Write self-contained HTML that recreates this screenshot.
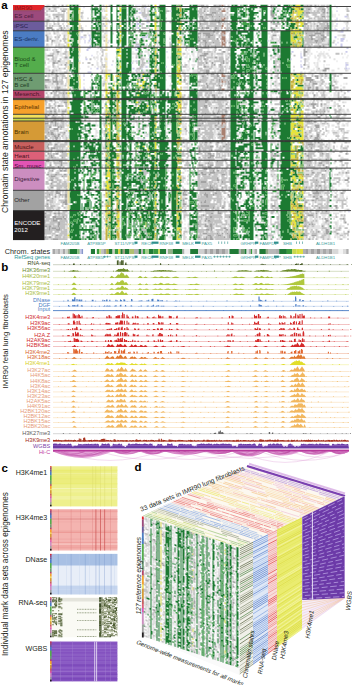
<!DOCTYPE html><html><head><meta charset="utf-8"><style>html,body{margin:0;padding:0;background:#fff;width:352px;height:685px;overflow:hidden}svg{display:block}text{font-family:"Liberation Sans", sans-serif}</style></head><body><svg xmlns="http://www.w3.org/2000/svg" width="352" height="685" viewBox="0 0 352 685"><rect width="352" height="685" fill="#fff"/><defs><filter id="bl" x="-2%" y="-2%" width="104%" height="104%"><feGaussianBlur stdDeviation="0.4"/></filter><g id="hm"><g fill="none"><path stroke="#e4e4e4" stroke-width="1.76" d="M45.5 5.7h2m1 0h2m5 0h1m3 0h1m3 0h1m14 0h2m10 0h1m7 0h1m2 0h1m24 0h2m30 0h1m70 0h1m7 0h2m18 0h1m58 0h1m17 0h1"/><path stroke="#e4e4e4" stroke-width="1.9" d="M44.5 7.4h2m1 0h1m1 0h3m8 0h1m1 0h1m15 0h2m10 0h1m1 0h1m5 0h1m4 0h1m14 0h1m13 0h5m88 0h2m20 0h2m8 0h2m17 0h1m7 0h2m30 0h2m10 0h1m2 0h1M44.5 9.3h4m3 0h1m46 0h1m7 0h1m20 0h1m9 0h1m8 0h2m8 0h2m7 0h2m39 0h2m51 0h2m15 0h4m31 0h1m3 0h2m28 0h1M47.5 11.1h3m6 0h1m12 0h1m1 0h1m10 0h1m9 0h1m3 0h1m6 0h1m23 0h1m12 0h1m5 0h1m4 0h2m52 0h2m12 0h1m5 0h5m8 0h1m4 0h1m3 0h1m9 0h2m1 0h1m18 0h1m8 0h2m19 0h1m1 0h1m3 0h1m3 0h1m6 0h1m1 0h1m2 0h1M45.5 12.9h2m10 0h1m2 0h1m8 0h2m21 0h2m4 0h1m18 0h2m29 0h1m38 0h2m36 0h1m11 0h1m9 0h2m26 0h2m2 0h1m51 0h1M44.5 14.8h2m1 0h3m16 0h1m23 0h1m1 0h1m5 0h1m2 0h1m24 0h2m5 0h2m23 0h1m24 0h1m42 0h3m8 0h1m9 0h1m6 0h1m29 0h1m26 0h1m4 0h1m9 0h1m4 0h2m1 0h1m3 0h1M47.5 16.6h1m11 0h2m5 0h1m5 0h1m9 0h1m9 0h1m8 0h1m3 0h1m12 0h1m14 0h1m50 0h1m13 0h1m4 0h1m3 0h1m17 0h1m3 0h1m17 0h2m21 0h1m5 0h1m2 0h1m29 0h1m9 0h1m11 0h2m1 0h1M44.5 18.4h7m5 0h1m9 0h1m15 0h1m7 0h1m36 0h1m6 0h1m2 0h1m5 0h1m2 0h3m61 0h1m3 0h1m43 0h1m11 0h2m11 0h3m30 0h1m29 0h3M44.5 20.3h1m4 0h1m1 0h3m16 0h1m22 0h2m6 0h2m3 0h1m34 0h1m40 0h1m22 0h1m19 0h1m28 0h1m2 0h1m15 0h5m28 0h1m2 0h5m1 0h2m14 0h1m2 0h2m3 0h1m8 0h1M60.5 100.5h1m25 0h1m15 0h1m24 0h1m4 0h1m18 0h1m33 0h2m23 0h3m2 0h2m9 0h2m12 0h1m32 0h4m2 0h1m30 0h1m6 0h2m6 0h6M44.5 102.4h1m6 0h1m4 0h1m3 0h1m41 0h1m17 0h1m6 0h3m22 0h1m28 0h2m1 0h2m24 0h1m12 0h3m3 0h1m12 0h1m61 0h2m1 0h4m2 0h2m6 0h1m5 0h1m5 0h1m9 0h3M44.5 104.2h1m10 0h1m2 0h4m2 0h1m26 0h1m28 0h1m6 0h1m30 0h1m22 0h1m23 0h2m8 0h2m5 0h2m5 0h1m10 0h8m5 0h2m1 0h1m13 0h2m32 0h2m20 0h1m1 0h1m4 0h4M44.5 106h3m4 0h2m40 0h1m26 0h1m12 0h2m31 0h1m18 0h1m24 0h8m9 0h3m10 0h1m13 0h1m2 0h2m46 0h1m2 0h4m11 0h6m1 0h1m1 0h2M95.5 107.9h2m17 0h2m91 0h1m14 0h3m4 0h1m26 0h1m1 0h2m13 0h2m1 0h1m31 0h1m12 0h2m10 0h1m3 0h2M50.5 109.7h2m8 0h5m3 0h1m17 0h3m15 0h1m14 0h1m31 0h2m5 0h1m25 0h2m2 0h1m21 0h2m4 0h2m9 0h3m24 0h1m1 0h1m2 0h2m43 0h1m4 0h2m4 0h1m5 0h1m6 0h1m4 0h1m7 0h3m2 0h1M44.5 111.5h1m15 0h1m7 0h1m46 0h1m35 0h2m35 0h1m21 0h1m5 0h1m6 0h1m3 0h1m26 0h1m1 0h1m14 0h1m1 0h1m33 0h1m4 0h1m1 0h1m11 0h1m13 0h5m1 0h3M66.5 113.4h1m22 0h2m2 0h1m1 0h1m1 0h1m4 0h2m15 0h1m31 0h2m45 0h2m15 0h1m7 0h2m90 0h3m3 0h1m17 0h1m3 0h3M54.5 211.5h2m1 0h1m25 0h2m18 0h1m9 0h3m3 0h2m66 0h1m13 0h1m1 0h2m9 0h3m10 0h2m10 0h1m17 0h1m1 0h1m7 0h3m7 0h3m43 0h1m3 0h1m12 0h2M46.5 213.4h3m2 0h2m12 0h4m11 0h1m11 0h5m6 0h2m10 0h1m3 0h1m36 0h2m7 0h1m4 0h1m13 0h1m1 0h1m16 0h1m9 0h4m40 0h3m14 0h3m1 0h1m30 0h1m7 0h2m10 0h2M56.5 215.2h2m2 0h1m23 0h2m9 0h1m7 0h2m8 0h1m1 0h1m3 0h1m6 0h1m4 0h3m22 0h1m9 0h1m2 0h2m26 0h1m43 0h1m17 0h1m57 0h1m3 0h5M87.5 217h1m3 0h1m2 0h5m14 0h1m1 0h1m3 0h2m48 0h1m16 0h1m3 0h1m11 0h2m36 0h1m3 0h1m3 0h1m4 0h4m5 0h1m46 0h3m5 0h2m3 0h3m2 0h1m1 0h1m1 0h1m1 0h2m2 0h1m2 0h1m1 0h1m1 0h1M44.5 218.9h1m22 0h2m14 0h3m15 0h1m11 0h1m5 0h1m50 0h1m13 0h1m2 0h2m4 0h3m6 0h2m10 0h2m1 0h1m2 0h1m2 0h2m1 0h2m1 0h1m24 0h1m4 0h2m5 0h1m42 0h3m3 0h3m5 0h1m5 0h1M83.5 220.7h1m4 0h3m10 0h1m11 0h3m3 0h1m6 0h2m3 0h1m34 0h2m16 0h1m12 0h2m2 0h3m2 0h1m20 0h3m25 0h3m4 0h1m4 0h1m10 0h2m29 0h3m5 0h1m4 0h1m14 0h1m2 0h1M45.5 222.5h4m34 0h1m5 0h1m4 0h1m1 0h1m4 0h2m16 0h1m6 0h2m6 0h1m31 0h1m1 0h2m18 0h1m13 0h5m6 0h1m13 0h3m6 0h1m22 0h2m1 0h3m2 0h1m35 0h1m5 0h1m2 0h6m4 0h2m3 0h1m1 0h1m1 0h1m1 0h2m1 0h2M54.5 224.4h3m36 0h2m3 0h1m2 0h1m1 0h1m15 0h1m6 0h1m4 0h1m2 0h1m35 0h1m13 0h1m2 0h1m18 0h2m6 0h1m3 0h3m6 0h1m89 0h1m4 0h1m1 0h3m9 0h2m2 0h1M51.5 226.2h1m49 0h1m1 0h1m11 0h1m10 0h1m29 0h1m13 0h1m16 0h4m1 0h1m8 0h3m9 0h2m6 0h3m3 0h2m26 0h5m7 0h2m5 0h2m3 0h1m29 0h2m3 0h6m7 0h1m5 0h1m1 0h3m2 0h4M44.5 228.1h2m37 0h1m10 0h3m4 0h2m12 0h1m3 0h1m36 0h3m23 0h1m2 0h1m16 0h1m23 0h2m29 0h1m9 0h2m39 0h13m5 0h2m1 0h1m4 0h4M92.5 229.9h2m2 0h2m5 0h1m8 0h3m4 0h1m6 0h1m4 0h1m20 0h1m13 0h1m17 0h2m1 0h1m25 0h2m21 0h1m2 0h1m14 0h1m1 0h1m17 0h3m31 0h3m3 0h1m2 0h1m4 0h3m4 0h1m3 0h1m6 0h1m7 0h1M68.5 231.7h1m25 0h1m6 0h2m10 0h1m5 0h1m67 0h2m1 0h4m14 0h2m3 0h2m4 0h2m6 0h1m1 0h1m8 0h1m17 0h2m9 0h1m6 0h2m2 0h1m43 0h1m1 0h1m4 0h1m2 0h1m3 0h1M51.5 233.6h1m6 0h1m8 0h1m29 0h2m2 0h3m9 0h3m10 0h2m5 0h1m32 0h1m3 0h1m13 0h1m1 0h1m3 0h1m4 0h1m1 0h2m2 0h1m18 0h1m23 0h2m13 0h2m8 0h1m3 0h2m3 0h1m30 0h2m6 0h6m10 0h1m6 0h3M62.5 235.4h1m19 0h2m1 0h1m10 0h2m3 0h3m15 0h1m38 0h1m10 0h2m13 0h1m17 0h4m19 0h1m31 0h3m17 0h1m1 0h1m27 0h1m2 0h1m6 0h1m8 0h2m1 0h1m4 0h4M51.5 237.2h2m12 0h1m14 0h1m2 0h3m10 0h2m3 0h4m14 0h1m6 0h1m41 0h3m13 0h1m16 0h1m11 0h1m24 0h1m15 0h4m4 0h1m4 0h2m5 0h1m3 0h2m31 0h1m5 0h1m6 0h4m1 0h1m6 0h4m2 0h1m1 0h2M48.5 239.1h2m31 0h1m1 0h1m2 0h1m9 0h1m4 0h1m1 0h2m8 0h1m1 0h1m4 0h1m7 0h2m3 0h1m19 0h1m30 0h2m1 0h1m2 0h1m1 0h1m20 0h2m29 0h2m11 0h3m2 0h1m4 0h1m10 0h2m23 0h2m5 0h2m5 0h1m6 0h3m2 0h2m6 0h1"/><path stroke="#e4e4e4" stroke-width="1.98" d="M44.5 22.2h2m1 0h2m9 0h1m4 0h1m28 0h1m13 0h1m1 0h1m48 0h2m41 0h3m22 0h1m21 0h2m4 0h2m19 0h3m35 0h1m1 0h1m1 0h1m3 0h1m10 0h2m1 0h1m8 0h3M44.5 24.1h1m3 0h3m4 0h2m21 0h1m12 0h2m8 0h1m17 0h1m11 0h3m91 0h1m31 0h1m12 0h2m12 0h1m22 0h1m1 0h1m1 0h2m2 0h3m13 0h2m12 0h3M44.5 26h1m2 0h1m5 0h5m9 0h2m2 0h1m13 0h1m6 0h1m8 0h1m3 0h2m50 0h1m44 0h1m2 0h1m19 0h1m10 0h1m5 0h1m10 0h1m16 0h1m8 0h1m2 0h4m2 0h1m17 0h1m4 0h2m1 0h2m3 0h1m11 0h2m1 0h3M58.5 27.9h1m7 0h3m13 0h1m7 0h1m7 0h1m2 0h2m17 0h1m6 0h1m3 0h1m1 0h4m9 0h3m7 0h3m41 0h1m10 0h3m5 0h1m5 0h1m21 0h2m23 0h7m30 0h1m1 0h1m2 0h1m16 0h1m2 0h1m10 0h4M44.5 29.8h2m3 0h1m16 0h1m12 0h1m12 0h3m3 0h1m2 0h1m2 0h1m1 0h1m26 0h1m22 0h3m46 0h3m21 0h1m27 0h1m21 0h1m4 0h1m26 0h2m15 0h1m2 0h2m10 0h1m1 0h1M47.5 142.6h1m7 0h1m2 0h2m7 0h2m19 0h1m15 0h1m7 0h1m6 0h1m11 0h2m36 0h2m13 0h2m3 0h1m10 0h1m2 0h1m3 0h2m4 0h1m22 0h1m2 0h1m2 0h2m2 0h3m8 0h2m1 0h1m10 0h4m2 0h2m24 0h2m8 0h1m6 0h1m8 0h1m2 0h1M53.5 144.5h1m13 0h2m20 0h2m2 0h1m7 0h2m16 0h2m63 0h2m3 0h1m19 0h2m10 0h1m1 0h1m18 0h1m10 0h2m5 0h1m13 0h3m1 0h2m35 0h4m5 0h1m4 0h2M84.5 146.4h1m8 0h1m63 0h1m23 0h2m2 0h1m2 0h4m2 0h1m8 0h1m17 0h1m33 0h1m2 0h3m17 0h2m23 0h1m11 0h2m5 0h1m6 0h2m1 0h1m3 0h1m7 0h3M63.5 148.3h3m1 0h1m15 0h1m3 0h1m27 0h1m3 0h1m45 0h1m4 0h1m14 0h1m3 0h1m25 0h3m6 0h1m21 0h2m5 0h1m24 0h2m23 0h2m3 0h2m14 0h3m2 0h2m1 0h1M53.5 150.2h3m7 0h2m19 0h5m14 0h2m9 0h1m13 0h1m5 0h1m32 0h2m15 0h1m16 0h1m4 0h2m14 0h1m21 0h2m1 0h1m5 0h2m19 0h2m46 0h3m3 0h2m6 0h2m2 0h6"/><path stroke="#e4e4e4" stroke-width="1.88" d="M45.5 31.7h2m1 0h1m6 0h2m6 0h4m1 0h1m1 0h1m8 0h1m10 0h1m5 0h1m8 0h2m11 0h1m16 0h1m6 0h1m3 0h3m32 0h3m41 0h3m44 0h1m2 0h1m2 0h2m23 0h1m11 0h1m8 0h2m11 0h2M45.5 33.5h4m6 0h4m2 0h6m12 0h1m7 0h1m2 0h1m14 0h2m27 0h1m14 0h1m6 0h2m23 0h1m1 0h1m41 0h1m32 0h3m6 0h3m2 0h4m36 0h1m11 0h2M47.5 35.4h2m1 0h1m5 0h1m8 0h2m3 0h1m7 0h2m10 0h1m5 0h1m5 0h3m26 0h1m2 0h1m14 0h1m6 0h1m24 0h3m31 0h3m10 0h1m10 0h1m15 0h1m4 0h1m9 0h2m5 0h3m35 0h2m2 0h1m17 0h5M48.5 37.2h4m4 0h1m9 0h1m12 0h1m5 0h1m15 0h2m3 0h1m28 0h1m13 0h2m5 0h2m11 0h1m11 0h2m20 0h2m34 0h3m1 0h1m9 0h1m4 0h1m10 0h1m2 0h2m1 0h1m33 0h1m32 0h3M48.5 39h1m6 0h2m9 0h1m2 0h4m6 0h2m2 0h1m18 0h1m28 0h1m6 0h1m3 0h2m38 0h2m41 0h1m2 0h1m26 0h1m17 0h5m37 0h2m7 0h4m9 0h1M44.5 40.8h2m2 0h1m6 0h3m7 0h1m13 0h1m51 0h1m2 0h1m21 0h3m24 0h1m16 0h1m24 0h4m14 0h1m13 0h1m11 0h1m1 0h3m1 0h3m1 0h1m32 0h1m12 0h3m6 0h1m11 0h1M53.5 42.6h7m6 0h3m10 0h1m7 0h2m1 0h1m5 0h1m9 0h1m35 0h2m5 0h1m6 0h2m23 0h2m53 0h2m38 0h2m26 0h2m15 0h6m4 0h1M47.5 44.5h2m1 0h1m4 0h2m2 0h5m14 0h1m11 0h1m11 0h1m28 0h3m22 0h2m23 0h3m19 0h1m7 0h3m11 0h1m2 0h2m39 0h1m2 0h5m32 0h1m4 0h3m2 0h2M45.5 46.3h4m1 0h1m5 0h2m1 0h4m2 0h2m3 0h1m24 0h4m43 0h5m2 0h1m1 0h2m4 0h1m25 0h3m12 0h1m26 0h1m12 0h1m21 0h1m18 0h1m31 0h2m11 0h2M67.5 152.1h2m13 0h1m18 0h1m17 0h2m9 0h1m26 0h1m25 0h1m34 0h1m39 0h1m1 0h1m13 0h1m29 0h4m7 0h1m6 0h4m2 0h4M82.5 153.9h1m8 0h1m2 0h1m24 0h1m12 0h1m1 0h1m32 0h1m1 0h1m14 0h1m4 0h1m1 0h1m14 0h1m15 0h1m2 0h2m13 0h1m12 0h6m18 0h3m23 0h1m20 0h1m5 0h1M84.5 155.8h3m25 0h1m6 0h2m11 0h1m24 0h1m12 0h1m18 0h1m3 0h1m6 0h2m1 0h1m25 0h1m9 0h1m1 0h1m15 0h2m44 0h2m6 0h2m2 0h1m8 0h1m4 0h1M44.5 157.6h3m9 0h1m10 0h2m15 0h4m6 0h1m6 0h2m16 0h2m11 0h1m16 0h2m18 0h1m36 0h1m15 0h2m33 0h1m14 0h3m4 0h1m23 0h1m13 0h3m1 0h2m1 0h2m3 0h2m9 0h3M50.5 159.4h1m16 0h1m14 0h1m5 0h1m24 0h1m1 0h1m3 0h2m37 0h1m8 0h1m1 0h1m15 0h3m1 0h1m12 0h1m39 0h2m9 0h1m4 0h3m18 0h1m23 0h4m2 0h1m7 0h1m3 0h4m4 0h1m1 0h1m5 0h1m1 0h1"/><path stroke="#e4e4e4" stroke-width="1.92" d="M47.5 48.1h3m4 0h1m3 0h4m2 0h5m28 0h2m7 0h1m25 0h1m15 0h1m33 0h1m5 0h1m1 0h4m4 0h1m10 0h5m7 0h3m1 0h2m26 0h1m22 0h1m20 0h1m5 0h1m2 0h5m6 0h3m3 0h1m1 0h1M47.5 50h3m3 0h2m2 0h1m2 0h1m84 0h1m42 0h1m2 0h3m13 0h2m3 0h2m11 0h2m26 0h1m14 0h1m7 0h1m29 0h1m1 0h2m18 0h1M44.5 51.9h1m9 0h1m4 0h2m6 0h1m10 0h1m17 0h2m17 0h1m16 0h1m11 0h5m7 0h3m27 0h1m5 0h2m1 0h1m9 0h1m4 0h1m1 0h2m12 0h2m25 0h1m2 0h3m9 0h2m6 0h1m23 0h1m6 0h3m6 0h1m3 0h1m2 0h1M44.5 53.7h2m3 0h1m1 0h1m2 0h3m2 0h3m4 0h2m28 0h1m2 0h1m6 0h1m24 0h5m11 0h2m37 0h3m2 0h3m4 0h3m7 0h3m1 0h4m8 0h3m26 0h1m2 0h1m19 0h1m29 0h3m1 0h2m6 0h6m1 0h3m16 0h1M44.5 55.6h2m8 0h4m1 0h3m4 0h2m10 0h2m17 0h1m7 0h2m28 0h1m7 0h1m14 0h1m23 0h1m3 0h1m2 0h1m2 0h2m12 0h5m2 0h2m2 0h4m1 0h1m3 0h2m8 0h1m5 0h1m10 0h2m13 0h1m7 0h3m26 0h2m2 0h1m4 0h1m3 0h3m1 0h3m2 0h2m18 0h1M44.5 57.5h3m7 0h1m1 0h1m4 0h3m3 0h2m26 0h3m6 0h1m1 0h1m8 0h1m10 0h1m5 0h1m9 0h1m1 0h1m13 0h1m8 0h1m2 0h1m13 0h3m2 0h1m3 0h1m1 0h1m3 0h1m1 0h2m10 0h1m12 0h1m12 0h1m13 0h1m16 0h2m2 0h1m32 0h2m5 0h2m2 0h2m3 0h3m16 0h1m3 0h1M45.5 59.3h2m3 0h1m3 0h1m8 0h6m25 0h1m2 0h1m21 0h2m24 0h1m1 0h1m10 0h1m22 0h1m10 0h4m5 0h1m8 0h5m26 0h2m13 0h2m18 0h1m26 0h1m2 0h3m8 0h2m14 0h2M48.5 61.2h4m8 0h5m1 0h1m3 0h1m7 0h2m16 0h1m4 0h1m2 0h3m25 0h2m9 0h1m3 0h2m38 0h1m4 0h3m3 0h2m7 0h2m1 0h1m15 0h2m14 0h1m10 0h1m14 0h1m9 0h1m26 0h3m9 0h1m1 0h1m16 0h1M47.5 63h2m10 0h6m5 0h1m1 0h1m23 0h2m8 0h1m8 0h1m16 0h1m12 0h3m36 0h1m3 0h1m21 0h1m42 0h2m4 0h1m16 0h4m28 0h1m4 0h2m1 0h2m28 0h2M44.5 64.9h2m11 0h3m3 0h1m2 0h3m27 0h2m5 0h1m2 0h1m37 0h1m43 0h1m2 0h4m10 0h4m1 0h1m1 0h1m9 0h1m2 0h3m13 0h4m11 0h1m16 0h2m3 0h1m26 0h4m5 0h1m1 0h2m5 0h1m2 0h1m1 0h1M47.5 66.8h3m4 0h2m10 0h1m20 0h2m5 0h1m2 0h2m16 0h1m28 0h1m2 0h1m8 0h1m1 0h1m27 0h3m3 0h2m18 0h4m9 0h3m14 0h1m10 0h1m61 0h3m5 0h1M44.5 68.6h1m1 0h3m4 0h4m3 0h3m16 0h1m22 0h1m3 0h1m13 0h1m36 0h2m27 0h1m1 0h2m15 0h1m1 0h1m4 0h8m6 0h2m26 0h1m1 0h1m14 0h1m4 0h4m25 0h4m4 0h1m2 0h2m5 0h1m13 0h2M44.5 70.5h4m3 0h1m2 0h1m2 0h4m6 0h2m38 0h4m33 0h2m1 0h1m19 0h1m14 0h3m1 0h3m3 0h5m19 0h1m6 0h2m31 0h5m18 0h1m30 0h4m2 0h6m6 0h1m2 0h3m12 0h2M44.5 72.4h3m1 0h1m5 0h1m1 0h1m2 0h5m3 0h1m4 0h1m42 0h1m16 0h1m4 0h3m4 0h2m12 0h1m25 0h1m7 0h5m4 0h2m6 0h2m31 0h1m10 0h2m1 0h2m1 0h1m16 0h3m22 0h1m2 0h1m3 0h3m3 0h2m3 0h1m4 0h1"/><path stroke="#e4e4e4" stroke-width="1.95" d="M57.5 74.2h2m9 0h1m1 0h2m7 0h1m23 0h2m22 0h1m23 0h3m12 0h1m15 0h1m26 0h1m4 0h2m10 0h3m9 0h2m7 0h1m5 0h2m20 0h2m30 0h4m2 0h1m4 0h1m8 0h2m8 0h2M47.5 76.1h1m1 0h5m4 0h3m7 0h1m51 0h1m32 0h1m14 0h2m12 0h1m16 0h2m5 0h3m45 0h1m15 0h2m46 0h2m8 0h1M47.5 78h2m9 0h2m8 0h2m21 0h1m11 0h1m4 0h2m41 0h2m17 0h1m16 0h2m10 0h3m7 0h1m1 0h1m5 0h1m21 0h2m19 0h1m12 0h4m26 0h2m14 0h1m6 0h1M50.5 79.9h2m1 0h2m3 0h1m1 0h1m42 0h2m4 0h1m10 0h1m44 0h1m21 0h1m10 0h1m8 0h3m4 0h2m12 0h1m9 0h1m31 0h2m3 0h2m2 0h1m23 0h1m28 0h1m2 0h1M90.5 81.8h1m2 0h1m8 0h2m9 0h3m4 0h1m10 0h2m48 0h2m4 0h2m17 0h3m3 0h3m38 0h3m2 0h1m11 0h1m2 0h1m2 0h1m26 0h5m8 0h1m1 0h1m1 0h1m15 0h2M44.5 83.7h2m1 0h4m2 0h1m24 0h1m4 0h1m36 0h1m28 0h1m20 0h1m28 0h1m7 0h1m18 0h1m12 0h1m13 0h2m5 0h1m9 0h2m1 0h5m25 0h1m2 0h2m10 0h2m4 0h3m9 0h1m6 0h1m1 0h2M47.5 85.6h8m2 0h7m4 0h1m100 0h2m16 0h1m11 0h1m9 0h3m2 0h2m10 0h1m1 0h1m19 0h1m4 0h3m17 0h1m2 0h4m23 0h1m14 0h1m21 0h1M47.5 87.5h1m4 0h2m6 0h3m1 0h1m5 0h1m18 0h1m37 0h1m3 0h1m19 0h1m1 0h1m28 0h2m1 0h1m1 0h1m9 0h1m28 0h1m18 0h1m24 0h1m4 0h2m26 0h1m1 0h1m12 0h5m19 0h1m1 0h1M44.5 89.4h2m1 0h3m20 0h3m14 0h1m32 0h1m9 0h1m20 0h1m1 0h1m33 0h1m28 0h1m22 0h1m13 0h1m5 0h2m9 0h1m4 0h1m27 0h1m1 0h2m11 0h2"/><path stroke="#e4e4e4" stroke-width="2.09" d="M44.5 91.3h5m11 0h2m3 0h2m35 0h2m8 0h2m12 0h2m23 0h3m2 0h3m25 0h1m12 0h1m18 0h2m4 0h3m15 0h1m1 0h1m11 0h4m46 0h1m1 0h2m2 0h4m14 0h1m7 0h2m5 0h1M49.5 93.3h1m39 0h2m2 0h1m33 0h1m6 0h1m16 0h2m3 0h3m45 0h1m3 0h1m7 0h1m5 0h1m1 0h1m15 0h1m15 0h1m13 0h4m3 0h1m26 0h2m2 0h3m10 0h1m2 0h1m1 0h1m1 0h1m4 0h3m7 0h1M44.5 95.4h1m4 0h1m9 0h3m18 0h1m7 0h2m3 0h1m7 0h1m18 0h1m12 0h2m35 0h1m44 0h1m2 0h3m1 0h1m13 0h1m16 0h4m58 0h1m1 0h1m7 0h2m3 0h1m2 0h4m4 0h3M44.5 97.4h1m4 0h2m4 0h2m3 0h2m3 0h1m1 0h1m17 0h5m11 0h1m11 0h1m17 0h1m19 0h2m48 0h1m13 0h2m2 0h2m2 0h1m5 0h1m10 0h1m13 0h7m9 0h2m32 0h1m1 0h3m6 0h1m2 0h5m5 0h1m4 0h1m1 0h1m3 0h1m6 0h3"/><path stroke="#e4e4e4" stroke-width="1.26" d="M44.5 99h2m14 0h1m25 0h1m6 0h1m8 0h2m9 0h3m4 0h1m31 0h2m2 0h1m25 0h1m3 0h2m9 0h1m7 0h2m8 0h2m8 0h1m1 0h1m11 0h5m10 0h3m2 0h1m44 0h1m5 0h1m10 0h1m2 0h3m1 0h1m3 0h2m6 0h1"/><path stroke="#e4e4e4" stroke-width="2.01" d="M49.5 115.3h2m3 0h2m8 0h2m1 0h2m16 0h2m4 0h5m8 0h1m27 0h3m4 0h2m43 0h1m31 0h4m16 0h1m2 0h2m15 0h2m10 0h5m2 0h1m1 0h1m1 0h1m31 0h2m6 0h1m2 0h2M56.5 117.2h2m1 0h3m1 0h3m1 0h2m19 0h2m40 0h1m5 0h1m6 0h3m2 0h1m8 0h1m10 0h1m19 0h4m10 0h1m7 0h1m1 0h1m13 0h1m17 0h3m56 0h2m2 0h9m7 0h1m3 0h2m3 0h3m6 0h4M49.5 161.3h1m7 0h1m6 0h2m14 0h3m1 0h1m6 0h2m26 0h1m32 0h1m14 0h2m15 0h2m3 0h2m12 0h5m2 0h1m2 0h2m14 0h1m12 0h2m2 0h3m4 0h1m4 0h3m9 0h1m3 0h1m3 0h2m38 0h3m17 0h1M46.5 163.2h3m18 0h2m11 0h1m3 0h4m5 0h1m10 0h1m14 0h2m11 0h1m33 0h1m33 0h4m18 0h1m30 0h1m20 0h2m2 0h2m31 0h3m2 0h2m4 0h1m1 0h1m4 0h1m3 0h2M46.5 165.2h1m7 0h1m1 0h3m3 0h7m14 0h3m4 0h1m10 0h1m25 0h1m4 0h1m36 0h2m32 0h1m21 0h1m16 0h2m2 0h1m7 0h2m2 0h3m13 0h1m28 0h3m4 0h1m4 0h2m4 0h1m2 0h1m4 0h1m9 0h1M46.5 167.1h1m20 0h2m11 0h1m1 0h1m7 0h1m6 0h1m35 0h1m31 0h1m1 0h1m21 0h1m7 0h2m26 0h1m10 0h3m3 0h2m2 0h2m5 0h1m1 0h1m1 0h4m11 0h1m42 0h4m4 0h2m10 0h2m4 0h1"/><path stroke="#e4e4e4" stroke-width="1.46" d="M56.5 118.9h1m6 0h1m4 0h1m16 0h1m2 0h1m6 0h1m5 0h3m78 0h3m3 0h1m8 0h2m8 0h4m5 0h1m19 0h1m9 0h3m9 0h3m12 0h5m33 0h3m1 0h2m2 0h1m6 0h3m12 0h1m1 0h1M63.5 120.3h1m17 0h2m2 0h2m1 0h2m5 0h2m4 0h1m26 0h2m3 0h2m2 0h2m2 0h4m36 0h2m5 0h1m21 0h4m6 0h1m15 0h1m22 0h1m10 0h2m5 0h2m25 0h3m2 0h1m2 0h1m5 0h2m7 0h2m12 0h1"/><path stroke="#e4e4e4" stroke-width="1.84" d="M48.5 121.9h1m4 0h1m2 0h3m5 0h2m1 0h2m13 0h1m1 0h1m3 0h2m5 0h1m35 0h4m2 0h1m2 0h1m25 0h1m14 0h1m1 0h1m22 0h1m29 0h1m11 0h1m24 0h1m4 0h1m37 0h1m19 0h1m10 0h2M51.5 123.7h1m12 0h1m2 0h2m24 0h1m1 0h1m5 0h2m30 0h1m2 0h2m2 0h3m1 0h1m21 0h1m1 0h3m10 0h3m9 0h2m11 0h1m9 0h1m2 0h2m15 0h3m1 0h1m5 0h2m5 0h1m4 0h1m11 0h1m7 0h1m24 0h3m7 0h3m3 0h2m4 0h1m2 0h1m7 0h1m5 0h1m2 0h3M64.5 125.5h2m29 0h3m34 0h2m2 0h2m20 0h1m6 0h3m1 0h1m11 0h5m26 0h2m4 0h1m23 0h1m4 0h2m11 0h1m9 0h1m5 0h2m25 0h2m6 0h3m5 0h1m1 0h3m3 0h1m3 0h3m3 0h2m2 0h2m1 0h1m1 0h2M67.5 127.2h1m20 0h1m25 0h1m4 0h2m5 0h1m10 0h1m2 0h1m2 0h1m1 0h2m11 0h1m7 0h1m14 0h2m10 0h8m5 0h3m3 0h2m2 0h2m9 0h2m7 0h1m9 0h2m10 0h2m10 0h1m1 0h4m1 0h1m25 0h1m2 0h1m2 0h1m1 0h3m5 0h1m7 0h2m7 0h2M49.5 129h3m9 0h6m14 0h1m3 0h4m2 0h1m1 0h3m17 0h2m21 0h2m6 0h1m24 0h1m12 0h2m16 0h1m13 0h2m20 0h1m33 0h1m2 0h3m31 0h1m4 0h1m2 0h1m16 0h1M55.5 130.8h1m7 0h2m18 0h2m1 0h1m8 0h2m23 0h1m11 0h2m2 0h2m30 0h1m12 0h4m8 0h2m12 0h2m4 0h1m2 0h3m8 0h1m10 0h1m8 0h2m5 0h2m4 0h1m11 0h1m2 0h2m35 0h2m13 0h2m2 0h4m1 0h3m3 0h1m3 0h3M53.5 132.6h3m9 0h1m1 0h2m21 0h1m4 0h3m4 0h2m29 0h1m3 0h1m2 0h1m7 0h1m16 0h3m13 0h1m1 0h1m29 0h1m2 0h1m19 0h1m23 0h1m42 0h1m3 0h1m19 0h2m8 0h2m2 0h2M45.5 134.4h1m15 0h1m2 0h2m1 0h1m12 0h1m7 0h1m6 0h1m44 0h1m3 0h1m2 0h2m16 0h1m15 0h3m14 0h1m14 0h4m8 0h3m8 0h5m29 0h1m2 0h1m1 0h5m23 0h1m4 0h2m1 0h2m6 0h1m6 0h1M47.5 136.1h1m1 0h2m8 0h1m3 0h2m2 0h2m19 0h2m3 0h4m6 0h1m28 0h1m11 0h2m2 0h1m58 0h1m5 0h2m1 0h2m22 0h1m17 0h3m7 0h2m3 0h1m34 0h1m3 0h4m3 0h2m22 0h1M49.5 137.9h1m3 0h1m9 0h2m2 0h2m12 0h1m11 0h2m19 0h1m18 0h2m1 0h2m2 0h1m3 0h1m7 0h1m13 0h1m2 0h1m11 0h3m4 0h1m9 0h2m6 0h1m31 0h1m8 0h1m23 0h1m5 0h1m33 0h3m27 0h1m5 0h1M49.5 139.7h2m2 0h2m2 0h2m4 0h2m38 0h2m32 0h2m1 0h2m2 0h1m3 0h1m17 0h4m11 0h1m6 0h1m9 0h1m8 0h1m5 0h2m4 0h1m27 0h1m7 0h2m13 0h4m31 0h1m5 0h2m6 0h1m2 0h2m4 0h1m7 0h1m4 0h1m5 0h1"/><path stroke="#e4e4e4" stroke-width="1.06" d="M63.5 141.1h2m2 0h1m15 0h2m7 0h1m2 0h4m20 0h1m17 0h1m6 0h1m3 0h1m8 0h1m7 0h2m14 0h2m15 0h1m4 0h1m32 0h1m1 0h1m7 0h1m12 0h1m13 0h1m39 0h1m1 0h2m10 0h1m11 0h3"/><path stroke="#e4e4e4" stroke-width="1.91" d="M47.5 169h1m6 0h1m3 0h1m29 0h2m6 0h2m4 0h1m1 0h1m9 0h2m3 0h1m12 0h1m33 0h2m16 0h2m31 0h4m2 0h1m17 0h1m2 0h1m1 0h1m8 0h1m2 0h1m2 0h1m8 0h2m1 0h1m1 0h1m30 0h1m3 0h2m6 0h2m21 0h1m1 0h1M56.5 170.9h1m1 0h1m22 0h2m8 0h2m3 0h2m16 0h2m3 0h2m13 0h1m31 0h3m15 0h2m4 0h4m21 0h1m10 0h2m13 0h4m1 0h1m1 0h1m6 0h5m43 0h2m8 0h7m6 0h2m13 0h3m4 0h1M49.5 172.7h3m36 0h2m2 0h1m3 0h3m16 0h1m41 0h1m25 0h1m9 0h1m5 0h1m24 0h1m13 0h2m30 0h4m30 0h7m14 0h4m2 0h1m8 0h2m1 0h2M67.5 174.6h2m12 0h2m5 0h2m12 0h1m10 0h3m18 0h1m55 0h2m1 0h2m11 0h2m4 0h1m4 0h2m22 0h8m11 0h1m11 0h1m2 0h2m2 0h1m24 0h1m14 0h1m5 0h2m8 0h1m2 0h5m2 0h2M56.5 176.4h5m28 0h1m2 0h1m3 0h2m83 0h1m2 0h1m25 0h1m6 0h3m16 0h1m20 0h1m2 0h1m9 0h1m2 0h3m3 0h1m38 0h1m6 0h2m14 0h1m3 0h4M47.5 178.3h2m5 0h1m3 0h1m23 0h1m8 0h1m9 0h1m17 0h1m61 0h1m6 0h1m1 0h1m27 0h1m17 0h4m16 0h1m8 0h1m6 0h5m37 0h2m1 0h2m24 0h1M47.5 180.1h1m6 0h2m5 0h1m19 0h1m3 0h1m28 0h2m3 0h1m45 0h4m12 0h1m2 0h1m5 0h2m1 0h4m22 0h1m6 0h1m13 0h2m2 0h3m8 0h2m16 0h1m30 0h4m10 0h3m7 0h1m2 0h2m2 0h1m5 0h3M61.5 182h2m3 0h3m12 0h2m9 0h5m5 0h1m16 0h1m37 0h1m28 0h1m3 0h1m2 0h2m18 0h1m1 0h2m19 0h4m13 0h3m13 0h1m3 0h1m1 0h3m32 0h2m13 0h4m14 0h1M44.5 183.8h1m9 0h1m33 0h1m3 0h1m21 0h1m4 0h2m6 0h1m38 0h1m17 0h1m1 0h1m3 0h1m17 0h1m8 0h3m5 0h1m12 0h2m15 0h3m11 0h1m3 0h3m3 0h1m24 0h1m1 0h1m11 0h3m4 0h1m12 0h3m4 0h3M94.5 185.7h4m21 0h2m13 0h1m46 0h1m18 0h1m16 0h2m17 0h1m7 0h4m7 0h2m18 0h1m2 0h2m24 0h2m1 0h2m12 0h2m2 0h3m10 0h1m7 0h1M48.5 187.5h2m16 0h1m14 0h2m13 0h2m5 0h1m15 0h1m48 0h1m37 0h1m10 0h1m18 0h1m19 0h1m15 0h1m2 0h3m1 0h1m27 0h1m8 0h1m2 0h1m6 0h2m3 0h3M50.5 189.4h3m7 0h5m16 0h1m11 0h2m1 0h2m21 0h1m46 0h1m69 0h2m3 0h1m13 0h4m11 0h3m1 0h2m3 0h1m26 0h2m17 0h2m3 0h1m10 0h5M45.5 191.2h1m2 0h2m3 0h2m29 0h3m2 0h2m3 0h1m17 0h1m14 0h1m5 0h1m31 0h6m25 0h2m38 0h1m3 0h2m1 0h2m9 0h4m18 0h3m24 0h1m19 0h1m8 0h3m4 0h1M53.5 193.1h2m25 0h2m32 0h2m17 0h2m14 0h1m76 0h2m8 0h1m17 0h1m12 0h1m1 0h1m4 0h2m28 0h4m23 0h1m2 0h1m4 0h1M44.5 194.9h2m11 0h1m44 0h1m9 0h1m19 0h2m16 0h1m37 0h1m7 0h1m1 0h1m22 0h1m34 0h2m14 0h1m2 0h4m32 0h2m6 0h3m1 0h2m7 0h1m4 0h1m1 0h3M53.5 196.8h1m2 0h2m43 0h1m1 0h2m7 0h1m38 0h1m4 0h3m6 0h3m13 0h4m11 0h2m17 0h1m3 0h1m1 0h3m2 0h2m13 0h1m5 0h1m8 0h1m2 0h1m2 0h2m15 0h1m23 0h7m29 0h3m4 0h1M44.5 198.6h1m5 0h1m2 0h3m1 0h2m33 0h2m4 0h1m15 0h1m11 0h1m38 0h1m17 0h1m12 0h1m29 0h1m27 0h7m11 0h1m1 0h1m37 0h1m1 0h1m4 0h1m3 0h3m7 0h1m1 0h3m1 0h4M53.5 200.4h3m29 0h1m18 0h1m23 0h1m27 0h1m8 0h1m15 0h1m33 0h1m5 0h4m1 0h1m9 0h2m4 0h3m10 0h1m3 0h2m6 0h2m40 0h1m6 0h1m15 0h4M45.5 202.3h1m1 0h2m4 0h1m3 0h3m25 0h1m8 0h1m2 0h2m13 0h1m13 0h1m29 0h3m6 0h1m3 0h2m17 0h1m7 0h1m1 0h1m22 0h1m4 0h3m9 0h3m13 0h1m1 0h2m4 0h1m4 0h1m40 0h1m7 0h5m4 0h1m9 0h1m3 0h1m5 0h2M48.5 204.1h2m3 0h3m1 0h1m9 0h2m50 0h2m44 0h1m20 0h1m1 0h1m7 0h1m20 0h2m17 0h1m18 0h5m17 0h2m53 0h1M55.5 206h3m7 0h2m31 0h1m3 0h3m7 0h1m43 0h2m7 0h1m49 0h2m1 0h1m2 0h1m14 0h1m25 0h1m4 0h1m7 0h3m30 0h1m4 0h1m4 0h2m3 0h2m14 0h2M53.5 207.8h4m23 0h1m31 0h1m7 0h1m7 0h1m27 0h1m26 0h2m3 0h1m7 0h1m18 0h1m8 0h1m3 0h2m6 0h1m17 0h3m51 0h1m7 0h1m11 0h3M45.5 209.7h1m5 0h1m13 0h2m18 0h1m26 0h3m50 0h2m21 0h1m9 0h1m21 0h1m5 0h1m10 0h1m2 0h4m1 0h1m8 0h4m9 0h2m6 0h1m27 0h1m1 0h1m2 0h1m4 0h1m9 0h3m1 0h2m1 0h1m3 0h2m8 0h2"/><path stroke="#c2c2c2" stroke-width="1.76" d="M47.5 5.7h1m4 0h3m3 0h1m6 0h2m35 0h2m4 0h2m25 0h1m5 0h5m1 0h2m48 0h3m5 0h3m8 0h2m5 0h2m2 0h2m38 0h1m4 0h3m28 0h3m2 0h1m4 0h1m3 0h2m1 0h5m2 0h2"/><path stroke="#c2c2c2" stroke-width="1.9" d="M48.5 7.4h1m4 0h6m82 0h3m59 0h3m4 0h1m1 0h8m1 0h1m2 0h1m2 0h3m42 0h1m30 0h1m1 0h1m1 0h4m3 0h2m2 0h1m1 0h4m22 0h1M53.5 9.3h3m6 0h5m23 0h1m10 0h1m1 0h1m34 0h2m1 0h1m1 0h2m55 0h2m1 0h3m3 0h5m1 0h1m1 0h1m4 0h1m1 0h1m1 0h2m44 0h1m30 0h1m1 0h2m3 0h1m6 0h4m6 0h2m17 0h2M50.5 11.1h4m47 0h1m2 0h1m30 0h1m5 0h1m1 0h2m2 0h2m16 0h4m28 0h5m7 0h2m1 0h3m1 0h2m2 0h1m55 0h1m27 0h5m1 0h1m2 0h2m1 0h1m1 0h1m1 0h1m1 0h1m4 0h1m18 0h3M44.5 12.9h1m13 0h1m4 0h1m2 0h1m13 0h3m52 0h2m4 0h4m2 0h1m17 0h1m32 0h1m1 0h4m1 0h1m3 0h2m5 0h2m2 0h2m4 0h2m46 0h1m29 0h1m5 0h10m1 0h1m6 0h1M52.5 14.8h1m1 0h10m17 0h1m59 0h8m50 0h3m1 0h2m7 0h2m2 0h7m1 0h2m3 0h1m73 0h3m1 0h1m4 0h3m5 0h5m2 0h1m18 0h2M48.5 16.6h2m3 0h1m4 0h1m3 0h2m16 0h2m20 0h1m1 0h1m33 0h1m3 0h5m1 0h1m48 0h1m6 0h3m1 0h3m2 0h5m2 0h5m1 0h2m49 0h1m25 0h1m1 0h2m1 0h1m5 0h5m1 0h1m6 0h1m19 0h1M53.5 18.4h2m2 0h2m4 0h1m17 0h1m5 0h1m14 0h3m34 0h1m25 0h1m34 0h1m2 0h4m2 0h1m2 0h2m2 0h5m4 0h3m44 0h1m4 0h1m30 0h4m1 0h2m2 0h6m4 0h1M45.5 20.3h1m11 0h1m4 0h2m2 0h1m40 0h1m38 0h3m50 0h3m7 0h1m2 0h2m2 0h2m2 0h1m3 0h1m1 0h1m76 0h3m2 0h1m5 0h1m2 0h12M46.5 100.5h1m1 0h1m4 0h2m4 0h1m1 0h6m70 0h3m41 0h2m14 0h1m2 0h4m4 0h1m4 0h2m3 0h7m45 0h2m32 0h1m11 0h1m3 0h2m16 0h2M46.5 102.4h1m7 0h2m1 0h1m3 0h1m77 0h2m6 0h1m35 0h1m2 0h1m10 0h2m1 0h4m3 0h2m2 0h1m1 0h7m6 0h2m78 0h1m10 0h1m8 0h1m1 0h1m5 0h1m7 0h1M48.5 104.2h2m3 0h2m11 0h1m37 0h1m31 0h3m7 0h2m35 0h1m1 0h2m10 0h8m2 0h3m7 0h5m52 0h6m26 0h1m1 0h2m6 0h2m5 0h3m11 0h1M48.5 106h3m3 0h2m4 0h3m3 0h1m37 0h1m30 0h1m47 0h1m13 0h6m5 0h2m8 0h4m2 0h1m81 0h1m9 0h2m2 0h2m12 0h1m2 0h3M53.5 107.9h2m2 0h1m8 0h1m80 0h1m33 0h5m11 0h3m2 0h2m6 0h2m1 0h2m2 0h5m45 0h1m7 0h1m47 0h2m3 0h1m11 0h1M49.5 109.7h1m3 0h3m91 0h1m49 0h11m5 0h1m1 0h1m3 0h1m1 0h4m49 0h1m31 0h3m7 0h1m2 0h2m1 0h3m1 0h1m8 0h1m2 0h3m6 0h1M46.5 111.5h3m8 0h3m6 0h1m37 0h1m78 0h2m12 0h1m1 0h1m1 0h8m4 0h1m1 0h1m3 0h4m45 0h2m4 0h5m38 0h6m4 0h2m5 0h6M44.5 113.4h3m1 0h4m1 0h2m1 0h1m4 0h3m40 0h1m32 0h1m43 0h1m3 0h1m11 0h1m2 0h4m2 0h5m7 0h2m1 0h2m3 0h1m46 0h1m29 0h3m3 0h1m1 0h1m7 0h2m1 0h2m10 0h2m2 0h1m1 0h1M45.5 211.5h3m1 0h3m10 0h5m37 0h1m43 0h1m32 0h5m11 0h1m1 0h1m2 0h1m3 0h8m5 0h1m1 0h6m43 0h4m30 0h1m1 0h1m2 0h2m4 0h4m2 0h2m1 0h1m3 0h1m10 0h1m4 0h1M49.5 213.4h2m5 0h1m3 0h5m36 0h2m42 0h1m37 0h1m1 0h1m19 0h5m11 0h1m2 0h1m45 0h3m4 0h1m26 0h5m1 0h4m7 0h8m4 0h1m1 0h1m1 0h1M44.5 215.2h4m1 0h2m3 0h2m3 0h1m1 0h6m116 0h6m9 0h1m1 0h2m2 0h2m2 0h1m1 0h11m3 0h5m49 0h1m27 0h1m6 0h1m1 0h2m11 0h1m6 0h1m4 0h1m2 0h2M46.5 217h2m8 0h2m1 0h3m3 0h2m35 0h1m36 0h1m8 0h1m34 0h2m13 0h4m4 0h3m3 0h8m1 0h1m2 0h4m39 0h1m2 0h1m5 0h3m24 0h4m5 0h2m1 0h2m11 0h1m6 0h2m6 0h1M45.5 218.9h4m1 0h2m2 0h1m7 0h1m40 0h2m78 0h1m14 0h1m1 0h2m2 0h1m2 0h7m2 0h1m1 0h2m1 0h1m6 0h1m41 0h1m5 0h3m35 0h1m4 0h1m1 0h2m3 0h2m5 0h1m5 0h3m2 0h1M45.5 220.7h4m1 0h2m7 0h2m1 0h3m1 0h1m37 0h1m31 0h1m63 0h1m9 0h11m3 0h3m43 0h1m6 0h1m28 0h1m5 0h2m2 0h1m11 0h1m14 0h2M49.5 222.5h8m3 0h5m70 0h1m5 0h1m39 0h1m16 0h3m6 0h3m1 0h2m2 0h7m3 0h2m43 0h1m3 0h5m26 0h4m1 0h1m13 0h1m1 0h1m1 0h1m6 0h1m7 0h1M44.5 224.4h10m6 0h3m1 0h3m37 0h1m83 0h1m10 0h5m4 0h1m3 0h1m2 0h2m4 0h6m43 0h5m2 0h3m23 0h2m1 0h1m3 0h1m2 0h2m6 0h1m1 0h1m3 0h2m6 0h1M47.5 226.2h1m4 0h5m2 0h6m1 0h1m71 0h1m8 0h2m48 0h4m7 0h1m3 0h1m2 0h2m1 0h3m3 0h1m52 0h2m27 0h3m2 0h3m9 0h1m4 0h1m10 0h1M46.5 228.1h2m2 0h1m5 0h2m2 0h5m1 0h1m74 0h1m42 0h1m3 0h1m12 0h1m4 0h4m2 0h2m6 0h3m5 0h1m41 0h1m3 0h1m2 0h2m27 0h2m13 0h4m3 0h1m9 0h3m3 0h2M44.5 229.9h4m2 0h5m5 0h2m2 0h3m71 0h1m2 0h5m52 0h7m4 0h1m5 0h2m1 0h2m1 0h2m1 0h1m43 0h1m1 0h1m6 0h2m24 0h4m8 0h2m4 0h1m6 0h1m6 0h5M44.5 231.7h8m2 0h3m1 0h1m1 0h5m1 0h1m36 0h1m34 0h1m44 0h4m11 0h6m1 0h3m3 0h2m3 0h3m2 0h1m1 0h1m1 0h2m50 0h1m26 0h3m6 0h1m1 0h2m2 0h1m3 0h1m7 0h1m1 0h3m7 0h1M45.5 233.6h1m1 0h1m1 0h2m2 0h2m4 0h8m37 0h1m40 0h2m52 0h2m6 0h7m1 0h1m2 0h2m4 0h2m2 0h1m41 0h1m6 0h1m27 0h4m2 0h6m6 0h2m3 0h1m6 0h1m2 0h1m4 0h4M45.5 235.4h1m5 0h2m1 0h1m3 0h1m1 0h2m1 0h4m114 0h1m1 0h1m13 0h5m4 0h1m4 0h3m1 0h2m4 0h2m1 0h1m1 0h2m39 0h6m43 0h1m4 0h5m2 0h1m10 0h4m1 0h1M46.5 237.2h2m6 0h7m1 0h2m74 0h1m2 0h1m3 0h1m1 0h2m34 0h1m1 0h1m14 0h1m6 0h2m3 0h1m2 0h2m1 0h2m1 0h2m3 0h2m42 0h1m32 0h1m1 0h2m2 0h1m2 0h2m2 0h1m1 0h1m2 0h3m4 0h1m5 0h1m8 0h1M45.5 239.1h3m2 0h2m6 0h9m35 0h1m38 0h1m41 0h1m14 0h5m4 0h2m7 0h1m1 0h2m1 0h7m48 0h2m27 0h1m1 0h1m7 0h2m5 0h2m4 0h1m10 0h3"/><path stroke="#c2c2c2" stroke-width="1.98" d="M53.5 22.2h1m3 0h1m8 0h1m81 0h1m16 0h1m3 0h2m27 0h1m4 0h2m1 0h2m1 0h2m1 0h5m3 0h2m1 0h2m1 0h1m2 0h1m48 0h1m24 0h2m3 0h3m2 0h1m3 0h3m2 0h4m1 0h1m18 0h2M53.5 24.1h2m2 0h2m3 0h1m39 0h2m37 0h3m57 0h7m1 0h7m3 0h2m3 0h1m1 0h4m42 0h8m30 0h1m2 0h2m5 0h5M45.5 26h2m4 0h2m5 0h3m2 0h1m16 0h1m21 0h1m38 0h1m5 0h2m51 0h1m2 0h1m2 0h13m1 0h1m5 0h2m1 0h1m73 0h3m2 0h1m4 0h1m4 0h1m1 0h6m20 0h1M59.5 27.9h1m3 0h2m15 0h2m59 0h5m52 0h2m3 0h2m5 0h1m6 0h2m1 0h1m5 0h4m73 0h6m1 0h1m2 0h1m3 0h6M46.5 29.8h3m4 0h1m2 0h3m3 0h2m1 0h1m15 0h2m19 0h1m94 0h1m2 0h4m5 0h2m2 0h1m2 0h3m1 0h1m4 0h1m1 0h2m41 0h1m32 0h3m2 0h3m2 0h3m3 0h3m3 0h1m15 0h1m4 0h2M44.5 142.6h2m2 0h3m6 0h1m6 0h3m114 0h1m4 0h3m10 0h1m1 0h2m8 0h1m3 0h1m4 0h3m1 0h1m2 0h2m41 0h1m34 0h5m1 0h1m3 0h1m3 0h1m8 0h1m15 0h3m1 0h1M44.5 144.5h3m2 0h3m5 0h1m1 0h2m1 0h2m1 0h2m37 0h1m76 0h1m4 0h1m12 0h3m1 0h4m1 0h1m6 0h3m4 0h1m1 0h1m2 0h3m75 0h2m6 0h2m4 0h5m4 0h1m12 0h1M44.5 146.4h2m7 0h1m1 0h10m37 0h1m1 0h1m78 0h2m1 0h1m10 0h6m1 0h3m1 0h1m8 0h1m1 0h2m4 0h4m75 0h2m2 0h3m1 0h3m2 0h5m2 0h3m1 0h1m11 0h2M44.5 148.3h3m8 0h3m3 0h2m3 0h1m35 0h3m81 0h3m8 0h1m3 0h9m1 0h1m6 0h5m2 0h4m76 0h3m5 0h1m5 0h2m1 0h1m4 0h2m11 0h1m1 0h5M44.5 150.2h2m1 0h3m7 0h4m1 0h1m2 0h2m116 0h1m2 0h2m12 0h1m1 0h4m2 0h2m4 0h4m1 0h3m2 0h5m74 0h1m3 0h1m1 0h3m2 0h1m4 0h3m3 0h3m3 0h1m2 0h2m10 0h1"/><path stroke="#c2c2c2" stroke-width="1.88" d="M53.5 31.7h1m3 0h1m44 0h1m35 0h3m28 0h1m29 0h13m5 0h2m58 0h1m26 0h11m2 0h1m1 0h3m4 0h2m11 0h1M49.5 33.5h1m3 0h2m49 0h1m7 0h1m97 0h2m1 0h1m1 0h3m4 0h1m81 0h1m2 0h4m2 0h1m7 0h1m1 0h1m2 0h2M57.5 35.4h1m5 0h2m18 0h3m113 0h2m1 0h3m8 0h2m3 0h3m1 0h3m80 0h3m9 0h2m7 0h3m13 0h3M54.5 37.2h2m1 0h1m5 0h2m38 0h2m31 0h1m7 0h1m54 0h2m1 0h1m3 0h1m3 0h5m3 0h2m85 0h4m6 0h7M49.5 39h2m6 0h1m4 0h4m69 0h2m32 0h1m28 0h1m1 0h8m1 0h6m56 0h2m31 0h4m1 0h1m3 0h2m2 0h3m8 0h1M53.5 40.8h2m4 0h2m2 0h2m38 0h2m30 0h1m7 0h1m62 0h1m4 0h8m3 0h1m47 0h1m7 0h1m24 0h8m2 0h1m4 0h3m2 0h2m8 0h1M64.5 42.6h2m41 0h1m27 0h1m33 0h1m29 0h5m3 0h2m1 0h2m2 0h5m87 0h9m2 0h3m7 0h1m4 0h2M51.5 44.5h1m14 0h1m68 0h5m29 0h2m29 0h1m5 0h2m1 0h2m3 0h6m83 0h5m2 0h1m6 0h2m2 0h1m1 0h4M55.5 46.3h1m2 0h1m4 0h2m70 0h1m33 0h2m29 0h1m2 0h1m2 0h1m3 0h4m2 0h5m82 0h3m1 0h2m1 0h1m2 0h1m1 0h1m1 0h1m10 0h1M44.5 152.1h5m6 0h1m3 0h2m2 0h3m38 0h1m43 0h1m38 0h2m11 0h1m1 0h7m8 0h1m1 0h4m1 0h6m42 0h1m36 0h6m2 0h4m11 0h1m6 0h3m4 0h1M44.5 153.9h1m4 0h1m2 0h3m6 0h6m34 0h2m33 0h2m43 0h3m1 0h3m11 0h3m2 0h2m6 0h2m3 0h3m1 0h1m2 0h1m2 0h2m41 0h3m2 0h2m30 0h1m1 0h1m1 0h3m5 0h2m2 0h1m1 0h1m1 0h2m18 0h1M44.5 155.8h3m1 0h2m2 0h2m5 0h2m1 0h5m114 0h4m2 0h2m16 0h4m9 0h2m1 0h3m1 0h1m1 0h2m41 0h2m6 0h2m25 0h1m3 0h1m3 0h2m4 0h4m2 0h4m9 0h2M47.5 157.6h3m3 0h1m1 0h1m1 0h1m5 0h2m70 0h1m3 0h1m46 0h2m14 0h4m5 0h1m4 0h6m2 0h1m45 0h1m34 0h1m1 0h1m1 0h1m1 0h1m14 0h3M44.5 159.4h2m3 0h1m1 0h10m1 0h2m1 0h2m114 0h2m15 0h4m1 0h5m1 0h4m8 0h2m4 0h1m1 0h1m77 0h1m4 0h5m1 0h3m6 0h2m11 0h8"/><path stroke="#c2c2c2" stroke-width="1.92" d="M44.5 48.1h1m1 0h1m53 0h2m38 0h1m44 0h2m10 0h1m3 0h8m18 0h3m42 0h4m2 0h1M52.5 50h1m2 0h2m8 0h1m34 0h1m46 0h1m37 0h1m11 0h5m12 0h2m2 0h3m6 0h3m44 0h2m31 0h1M53.5 51.9h1m1 0h1m8 0h3m34 0h2m94 0h3m1 0h1m1 0h2m1 0h3m2 0h1m9 0h1m52 0h1M50.5 53.7h1m2 0h1m8 0h4m36 0h1m33 0h1m2 0h3m40 0h3m12 0h1m3 0h2m13 0h7m4 0h3m60 0h1m44 0h4m2 0h1M46.5 55.6h1m18 0h1m35 0h2m33 0h1m2 0h1m57 0h1m23 0h1m3 0h1m45 0h1m2 0h2m17 0h2m22 0h1M53.5 57.5h1m1 0h1m29 0h1m7 0h1m6 0h1m34 0h2m3 0h2m64 0h7m5 0h5m2 0h1m1 0h2m43 0h2m3 0h2m50 0h1M47.5 59.3h2m2 0h3m1 0h1m3 0h2m28 0h2m9 0h2m2 0h1m35 0h4m54 0h2m6 0h2m8 0h1m1 0h4m3 0h3m42 0h1m4 0h1m29 0h1M44.5 61.2h1m7 0h4m44 0h1m11 0h1m23 0h1m2 0h1m1 0h2m45 0h1m11 0h2m2 0h3m4 0h1m1 0h7m1 0h1m3 0h1m2 0h1m45 0h4m45 0h2M55.5 63h3m7 0h1m16 0h1m4 0h3m11 0h1m34 0h1m2 0h1m1 0h4m52 0h7m3 0h1m6 0h1m5 0h2m3 0h3m46 0h2M53.5 64.9h1m6 0h2m29 0h2m8 0h2m37 0h4m37 0h1m2 0h3m10 0h5m2 0h1m13 0h1m2 0h1m53 0h1M52.5 66.8h2m3 0h1m7 0h1m34 0h1m1 0h2m35 0h4m39 0h4m20 0h3m1 0h1m7 0h2m1 0h2m52 0h4m14 0h1m13 0h2M45.5 68.6h1m12 0h2m3 0h1m36 0h1m35 0h5m56 0h3m1 0h1m2 0h1m1 0h1m1 0h2m11 0h1m3 0h1m2 0h2m43 0h3m68 0h1M48.5 70.5h2m3 0h1m1 0h2m9 0h1m34 0h2m1 0h1m31 0h1m1 0h1m9 0h1m32 0h1m15 0h1m1 0h6m9 0h1m3 0h1m2 0h1m3 0h1m44 0h1m3 0h1m18 0h1m51 0h1M53.5 72.4h1m11 0h2m33 0h3m33 0h1m3 0h4m3 0h2m19 0h1m13 0h1m14 0h3m4 0h1m6 0h5m2 0h2m1 0h2m2 0h1m1 0h2m46 0h1"/><path stroke="#c2c2c2" stroke-width="1.95" d="M46.5 74.2h1m3 0h2m2 0h1m4 0h5m77 0h1m3 0h1m37 0h1m14 0h7m3 0h1m11 0h1m2 0h2m4 0h1m40 0h2m31 0h2m6 0h2m6 0h4m3 0h1m4 0h5m3 0h3M46.5 76.1h1m7 0h1m6 0h4m25 0h1m13 0h1m36 0h1m28 0h1m12 0h6m15 0h2m4 0h6m10 0h1m47 0h2m1 0h1m25 0h3m5 0h2m7 0h3m1 0h3m6 0h3M53.5 78h2m6 0h2m1 0h1m1 0h1m70 0h5m3 0h4m54 0h5m5 0h3m2 0h3m1 0h3m1 0h1m88 0h1m4 0h1m3 0h1m3 0h1m2 0h1m1 0h1M49.5 79.9h1m9 0h1m6 0h1m118 0h1m13 0h8m3 0h4m3 0h1m2 0h1m1 0h6m85 0h1m6 0h3m10 0h1M44.5 81.8h4m1 0h2m7 0h5m3 0h1m37 0h1m33 0h2m1 0h1m41 0h1m17 0h1m1 0h3m3 0h3m3 0h3m2 0h1m4 0h2m2 0h1m44 0h2m35 0h1m1 0h3m1 0h1m1 0h1m1 0h2m8 0h1m1 0h3M51.5 83.7h2m2 0h1m2 0h1m2 0h2m2 0h1m36 0h3m30 0h1m49 0h3m10 0h1m4 0h1m4 0h6m1 0h1m1 0h3m1 0h2m1 0h1m53 0h2m25 0h1m2 0h2m1 0h1m8 0h3m8 0h1m3 0h1M46.5 85.6h1m17 0h2m36 0h2m43 0h1m52 0h5m3 0h1m3 0h2m3 0h1m2 0h1m3 0h1m45 0h1m3 0h2m28 0h6m1 0h1m1 0h1m5 0h2m3 0h1M51.5 87.5h1m2 0h2m34 0h1m50 0h1m3 0h2m37 0h1m1 0h1m16 0h3m2 0h6m4 0h1m87 0h1m6 0h1m11 0h4m4 0h5m5 0h1M46.5 89.4h1m7 0h2m3 0h8m23 0h1m13 0h1m36 0h1m5 0h1m19 0h1m33 0h1m1 0h3m2 0h6m1 0h1m8 0h1m1 0h4m42 0h3m1 0h3m30 0h1m1 0h1m1 0h1m6 0h3m5 0h1m2 0h1m1 0h2"/><path stroke="#c2c2c2" stroke-width="2.09" d="M54.5 91.3h1m2 0h3m2 0h3m39 0h1m30 0h2m61 0h14m6 0h2m1 0h1m4 0h1m51 0h1m24 0h1m16 0h1m1 0h3m10 0h1m2 0h1m1 0h2M45.5 93.3h2m6 0h2m3 0h4m2 0h1m82 0h1m49 0h5m4 0h2m2 0h2m1 0h1m1 0h1m1 0h5m7 0h1m86 0h1m3 0h1m1 0h2m13 0h2M47.5 95.4h1m5 0h6m4 0h2m1 0h1m35 0h1m78 0h1m1 0h2m3 0h1m8 0h5m2 0h1m2 0h3m15 0h1m44 0h1m8 0h1m23 0h5m8 0h1m5 0h3m12 0h2M45.5 97.4h4m3 0h3m2 0h1m4 0h3m1 0h1m37 0h1m42 0h1m33 0h3m3 0h2m9 0h1m3 0h1m3 0h3m3 0h1m4 0h2m57 0h1m36 0h1m9 0h2m12 0h2m1 0h1m2 0h3"/><path stroke="#c2c2c2" stroke-width="1.26" d="M46.5 99h1m1 0h1m4 0h1m3 0h3m1 0h1m4 0h1m37 0h1m33 0h5m40 0h3m12 0h7m3 0h1m4 0h2m2 0h1m3 0h1m1 0h1m2 0h1m2 0h1m46 0h1m26 0h1m11 0h1m3 0h1m2 0h2m14 0h1"/><path stroke="#c2c2c2" stroke-width="2.01" d="M46.5 115.3h1m9 0h1m5 0h1m40 0h1m84 0h1m9 0h2m3 0h3m1 0h9m4 0h1m4 0h2m1 0h2m76 0h1m1 0h2m3 0h2m21 0h4m3 0h3M51.5 117.2h5m2 0h1m42 0h1m45 0h1m33 0h5m1 0h1m9 0h4m2 0h7m3 0h3m3 0h2m3 0h2m1 0h2m76 0h2m9 0h1m8 0h2m8 0h4M50.5 161.3h1m1 0h2m50 0h1m76 0h3m2 0h2m11 0h1m8 0h2m1 0h1m3 0h1m2 0h4m2 0h2m77 0h1m1 0h1m5 0h1m2 0h2m6 0h4m1 0h2M44.5 163.2h2m3 0h2m2 0h1m1 0h5m2 0h5m118 0h4m10 0h1m4 0h3m2 0h4m2 0h1m1 0h4m4 0h2m49 0h1m26 0h7m4 0h2m7 0h1m1 0h4m12 0h1m2 0h4M44.5 165.2h2m9 0h1m3 0h1m42 0h1m1 0h1m80 0h4m8 0h1m6 0h1m2 0h2m6 0h8m3 0h4m42 0h1m3 0h1m1 0h2m26 0h2m3 0h1m2 0h1m2 0h4m7 0h1m12 0h3m2 0h1M44.5 167.1h2m2 0h5m2 0h1m3 0h2m1 0h2m40 0h1m37 0h2m1 0h1m1 0h1m33 0h1m5 0h1m11 0h1m1 0h4m9 0h6m7 0h1m77 0h10m4 0h1m7 0h2m17 0h1"/><path stroke="#c2c2c2" stroke-width="1.46" d="M48.5 118.9h2m1 0h2m6 0h2m74 0h1m63 0h3m1 0h4m5 0h1m1 0h2m2 0h1m1 0h1m1 0h1m2 0h2m1 0h1m76 0h5m14 0h2m11 0h1m1 0h1m2 0h1M50.5 120.3h1m11 0h1m1 0h2m37 0h1m31 0h1m11 0h2m48 0h1m4 0h8m4 0h6m9 0h1m77 0h2m1 0h2m8 0h1m14 0h3m4 0h3"/><path stroke="#c2c2c2" stroke-width="1.84" d="M45.5 121.9h2m2 0h1m10 0h4m2 0h1m36 0h1m31 0h2m1 0h1m58 0h2m3 0h4m2 0h9m2 0h2m4 0h2m1 0h2m40 0h1m33 0h2m4 0h2m8 0h1m3 0h2m9 0h1m2 0h2M56.5 123.7h1m2 0h1m2 0h2m1 0h1m37 0h2m80 0h1m11 0h4m4 0h1m1 0h9m9 0h1m2 0h2m45 0h3m1 0h1m26 0h7m4 0h1m3 0h4m1 0h2m10 0h1M45.5 125.5h5m2 0h2m2 0h1m3 0h4m2 0h1m36 0h2m41 0h3m39 0h1m12 0h11m5 0h1m1 0h1m2 0h4m2 0h1m44 0h3m30 0h1m21 0h1m14 0h1M45.5 127.2h1m13 0h1m2 0h2m40 0h1m39 0h1m38 0h1m1 0h1m15 0h1m1 0h3m4 0h2m2 0h2m3 0h5m1 0h1m78 0h1m3 0h1m1 0h1m14 0h1m9 0h1m2 0h1M45.5 129h3m4 0h1m6 0h1m41 0h1m36 0h4m1 0h1m53 0h1m4 0h4m1 0h7m6 0h1m4 0h5m38 0h1m34 0h2m5 0h2m6 0h1m6 0h1m12 0h6M44.5 130.8h3m2 0h1m1 0h4m1 0h1m8 0h2m34 0h1m1 0h2m80 0h2m12 0h1m4 0h2m3 0h3m2 0h1m4 0h2m4 0h1m2 0h1m44 0h2m29 0h1m1 0h1m1 0h4m2 0h3m2 0h2m4 0h2m13 0h2m1 0h1M45.5 132.6h2m2 0h1m7 0h1m1 0h4m38 0h1m2 0h1m80 0h1m2 0h1m8 0h1m1 0h1m1 0h12m1 0h1m5 0h1m4 0h1m2 0h2m42 0h1m2 0h4m27 0h1m1 0h3m6 0h3m12 0h5m6 0h5M46.5 134.4h1m1 0h2m4 0h2m6 0h1m40 0h2m30 0h1m10 0h1m38 0h1m11 0h1m1 0h1m1 0h1m2 0h8m16 0h2m74 0h4m13 0h3m9 0h1m1 0h1m1 0h1m5 0h1M46.5 136.1h1m4 0h2m3 0h1m5 0h1m2 0h1m38 0h1m94 0h1m2 0h3m4 0h4m5 0h5m2 0h1m1 0h2m74 0h1m5 0h1m15 0h1m9 0h4m3 0h1M62.5 137.9h1m2 0h2m34 0h1m95 0h1m3 0h5m1 0h6m1 0h1m2 0h4m4 0h2m43 0h1m2 0h1m4 0h1m24 0h5m1 0h2m7 0h2m17 0h1m4 0h5M45.5 139.7h1m13 0h1m5 0h1m35 0h1m80 0h5m10 0h1m4 0h4m3 0h1m2 0h1m7 0h1m2 0h3m49 0h1m3 0h1m26 0h3m11 0h2m9 0h1m6 0h3m1 0h2"/><path stroke="#c2c2c2" stroke-width="1.06" d="M46.5 141.1h1m2 0h2m5 0h2m1 0h1m5 0h1m37 0h2m92 0h1m1 0h4m1 0h7m4 0h7m3 0h2m1 0h1m76 0h2m2 0h4m6 0h1m8 0h1m3 0h2m4 0h1m3 0h2"/><path stroke="#c2c2c2" stroke-width="1.91" d="M45.5 169h2m1 0h2m1 0h3m7 0h2m1 0h3m76 0h1m39 0h1m13 0h1m4 0h1m5 0h4m1 0h2m6 0h2m2 0h2m2 0h1m39 0h1m33 0h3m6 0h6m2 0h5m3 0h1m2 0h2m2 0h2m1 0h1m1 0h1m3 0h1M48.5 170.9h3m6 0h1m4 0h1m3 0h1m74 0h5m41 0h1m9 0h9m4 0h2m8 0h4m1 0h1m2 0h2m40 0h6m29 0h4m1 0h3m7 0h4m4 0h1m2 0h1m15 0h1M44.5 172.7h1m2 0h2m6 0h4m44 0h1m39 0h5m34 0h1m14 0h2m4 0h2m1 0h3m6 0h5m1 0h3m2 0h1m1 0h2m73 0h1m10 0h1m1 0h5m17 0h2m7 0h2M51.5 174.6h3m3 0h5m4 0h1m36 0h2m38 0h3m42 0h1m21 0h1m2 0h3m4 0h1m4 0h2m1 0h2m40 0h2m1 0h2m28 0h1m7 0h2m3 0h3m4 0h2m3 0h1m2 0h1m2 0h1m1 0h2M48.5 176.4h2m5 0h1m7 0h4m70 0h2m43 0h1m4 0h1m9 0h3m2 0h8m1 0h6m5 0h2m2 0h1m44 0h2m30 0h8m4 0h3m3 0h4m6 0h1M46.5 178.3h1m2 0h2m1 0h2m2 0h2m5 0h1m76 0h1m41 0h3m12 0h3m4 0h1m1 0h3m1 0h6m5 0h3m1 0h2m1 0h2m75 0h2m5 0h2m2 0h1m2 0h5m3 0h2m4 0h7M48.5 180.1h2m6 0h5m3 0h1m1 0h1m70 0h2m1 0h2m3 0h1m36 0h1m4 0h1m9 0h10m4 0h1m1 0h3m4 0h1m1 0h2m4 0h2m42 0h1m30 0h1m5 0h6m2 0h1m5 0h4m6 0h1m4 0h2M45.5 182h3m3 0h6m1 0h3m2 0h3m37 0h1m36 0h2m40 0h1m14 0h3m6 0h1m1 0h5m1 0h1m2 0h2m1 0h1m2 0h7m49 0h1m23 0h5m4 0h3m1 0h3m1 0h3m13 0h3m8 0h2M45.5 183.8h1m1 0h2m3 0h1m3 0h4m1 0h6m36 0h2m82 0h1m9 0h4m1 0h3m1 0h2m2 0h2m1 0h4m3 0h1m1 0h2m5 0h1m73 0h1m1 0h1m1 0h1m2 0h1m3 0h4m10 0h1m3 0h4M49.5 185.7h7m1 0h2m1 0h6m37 0h2m38 0h1m53 0h3m2 0h3m1 0h3m2 0h1m1 0h2m4 0h2m3 0h3m44 0h1m4 0h2m25 0h1m2 0h1m3 0h3m1 0h1m2 0h1m5 0h2m3 0h1m2 0h1m15 0h1M47.5 187.5h1m8 0h6m1 0h2m72 0h1m5 0h1m38 0h1m14 0h6m1 0h2m2 0h1m4 0h3m7 0h1m1 0h2m2 0h1m39 0h1m3 0h1m29 0h2m4 0h3m2 0h2m1 0h2m1 0h2m1 0h2m3 0h1M48.5 189.4h2m6 0h4m5 0h1m35 0h3m33 0h1m2 0h2m41 0h2m12 0h3m11 0h1m2 0h1m3 0h1m1 0h1m1 0h1m2 0h2m1 0h2m73 0h1m1 0h1m2 0h2m2 0h1m1 0h1m1 0h2m3 0h1m1 0h1m7 0h1m3 0h1m11 0h1M46.5 191.2h2m2 0h2m6 0h3m3 0h2m77 0h1m37 0h1m3 0h2m12 0h8m1 0h6m1 0h5m1 0h4m86 0h4m3 0h1m1 0h2m2 0h1m1 0h3m7 0h1m5 0h2M44.5 193.1h9m9 0h1m1 0h2m71 0h1m2 0h1m43 0h2m1 0h2m10 0h5m2 0h4m2 0h2m3 0h4m2 0h3m44 0h3m3 0h3m29 0h1m10 0h2m1 0h1m2 0h3m7 0h1m7 0h1M46.5 194.9h2m2 0h3m1 0h2m2 0h1m2 0h3m39 0h2m92 0h1m1 0h3m6 0h4m2 0h7m88 0h2m2 0h6m7 0h2m3 0h1m4 0h1m5 0h1M44.5 196.8h6m2 0h1m5 0h2m1 0h2m82 0h2m54 0h4m3 0h4m4 0h2m53 0h3m36 0h1m4 0h3m9 0h1m5 0h1m2 0h1m5 0h1M45.5 198.6h2m2 0h1m14 0h1m1 0h1m80 0h2m48 0h3m1 0h6m1 0h14m48 0h2m4 0h3m39 0h1m1 0h3m3 0h2m10 0h1m4 0h1M49.5 200.4h4m5 0h6m124 0h1m10 0h5m2 0h1m1 0h3m2 0h1m2 0h5m49 0h7m26 0h6m1 0h1m3 0h1m2 0h7m2 0h3m7 0h10M46.5 202.3h1m2 0h4m1 0h1m5 0h2m77 0h1m42 0h1m2 0h1m13 0h1m2 0h1m3 0h4m3 0h1m2 0h5m2 0h1m52 0h1m35 0h1m1 0h2m5 0h1m4 0h3m12 0h2M45.5 204.1h1m6 0h1m3 0h1m1 0h1m45 0h1m92 0h2m2 0h16m2 0h2m2 0h2m3 0h2m40 0h2m4 0h1m31 0h2m2 0h1m4 0h2m1 0h2m4 0h2m13 0h5M44.5 206h3m4 0h4m6 0h2m78 0h1m40 0h3m1 0h3m8 0h3m9 0h3m1 0h2m2 0h1m1 0h2m2 0h2m3 0h2m40 0h1m40 0h2m1 0h1m1 0h2m2 0h3m2 0h4m4 0h1m7 0h2m3 0h1M47.5 207.8h4m1 0h1m4 0h3m3 0h1m2 0h1m72 0h1m41 0h2m2 0h1m11 0h3m1 0h4m1 0h6m2 0h1m1 0h3m51 0h3m1 0h5m24 0h2m1 0h2m1 0h1m3 0h2m2 0h1m2 0h4m1 0h3m3 0h1m5 0h1m3 0h2M44.5 209.7h1m1 0h3m1 0h1m1 0h2m1 0h3m81 0h1m4 0h1m57 0h1m4 0h2m2 0h1m2 0h5m5 0h1m47 0h3m1 0h1m30 0h1m1 0h4m2 0h4m1 0h2m4 0h1m6 0h1m2 0h1m9 0h3"/><path stroke="#a2a2a2" stroke-width="1.76" d="M61.5 5.7h2m137 0h4m9 0h3m2 0h3m49 0h2m34 0h2m1 0h3m2 0h2m10 0h1"/><path stroke="#a2a2a2" stroke-width="1.9" d="M46.5 7.4h1m5 0h1m148 0h2m3 0h2m3 0h1m58 0h2m32 0h1m1 0h1m12 0h1m6 0h2M48.5 9.3h2m10 0h1m138 0h1m14 0h1m3 0h3m50 0h1m35 0h3m11 0h4M46.5 11.1h1m8 0h1m5 0h4m138 0h2m2 0h1m3 0h1m3 0h1m2 0h1m51 0h2m31 0h1m13 0h1m3 0h1m1 0h2M199.5 12.9h1m11 0h5m3 0h1m50 0h2m31 0h1m1 0h5m12 0h3m1 0h2M46.5 14.8h1m6 0h1m143 0h1m7 0h7m3 0h1m54 0h4m32 0h1m8 0h1M55.5 16.6h3m3 0h1m137 0h4m8 0h2m5 0h2m51 0h3m33 0h1m13 0h4m1 0h1m1 0h1M62.5 18.4h1m136 0h1m1 0h2m4 0h1m3 0h1m3 0h1m108 0h1M46.5 20.3h3m9 0h1m2 0h1m140 0h3m6 0h1m2 0h2m2 0h2m52 0h1m34 0h1M44.5 100.5h2m3 0h3m146 0h2m4 0h4m9 0h1m7 0h1m87 0h1m17 0h1M45.5 102.4h1m17 0h4m132 0h1m4 0h3m2 0h1m2 0h1m7 0h1m1 0h1m56 0h1m32 0h1M45.5 104.2h1m19 0h1m118 0h1m25 0h1m14 0h2m83 0h6m4 0h2M57.5 106h3m5 0h1m137 0h4m15 0h1m80 0h1m3 0h1m4 0h2m29 0h1M45.5 107.9h5m1 0h2m48 0h2m101 0h3m8 0h2m8 0h4m42 0h2m6 0h1m32 0h3m11 0h2M45.5 109.7h1m12 0h1m6 0h1m152 0h1m6 0h1m53 0h1m25 0h1m28 0h1M45.5 111.5h1m3 0h3m1 0h3m5 0h5m132 0h1m13 0h1m4 0h2m5 0h3m52 0h1m31 0h1m1 0h1m1 0h2m6 0h2M55.5 113.4h1m148 0h2m6 0h3m1 0h2m7 0h1m53 0h1m27 0h1m4 0h2M48.5 211.5h1m9 0h1m139 0h1m1 0h1m4 0h1m11 0h2m1 0h1m8 0h1m73 0h1m21 0h2M44.5 213.4h2m7 0h3m1 0h3m137 0h1m12 0h3m4 0h4m94 0h2m3 0h1M48.5 215.2h1m9 0h1m143 0h2m5 0h1m19 0h1m73 0h1m3 0h6m28 0h1M44.5 217h2m2 0h1m3 0h4m2 0h1m3 0h2m133 0h1m7 0h1m3 0h3m8 0h1m7 0h2m89 0h1M49.5 218.9h1m2 0h2m1 0h7m1 0h3m131 0h1m7 0h2m96 0h3m18 0h2m16 0h2M44.5 220.7h1m7 0h5m4 0h1m3 0h1m133 0h1m4 0h2m1 0h3m93 0h3m9 0h1m9 0h3M44.5 222.5h1m12 0h3m6 0h1m130 0h1m12 0h1m3 0h1m89 0h1m6 0h1m13 0h1m18 0h2M57.5 224.4h3m3 0h1m133 0h2m5 0h2m3 0h3m1 0h1m14 0h1m76 0h1m2 0h2m1 0h2m34 0h1M44.5 226.2h3m1 0h3m6 0h2m145 0h4m1 0h3m5 0h1m11 0h1m73 0h3m15 0h2M48.5 228.1h2m1 0h5m2 0h2m137 0h1m12 0h2m11 0h3m99 0h1m7 0h1m12 0h1M48.5 229.9h2m5 0h5m3 0h1m133 0h1m7 0h4m1 0h2m5 0h1m2 0h1m4 0h3m1 0h1m81 0h1m13 0h3M57.5 231.7h1m7 0h1m131 0h1m12 0h1m13 0h1m3 0h1m81 0h1m1 0h1m4 0h2m6 0h4m18 0h2M44.5 233.6h1m1 0h1m1 0h1m3 0h1m130 0h1m18 0h5m7 0h1m1 0h2m3 0h2m3 0h2m1 0h1m73 0h2m20 0h3m8 0h2m9 0h1M55.5 235.4h3m1 0h1m147 0h4m6 0h4m7 0h2m73 0h4m4 0h5m31 0h1M44.5 237.2h2m2 0h3m13 0h1m1 0h1m130 0h3m3 0h1m1 0h2m2 0h3m2 0h1m2 0h1m2 0h1m2 0h2m3 0h2m90 0h1M44.5 239.1h1m7 0h6m139 0h1m5 0h4m2 0h4m2 0h1m1 0h1m2 0h1m7 0h1m41 0h2m36 0h2m2 0h1m14 0h1m19 0h1"/><path stroke="#a2a2a2" stroke-width="1.98" d="M46.5 22.2h1m152 0h1m5 0h1m5 0h1m5 0h3m50 0h2m35 0h1m18 0h1M46.5 24.1h1m152 0h2m17 0h1m84 0h4m12 0h1m6 0h2M49.5 26h1m16 0h1m37 0h1m94 0h1m1 0h1m17 0h1m55 0h2m30 0h1m2 0h1m5 0h2m8 0h3M46.5 27.9h6m8 0h2m135 0h1m3 0h2m2 0h4m5 0h3m53 0h2m44 0h1m6 0h6M51.5 29.8h2m7 0h2m152 0h2m10 0h1m44 0h2m1 0h1m31 0h2m8 0h3m3 0h3m1 0h2M46.5 142.6h1m135 0h2m20 0h3m2 0h2m5 0h3m91 0h1m3 0h1m2 0h2m2 0h1m11 0h2M47.5 144.5h2m5 0h3m4 0h1m2 0h1m160 0h2m76 0h1m3 0h6m13 0h1M46.5 146.4h2m6 0h1m152 0h1m1 0h4m3 0h1m5 0h3m52 0h1m28 0h1m4 0h1m21 0h1m13 0h1M47.5 148.3h2m1 0h5m4 0h1m138 0h2m10 0h1m18 0h1m80 0h2m9 0h1m11 0h1M50.5 150.2h2m4 0h1m4 0h1m136 0h2m10 0h2m6 0h1m85 0h1m3 0h1m6 0h4"/><path stroke="#a2a2a2" stroke-width="1.88" d="M212.5 31.7h3m1 0h1m54 0h1m2 0h1m1 0h1m39 0h1m5 0h2m4 0h1M197.5 33.5h4m1 0h8m2 0h1m7 0h1m8 0h1m75 0h2m4 0h1m2 0h7m1 0h1m5 0h1M45.5 35.4h2m12 0h1m137 0h1m7 0h8m16 0h1m42 0h4m32 0h7m5 0h4M46.5 37.2h2m10 0h1m138 0h2m6 0h1m1 0h3m19 0h1m41 0h1m7 0h1m24 0h1m5 0h2m10 0h4M46.5 39h2m149 0h1m1 0h1m8 0h1m7 0h2m2 0h1m8 0h1m49 0h1m28 0h1m1 0h3m7 0h4M46.5 40.8h2m3 0h2m144 0h3m2 0h4m1 0h1m21 0h1m81 0h1m2 0h4m3 0h2m5 0h1M51.5 42.6h1m145 0h1m6 0h3m2 0h1m2 0h2m5 0h1m5 0h1m2 0h2m49 0h1m23 0h1m11 0h2m3 0h1m7 0h1M46.5 44.5h1m11 0h1m140 0h1m2 0h1m1 0h2m2 0h1m99 0h1m2 0h1m10 0h1m4 0h2M197.5 46.3h1m1 0h1m4 0h2m1 0h2m5 0h2m13 0h1m41 0h1m37 0h1m4 0h1m1 0h1m1 0h3m1 0h2M50.5 152.1h1m6 0h1m3 0h2m119 0h1m15 0h2m9 0h1m6 0h1m6 0h1m47 0h1m36 0h1m12 0h1m11 0h1M47.5 153.9h2m1 0h1m4 0h3m139 0h2m8 0h4m5 0h1m87 0h2m2 0h1m1 0h1m10 0h2m3 0h1m18 0h2M50.5 155.8h2m9 0h1m140 0h1m1 0h1m4 0h5m2 0h1m7 0h1m47 0h5m29 0h3m1 0h1M50.5 157.6h3m1 0h1m6 0h2m41 0h1m93 0h2m7 0h4m1 0h1m2 0h1m92 0h1m1 0h1M46.5 159.4h3m12 0h1m2 0h1m143 0h1m4 0h1m9 0h4m81 0h1m2 0h1m13 0h2"/><path stroke="#a2a2a2" stroke-width="1.92" d="M200.5 48.1h1m13 0h2m63 0h1m24 0h1M44.5 50h1m1 0h1m55 0h1m1 0h1m174 0h1m23 0h2M56.5 51.9h3m141 0h1m8 0h1m4 0h1m7 0h3m54 0h1m23 0h4M52.5 53.7h1m4 0h1m145 0h5m3 0h1m65 0h1m25 0h2M47.5 55.6h6m146 0h7m5 0h1m17 0h1m49 0h1m23 0h2M52.5 57.5h1m11 0h3m130 0h2m1 0h1m2 0h1m10 0h3m62 0h1M197.5 59.3h1m2 0h1m2 0h3m16 0h1m81 0h1M57.5 61.2h3m137 0h1m11 0h1m10 0h1m1 0h2m55 0h1m24 0h1M44.5 63h1m7 0h3m11 0h1m138 0h2m4 0h2m9 0h2m80 0h1M52.5 64.9h1m11 0h2m38 0h1m98 0h1m7 0h1m1 0h2m4 0h2m58 0h1m23 0h2M104.5 66.8h1m92 0h1m5 0h3m5 0h1m8 0h1m3 0h1m4 0h1m49 0h1M64.5 68.6h1m135 0h1m9 0h1m9 0h1m1 0h1m80 0h1m14 0h1m5 0h5M52.5 70.5h1m152 0h4m10 0h2m1 0h1m52 0h1m46 0h4M51.5 72.4h2m11 0h1m39 0h1m98 0h1m1 0h4m8 0h1m2 0h1m58 0h1"/><path stroke="#a2a2a2" stroke-width="1.95" d="M48.5 74.2h1m3 0h1m2 0h2m127 0h1m12 0h1m8 0h2m2 0h4m2 0h2m59 0h1m46 0h2M44.5 76.1h2m2 0h1m6 0h3m143 0h3m12 0h3m6 0h1m1 0h3m46 0h1m37 0h4m19 0h1M52.5 78h1m2 0h2m8 0h1m35 0h1m82 0h1m17 0h1m13 0h1m10 0h3m47 0h2m26 0h6m5 0h2m25 0h4M44.5 79.9h5m3 0h1m2 0h2m4 0h1m121 0h2m31 0h1m1 0h2m9 0h1m75 0h8M48.5 81.8h1m3 0h6m126 0h1m12 0h4m1 0h1m15 0h2m7 0h2m80 0h2m1 0h1m10 0h1M56.5 83.7h2m2 0h1m144 0h2m7 0h1m10 0h1m1 0h3m74 0h1m7 0h5m11 0h1M44.5 85.6h2m10 0h1m141 0h1m7 0h2m8 0h1m1 0h2m7 0h1m1 0h1m82 0h1m18 0h3M44.5 87.5h3m1 0h1m7 0h4m142 0h1m3 0h2m11 0h2m6 0h3m74 0h1m2 0h4m1 0h1m2 0h3M56.5 89.4h3m141 0h1m1 0h1m14 0h4m83 0h1m2 0h2m3 0h1m2 0h3m9 0h1m12 0h1"/><path stroke="#a2a2a2" stroke-width="2.09" d="M52.5 91.3h2m1 0h2m156 0h1m11 0h1m1 0h1m51 0h1m38 0h1m28 0h1M50.5 93.3h2m3 0h1m6 0h2m1 0h2m138 0h1m3 0h1m65 0h1m3 0h1m26 0h1m5 0h1m31 0h1M62.5 95.4h1m142 0h1m5 0h4m1 0h1m11 0h2m83 0h2m6 0h1M58.5 97.4h1m138 0h1m15 0h2m6 0h2m2 0h1m53 0h1"/><path stroke="#a2a2a2" stroke-width="1.26" d="M49.5 99h1m13 0h3m156 0h1m88 0h4m1 0h3"/><path stroke="#a2a2a2" stroke-width="2.01" d="M44.5 115.3h2m1 0h2m3 0h2m7 0h1m139 0h2m3 0h1m67 0h1m30 0h1m1 0h1m7 0h2m3 0h2m3 0h1M44.5 117.2h3m15 0h1m138 0h1m14 0h3m10 0h1m48 0h1m38 0h3M45.5 161.3h4m5 0h1m1 0h1m1 0h4m154 0h2m4 0h1m81 0h1m1 0h5m10 0h1m4 0h1m7 0h2m3 0h3M54.5 163.2h1m5 0h2m136 0h1m8 0h2m7 0h1m4 0h1m88 0h1m7 0h4M49.5 165.2h2m9 0h2m122 0h1m13 0h5m6 0h4m95 0h2m12 0h2M47.5 167.1h1m5 0h1m3 0h2m42 0h1m103 0h1m1 0h4m15 0h1m76 0h1m21 0h2"/><path stroke="#a2a2a2" stroke-width="1.46" d="M44.5 118.9h4m2 0h1m2 0h3m1 0h1m3 0h2m148 0h1m1 0h1m3 0h1m1 0h1m83 0h2m9 0h1m25 0h1M52.5 120.3h10m136 0h4m130 0h3"/><path stroke="#a2a2a2" stroke-width="1.84" d="M44.5 121.9h1m2 0h1m2 0h3m1 0h2m143 0h1m1 0h1m5 0h1m9 0h2m87 0h4m3 0h3M44.5 123.7h4m2 0h1m1 0h1m1 0h2m1 0h1m3 0h1m139 0h2m14 0h2m118 0h1M44.5 125.5h1m5 0h1m3 0h2m1 0h1m1 0h1m137 0h4m13 0h3m3 0h1m8 0h1m75 0h1m8 0h5M44.5 127.2h1m1 0h1m1 0h3m6 0h2m1 0h2m147 0h1m8 0h1m10 0h1m77 0h1m7 0h4M44.5 129h1m3 0h1m4 0h5m2 0h1m123 0h2m12 0h2m1 0h1m14 0h3m95 0h1m1 0h1m5 0h1M47.5 130.8h1m2 0h1m6 0h1m139 0h2m7 0h1M44.5 132.6h1m2 0h2m1 0h3m10 0h2m133 0h1m19 0h1m85 0h2m10 0h1m6 0h1M47.5 134.4h1m2 0h4m3 0h3m3 0h1m136 0h1m11 0h1m4 0h4m95 0h3M44.5 136.1h2m2 0h1m4 0h3m1 0h2m2 0h1m135 0h2m7 0h1m1 0h1m17 0h1m2 0h1m74 0h3m3 0h2m4 0h3M44.5 137.9h3m3 0h1m1 0h1m1 0h4m1 0h1m254 0h4M44.5 139.7h1m2 0h2m3 0h1m2 0h2m9 0h1m139 0h1m1 0h1m94 0h2m8 0h6m16 0h1"/><path stroke="#a2a2a2" stroke-width="1.06" d="M44.5 141.1h2m1 0h2m4 0h3m5 0h2m3 0h1m144 0h3m89 0h2m9 0h1m8 0h4"/><path stroke="#a2a2a2" stroke-width="1.91" d="M59.5 169h1m143 0h4m5 0h1m3 0h1m7 0h1m51 0h2m48 0h1M51.5 170.9h2m6 0h3m1 0h3m143 0h1m2 0h2m2 0h3m5 0h1m51 0h1m47 0h2M200.5 172.7h3m2 0h1m3 0h6m5 0h1m4 0h1m85 0h3m28 0h1m2 0h2M46.5 174.6h3m1 0h1m3 0h3m6 0h3m131 0h3m1 0h5m2 0h2m6 0h1m4 0h4m80 0h4m1 0h1m4 0h1m5 0h2M50.5 176.4h5m6 0h2m158 0h1m54 0h1m37 0h1M51.5 178.3h1m3 0h1m145 0h1m1 0h1m1 0h1m3 0h1m6 0h2m6 0h1m99 0h1m22 0h2M50.5 180.1h3m159 0h1m3 0h3m2 0h1m2 0h1m51 0h3m36 0h2m10 0h1m16 0h4M200.5 182h6m15 0h2m92 0h1m7 0h2M46.5 183.8h1m3 0h2m149 0h1m3 0h1m3 0h1m11 0h1m2 0h1m51 0h1m34 0h1m12 0h1M56.5 185.7h1m2 0h1m6 0h1m134 0h1m3 0h1m3 0h2m1 0h1m3 0h1m98 0h2m1 0h3M50.5 187.5h3m12 0h1m137 0h1m5 0h4m3 0h1m4 0h2m1 0h1m3 0h1m76 0h2m1 0h1m16 0h1M66.5 189.4h1m136 0h8m1 0h2m1 0h3m3 0h1m54 0h1m27 0h1m10 0h1m4 0h1m3 0h1M52.5 191.2h1m2 0h3m4 0h1m3 0h1m116 0h2m22 0h1m20 0h2m74 0h1m10 0h3m1 0h1m2 0h1m21 0h1M55.5 193.1h5m6 0h1m115 0h2m20 0h2m8 0h3m86 0h1m8 0h7m5 0h1m3 0h1m11 0h3M48.5 194.9h2m9 0h2m3 0h3m115 0h5m16 0h5m4 0h2m13 0h2m79 0h1M54.5 196.8h2m8 0h3m131 0h1m1 0h1m4 0h3m10 0h1m1 0h1m7 0h2m44 0h3m35 0h3m4 0h3m6 0h1m5 0h2M51.5 198.6h2m12 0h1m116 0h1m1 0h3m13 0h1m6 0h1m16 0h1m78 0h2m10 0h3m10 0h1m17 0h1M46.5 200.4h3m15 0h3m115 0h2m13 0h2m5 0h2m1 0h1m6 0h1m96 0h3m1 0h1m8 0h1M62.5 202.3h5m34 0h2m80 0h1m16 0h2m1 0h3m18 0h1m49 0h1m29 0h3m29 0h1M46.5 204.1h2m2 0h1m11 0h1m1 0h3m115 0h4m14 0h1m73 0h1m29 0h1m14 0h1m4 0h1M47.5 206h1m2 0h1m50 0h1m98 0h9m3 0h1m9 0h1m48 0h4m28 0h2m10 0h1m18 0h3M46.5 207.8h1m4 0h1m12 0h1m135 0h1m4 0h1m6 0h2m7 0h3m81 0h1m12 0h2m4 0h1m10 0h2M49.5 209.7h1m8 0h1m125 0h1m15 0h2m2 0h3m5 0h1m15 0h1m48 0h1m26 0h1m1 0h1m12 0h1"/><path stroke="#e6e43a" stroke-width="1.76" d="M67.5 5.7h1m86 0h2m23 0h1m116 0h4"/><path stroke="#e6e43a" stroke-width="1.9" d="M119.5 7.4h1m35 0h1m20 0h1m114 0h1m2 0h1m5 0h2M78.5 9.3h2m39 0h2m55 0h1m117 0h4M119.5 11.1h2m176 0h6M154.5 12.9h2m138 0h2m1 0h5M78.5 14.8h1m211 0h2m5 0h3M78.5 16.6h1m40 0h1m174 0h2m5 0h2M78.5 18.4h1m40 0h1m34 0h2m137 0h1m1 0h1m2 0h4M78.5 20.3h2m74 0h1m138 0h1M67.5 100.5h1m39 0h2m69 0h1m1 0h1m109 0h1m2 0h1m1 0h1m5 0h1M67.5 102.4h1m38 0h1m11 0h2m15 0h3m16 0h2m20 0h2m2 0h1m109 0h1m3 0h4m1 0h1M177.5 104.2h2m117 0h2m2 0h1M105.5 106h2m31 0h1m7 0h2m29 0h4m109 0h1m3 0h2m4 0h3M67.5 107.9h2m49 0h1m1 0h1m15 0h1m40 0h2m116 0h2m3 0h1M105.5 109.7h2m1 0h1m26 0h1m9 0h1m8 0h2m137 0h3M67.5 111.5h1m50 0h1m19 0h1m39 0h2m113 0h2m5 0h3M67.5 113.4h2m36 0h2m13 0h1m17 0h1m154 0h3m4 0h1m1 0h1M108.5 211.5h2m69 0h2m109 0h4m4 0h4M105.5 213.4h2m11 0h1m29 0h1m5 0h2m20 0h1m113 0h1m6 0h1m1 0h1M105.5 215.2h1m11 0h2m57 0h2m115 0h3m2 0h3M116.5 217h3m21 0h1m35 0h2m117 0h5m2 0h1M105.5 218.9h1m49 0h1m21 0h2m114 0h3m5 0h2M291.5 220.7h4m1 0h1m2 0h1M105.5 222.5h2m10 0h2m26 0h1m30 0h2m112 0h2m1 0h3M117.5 224.4h2m26 0h1m30 0h1m113 0h2m2 0h2m3 0h1m1 0h1M105.5 226.2h1m3 0h1m6 0h3m26 0h1m8 0h1m138 0h3m2 0h4M106.5 228.1h2m68 0h4m114 0h1M118.5 229.9h1m57 0h2M108.5 231.7h2m8 0h1m175 0h2m2 0h1m3 0h1M148.5 233.6h1m5 0h2m20 0h1m121 0h2M67.5 235.4h2m39 0h2m28 0h1m38 0h2m115 0h1m3 0h2M108.5 237.2h1m7 0h1m59 0h2m120 0h5M119.5 239.1h1m35 0h1m21 0h3m119 0h1"/><path stroke="#e6e43a" stroke-width="1.98" d="M119.5 22.2h1m35 0h1m21 0h1m1 0h1m110 0h2m2 0h1m4 0h3M154.5 24.1h2m139 0h1m1 0h1m2 0h3M119.5 26h2m33 0h2m24 0h1m113 0h1m4 0h3M154.5 27.9h2m134 0h1m6 0h1M119.5 29.8h1m34 0h2m23 0h2m113 0h2m1 0h2m1 0h1M106.5 142.6h1m1 0h2m44 0h2m23 0h1m110 0h2m6 0h2M108.5 144.5h1m7 0h1m20 0h1m16 0h2m23 0h1m111 0h1M108.5 146.4h1m33 0h2m10 0h2m134 0h2m1 0h2M107.5 148.3h2m27 0h1m10 0h1m6 0h2m24 0h1m109 0h2m2 0h1M108.5 150.2h1m7 0h3m28 0h2m30 0h1m110 0h5"/><path stroke="#e6e43a" stroke-width="1.88" d="M67.5 31.7h1m10 0h1m40 0h2m169 0h12M67.5 33.5h2m86 0h1m20 0h2m116 0h2m2 0h1m1 0h1M119.5 35.4h2m56 0h1m112 0h2m1 0h1m2 0h3m2 0h2M119.5 37.2h1m60 0h1m109 0h2m5 0h1m1 0h1M67.5 39h1m51 0h1m35 0h1m134 0h3m3 0h3m1 0h2M67.5 40.8h2m50 0h2m59 0h1m109 0h6m4 0h2M119.5 42.6h1m57 0h3m110 0h1m3 0h2M67.5 44.5h2m111 0h1m117 0h1m1 0h2M67.5 46.3h2m107 0h1m2 0h1m116 0h3M108.5 152.1h1m45 0h2m23 0h1m110 0h4m6 0h1M67.5 153.9h1m40 0h1m9 0h1m1 0h1m33 0h1m135 0h1m9 0h1M116.5 155.8h1m31 0h1m5 0h1m135 0h5m2 0h1m3 0h2M108.5 157.6h2m6 0h3m171 0h5M108.5 159.4h1m7 0h2m36 0h1"/><path stroke="#e6e43a" stroke-width="1.92" d="M119.5 48.1h2m56 0h1m1 0h2M116.5 50h4m59 0h2M119.5 51.9h2m33 0h2M118.5 53.7h1m35 0h1m22 0h4M117.5 55.6h4m59 0h1M120.5 57.5h1m33 0h1M154.5 59.3h1M177.5 61.2h1M119.5 63h1m34 0h1M119.5 64.9h1m34 0h1m22 0h1m1 0h1M119.5 66.8h2m55 0h2m1 0h1M117.5 68.6h1m1 0h1m34 0h1m22 0h3M154.5 70.5h2m20 0h2M119.5 72.4h2m33 0h1m22 0h2"/><path stroke="#e6e43a" stroke-width="1.95" d="M105.5 74.2h5m32 0h2m148 0h1m3 0h4m2 0h1M105.5 76.1h2m5 0h1m2 0h1m60 0h3m114 0h2m3 0h1M105.5 78h2m5 0h1m6 0h2m21 0h1m12 0h1m22 0h1m111 0h1m3 0h3m1 0h5M79.5 79.9h1m25 0h1m6 0h1m25 0h1m39 0h1m115 0h1m4 0h1M79.5 81.8h1m37 0h1m24 0h3m31 0h3m116 0h5M79.5 83.7h1m25 0h1m7 0h1m2 0h1m19 0h2m4 0h2m10 0h1m23 0h3m110 0h1m1 0h2m3 0h1M79.5 85.6h1m25 0h1m9 0h1m2 0h1m20 0h3m6 0h1m144 0h1M79.5 87.5h1m25 0h1m6 0h1m23 0h1m1 0h1m3 0h2m32 0h1m118 0h7M105.5 89.4h2m5 0h2m4 0h1m57 0h3m1 0h1m110 0h12"/><path stroke="#e6e43a" stroke-width="2.09" d="M105.5 91.3h2m2 0h1m28 0h1m161 0h1m1 0h1M67.5 93.3h2m36 0h2m9 0h2m61 0h2m112 0h5m4 0h1M105.5 95.4h1m12 0h1m18 0h2m37 0h3m1 0h1m109 0h1m4 0h5m1 0h2M105.5 97.4h2m2 0h1m7 0h2m58 0h2m114 0h1m4 0h1"/><path stroke="#e6e43a" stroke-width="1.26" d="M67.5 99h1m37 0h2m10 0h1m17 0h2m10 0h1m145 0h1m6 0h1m1 0h1"/><path stroke="#e6e43a" stroke-width="2.01" d="M107.5 115.3h1m182 0h9m1 0h3M109.5 117.2h1m44 0h2m134 0h4m1 0h1m2 0h5M108.5 161.3h1m7 0h1m37 0h1m21 0h1m2 0h1m110 0h1m2 0h1m3 0h2M105.5 163.2h2m9 0h1m37 0h2m134 0h1m5 0h2M106.5 165.2h1m1 0h1m7 0h2m2 0h1m169 0h5m2 0h1m3 0h1M106.5 167.1h1m1 0h2m44 0h1"/><path stroke="#e6e43a" stroke-width="1.46" d="M109.5 118.9h1m6 0h2m2 0h1m169 0h6m2 0h2m1 0h2M117.5 120.3h1m36 0h1m24 0h1m111 0h2m7 0h3"/><path stroke="#e6e43a" stroke-width="1.84" d="M106.5 121.9h1m2 0h1m7 0h1m2 0h1m34 0h1m20 0h1m114 0h1m5 0h6M107.5 123.7h1m1 0h1m7 0h2m36 0h1m134 0h6m2 0h5M108.5 125.5h2m7 0h1m1 0h2m34 0h1m134 0h4m1 0h1m5 0h2M105.5 127.2h2m2 0h1m7 0h2m35 0h2m21 0h1m112 0h3m2 0h2M107.5 129h3m7 0h1m2 0h1m33 0h1m24 0h2m109 0h3m4 0h6M68.5 130.8h1m39 0h2m181 0h5m5 0h2M105.5 132.6h1m3 0h1m7 0h1m36 0h2m20 0h1m2 0h2m109 0h13M107.5 134.4h3m7 0h2m60 0h1m110 0h3m1 0h4m3 0h2M108.5 136.1h2m10 0h1m33 0h1m137 0h1m8 0h2M108.5 137.9h2m181 0h2m2 0h8M109.5 139.7h1m66 0h1m113 0h3m4 0h1m1 0h4"/><path stroke="#e6e43a" stroke-width="1.06" d="M68.5 141.1h1m39 0h2m7 0h1m2 0h1m33 0h1m24 0h1m111 0h3m3 0h6"/><path stroke="#e6e43a" stroke-width="1.91" d="M106.5 169h1m1 0h2m66 0h4M107.5 170.9h2m30 0h2m36 0h1M106.5 172.7h1m1 0h2m6 0h2m1 0h1m58 0h1m1 0h1m109 0h2M106.5 174.6h4m180 0h2M105.5 176.4h5m6 0h2m59 0h3m112 0h3m3 0h3M109.5 178.3h1m8 0h1m59 0h1m112 0h4m3 0h5M107.5 180.1h1m39 0h1m29 0h1m113 0h1m1 0h3M105.5 182h3m187 0h1M106.5 183.8h2m184 0h2M106.5 185.7h3m45 0h2m135 0h2m5 0h1M105.5 187.5h4m68 0h2m113 0h3m1 0h1m1 0h5M106.5 189.4h4m6 0h1m1 0h1m1 0h1m23 0h2m147 0h1m7 0h1M105.5 191.2h1m11 0h1m58 0h1m3 0h1m114 0h2m4 0h2M108.5 193.1h2m6 0h1m37 0h2m20 0h1m113 0h1m4 0h1m3 0h1m1 0h2M105.5 194.9h2m10 0h1m2 0h1m181 0h1M105.5 196.8h1m10 0h3m172 0h1m3 0h1M108.5 198.6h2m44 0h2m134 0h1m7 0h4M108.5 200.4h1m33 0h1m11 0h1m140 0h1m3 0h1M105.5 202.3h1m10 0h1m18 0h2m17 0h2m134 0h2m2 0h2M154.5 204.1h2m20 0h2m117 0h1m5 0h2M154.5 206h1m135 0h2m5 0h1m4 0h1M105.5 207.8h2m34 0h1m12 0h1m25 0h1m109 0h1m2 0h3m6 0h1M105.5 209.7h2m47 0h1m135 0h1m3 0h2m2 0h1m1 0h3"/><path stroke="#1c7a32" stroke-width="1.76" d="M69.5 5.7h2m1 0h3m1 0h2m13 0h2m6 0h2m9 0h2m4 0h3m2 0h5m2 0h3m1 0h1m17 0h2m7 0h6m6 0h5m2 0h1m1 0h2m7 0h2m1 0h5m34 0h2m1 0h3m3 0h1m2 0h3m3 0h5m6 0h7m10 0h3m3 0h5m4 0h3m5 0h3m26 0h2"/><path stroke="#1c7a32" stroke-width="1.9" d="M69.5 7.4h2m2 0h5m13 0h1m2 0h1m1 0h1m3 0h1m9 0h2m16 0h4m18 0h4m4 0h7m6 0h5m13 0h8m33 0h13m6 0h8m2 0h8m6 0h1m1 0h1m6 0h2m2 0h5m38 0h2M69.5 9.3h9m13 0h7m1 0h2m9 0h2m4 0h1m4 0h5m2 0h3m3 0h1m15 0h2m2 0h1m4 0h6m6 0h5m1 0h2m2 0h2m1 0h8m1 0h3m34 0h7m3 0h1m2 0h1m3 0h4m1 0h2m7 0h6m6 0h2m7 0h7m1 0h4m6 0h3m26 0h2M73.5 11.1h5m13 0h1m2 0h2m1 0h3m10 0h2m4 0h3m2 0h5m2 0h2m1 0h4m1 0h1m12 0h2m7 0h1m3 0h3m6 0h8m2 0h2m6 0h8m33 0h7m2 0h4m5 0h5m8 0h2m2 0h2m5 0h2m3 0h1m6 0h1m1 0h2m2 0h2m3 0h1m33 0h2M73.5 12.9h5m13 0h1m2 0h4m1 0h2m9 0h1m5 0h1m4 0h5m2 0h3m1 0h3m15 0h2m1 0h1m5 0h6m6 0h9m1 0h3m5 0h8m37 0h3m1 0h1m1 0h1m1 0h3m4 0h9m3 0h2m2 0h2m6 0h1m8 0h3m3 0h4m10 0h1m26 0h2M69.5 14.8h3m1 0h5m16 0h2m3 0h2m9 0h2m4 0h1m4 0h5m2 0h2m1 0h2m16 0h6m5 0h5m6 0h5m2 0h1m2 0h2m1 0h2m3 0h8m34 0h1m1 0h4m3 0h5m3 0h6m7 0h2m1 0h3m13 0h3m5 0h1m40 0h2M69.5 16.6h2m2 0h5m13 0h1m4 0h5m9 0h2m4 0h2m3 0h5m2 0h1m1 0h1m1 0h1m17 0h2m4 0h1m1 0h1m1 0h5m6 0h8m3 0h1m2 0h3m1 0h8m33 0h7m1 0h1m1 0h1m1 0h3m4 0h4m4 0h1m3 0h6m13 0h1m1 0h4m3 0h2m8 0h2m28 0h2M71.5 18.4h1m1 0h5m16 0h7m9 0h2m4 0h1m4 0h5m2 0h2m2 0h2m16 0h2m4 0h3m1 0h5m7 0h5m1 0h5m2 0h2m1 0h5m1 0h3m33 0h11m8 0h6m6 0h6m6 0h3m2 0h5m3 0h4m12 0h1m26 0h2M73.5 20.3h5m13 0h2m2 0h2m2 0h2m9 0h2m4 0h2m3 0h3m1 0h1m2 0h3m1 0h3m15 0h3m9 0h3m6 0h4m1 0h4m9 0h3m4 0h1m34 0h6m4 0h1m1 0h1m3 0h6m7 0h3m2 0h2m19 0h6m8 0h1m28 0h2M72.5 100.5h11m4 0h4m2 0h5m1 0h2m8 0h3m2 0h2m1 0h2m2 0h5m2 0h3m2 0h3m4 0h1m1 0h1m1 0h1m2 0h3m2 0h2m2 0h1m1 0h2m1 0h5m1 0h11m11 0h8m33 0h6m6 0h3m3 0h5m7 0h7m13 0h5m2 0h2m2 0h2m1 0h1m7 0h1M69.5 102.4h13m10 0h9m8 0h4m4 0h1m3 0h5m5 0h1m1 0h2m3 0h1m2 0h3m4 0h2m6 0h9m2 0h8m3 0h2m9 0h4m1 0h3m33 0h6m4 0h2m7 0h9m3 0h1m1 0h4m3 0h1m9 0h10m10 0h1M70.5 104.2h10m9 0h2m3 0h2m1 0h4m4 0h1m3 0h6m6 0h5m9 0h1m4 0h2m1 0h3m2 0h2m1 0h4m4 0h6m5 0h2m2 0h2m13 0h8m33 0h6m2 0h1m9 0h5m8 0h4m15 0h6m1 0h1m1 0h1m4 0h2M71.5 106h10m5 0h3m1 0h1m1 0h1m6 0h2m9 0h2m2 0h2m5 0h6m1 0h5m6 0h7m3 0h1m5 0h1m2 0h7m2 0h1m2 0h4m2 0h1m12 0h1m1 0h6m33 0h1m3 0h2m2 0h2m1 0h1m7 0h2m1 0h1m8 0h1m2 0h3m13 0h1m2 0h6m4 0h1m3 0h2M71.5 107.9h9m7 0h4m1 0h1m4 0h1m1 0h2m7 0h5m8 0h5m1 0h4m2 0h3m1 0h2m1 0h2m1 0h4m1 0h2m8 0h4m1 0h2m6 0h1m1 0h4m12 0h8m33 0h6m2 0h3m1 0h3m3 0h5m7 0h7m13 0h6m1 0h3m3 0h2m2 0h3m29 0h2M71.5 109.7h10m8 0h2m3 0h3m2 0h2m8 0h3m3 0h1m5 0h5m3 0h6m1 0h9m3 0h2m9 0h6m2 0h2m1 0h5m14 0h4m2 0h2m33 0h9m4 0h1m3 0h6m2 0h1m1 0h1m3 0h1m1 0h4m3 0h4m6 0h4m3 0h2m7 0h2m2 0h1M69.5 111.5h11m3 0h4m3 0h1m1 0h3m2 0h4m8 0h3m2 0h1m2 0h1m3 0h5m2 0h10m1 0h4m1 0h1m1 0h5m8 0h6m1 0h2m1 0h9m2 0h1m8 0h8m33 0h6m1 0h3m3 0h1m3 0h7m1 0h1m1 0h1m2 0h7m13 0h2m1 0h3m2 0h2m5 0h1M69.5 113.4h1m3 0h8m2 0h2m1 0h2m3 0h2m6 0h2m6 0h1m2 0h3m4 0h2m2 0h5m2 0h2m1 0h4m7 0h9m3 0h2m2 0h4m2 0h1m2 0h8m2 0h3m9 0h8m33 0h6m2 0h3m2 0h2m4 0h8m4 0h1m1 0h4m11 0h1m1 0h1m1 0h9m8 0h1M69.5 211.5h10m1 0h1m12 0h4m2 0h2m4 0h1m4 0h3m9 0h5m2 0h1m1 0h1m2 0h2m1 0h1m2 0h1m1 0h6m1 0h2m5 0h1m1 0h4m1 0h2m1 0h1m4 0h5m18 0h2m34 0h3m7 0h1m2 0h3m3 0h5m1 0h1m4 0h7m13 0h7m1 0h1m7 0h2M69.5 213.4h8m1 0h2m2 0h1m2 0h1m5 0h1m6 0h3m9 0h2m4 0h1m4 0h5m6 0h5m3 0h3m3 0h2m1 0h5m4 0h2m1 0h4m6 0h5m2 0h2m13 0h2m1 0h1m33 0h5m4 0h3m2 0h4m1 0h4m7 0h2m1 0h1m16 0h7m1 0h1m7 0h1m3 0h1M69.5 215.2h4m2 0h3m2 0h3m8 0h1m4 0h1m1 0h3m6 0h5m9 0h5m3 0h2m3 0h3m4 0h6m2 0h4m1 0h2m1 0h9m1 0h1m3 0h3m4 0h3m8 0h3m4 0h1m33 0h6m3 0h2m1 0h1m1 0h1m4 0h5m3 0h1m2 0h7m13 0h6m1 0h2m1 0h1m6 0h1m31 0h2M69.5 217h1m2 0h8m2 0h5m1 0h1m11 0h1m9 0h3m1 0h1m14 0h3m3 0h2m1 0h1m2 0h3m1 0h2m3 0h3m5 0h2m1 0h3m6 0h1m1 0h4m3 0h2m8 0h1m1 0h6m33 0h6m3 0h1m3 0h1m2 0h2m1 0h4m8 0h1m1 0h1m1 0h2m4 0h3m6 0h7m1 0h1m1 0h1m9 0h2M69.5 218.9h8m1 0h5m6 0h8m2 0h2m5 0h1m3 0h2m2 0h2m5 0h1m1 0h3m2 0h3m1 0h4m6 0h3m1 0h6m4 0h3m2 0h3m2 0h3m3 0h4m3 0h2m8 0h1m2 0h1m37 0h3m1 0h2m3 0h9m1 0h4m2 0h1m5 0h5m14 0h9m9 0h1m1 0h1m29 0h1M69.5 220.7h4m4 0h2m1 0h3m8 0h4m2 0h4m9 0h2m10 0h4m3 0h2m4 0h1m6 0h5m2 0h5m6 0h2m1 0h2m3 0h1m1 0h6m1 0h3m9 0h7m34 0h4m6 0h1m1 0h1m4 0h1m1 0h5m9 0h4m13 0h7m3 0h1m4 0h1M69.5 222.5h1m2 0h4m1 0h6m2 0h4m1 0h2m3 0h1m2 0h3m7 0h4m2 0h2m8 0h2m3 0h2m2 0h1m12 0h1m3 0h4m1 0h2m6 0h2m7 0h4m2 0h2m9 0h8m33 0h6m3 0h7m1 0h6m3 0h2m22 0h9m7 0h1m1 0h5m27 0h1M69.5 224.4h3m1 0h7m3 0h1m11 0h2m2 0h2m4 0h2m3 0h7m8 0h1m7 0h1m1 0h1m4 0h1m5 0h1m1 0h1m1 0h3m1 0h1m3 0h1m3 0h3m1 0h1m4 0h5m2 0h3m8 0h3m2 0h1m1 0h1m33 0h6m4 0h13m1 0h10m2 0h1m13 0h10m6 0h1m1 0h1M69.5 226.2h2m1 0h7m1 0h1m4 0h1m3 0h1m1 0h2m2 0h6m5 0h1m1 0h1m1 0h2m2 0h1m7 0h4m3 0h1m2 0h1m1 0h1m2 0h1m1 0h4m3 0h1m2 0h4m2 0h1m2 0h1m2 0h3m8 0h4m1 0h4m12 0h2m1 0h1m33 0h6m3 0h2m2 0h10m1 0h1m5 0h7m9 0h1m3 0h9m7 0h2m31 0h2M69.5 228.1h10m2 0h2m6 0h1m1 0h1m6 0h3m7 0h1m1 0h4m8 0h4m9 0h1m13 0h5m5 0h1m1 0h4m1 0h3m5 0h2m13 0h6m1 0h1m33 0h3m11 0h4m1 0h4m2 0h1m5 0h4m11 0h1m3 0h10m3 0h1m2 0h1m33 0h1M69.5 229.9h2m2 0h19m6 0h3m10 0h1m3 0h1m5 0h5m4 0h1m2 0h1m1 0h2m2 0h2m5 0h6m4 0h3m1 0h2m2 0h2m6 0h2m1 0h1m4 0h1m8 0h8m33 0h3m8 0h1m1 0h1m3 0h6m2 0h1m1 0h10m12 0h8m1 0h4m10 0h1M69.5 231.7h1m2 0h7m4 0h1m1 0h1m2 0h2m1 0h2m2 0h2m1 0h3m9 0h2m2 0h2m5 0h5m3 0h2m2 0h3m5 0h2m1 0h1m1 0h8m2 0h2m6 0h1m2 0h3m2 0h4m2 0h1m10 0h1m4 0h1m35 0h3m1 0h1m4 0h1m2 0h1m4 0h1m1 0h4m10 0h1m7 0h1m1 0h1m6 0h2m1 0h4m1 0h6m36 0h1M69.5 233.6h10m3 0h2m5 0h5m2 0h1m2 0h2m9 0h2m9 0h5m4 0h1m3 0h2m4 0h4m7 0h3m2 0h1m17 0h2m1 0h1m11 0h1m40 0h6m10 0h1m1 0h5m10 0h4m13 0h9m7 0h1m5 0h1m26 0h2M69.5 235.4h6m1 0h4m9 0h1m1 0h1m3 0h1m2 0h3m6 0h1m2 0h6m5 0h4m1 0h1m8 0h1m5 0h5m3 0h5m2 0h1m4 0h4m1 0h1m4 0h1m2 0h2m3 0h2m9 0h1m2 0h2m35 0h3m4 0h1m1 0h2m2 0h5m1 0h4m2 0h2m3 0h4m2 0h1m11 0h1m1 0h11m5 0h2m2 0h3M69.5 237.2h2m1 0h7m3 0h1m3 0h4m1 0h3m1 0h1m2 0h3m9 0h2m2 0h2m5 0h5m1 0h1m1 0h1m12 0h3m1 0h1m2 0h1m1 0h3m2 0h1m2 0h5m8 0h4m2 0h1m1 0h1m11 0h3m35 0h8m1 0h2m1 0h11m8 0h1m1 0h2m1 0h1m5 0h1m7 0h1m1 0h10m2 0h1M71.5 239.1h10m1 0h1m5 0h4m3 0h1m3 0h2m9 0h2m2 0h1m7 0h4m8 0h5m1 0h1m1 0h1m3 0h7m3 0h1m1 0h6m8 0h4m13 0h1m3 0h3m34 0h3m1 0h2m6 0h2m3 0h1m1 0h4m7 0h2m1 0h3m15 0h9m1 0h6"/><path stroke="#1c7a32" stroke-width="1.98" d="M69.5 22.2h9m13 0h1m3 0h1m1 0h4m9 0h2m9 0h5m2 0h2m2 0h1m6 0h1m21 0h4m6 0h6m1 0h1m5 0h3m2 0h1m1 0h1m2 0h3m33 0h6m3 0h2m8 0h4m7 0h7m6 0h1m3 0h1m8 0h2m41 0h2M69.5 24.1h9m15 0h3m1 0h1m2 0h1m10 0h1m4 0h3m2 0h3m1 0h1m2 0h2m4 0h1m15 0h2m9 0h4m6 0h13m5 0h3m1 0h1m1 0h2m34 0h6m4 0h1m7 0h5m4 0h3m1 0h5m15 0h2m2 0h2m2 0h5m34 0h2M73.5 26h4m14 0h1m3 0h2m1 0h3m10 0h1m4 0h1m1 0h1m4 0h3m2 0h1m3 0h3m11 0h1m2 0h5m4 0h1m2 0h4m6 0h5m2 0h1m2 0h1m3 0h2m1 0h1m1 0h1m1 0h5m33 0h6m7 0h4m1 0h1m2 0h2m7 0h7m19 0h1m2 0h5m8 0h1m26 0h2M70.5 27.9h2m1 0h5m13 0h1m3 0h3m1 0h2m9 0h2m4 0h1m1 0h1m2 0h3m1 0h1m3 0h2m1 0h1m27 0h5m6 0h7m8 0h2m1 0h3m2 0h1m1 0h1m34 0h5m1 0h8m4 0h5m6 0h3m2 0h2m15 0h2m4 0h2m1 0h3m1 0h2m32 0h2M69.5 29.8h3m1 0h5m13 0h1m3 0h3m1 0h2m9 0h2m4 0h1m4 0h5m2 0h2m2 0h1m6 0h1m9 0h1m1 0h1m9 0h4m6 0h6m5 0h1m3 0h1m1 0h4m1 0h4m33 0h1m1 0h5m1 0h1m4 0h2m3 0h7m1 0h1m3 0h7m6 0h1m11 0h5m1 0h1m7 0h1m29 0h2M69.5 142.6h11m3 0h4m2 0h6m2 0h2m1 0h1m4 0h1m4 0h2m4 0h1m4 0h5m4 0h1m4 0h3m1 0h4m1 0h1m3 0h5m3 0h12m3 0h5m20 0h1m33 0h6m1 0h2m1 0h2m7 0h4m3 0h1m4 0h6m13 0h10m10 0h1M69.5 144.5h11m3 0h3m1 0h2m2 0h2m2 0h6m4 0h1m3 0h3m5 0h2m2 0h6m2 0h2m3 0h1m1 0h1m3 0h5m4 0h5m5 0h9m3 0h6m3 0h1m10 0h1m38 0h5m8 0h8m4 0h5m1 0h6m4 0h1m5 0h1m2 0h11M69.5 146.4h4m1 0h8m1 0h1m1 0h8m1 0h1m3 0h3m4 0h2m2 0h4m8 0h5m1 0h1m1 0h2m8 0h3m6 0h2m1 0h3m5 0h8m4 0h2m3 0h1m53 0h5m3 0h9m2 0h4m3 0h1m5 0h5m8 0h1m4 0h10m5 0h1m4 0h2M69.5 148.3h11m4 0h3m1 0h7m2 0h4m4 0h1m3 0h1m1 0h4m6 0h3m1 0h1m3 0h2m3 0h1m4 0h5m4 0h4m7 0h6m1 0h3m2 0h5m16 0h3m1 0h1m33 0h14m5 0h4m2 0h12m8 0h3m2 0h10m5 0h1m4 0h3M69.5 150.2h11m9 0h6m2 0h4m8 0h4m2 0h1m5 0h5m3 0h2m9 0h1m1 0h4m3 0h9m1 0h8m4 0h6m3 0h1m8 0h5m36 0h5m1 0h8m5 0h4m10 0h4m4 0h3m6 0h10m5 0h1m1 0h6m27 0h1"/><path stroke="#1c7a32" stroke-width="1.88" d="M69.5 31.7h1m1 0h7m13 0h5m1 0h1m1 0h2m9 0h2m4 0h2m3 0h5m2 0h1m1 0h1m2 0h2m6 0h1m7 0h2m1 0h3m4 0h6m6 0h5m3 0h2m3 0h1m4 0h8m33 0h6m1 0h11m1 0h4m5 0h1m2 0h6m13 0h10m12 0h1m26 0h2M69.5 33.5h7m15 0h10m9 0h2m5 0h2m2 0h5m2 0h1m1 0h1m19 0h1m2 0h2m4 0h4m10 0h3m3 0h2m1 0h1m6 0h1m1 0h6m33 0h6m1 0h4m6 0h6m3 0h1m4 0h6m13 0h10m3 0h1m5 0h1m2 0h1m26 0h2M71.5 35.4h6m14 0h3m3 0h1m1 0h2m9 0h2m5 0h2m2 0h1m1 0h3m4 0h1m1 0h1m8 0h4m5 0h1m6 0h8m6 0h5m8 0h1m2 0h10m33 0h8m2 0h2m2 0h9m8 0h6m13 0h10m5 0h1m33 0h2M70.5 37.2h8m13 0h10m9 0h2m4 0h2m4 0h4m2 0h5m21 0h2m3 0h6m6 0h6m6 0h2m4 0h8m35 0h7m3 0h1m2 0h8m8 0h6m13 0h10m3 0h4m32 0h2M73.5 39h5m13 0h2m1 0h4m1 0h2m9 0h2m6 0h1m2 0h5m2 0h1m4 0h2m5 0h2m9 0h1m2 0h1m4 0h4m1 0h1m6 0h5m1 0h2m5 0h6m3 0h4m33 0h6m7 0h1m1 0h1m3 0h4m5 0h9m13 0h10m12 0h1m26 0h2M69.5 40.8h2m2 0h4m14 0h2m3 0h5m9 0h2m4 0h3m2 0h5m2 0h1m1 0h1m9 0h3m16 0h4m1 0h1m6 0h5m5 0h1m2 0h1m1 0h1m2 0h8m35 0h1m3 0h7m4 0h1m1 0h3m9 0h6m13 0h10m12 0h1m26 0h2M72.5 42.6h5m14 0h4m2 0h4m9 0h2m4 0h3m2 0h5m2 0h1m3 0h3m19 0h2m2 0h5m8 0h5m8 0h2m3 0h4m2 0h2m33 0h5m3 0h3m2 0h3m1 0h3m5 0h2m3 0h7m7 0h2m4 0h1m1 0h4m1 0h3m12 0h1m26 0h2M72.5 44.5h6m13 0h2m1 0h2m3 0h2m16 0h2m2 0h5m14 0h4m5 0h1m9 0h6m6 0h1m2 0h2m1 0h1m6 0h1m4 0h7m34 0h6m1 0h4m1 0h3m1 0h6m9 0h6m13 0h12m1 0h1m1 0h1m6 0h1m26 0h2M71.5 46.3h7m13 0h2m1 0h1m4 0h2m9 0h2m5 0h1m3 0h3m4 0h1m2 0h1m21 0h1m6 0h3m1 0h1m6 0h5m10 0h1m2 0h5m2 0h1m34 0h5m3 0h2m1 0h2m1 0h1m1 0h1m1 0h4m3 0h2m3 0h6m10 0h2m1 0h10m5 0h1m5 0h2m26 0h2M69.5 152.1h11m5 0h2m2 0h6m1 0h2m1 0h2m6 0h1m2 0h5m6 0h7m1 0h1m8 0h6m1 0h1m3 0h5m2 0h1m1 0h7m6 0h5m13 0h2m39 0h5m1 0h2m1 0h4m1 0h2m1 0h7m1 0h3m3 0h5m4 0h1m5 0h2m3 0h9M69.5 153.9h11m3 0h3m4 0h1m1 0h1m3 0h5m8 0h7m5 0h6m1 0h4m9 0h5m2 0h2m6 0h4m2 0h5m4 0h6m13 0h1m3 0h1m1 0h1m33 0h5m1 0h4m3 0h4m2 0h4m8 0h6m7 0h1m5 0h10m1 0h1m3 0h1M69.5 155.8h11m3 0h1m4 0h13m8 0h3m1 0h3m1 0h1m3 0h1m1 0h3m3 0h2m6 0h1m1 0h6m5 0h4m2 0h1m2 0h11m1 0h4m1 0h5m9 0h2m38 0h1m1 0h7m5 0h1m4 0h4m3 0h1m4 0h6m10 0h1m2 0h10m5 0h1M69.5 157.6h8m1 0h2m2 0h2m4 0h2m1 0h3m3 0h4m5 0h1m3 0h6m5 0h1m1 0h3m3 0h2m3 0h1m2 0h2m1 0h3m1 0h3m4 0h4m1 0h1m2 0h9m3 0h2m1 0h2m15 0h4m35 0h3m3 0h2m2 0h5m4 0h4m3 0h1m4 0h6m13 0h2m2 0h6m5 0h1m4 0h2M69.5 159.4h4m1 0h6m1 0h1m7 0h2m7 0h3m4 0h3m1 0h3m9 0h5m5 0h2m1 0h1m4 0h4m1 0h1m3 0h1m2 0h3m1 0h3m1 0h8m4 0h6m14 0h1m1 0h3m34 0h5m1 0h2m1 0h1m1 0h1m7 0h4m8 0h4m1 0h1m4 0h4m5 0h10m10 0h1m29 0h1"/><path stroke="#1c7a32" stroke-width="1.92" d="M69.5 48.1h3m1 0h5m38 0h1m1 0h1m2 0h1m1 0h8m6 0h3m10 0h3m1 0h1m1 0h1m2 0h6m6 0h5m19 0h2m33 0h5m10 0h5m2 0h1m4 0h10m10 0h1m2 0h10M69.5 50h3m1 0h5m43 0h5m1 0h4m20 0h1m5 0h8m6 0h5m20 0h1m33 0h6m4 0h8m1 0h1m1 0h2m2 0h12m5 0h2m3 0h2m1 0h10M69.5 51.9h2m1 0h6m38 0h3m2 0h10m7 0h2m1 0h1m8 0h1m2 0h1m5 0h6m7 0h4m15 0h1m38 0h4m11 0h1m1 0h3m1 0h2m1 0h2m3 0h8m6 0h1m3 0h2m1 0h10M69.5 53.7h9m38 0h1m4 0h5m1 0h4m6 0h2m12 0h3m2 0h1m2 0h6m6 0h5m54 0h6m8 0h1m1 0h6m3 0h1m1 0h6m1 0h3m6 0h3m4 0h10M70.5 55.6h8m43 0h10m7 0h1m2 0h1m2 0h1m4 0h3m1 0h5m1 0h6m6 0h6m53 0h5m2 0h1m1 0h2m2 0h7m1 0h1m4 0h7m1 0h3m3 0h1m9 0h10M69.5 57.5h3m1 0h5m43 0h5m1 0h4m7 0h2m9 0h3m4 0h2m1 0h6m6 0h5m4 0h1m49 0h6m2 0h1m1 0h2m1 0h2m2 0h6m2 0h3m1 0h8m13 0h10M73.5 59.3h5m38 0h1m4 0h10m18 0h1m1 0h2m6 0h6m6 0h5m1 0h4m8 0h1m6 0h1m33 0h5m2 0h4m2 0h1m5 0h7m3 0h8m12 0h8m1 0h2M69.5 61.2h1m3 0h5m38 0h2m3 0h10m7 0h1m10 0h6m1 0h1m2 0h6m6 0h5m19 0h1m34 0h6m2 0h4m1 0h3m3 0h4m2 0h12m6 0h1m6 0h7M69.5 63h1m1 0h1m1 0h5m39 0h1m3 0h5m2 0h3m7 0h1m11 0h3m3 0h5m2 0h2m6 0h5m4 0h1m49 0h6m2 0h14m5 0h2m1 0h7m6 0h1m6 0h2m1 0h7M69.5 64.9h3m1 0h5m38 0h2m3 0h5m1 0h4m7 0h1m10 0h3m4 0h1m2 0h6m6 0h1m2 0h2m54 0h5m2 0h1m1 0h2m4 0h1m2 0h8m1 0h1m3 0h2m1 0h3m13 0h6M69.5 66.8h3m1 0h5m43 0h5m1 0h4m19 0h4m1 0h1m3 0h6m8 0h3m4 0h1m49 0h5m1 0h6m1 0h3m3 0h3m4 0h3m3 0h5m6 0h2m5 0h7M69.5 68.6h2m4 0h3m38 0h1m4 0h10m20 0h1m7 0h6m6 0h5m4 0h1m11 0h1m37 0h6m3 0h3m2 0h6m1 0h1m3 0h1m1 0h8m15 0h10M69.5 70.5h1m1 0h7m38 0h3m2 0h10m18 0h5m2 0h2m1 0h6m6 0h5m4 0h1m49 0h16m3 0h5m7 0h6m10 0h1m2 0h10M71.5 72.4h1m1 0h5m38 0h1m4 0h8m21 0h4m7 0h4m6 0h5m54 0h4m2 0h6m2 0h2m1 0h5m3 0h1m2 0h1m1 0h7m14 0h9"/><path stroke="#1c7a32" stroke-width="1.95" d="M72.5 74.2h1m1 0h3m14 0h1m18 0h2m5 0h2m2 0h6m4 0h4m2 0h3m4 0h1m1 0h2m1 0h2m3 0h1m1 0h9m6 0h5m13 0h2m39 0h3m2 0h1m4 0h2m2 0h2m3 0h4m2 0h1m5 0h4m15 0h10m3 0h3m4 0h1m28 0h2M69.5 76.1h1m4 0h3m19 0h1m2 0h2m9 0h2m9 0h8m2 0h2m1 0h3m1 0h2m2 0h8m4 0h4m1 0h6m6 0h5m16 0h4m34 0h1m3 0h3m3 0h4m3 0h1m1 0h4m2 0h2m4 0h6m13 0h10m39 0h2M72.5 78h6m16 0h1m4 0h2m9 0h2m4 0h1m4 0h7m7 0h1m13 0h1m3 0h2m1 0h4m2 0h3m6 0h5m1 0h1m11 0h5m36 0h1m1 0h1m3 0h3m4 0h2m4 0h5m1 0h2m4 0h6m3 0h2m8 0h2m4 0h4m39 0h2M69.5 79.9h4m1 0h4m13 0h1m2 0h1m1 0h1m2 0h2m9 0h2m4 0h3m2 0h5m1 0h1m3 0h5m4 0h3m3 0h1m2 0h1m1 0h14m6 0h5m3 0h2m8 0h8m33 0h8m1 0h6m1 0h7m2 0h1m1 0h9m14 0h10m6 0h2m31 0h2M69.5 81.8h7m1 0h1m14 0h1m5 0h3m15 0h1m4 0h10m6 0h1m2 0h1m4 0h1m3 0h2m5 0h9m6 0h5m13 0h7m34 0h3m1 0h5m2 0h5m1 0h1m1 0h4m3 0h1m4 0h6m13 0h10m40 0h1M69.5 83.7h4m1 0h4m13 0h4m1 0h2m1 0h2m9 0h2m9 0h6m1 0h1m2 0h2m1 0h1m9 0h5m1 0h2m4 0h2m1 0h6m7 0h4m13 0h1m2 0h1m2 0h2m33 0h6m2 0h1m1 0h2m1 0h2m2 0h6m2 0h2m4 0h5m6 0h1m7 0h10m5 0h2m33 0h1M69.5 85.6h9m13 0h1m5 0h4m15 0h2m3 0h5m1 0h1m3 0h1m10 0h4m3 0h2m2 0h5m1 0h6m6 0h5m15 0h6m33 0h8m1 0h5m5 0h4m3 0h1m4 0h6m13 0h10m7 0h6m26 0h2M73.5 87.5h5m13 0h2m2 0h1m3 0h2m9 0h1m5 0h2m3 0h1m3 0h1m2 0h1m3 0h1m2 0h1m1 0h1m1 0h1m4 0h1m2 0h1m1 0h1m4 0h1m1 0h9m6 0h5m13 0h2m39 0h3m1 0h2m4 0h5m5 0h5m3 0h8m14 0h10m39 0h2M69.5 89.4h1m4 0h1m2 0h1m13 0h2m6 0h2m9 0h2m4 0h2m3 0h2m1 0h4m1 0h1m1 0h4m2 0h2m3 0h5m2 0h2m8 0h6m6 0h2m1 0h2m13 0h1m1 0h1m1 0h3m34 0h1m1 0h4m5 0h3m1 0h1m1 0h1m1 0h4m3 0h2m3 0h6m13 0h10m39 0h2"/><path stroke="#1c7a32" stroke-width="2.09" d="M71.5 91.3h1m1 0h8m6 0h4m3 0h2m1 0h1m1 0h2m9 0h2m9 0h5m2 0h2m1 0h4m2 0h1m2 0h3m1 0h2m3 0h2m8 0h3m2 0h1m6 0h4m14 0h8m33 0h6m13 0h2m1 0h2m7 0h6m6 0h4m4 0h5m1 0h2m1 0h1m3 0h1M71.5 93.3h9m4 0h3m5 0h1m1 0h3m2 0h2m8 0h7m2 0h1m2 0h5m2 0h3m4 0h6m2 0h1m2 0h1m1 0h3m2 0h1m5 0h3m1 0h2m2 0h1m3 0h3m2 0h3m10 0h7m34 0h6m5 0h1m1 0h1m5 0h4m2 0h1m5 0h1m1 0h3m12 0h1m1 0h6m2 0h2m11 0h1M72.5 95.4h2m1 0h5m10 0h1m8 0h2m5 0h1m3 0h3m8 0h5m3 0h4m2 0h1m3 0h11m9 0h1m1 0h4m2 0h1m3 0h3m15 0h8m33 0h4m1 0h1m2 0h1m5 0h3m1 0h5m8 0h6m13 0h10m4 0h1M72.5 97.4h11m7 0h1m1 0h1m2 0h6m6 0h2m1 0h3m1 0h1m6 0h10m1 0h15m1 0h2m3 0h2m2 0h1m1 0h10m1 0h7m12 0h1m2 0h5m33 0h6m2 0h2m3 0h10m8 0h6m13 0h10m4 0h1m2 0h1"/><path stroke="#1c7a32" stroke-width="1.26" d="M69.5 99h1m3 0h3m1 0h4m3 0h2m1 0h1m6 0h2m1 0h1m1 0h2m9 0h2m9 0h9m1 0h2m15 0h4m6 0h6m3 0h1m2 0h3m1 0h1m1 0h1m1 0h1m10 0h4m2 0h2m35 0h4m11 0h7m6 0h7m3 0h1m9 0h9m5 0h2m1 0h2m2 0h1m27 0h1"/><path stroke="#1c7a32" stroke-width="2.01" d="M69.5 115.3h12m3 0h1m14 0h1m8 0h1m1 0h2m1 0h3m5 0h5m2 0h3m11 0h3m5 0h7m2 0h6m1 0h2m3 0h5m13 0h3m1 0h4m33 0h6m1 0h2m2 0h4m4 0h4m5 0h2m1 0h6m11 0h1m1 0h10m9 0h1m29 0h1M69.5 117.2h14m1 0h4m11 0h2m4 0h4m1 0h1m2 0h1m1 0h1m5 0h5m2 0h2m3 0h1m4 0h1m11 0h4m5 0h1m1 0h4m1 0h2m1 0h1m1 0h5m16 0h1m2 0h2m33 0h12m7 0h6m1 0h1m5 0h5m12 0h11m40 0h1M69.5 161.3h11m3 0h1m9 0h2m4 0h2m4 0h2m2 0h4m8 0h6m2 0h2m3 0h1m6 0h5m2 0h4m1 0h1m1 0h2m2 0h7m5 0h5m15 0h1m2 0h1m1 0h1m33 0h5m1 0h2m2 0h2m7 0h4m3 0h2m3 0h6m4 0h3m3 0h1m3 0h9m1 0h2m7 0h2M69.5 163.2h11m3 0h1m6 0h3m1 0h1m3 0h3m9 0h4m7 0h5m3 0h2m10 0h4m4 0h5m4 0h7m6 0h6m3 0h1m10 0h2m37 0h5m1 0h5m3 0h2m3 0h2m1 0h1m2 0h2m3 0h7m3 0h3m4 0h1m3 0h9m2 0h4m4 0h2m28 0h1M69.5 165.2h7m1 0h3m11 0h5m2 0h3m4 0h1m3 0h4m8 0h2m1 0h1m4 0h1m9 0h4m1 0h4m3 0h3m1 0h2m1 0h6m1 0h3m3 0h6m12 0h1m2 0h1m37 0h5m1 0h6m2 0h1m2 0h1m1 0h5m2 0h1m4 0h6m4 0h1m5 0h1m2 0h10m10 0h1m1 0h1M69.5 167.1h4m2 0h5m3 0h3m3 0h1m1 0h1m7 0h2m4 0h1m1 0h1m2 0h4m2 0h1m4 0h5m2 0h3m4 0h1m3 0h1m1 0h1m4 0h1m3 0h4m2 0h1m2 0h6m1 0h1m4 0h6m15 0h1m37 0h6m3 0h3m7 0h4m3 0h1m4 0h6m10 0h1m2 0h10"/><path stroke="#1c7a32" stroke-width="1.46" d="M69.5 118.9h11m19 0h2m4 0h1m4 0h2m9 0h2m1 0h2m3 0h5m8 0h1m6 0h5m7 0h4m6 0h7m12 0h2m1 0h4m33 0h6m2 0h5m1 0h1m4 0h4m8 0h6m5 0h1m6 0h11m6 0h2m2 0h1M69.5 120.3h12m3 0h1m14 0h2m4 0h2m2 0h3m1 0h2m1 0h1m4 0h1m2 0h2m4 0h1m20 0h3m6 0h4m6 0h6m13 0h2m4 0h2m33 0h6m4 0h1m3 0h1m1 0h1m2 0h4m4 0h2m3 0h4m6 0h5m3 0h10m5 0h5"/><path stroke="#1c7a32" stroke-width="1.84" d="M69.5 121.9h6m4 0h2m18 0h2m4 0h1m4 0h2m2 0h2m5 0h5m1 0h2m13 0h1m6 0h5m2 0h1m2 0h6m5 0h6m3 0h2m8 0h8m33 0h6m1 0h5m2 0h2m3 0h4m5 0h1m2 0h6m5 0h1m6 0h12M69.5 123.7h14m4 0h3m9 0h2m4 0h1m2 0h1m1 0h2m3 0h1m5 0h2m2 0h1m1 0h4m17 0h6m6 0h4m7 0h5m13 0h3m3 0h1m34 0h6m5 0h2m1 0h2m4 0h3m1 0h4m3 0h6m13 0h4m1 0h5M69.5 125.5h11m4 0h6m1 0h4m4 0h2m9 0h2m2 0h2m5 0h3m1 0h5m12 0h4m3 0h6m4 0h6m6 0h5m14 0h2m2 0h3m33 0h12m1 0h4m4 0h2m1 0h1m6 0h6m12 0h11m4 0h1M69.5 127.2h9m1 0h3m2 0h1m4 0h1m9 0h2m9 0h2m3 0h1m5 0h5m1 0h4m1 0h2m4 0h1m3 0h1m6 0h1m1 0h3m3 0h1m1 0h5m7 0h5m13 0h4m37 0h6m2 0h1m1 0h2m1 0h3m3 0h6m6 0h6m12 0h11m7 0h3M72.5 129h6m2 0h1m1 0h1m1 0h1m4 0h2m9 0h1m4 0h1m4 0h2m3 0h1m5 0h4m4 0h2m11 0h1m6 0h5m1 0h1m1 0h1m2 0h4m4 0h1m2 0h5m1 0h2m10 0h3m38 0h6m1 0h2m5 0h12m3 0h1m1 0h6m13 0h10m3 0h1M69.5 130.8h12m4 0h1m1 0h3m9 0h2m4 0h1m4 0h1m10 0h5m2 0h2m19 0h5m7 0h4m5 0h6m13 0h3m3 0h1m34 0h8m11 0h4m4 0h3m1 0h6m10 0h13m7 0h2M69.5 132.6h13m7 0h1m9 0h2m6 0h1m2 0h2m9 0h5m1 0h4m3 0h1m7 0h2m5 0h3m1 0h1m3 0h1m2 0h5m3 0h2m1 0h5m13 0h4m1 0h3m33 0h6m3 0h1m1 0h4m4 0h4m1 0h1m3 0h1m2 0h4m1 0h1m6 0h2m5 0h10M69.5 134.4h8m1 0h2m3 0h4m12 0h2m4 0h2m3 0h2m1 0h4m4 0h8m20 0h1m1 0h2m1 0h2m4 0h5m6 0h6m1 0h1m10 0h1m1 0h1m2 0h3m33 0h6m6 0h9m1 0h1m1 0h1m6 0h4m1 0h1m7 0h1m5 0h10m8 0h2M69.5 136.1h12m3 0h4m3 0h2m7 0h1m4 0h2m3 0h2m1 0h3m5 0h5m1 0h4m2 0h1m15 0h5m1 0h1m3 0h6m1 0h1m4 0h6m12 0h3m2 0h3m33 0h7m4 0h6m1 0h5m1 0h1m6 0h6m12 0h11m9 0h2M69.5 137.9h9m1 0h2m3 0h3m12 0h2m4 0h1m4 0h2m9 0h5m1 0h6m10 0h1m5 0h2m2 0h8m1 0h4m5 0h9m9 0h4m1 0h3m33 0h6m6 0h5m2 0h4m1 0h6m1 0h6m5 0h1m6 0h8m2 0h2m2 0h2M69.5 139.7h9m1 0h1m9 0h1m2 0h4m1 0h4m4 0h1m1 0h2m1 0h6m5 0h1m2 0h2m2 0h5m17 0h4m2 0h2m1 0h5m7 0h5m3 0h1m9 0h3m2 0h2m34 0h3m1 0h2m2 0h6m1 0h1m3 0h2m1 0h1m1 0h1m3 0h9m13 0h10m8 0h1"/><path stroke="#1c7a32" stroke-width="1.06" d="M69.5 141.1h14m6 0h2m8 0h2m4 0h1m4 0h2m1 0h3m5 0h5m2 0h3m2 0h2m14 0h4m6 0h6m6 0h1m1 0h3m13 0h8m33 0h6m1 0h1m2 0h3m1 0h2m3 0h4m1 0h1m6 0h2m1 0h3m10 0h1m2 0h3m1 0h6"/><path stroke="#1c7a32" stroke-width="1.91" d="M69.5 169h5m1 0h3m1 0h1m2 0h1m3 0h2m2 0h1m2 0h3m2 0h1m6 0h1m4 0h2m1 0h1m4 0h1m4 0h4m1 0h3m4 0h1m2 0h5m1 0h2m1 0h1m2 0h4m2 0h1m2 0h6m6 0h5m13 0h1m3 0h1m36 0h9m3 0h2m1 0h1m3 0h4m7 0h1m1 0h4m14 0h6m2 0h6m2 0h1m32 0h2M69.5 170.9h9m1 0h2m2 0h1m3 0h4m3 0h2m2 0h3m4 0h2m2 0h3m5 0h2m2 0h10m4 0h1m10 0h19m6 0h5m3 0h1m50 0h5m10 0h1m3 0h5m7 0h4m14 0h11m2 0h4m34 0h1M69.5 172.7h5m1 0h5m1 0h2m4 0h1m2 0h1m8 0h2m4 0h1m4 0h5m8 0h8m2 0h3m2 0h5m6 0h4m1 0h3m1 0h7m5 0h6m1 0h1m1 0h1m12 0h1m1 0h3m33 0h3m1 0h1m5 0h4m1 0h7m5 0h8m1 0h1m15 0h8m4 0h2m33 0h1M69.5 174.6h9m8 0h2m2 0h1m3 0h1m4 0h2m4 0h1m4 0h2m6 0h1m2 0h6m5 0h1m3 0h2m3 0h2m7 0h5m1 0h1m2 0h6m6 0h1m1 0h3m2 0h2m9 0h1m2 0h1m2 0h2m33 0h9m1 0h1m8 0h4m3 0h2m3 0h6m13 0h9m3 0h5m5 0h1m26 0h1M69.5 176.4h9m21 0h2m9 0h2m9 0h4m1 0h1m1 0h3m2 0h3m3 0h2m8 0h6m1 0h1m1 0h7m1 0h2m3 0h5m13 0h1m40 0h5m2 0h1m4 0h5m1 0h5m8 0h6m13 0h12m3 0h3m31 0h1M69.5 178.3h5m1 0h3m11 0h1m2 0h3m4 0h2m4 0h2m3 0h2m9 0h5m2 0h1m1 0h1m1 0h2m1 0h1m1 0h3m1 0h2m6 0h4m3 0h5m1 0h2m1 0h2m4 0h5m1 0h1m11 0h1m40 0h6m4 0h4m1 0h4m1 0h5m3 0h6m16 0h1m1 0h8m39 0h2M69.5 180.1h2m2 0h5m1 0h1m2 0h2m2 0h5m3 0h7m9 0h4m7 0h4m3 0h3m1 0h4m3 0h1m2 0h1m1 0h1m1 0h1m1 0h5m1 0h11m5 0h6m3 0h2m8 0h1m40 0h5m13 0h6m3 0h2m2 0h6m13 0h1m3 0h1m2 0h3m2 0h1m5 0h2m29 0h1M70.5 182h11m5 0h5m7 0h3m7 0h8m2 0h1m2 0h19m4 0h1m1 0h1m2 0h2m1 0h2m2 0h1m3 0h5m6 0h5m3 0h1m15 0h2m33 0h5m5 0h3m6 0h1m1 0h2m8 0h3m18 0h11m8 0h2m26 0h1M69.5 183.8h5m1 0h3m1 0h1m7 0h1m1 0h2m3 0h1m15 0h2m9 0h6m1 0h3m4 0h6m1 0h3m4 0h6m1 0h9m6 0h5m3 0h1m9 0h1m1 0h6m33 0h6m4 0h2m1 0h1m1 0h1m3 0h4m1 0h1m3 0h1m3 0h2m16 0h10m4 0h4m1 0h4m26 0h2M69.5 185.7h5m2 0h2m9 0h4m8 0h2m4 0h1m4 0h2m1 0h6m2 0h10m2 0h1m1 0h1m3 0h4m1 0h1m4 0h2m1 0h2m2 0h2m1 0h4m1 0h1m5 0h2m1 0h3m2 0h3m12 0h1m2 0h1m33 0h3m4 0h3m2 0h2m5 0h5m7 0h5m4 0h1m9 0h1m3 0h6m3 0h1m35 0h2M69.5 187.5h4m1 0h6m6 0h1m1 0h1m5 0h2m2 0h1m10 0h3m1 0h3m2 0h1m2 0h2m3 0h2m10 0h5m1 0h1m3 0h5m2 0h2m2 0h6m6 0h6m15 0h1m37 0h5m2 0h7m5 0h4m8 0h2m1 0h1m9 0h1m5 0h1m2 0h7m39 0h1M69.5 189.4h5m1 0h5m2 0h1m3 0h5m1 0h1m12 0h1m11 0h1m3 0h6m1 0h9m1 0h2m2 0h2m5 0h1m2 0h4m1 0h8m3 0h1m2 0h9m12 0h2m38 0h4m2 0h1m3 0h1m6 0h4m8 0h2m2 0h2m13 0h1m2 0h7m8 0h2m29 0h1M70.5 191.2h10m3 0h1m3 0h2m6 0h5m8 0h1m1 0h2m3 0h2m1 0h1m2 0h3m6 0h1m3 0h7m1 0h1m1 0h4m1 0h4m5 0h7m6 0h5m13 0h4m37 0h6m1 0h1m7 0h1m2 0h1m3 0h2m7 0h4m14 0h7m1 0h1m1 0h2m9 0h1m29 0h1M69.5 193.1h11m6 0h3m1 0h1m6 0h3m10 0h4m7 0h6m2 0h2m7 0h2m6 0h3m1 0h2m1 0h1m5 0h6m3 0h2m1 0h5m1 0h4m8 0h7m34 0h6m1 0h4m4 0h3m1 0h1m2 0h1m3 0h2m3 0h6m12 0h11m3 0h2m3 0h1M69.5 194.9h8m7 0h1m3 0h1m1 0h4m2 0h2m1 0h1m10 0h2m6 0h1m2 0h5m1 0h5m2 0h1m1 0h12m1 0h1m2 0h2m1 0h2m2 0h7m2 0h1m2 0h5m1 0h1m13 0h5m34 0h5m1 0h2m2 0h1m5 0h1m1 0h1m2 0h3m7 0h1m1 0h2m14 0h2m1 0h5m2 0h1m3 0h2m6 0h1m28 0h1M69.5 196.8h13m3 0h2m11 0h2m8 0h4m2 0h2m5 0h7m2 0h1m3 0h1m1 0h5m6 0h2m1 0h1m1 0h2m1 0h1m3 0h6m3 0h1m2 0h5m13 0h2m1 0h4m34 0h6m1 0h1m2 0h1m8 0h5m3 0h2m5 0h3m13 0h5m1 0h4m3 0h1m6 0h2M70.5 198.6h10m1 0h1m1 0h6m5 0h3m2 0h1m10 0h2m3 0h3m3 0h5m1 0h1m2 0h1m3 0h1m5 0h1m3 0h3m3 0h1m2 0h1m5 0h6m3 0h2m1 0h3m1 0h1m1 0h2m10 0h3m39 0h5m3 0h1m7 0h2m3 0h1m8 0h5m13 0h11m3 0h3m1 0h1M70.5 200.4h10m9 0h1m7 0h4m4 0h2m3 0h4m4 0h1m2 0h5m4 0h2m1 0h1m2 0h2m1 0h3m1 0h2m1 0h1m1 0h1m1 0h2m3 0h1m2 0h3m1 0h3m3 0h2m1 0h5m4 0h1m8 0h5m2 0h1m33 0h2m1 0h3m9 0h4m3 0h1m3 0h2m3 0h1m1 0h2m16 0h10m2 0h2m3 0h1m3 0h1m26 0h2M70.5 202.3h3m3 0h4m6 0h3m1 0h1m4 0h2m2 0h1m10 0h2m6 0h1m2 0h5m2 0h5m7 0h1m8 0h4m6 0h2m1 0h3m3 0h1m2 0h5m1 0h2m14 0h2m35 0h8m7 0h3m3 0h2m8 0h1m1 0h2m15 0h10m2 0h2M72.5 204.1h8m1 0h1m2 0h5m1 0h1m3 0h1m3 0h3m9 0h3m5 0h1m4 0h3m1 0h1m1 0h2m5 0h3m5 0h1m2 0h6m3 0h2m1 0h6m6 0h5m13 0h5m36 0h5m2 0h1m5 0h6m3 0h2m7 0h4m15 0h10m3 0h2m3 0h1M70.5 206h10m1 0h1m2 0h5m1 0h1m3 0h3m2 0h2m9 0h2m5 0h2m2 0h5m1 0h5m2 0h1m4 0h2m1 0h3m3 0h1m1 0h3m6 0h6m1 0h2m3 0h5m1 0h2m10 0h2m39 0h6m1 0h1m2 0h4m1 0h2m1 0h2m3 0h1m2 0h1m4 0h1m1 0h4m11 0h12m5 0h1m2 0h4m27 0h2M70.5 207.8h10m1 0h1m1 0h2m1 0h1m1 0h1m1 0h1m4 0h3m1 0h2m6 0h1m3 0h1m5 0h2m2 0h5m1 0h1m8 0h3m1 0h1m3 0h1m2 0h7m1 0h1m3 0h7m5 0h5m1 0h2m10 0h2m1 0h4m34 0h6m1 0h3m5 0h4m1 0h4m3 0h1m3 0h6m12 0h11M69.5 209.7h11m1 0h1m1 0h2m3 0h2m3 0h1m3 0h3m10 0h2m3 0h1m2 0h1m2 0h4m4 0h2m3 0h1m1 0h3m1 0h3m3 0h7m3 0h1m2 0h2m1 0h3m3 0h1m2 0h5m1 0h1m2 0h1m8 0h5m1 0h2m34 0h5m2 0h2m6 0h8m7 0h4m1 0h1m13 0h10"/><path stroke="#42a048" stroke-width="1.76" d="M71.5 5.7h1m3 0h1m43 0h1m113 0h1m8 0h1m3 0h1m7 0h2m32 0h2"/><path stroke="#42a048" stroke-width="1.9" d="M71.5 7.4h1m23 0h1m3 0h1m16 0h1m4 0h5m31 0h1m87 0h1M132.5 9.3h2m24 0h1m24 0h1m12 0h1m40 0h2m6 0h2M72.5 11.1h1m86 0h3m21 0h4m58 0h1m13 0h1m3 0h2m16 0h2M71.5 12.9h2m172 0h1m26 0h1m12 0h3M91.5 14.8h1m27 0h2m9 0h1m28 0h1m70 0h1m14 0h2m8 0h1m19 0h1m7 0h1m1 0h1m3 0h1M71.5 16.6h1m87 0h1m21 0h1m63 0h1m32 0h1m2 0h1M69.5 18.4h2m1 0h1m18 0h3m42 0h1m22 0h1m11 0h1m11 0h2m8 0h1m54 0h1M71.5 20.3h2m24 0h2m19 0h1m20 0h2m12 0h1m5 0h3m13 0h1m63 0h1m2 0h1m2 0h1m35 0h1m1 0h1M83.5 100.5h1m7 0h2m38 0h1m13 0h2m3 0h1m9 0h1m75 0h1m48 0h2m2 0h1M83.5 102.4h2m6 0h1m21 0h2m35 0h2m1 0h1m39 0h1m42 0h4m3 0h1m1 0h1m16 0h1M83.5 104.2h2m7 0h1m57 0h1m21 0h2m62 0h2m50 0h1M84.5 106h1m67 0h2m20 0h1m15 0h1m40 0h3m2 0h1m5 0h3m8 0h1m8 0h2M83.5 107.9h3m7 0h2m18 0h1m36 0h1m1 0h2m15 0h2m1 0h1m63 0h1m8 0h2M83.5 109.7h3m5 0h3m3 0h2m14 0h2m35 0h1m2 0h1m39 0h2m44 0h2m21 0h1m21 0h3m2 0h1M88.5 111.5h1m6 0h2m16 0h1m29 0h1m1 0h1m7 0h1m82 0h1m3 0h1m1 0h1m2 0h1M94.5 113.4h1m20 0h1m14 0h1m4 0h1m4 0h2m11 0h1m3 0h1m78 0h2m7 0h1m16 0h1M79.5 211.5h1m5 0h2m34 0h1m5 0h2m7 0h1m2 0h1m1 0h1m11 0h1m3 0h1m4 0h1m33 0h1m36 0h2m1 0h2m8 0h3m27 0h1m10 0h1m1 0h1M77.5 213.4h1m34 0h3m13 0h4m57 0h1m46 0h2m4 0h2m4 0h1m15 0h3m20 0h1m1 0h1M73.5 215.2h2m3 0h2m32 0h1m15 0h1m8 0h2m8 0h2m4 0h1m38 0h1m2 0h1m40 0h3m6 0h4m37 0h1m2 0h1M70.5 217h2m21 0h1m5 0h1m21 0h6m1 0h1m18 0h1m5 0h1m10 0h1m71 0h1m4 0h2m21 0h1m22 0h1m1 0h1M77.5 218.9h1m34 0h1m23 0h5m4 0h1m7 0h1m10 0h1m31 0h1m36 0h1m2 0h2m10 0h1m40 0h1M73.5 220.7h4m2 0h1m32 0h1m8 0h1m6 0h1m4 0h2m3 0h3m6 0h2m7 0h3m3 0h1m2 0h1m30 0h1m37 0h1m1 0h2m5 0h4m1 0h1m12 0h1m25 0h3M70.5 222.5h2m4 0h1m16 0h1m27 0h3m4 0h1m7 0h1m2 0h1m2 0h3m4 0h1m12 0h1m4 0h1m97 0h2m22 0h1M121.5 224.4h3m4 0h3m5 0h1m2 0h1m1 0h4m2 0h1m5 0h1m2 0h2m35 0h1m1 0h1m40 0h1m27 0h2M71.5 226.2h1m7 0h1m3 0h1m9 0h1m18 0h2m7 0h1m6 0h1m1 0h1m2 0h1m19 0h1m10 0h1m71 0h1m5 0h1m29 0h2m15 0h1M79.5 228.1h1m5 0h1m7 0h1m27 0h1m5 0h4m2 0h1m5 0h2m1 0h1m1 0h2m1 0h2m24 0h1m21 0h1m37 0h2m1 0h1m5 0h1m5 0h1M71.5 229.9h2m37 0h1m23 0h1m18 0h1m8 0h2m69 0h3m8 0h3m40 0h1M70.5 231.7h2m7 0h1m13 0h1m18 0h1m7 0h1m7 0h1m8 0h1m2 0h1m21 0h2m31 0h2m36 0h1m9 0h3m36 0h1m4 0h1M79.5 233.6h1m32 0h1m15 0h2m6 0h1m10 0h1m1 0h2m6 0h2m3 0h2m27 0h1m4 0h1m39 0h1m52 0h1M93.5 235.4h2m30 0h1m1 0h4m2 0h2m4 0h2m6 0h2m23 0h1m22 0h2m36 0h4m11 0h1m16 0h1M71.5 237.2h1m7 0h1m14 0h1m17 0h2m14 0h1m4 0h1m2 0h1m2 0h2m23 0h1m24 0h2m4 0h2M70.5 239.1h1m13 0h2m7 0h2m17 0h1m8 0h1m17 0h1m24 0h1m68 0h1m2 0h3m27 0h1"/><path stroke="#42a048" stroke-width="1.98" d="M156.5 22.2h1m2 0h2m75 0h1m5 0h4m35 0h2m2 0h1M98.5 24.1h1m60 0h2m33 0h1m47 0h7m39 0h1M72.5 26h1m37 0h1m18 0h1m9 0h1m16 0h1m2 0h2m30 0h1m48 0h1m6 0h1m1 0h2m30 0h1m5 0h1M72.5 27.9h1m19 0h3m64 0h1m23 0h1m11 0h1m49 0h1m11 0h1m5 0h2m16 0h1M72.5 29.8h1m61 0h1m24 0h2m24 0h1m59 0h1M80.5 142.6h1m47 0h2m23 0h1m40 0h1m59 0h2M86.5 144.5h1m59 0h1m9 0h1m37 0h2m55 0h2m17 0h1M119.5 146.4h2m7 0h1m6 0h4m7 0h1m11 0h1m111 0h1M124.5 148.3h1m3 0h1m23 0h2m116 0h1M83.5 150.2h1m11 0h2m22 0h2m14 0h1m22 0h1m10 0h1m24 0h1m75 0h1"/><path stroke="#42a048" stroke-width="1.88" d="M98.5 31.7h1m30 0h1m58 0h1M76.5 33.5h2m51 0h1m1 0h2m7 0h7m1 0h1m14 0h2M77.5 35.4h1m16 0h1m3 0h1m17 0h1m18 0h2m2 0h2m7 0h1m3 0h2m88 0h2m13 0h2M121.5 37.2h1m26 0h1m3 0h1m35 0h1m41 0h2m25 0h1M98.5 39h1m33 0h1m17 0h1m1 0h2m9 0h1m26 0h3m44 0h4m5 0h1M71.5 40.8h1m57 0h1m2 0h1m6 0h1m5 0h2m4 0h3m9 0h1m24 0h1m44 0h3m10 0h1m5 0h1m5 0h3M129.5 42.6h2m8 0h3m8 0h1m2 0h1m9 0h2m21 0h3m46 0h1m10 0h1m5 0h1m17 0h4m7 0h1m4 0h1M70.5 44.5h2m24 0h3m29 0h3m19 0h1m37 0h1m52 0h1m3 0h1m6 0h1M129.5 46.3h2m1 0h1m6 0h2m7 0h1m1 0h1m12 0h1m24 0h1m5 0h2m50 0h1m25 0h5M87.5 152.1h2m39 0h1m6 0h1m10 0h1m47 0h1M135.5 153.9h1m10 0h2m12 0h2M135.5 155.8h2m9 0h1m2 0h1m25 0h1m18 0h1m36 0h1M81.5 157.6h1m13 0h2m25 0h1m5 0h1m44 0h1m65 0h1m5 0h4m6 0h1m2 0h1m12 0h1M73.5 159.4h1m17 0h1m20 0h1m14 0h4m4 0h1m10 0h2m92 0h1m4 0h2m18 0h1m4 0h1"/><path stroke="#42a048" stroke-width="1.92" d="M143.5 48.1h3m7 0h1m82 0h3M72.5 50h1m65 0h3m7 0h1m4 0h1m100 0h1M171.5 51.9h1m69 0h3m2 0h1M240.5 53.7h4m1 0h1m6 0h1m1 0h1m8 0h1M140.5 55.6h1m97 0h1m13 0h1m10 0h1M153.5 57.5h1m91 0h2m7 0h1m3 0h1M150.5 59.3h1m2 0h1m91 0h4m9 0h1m18 0h2M119.5 61.2h2m25 0h1m99 0h3m5 0h1m32 0h3M149.5 63h1m3 0h1m7 0h2m89 0h1m2 0h2m25 0h1M153.5 64.9h1m18 0h2m72 0h2m15 0h1m22 0h4M149.5 66.8h1m96 0h3m3 0h1m8 0h1m25 0h3M73.5 68.6h2m167 0h2m6 0h1m1 0h1m12 0h2M141.5 70.5h1m4 0h1m99 0h3m5 0h2M129.5 72.4h2m18 0h1m9 0h2m82 0h1m2 0h1m5 0h1m19 0h2m6 0h1"/><path stroke="#42a048" stroke-width="1.95" d="M73.5 74.2h1m3 0h1m18 0h2m21 0h2m70 0h6m36 0h2m1 0h1m5 0h1m5 0h1m17 0h1M73.5 76.1h1m3 0h1m17 0h1m1 0h2m9 0h1m10 0h1m69 0h3m4 0h1m34 0h3m14 0h1m4 0h1m6 0h1M70.5 78h2m23 0h3m34 0h2m26 0h2m32 0h3m34 0h1m1 0h3m46 0h4M73.5 79.9h1m21 0h1m2 0h1m20 0h1m10 0h1m19 0h1m115 0h1M95.5 81.8h1m100 0h1m36 0h1m5 0h2m7 0h1M73.5 83.7h1m21 0h1m2 0h1m9 0h1m10 0h1m7 0h1m66 0h1m41 0h2m4 0h1m23 0h1m62 0h1M112.5 85.6h2m5 0h2m5 0h1m5 0h6m120 0h1M72.5 87.5h1m24 0h2m9 0h2m123 0h1m15 0h1m16 0h1M73.5 89.4h1m1 0h2m20 0h2m20 0h1m15 0h1m60 0h1m34 0h1m8 0h1m7 0h1"/><path stroke="#42a048" stroke-width="2.09" d="M72.5 91.3h1m10 0h2m11 0h1m17 0h1m15 0h1m12 0h1m2 0h2m21 0h2m67 0h1m6 0h1m24 0h3m7 0h1m8 0h1m39 0h2M69.5 93.3h1m13 0h1m3 0h1m32 0h1m23 0h2m28 0h1m21 0h1m39 0h1m2 0h1m2 0h1m2 0h3m14 0h1m3 0h1M74.5 95.4h1m8 0h2m9 0h1m18 0h2m35 0h4m20 0h1M83.5 97.4h2m8 0h2m55 0h1m5 0h1m1 0h1m77 0h2"/><path stroke="#42a048" stroke-width="1.26" d="M76.5 99h1m6 0h1m12 0h1m36 0h2m8 0h4m17 0h1m8 0h1m19 0h2m94 0h1"/><path stroke="#42a048" stroke-width="2.01" d="M82.5 115.3h1m44 0h1m21 0h1m42 0h1m52 0h2M111.5 117.2h1m15 0h1m32 0h1m32 0h2m48 0h1m3 0h2m22 0h1M86.5 161.3h1m33 0h1m7 0h1m8 0h4m5 0h2m132 0h1M81.5 163.2h2m12 0h3m37 0h1m58 0h2m50 0h1m4 0h1m5 0h2M76.5 165.2h1m49 0h1m1 0h1m5 0h5m106 0h1m24 0h1M73.5 167.1h2m6 0h1m4 0h2m26 0h1m19 0h1m2 0h1m6 0h1m49 0h1m75 0h2"/><path stroke="#42a048" stroke-width="1.46" d="M123.5 118.9h1m4 0h1m9 0h1m20 0h2m28 0h1m2 0h1m50 0h1m27 0h1M112.5 120.3h1m2 0h1m6 0h2m35 0h1m4 0h1m2 0h3m24 0h1m84 0h1"/><path stroke="#42a048" stroke-width="1.84" d="M77.5 121.9h1m34 0h2m53 0h2m73 0h2M112.5 123.7h3m8 0h2m13 0h2m19 0h1m4 0h1m2 0h1m24 0h1m3 0h1m46 0h1m27 0h4m9 0h1M138.5 125.5h1m50 0h1m2 0h2m55 0h2m21 0h1M82.5 127.2h1m48 0h1m32 0h1m74 0h1m8 0h1m22 0h1M70.5 129h2m53 0h1m33 0h1m4 0h1m2 0h1m24 0h1m78 0h2M112.5 130.8h1m6 0h1m10 0h1m7 0h2m52 0h1m3 0h1m46 0h3m25 0h1M82.5 132.6h1m5 0h1m37 0h1m5 0h1m5 0h1m6 0h1m13 0h1m33 0h1m51 0h2m23 0h2M77.5 134.4h1m51 0h2m5 0h3m11 0h1m2 0h1m5 0h1m30 0h1m1 0h2m47 0h1m9 0h1m13 0h1M99.5 136.1h1m12 0h1m13 0h1m13 0h2m50 0h2m43 0h1m33 0h2m2 0h1M82.5 137.9h1m29 0h1m2 0h1m45 0h1m5 0h1m25 0h1m46 0h2m45 0h2M84.5 139.7h3m46 0h1m15 0h1m14 0h1m27 0h2m2 0h1m39 0h2m13 0h1"/><path stroke="#42a048" stroke-width="1.06" d="M112.5 141.1h1m25 0h2m5 0h1m21 0h3m2 0h1m70 0h1m19 0h1m19 0h1"/><path stroke="#42a048" stroke-width="1.91" d="M74.5 169h1m8 0h1m15 0h2m11 0h1m7 0h3m42 0h1m73 0h2m13 0h1m11 0h1m5 0h1M112.5 170.9h2m51 0h1m23 0h1m4 0h1m40 0h1m29 0h1m11 0h1M93.5 172.7h3m24 0h1m32 0h1m11 0h2m22 0h3m41 0h1m1 0h1m18 0h3m8 0h1m15 0h1M83.5 174.6h3m5 0h3m18 0h1m7 0h1m7 0h4m6 0h3m8 0h1m7 0h1m7 0h1m6 0h1m66 0h1m37 0h1M83.5 176.4h2m5 0h2m20 0h4m4 0h1m4 0h1m16 0h3m20 0h1m24 0h1m2 0h1m41 0h1m18 0h1m1 0h1m20 0h1M81.5 178.3h1m1 0h1m28 0h3m28 0h2m2 0h2m4 0h1m7 0h1m82 0h1m4 0h1m16 0h1m10 0h1m3 0h1M71.5 180.1h2m18 0h3m26 0h1m4 0h1m1 0h1m8 0h1m16 0h1m38 0h1m42 0h1m6 0h2m10 0h1m26 0h3m1 0h2M83.5 182h1m7 0h1m51 0h1m1 0h1m5 0h1m13 0h2m22 0h1m45 0h1m14 0h1m14 0h1m14 0h2M83.5 183.8h1m15 0h2m11 0h2m34 0h1m16 0h1m76 0h1m18 0h1m4 0h1m10 0h1M83.5 185.7h1m28 0h1m50 0h1m8 0h1m16 0h2m4 0h1m37 0h3m30 0h1m14 0h3M83.5 187.5h1m3 0h1m11 0h2m11 0h1m7 0h1m7 0h3m15 0h2m17 0h2m22 0h1m45 0h1m8 0h1m9 0h1m10 0h2m14 0h2M83.5 189.4h1m7 0h1m7 0h2m9 0h4m36 0h2m13 0h1m23 0h2m39 0h2m7 0h2m13 0h1m8 0h2m12 0h2m2 0h2M69.5 191.2h1m58 0h2m2 0h1m15 0h1m4 0h1m93 0h1m17 0h2m5 0h4m10 0h1M100.5 193.1h1m26 0h1m3 0h2m9 0h2m1 0h1m19 0h1m30 0h1m51 0h1m1 0h2M77.5 194.9h3m15 0h1m4 0h1m50 0h1m17 0h2m88 0h2m4 0h2m14 0h1M91.5 196.8h1m8 0h1m27 0h2m39 0h2m106 0h1m7 0h1m44 0h1M69.5 198.6h1m30 0h1m11 0h2m14 0h1m2 0h3m4 0h2m34 0h1m55 0h1m22 0h1m12 0h1M69.5 200.4h1m16 0h3m26 0h1m3 0h1m25 0h1m1 0h1m4 0h2m7 0h1m32 0h2m36 0h1m17 0h2m6 0h1m6 0h2M69.5 202.3h1m5 0h1m24 0h1m37 0h1m6 0h2m6 0h1m7 0h1m27 0h4m2 0h1m48 0h1m5 0h1m9 0h1m4 0h2M113.5 204.1h1m14 0h1m3 0h2m5 0h1m13 0h1m40 0h2m69 0h2M69.5 206h1m62 0h1m61 0h3m53 0h3m6 0h2M69.5 207.8h1m17 0h1m4 0h3m15 0h1m18 0h1m15 0h2m44 0h1M86.5 209.7h1m13 0h1m25 0h2m4 0h1m12 0h1m7 0h1m7 0h1m7 0h1m24 0h1m35 0h1m5 0h1m22 0h1"/><path stroke="#efe2a8" stroke-width="1.76" d="M105.5 5.7h2"/><path stroke="#efe2a8" stroke-width="1.9" d="M105.5 7.4h2M67.5 9.3h2m36 0h1M67.5 11.1h2m9 0h2m25 0h2M67.5 12.9h2m9 0h2M67.5 14.8h2m10 0h1m25 0h2M67.5 16.6h2M67.5 18.4h2m10 0h1m25 0h2M67.5 20.3h2m36 0h1M68.5 100.5h1M68.5 102.4h1M67.5 104.2h2M67.5 106h1M67.5 109.7h1M67.5 224.4h2M67.5 228.1h2M68.5 229.9h1M68.5 233.6h1M67.5 237.2h2"/><path stroke="#efe2a8" stroke-width="1.98" d="M67.5 22.2h1m10 0h1m26 0h1M67.5 24.1h2m10 0h1m25 0h2M78.5 26h2M78.5 27.9h2m25 0h2M67.5 29.8h2m9 0h1m26 0h1M67.5 146.4h2M67.5 150.2h2"/><path stroke="#efe2a8" stroke-width="1.88" d="M78.5 33.5h1M67.5 35.4h2m36 0h2M67.5 37.2h2m9 0h1m26 0h1M78.5 39h1m26 0h2M78.5 40.8h1m26 0h2M78.5 42.6h1m26 0h1M105.5 44.5h2M78.5 46.3h2m25 0h2M67.5 155.8h1"/><path stroke="#efe2a8" stroke-width="1.92" d="M78.5 48.1h2m25 0h1M78.5 50h2m25 0h2M68.5 51.9h1m10 0h1M68.5 53.7h1m9 0h1m26 0h1M68.5 55.6h1M78.5 57.5h1m26 0h1M105.5 59.3h2M67.5 61.2h2M67.5 63h2m9 0h2m25 0h1M78.5 64.9h1m26 0h1M67.5 66.8h2m9 0h1m26 0h2M67.5 68.6h2m9 0h1m26 0h1M78.5 70.5h1m26 0h2M68.5 72.4h1m9 0h1m26 0h2"/><path stroke="#efe2a8" stroke-width="1.95" d="M67.5 74.2h1M67.5 76.1h1m10 0h2M67.5 78h1m10 0h2M67.5 79.9h2m9 0h1m27 0h1M67.5 81.8h2m37 0h1M67.5 83.7h2m37 0h1M67.5 85.6h1M67.5 87.5h2m9 0h1m27 0h1M67.5 89.4h1m11 0h1"/><path stroke="#efe2a8" stroke-width="2.09" d="M67.5 91.3h2M67.5 95.4h2M68.5 97.4h1"/><path stroke="#efe2a8" stroke-width="1.26" d="M68.5 99h1"/><path stroke="#efe2a8" stroke-width="1.46" d="M67.5 118.9h1M68.5 120.3h1"/><path stroke="#efe2a8" stroke-width="1.84" d="M67.5 125.5h2M67.5 129h1M67.5 139.7h2"/><path stroke="#efe2a8" stroke-width="2.01" d="M67.5 161.3h2"/><path stroke="#efe2a8" stroke-width="1.91" d="M67.5 169h2M67.5 170.9h2M67.5 172.7h2M67.5 176.4h2M67.5 178.3h2M67.5 180.1h2M67.5 183.8h2M67.5 185.7h2M67.5 187.5h2M67.5 189.4h1M67.5 191.2h2M67.5 193.1h2M67.5 194.9h2M67.5 196.8h2M67.5 198.6h2M67.5 200.4h2M67.5 202.3h2M67.5 206h2M67.5 207.8h2M67.5 209.7h2"/><path stroke="#cacaea" stroke-width="1.76" d="M137.5 5.7h1m1 0h1"/><path stroke="#cacaea" stroke-width="1.9" d="M83.5 7.4h1m60 0h2m190 0h1M136.5 9.3h1m11 0h1M170.5 11.1h1m165 0h1M138.5 12.9h3M136.5 16.6h1m207 0h3M144.5 18.4h2m190 0h1M138.5 20.3h1m197 0h1M267.5 106h1M267.5 113.4h2M348.5 211.5h1M268.5 233.6h1"/><path stroke="#cacaea" stroke-width="1.98" d="M109.5 22.2h1m26 0h1m9 0h2M136.5 24.1h3m1 0h1m195 0h1M136.5 26h1M137.5 27.9h2m204 0h1M334.5 29.8h3m5 0h1M267.5 142.6h1"/><path stroke="#cacaea" stroke-width="1.88" d="M81.5 31.7h1m258 0h3M88.5 35.4h2m56 0h2M80.5 37.2h3m1 0h1m4 0h1m51 0h3m1 0h2m187 0h2M89.5 39h2m57 0h1m191 0h4M84.5 40.8h1m3 0h2m18 0h1m158 0h1m72 0h3M84.5 42.6h1m51 0h1m33 0h1m166 0h1M146.5 44.5h1m188 0h1m4 0h2M89.5 46.3h2m45 0h3m201 0h2M269.5 159.4h1"/><path stroke="#cacaea" stroke-width="1.92" d="M87.5 48.1h3m44 0h1m211 0h2M86.5 50h2m47 0h2M166.5 51.9h1m124 0h2m52 0h2M300.5 53.7h1M91.5 55.6h1m56 0h1m151 0h1M300.5 57.5h2M85.5 59.3h2m61 0h1m141 0h1M135.5 61.2h1m164 0h1M131.5 63h1m16 0h1m196 0h1M111.5 64.9h1m188 0h1m44 0h3M145.5 66.8h2m18 0h1m134 0h2m43 0h1M90.5 68.6h1m5 0h2m34 0h2m7 0h1m203 0h2m1 0h1M135.5 70.5h1m6 0h1M87.5 72.4h4m209 0h1"/><path stroke="#cacaea" stroke-width="1.95" d="M83.5 74.2h1M83.5 76.1h1M83.5 79.9h1M83.5 87.5h1M83.5 89.4h2"/><path stroke="#cacaea" stroke-width="2.09" d="M348.5 91.3h1M267.5 95.4h1"/><path stroke="#cacaea" stroke-width="1.84" d="M148.5 121.9h1M144.5 132.6h1M146.5 136.1h1M138.5 137.9h1M142.5 139.7h2"/><path stroke="#cacaea" stroke-width="1.91" d="M268.5 193.1h1"/><path stroke="#92c87c" stroke-width="1.76" d="M176.5 5.7h2m112 0h2"/><path stroke="#92c87c" stroke-width="1.9" d="M154.5 7.4h1m22 0h1m2 0h1m121 0h1M154.5 11.1h2M180.5 12.9h1M155.5 14.8h1m20 0h2m118 0h1m3 0h3M154.5 16.6h2m24 0h1M177.5 18.4h1M180.5 20.3h1m113 0h2M105.5 102.4h1m192 0h1M155.5 104.2h1m142 0h2m1 0h2M118.5 106h1m180 0h1M105.5 107.9h2m48 0h1m134 0h2m10 0h1M118.5 109.7h1m179 0h2M105.5 111.5h1m1 0h2m46 0h1m143 0h1M292.5 113.4h1m5 0h1M107.5 211.5h1m186 0h2M177.5 213.4h1m2 0h1m121 0h1M296.5 215.2h1M105.5 217h1m1 0h2M117.5 218.9h2m171 0h1M107.5 220.7h1m47 0h1m24 0h1M107.5 222.5h1M108.5 224.4h2m67 0h1m119 0h1M176.5 226.2h1M180.5 228.1h1m114 0h1m1 0h1M107.5 229.9h2m7 0h2m37 0h1m139 0h6M107.5 231.7h1m68 0h2M107.5 233.6h3m180 0h2m1 0h3m1 0h1m3 0h1M176.5 235.4h1M107.5 237.2h1m47 0h1m139 0h1M109.5 239.1h1m8 0h1m61 0h1m119 0h2"/><path stroke="#92c87c" stroke-width="1.98" d="M298.5 26h1M180.5 27.9h1m113 0h1M177.5 29.8h1M107.5 142.6h1m9 0h1m62 0h1m111 0h2m3 0h1M107.5 144.5h1m70 0h1M107.5 146.4h1m9 0h2m59 0h1m119 0h2m2 0h1M137.5 148.3h1m38 0h2m115 0h1M106.5 150.2h2m69 0h2"/><path stroke="#92c87c" stroke-width="1.88" d="M155.5 31.7h1M178.5 33.5h1m117 0h1m4 0h1M292.5 35.4h1M298.5 37.2h1m1 0h3M179.5 39h2m112 0h2M297.5 40.8h2M180.5 42.6h1m110 0h1m4 0h1m4 0h1M294.5 44.5h1m2 0h1M291.5 46.3h1M105.5 152.1h2m2 0h1m66 0h1m1 0h1m122 0h2M106.5 153.9h2m9 0h1m21 0h2m14 0h1m22 0h3m111 0h3m6 0h2M107.5 155.8h2m190 0h2M105.5 157.6h1m1 0h1m28 0h1m39 0h1m1 0h3m121 0h1M299.5 159.4h1m2 0h1"/><path stroke="#92c87c" stroke-width="1.92" d="M176.5 48.1h1M154.5 50h1m21 0h1M176.5 51.9h5M117.5 53.7h1M116.5 55.6h1m60 0h3M116.5 57.5h1m59 0h2M117.5 59.3h1m58 0h1M176.5 61.2h1m2 0h2M116.5 63h1m59 0h3M118.5 64.9h1m57 0h1m3 0h1M116.5 66.8h2m36 0h1M176.5 68.6h1M117.5 72.4h1m58 0h1"/><path stroke="#92c87c" stroke-width="1.95" d="M116.5 74.2h1M295.5 76.1h3m4 0h1M118.5 78h1M136.5 79.9h2m157 0h1M302.5 81.8h1M117.5 83.7h2m57 0h2m119 0h1M148.5 87.5h1m153 0h1"/><path stroke="#92c87c" stroke-width="2.09" d="M176.5 91.3h2m120 0h2M155.5 93.3h1m134 0h2m6 0h3M155.5 95.4h1M155.5 97.4h1m143 0h1"/><path stroke="#92c87c" stroke-width="1.26" d="M290.5 99h1"/><path stroke="#92c87c" stroke-width="2.01" d="M176.5 115.3h3M117.5 117.2h1m58 0h4m116 0h2M107.5 161.3h1m9 0h1m181 0h1m2 0h1M107.5 163.2h3m68 0h2m122 0h1M154.5 165.2h1m140 0h2m2 0h1M117.5 167.1h2m59 0h2m111 0h5m3 0h4"/><path stroke="#92c87c" stroke-width="1.46" d="M106.5 118.9h1m1 0h1m9 0h1M118.5 120.3h1m57 0h3m111 0h1"/><path stroke="#92c87c" stroke-width="1.84" d="M118.5 121.9h1m35 0h1m22 0h2m113 0h2M106.5 123.7h1m69 0h2m118 0h2M118.5 125.5h1m57 0h4m116 0h1M176.5 127.2h1M106.5 129h1m11 0h1m57 0h1M116.5 130.8h3m35 0h2m21 0h4m109 0h1m5 0h1m2 0h2M108.5 132.6h1m9 0h1m58 0h2M177.5 134.4h1m122 0h1M107.5 136.1h1m10 0h1m58 0h3M106.5 139.7h1m187 0h3"/><path stroke="#92c87c" stroke-width="1.06" d="M106.5 141.1h1m11 0h1m59 0h1m111 0h1"/><path stroke="#92c87c" stroke-width="1.91" d="M155.5 169h1m145 0h2M178.5 170.9h1M176.5 172.7h1m120 0h6M155.5 174.6h1M155.5 178.3h1m139 0h3M106.5 180.1h1M155.5 182h1m21 0h2m114 0h1m3 0h2M105.5 183.8h1m2 0h1m46 0h1M295.5 185.7h1m6 0h1M179.5 187.5h1m115 0h1M302.5 189.4h1M107.5 191.2h1m1 0h1m44 0h2m22 0h2m112 0h3M107.5 193.1h1m183 0h2m7 0h1M107.5 194.9h3m68 0h3m109 0h1m1 0h1m2 0h2m1 0h3M107.5 196.8h1m69 0h1m114 0h1m3 0h4m2 0h1M179.5 198.6h1m111 0h2M107.5 200.4h1m184 0h1m7 0h2M106.5 202.3h3m70 0h2M105.5 204.1h1m1 0h2m69 0h3m119 0h1M179.5 206h2M107.5 209.7h3m66 0h1m1 0h1m113 0h2m3 0h1m1 0h1"/><path stroke="#a88070" stroke-width="1.76" d="M221.5 5.7h2"/><path stroke="#a88070" stroke-width="1.9" d="M223.5 9.3h1M221.5 11.1h4M221.5 18.4h1m1 0h2M221.5 20.3h3"/><path stroke="#a88070" stroke-width="1.98" d="M222.5 24.1h1M221.5 26h2M221.5 27.9h1m2 0h1"/><path stroke="#a88070" stroke-width="1.88" d="M221.5 31.7h4M221.5 33.5h1m1 0h2M221.5 35.4h1M221.5 37.2h4M221.5 39h4M221.5 40.8h1m1 0h2M221.5 42.6h2m1 0h1M221.5 44.5h4M221.5 46.3h1m2 0h1"/><path stroke="#a88070" stroke-width="1.95" d="M221.5 74.2h2M221.5 76.1h4M221.5 79.9h1M221.5 81.8h2m1 0h1M221.5 85.6h1M221.5 89.4h3"/><path stroke="#a88070" stroke-width="2.01" d="M221.5 115.3h4M221.5 117.2h3"/><path stroke="#a88070" stroke-width="1.46" d="M221.5 118.9h1m1 0h1M221.5 120.3h4"/><path stroke="#a88070" stroke-width="1.84" d="M221.5 121.9h4M221.5 123.7h2m1 0h1M221.5 125.5h1M224.5 127.2h1M221.5 129h4M221.5 130.8h4M221.5 132.6h4M221.5 134.4h4M223.5 136.1h2M221.5 137.9h4M221.5 139.7h2"/><path stroke="#a88070" stroke-width="1.06" d="M222.5 141.1h3"/><path stroke="#c6b03e" stroke-width="1.76" d="M295.5 5.7h1"/><path stroke="#c6b03e" stroke-width="1.9" d="M179.5 7.4h1m112 0h2m1 0h5M179.5 9.3h2m117 0h2M179.5 11.1h2m111 0h2m2 0h1M292.5 12.9h2m2 0h1M179.5 14.8h2m111 0h1M179.5 16.6h1m112 0h1m3 0h3M290.5 18.4h3m1 0h1M155.5 20.3h1m136 0h1m3 0h2M116.5 100.5h1m62 0h1m120 0h1M108.5 102.4h1m7 0h1m185 0h1M116.5 104.2h2m61 0h2M116.5 106h2M107.5 107.9h1m8 0h2m61 0h2m111 0h1M116.5 109.7h2m58 0h2m2 0h1m109 0h3M106.5 111.5h1m9 0h1M108.5 113.4h2m6 0h1m63 0h1m120 0h1M106.5 211.5h1m9 0h3m35 0h2m20 0h3m123 0h1M107.5 213.4h3m7 0h1m174 0h4m2 0h1m2 0h1M106.5 215.2h1m9 0h1m184 0h2M106.5 217h1m2 0h1m68 0h1m112 0h4M108.5 218.9h2m6 0h1m37 0h1m21 0h1m119 0h2m1 0h1M105.5 220.7h2m2 0h1m6 0h3m35 0h1m142 0h2m1 0h3M116.5 222.5h1m37 0h1m25 0h1m111 0h1M292.5 224.4h2M107.5 226.2h1m184 0h1m9 0h1M105.5 228.1h1m3 0h1m6 0h1m1 0h1m35 0h2m136 0h1m9 0h1M105.5 229.9h2m47 0h1m23 0h2m112 0h3M105.5 231.7h2m9 0h2m61 0h2m116 0h1m1 0h1m1 0h1M105.5 233.6h2m9 0h3m61 0h1m111 0h1m7 0h1M105.5 235.4h2m9 0h3m35 0h2m136 0h2m1 0h1M105.5 237.2h2m2 0h1m7 0h2m35 0h1m137 0h2m2 0h2M105.5 239.1h2m10 0h1m36 0h1m21 0h1m113 0h1m6 0h2m3 0h1"/><path stroke="#c6b03e" stroke-width="1.98" d="M154.5 22.2h1m25 0h1m111 0h1m2 0h4m3 0h1M296.5 24.1h1M179.5 26h1m116 0h2M178.5 27.9h2M178.5 29.8h1m111 0h1m1 0h1m3 0h1M118.5 142.6h1m57 0h3m122 0h2M106.5 144.5h1m70 0h1m124 0h1M116.5 146.4h1m60 0h1m118 0h2M106.5 148.3h1m189 0h1M296.5 150.2h1"/><path stroke="#c6b03e" stroke-width="1.88" d="M290.5 33.5h3m4 0h1M154.5 35.4h2m138 0h1m4 0h2M179.5 37.2h1m112 0h1M299.5 39h1M154.5 40.8h2m21 0h3M292.5 42.6h2m3 0h4M154.5 44.5h1m137 0h1m3 0h1m2 0h1M177.5 46.3h1m112 0h1m1 0h3m4 0h2M177.5 152.1h1m2 0h1m115 0h4M105.5 153.9h1m10 0h1m179 0h2M105.5 155.8h2m11 0h1m177 0h1M177.5 157.6h1m118 0h2M177.5 159.4h4m109 0h8m3 0h1"/><path stroke="#c6b03e" stroke-width="1.92" d="M155.5 48.1h1m22 0h1M155.5 50h1m21 0h2M155.5 53.7h1m20 0h1M155.5 57.5h1m22 0h1M155.5 59.3h1M155.5 61.2h1m22 0h1M155.5 63h1m23 0h1M178.5 64.9h1M155.5 68.6h1M178.5 70.5h2M155.5 72.4h1m23 0h1"/><path stroke="#c6b03e" stroke-width="1.95" d="M155.5 74.2h1m20 0h4m110 0h2m9 0h1M116.5 76.1h3m60 0h2m109 0h1m1 0h1m6 0h3M180.5 78h1m116 0h1M292.5 79.9h2m4 0h1m1 0h3M180.5 81.8h1m109 0h4m6 0h2M155.5 83.7h1m134 0h1m1 0h1m6 0h3M290.5 85.6h3M155.5 87.5h1m24 0h1m109 0h3M155.5 89.4h1m134 0h1"/><path stroke="#c6b03e" stroke-width="2.09" d="M116.5 91.3h3m36 0h1m22 0h2m113 0h1m1 0h3m3 0h1M107.5 93.3h2m183 0h1M116.5 95.4h2m61 0h1m120 0h1M116.5 97.4h1m62 0h2m109 0h1m4 0h2m3 0h1"/><path stroke="#c6b03e" stroke-width="1.26" d="M108.5 99h2m6 0h1m62 0h2m111 0h1"/><path stroke="#c6b03e" stroke-width="2.01" d="M105.5 115.3h2m2 0h1m6 0h3m60 0h2M116.5 117.2h1m1 0h1m175 0h1M118.5 161.3h1m58 0h2m1 0h1M117.5 163.2h2m58 0h1m113 0h1M107.5 165.2h1m10 0h1M155.5 167.1h1m21 0h1m2 0h1m109 0h1m5 0h2"/><path stroke="#c6b03e" stroke-width="1.46" d="M154.5 118.9h2m22 0h3M107.5 120.3h2m71 0h1m112 0h2"/><path stroke="#c6b03e" stroke-width="1.84" d="M116.5 121.9h1M116.5 123.7h1m37 0h1m23 0h3M105.5 125.5h2m9 0h1m180 0h4M116.5 127.2h1m176 0h2m5 0h3M116.5 129h1M106.5 130.8h1m69 0h1M116.5 132.6h1M293.5 134.4h1M116.5 136.1h2m172 0h2m1 0h6M106.5 137.9h1m9 0h3m61 0h1M116.5 139.7h3m35 0h2m21 0h2m1 0h1m112 0h1"/><path stroke="#c6b03e" stroke-width="1.06" d="M116.5 141.1h1m59 0h2m2 0h1m113 0h3"/><path stroke="#c6b03e" stroke-width="1.91" d="M116.5 169h2m36 0h1m139 0h2m1 0h3M291.5 170.9h1m5 0h3m1 0h2M107.5 172.7h1m10 0h1m173 0h2M117.5 174.6h1m179 0h5M118.5 176.4h1m36 0h1m24 0h1m120 0h2M117.5 178.3h1m61 0h2M108.5 180.1h2m68 0h1m122 0h2M117.5 182h1m36 0h1m25 0h1m113 0h1m4 0h2M109.5 183.8h1m188 0h1M109.5 185.7h1m66 0h2m116 0h1m2 0h1m1 0h1M116.5 187.5h2m36 0h1m142 0h1M291.5 189.4h2m1 0h4M177.5 191.2h1m121 0h1M105.5 193.1h2m10 0h2M116.5 194.9h1m37 0h1m21 0h1m114 0h1M106.5 196.8h1m69 0h1m3 0h1m109 0h1M176.5 198.6h1m3 0h1m115 0h1M109.5 200.4h1m6 0h2m58 0h2m113 0h1m4 0h1M109.5 202.3h1m7 0h1m58 0h1m119 0h1M106.5 204.1h1m2 0h1m6 0h2m172 0h3m3 0h2m1 0h1M105.5 206h5m6 0h1m38 0h1m136 0h3m1 0h1M116.5 207.8h1m59 0h1m2 0h1m111 0h2m3 0h6M116.5 209.7h2m37 0h1m135 0h1m4 0h1"/></g></g></defs><use href="#hm" filter="url(#bl)"/><polygon points="13,5 44.5,5 44.5,6.3 41,10.6 13,10.6" fill="#e3262b"/><polygon points="13,10.6 41,10.6 44.5,6.3 44.5,21.2 13,21.2" fill="#9c4a7c"/><rect x="13" y="21.2" width="31.5" height="9.7" fill="#6c5c9c"/><rect x="13" y="30.8" width="31.5" height="16.5" fill="#4b7cc3"/><rect x="13" y="47.2" width="31.5" height="26.1" fill="#54ad4c"/><rect x="13" y="73.3" width="31.5" height="17.1" fill="#6f9c72"/><rect x="13" y="90.3" width="31.5" height="8.2" fill="#b4466c"/><rect x="13" y="98.4" width="31.5" height="1.2" fill="#d07030"/><rect x="13" y="99.6" width="31.5" height="14.8" fill="#f6a12c"/><rect x="13" y="114.3" width="31.5" height="4" fill="#f2e05c"/><rect x="13" y="118.2" width="31.5" height="2.8" fill="#c8d84a"/><rect x="13" y="121" width="31.5" height="19.6" fill="#d59a36"/><rect x="13" y="140.6" width="31.5" height="1.1" fill="#a05030"/><rect x="13" y="141.6" width="31.5" height="9.6" fill="#c8605e"/><rect x="13" y="151.2" width="31.5" height="9.2" fill="#dc6078"/><rect x="13" y="160.3" width="31.5" height="7.8" fill="#e254b4"/><rect x="13" y="168.1" width="31.5" height="22.3" fill="#cc8ec0"/><rect x="13" y="190.3" width="31.5" height="20.3" fill="#a2a2a2"/><rect x="13" y="210.6" width="31.5" height="29.5" fill="#231f20"/><text x="14.3" y="10.2" font-size="6.1" fill="#8a1014">IMR90</text><text x="14.3" y="18.2" font-size="6.1" fill="#4a1a3a">ES cell</text><text x="14.3" y="28.2" font-size="6.1" fill="#2a2050">iPSC</text><text x="14.3" y="41.2" font-size="6.1" fill="#1a3060">ES-deriv.</text><text x="14.3" y="60.8" font-size="6.1" fill="#1a4a18">Blood &amp;</text><text x="14.3" y="67.2" font-size="6.1" fill="#1a4a18">T cell</text><text x="14.3" y="80.7" font-size="6.1" fill="#223a24">HSC &amp;</text><text x="14.3" y="87.1" font-size="6.1" fill="#223a24">B cell</text><text x="14.3" y="96.2" font-size="6.1" fill="#4a1226">Mesench.</text><text x="14.3" y="108.8" font-size="6.1" fill="#5a3000">Epithelial</text><text x="14.3" y="133.7" font-size="6.1" fill="#4a3000">Brain</text><text x="14.3" y="149.3" font-size="6.1" fill="#4a1010">Muscle</text><text x="14.3" y="158.3" font-size="6.1" fill="#4a1020">Heart</text><text x="14.3" y="168" font-size="6.1" fill="#4a0a3a">Sm. musc.</text><text x="14.3" y="181.1" font-size="6.1" fill="#3a1a3a">Digestive</text><text x="14.3" y="202" font-size="6.1" fill="#2a2a2a">Other</text><text x="14.3" y="224.8" font-size="6.1" fill="#ffffff">ENCODE</text><text x="14.3" y="231.8" font-size="6.1" fill="#ffffff">2012</text><rect x="13" y="20.7" width="338" height="1" fill="#303030" opacity="0.9"/><rect x="13" y="30.3" width="338" height="1" fill="#303030" opacity="0.9"/><rect x="13" y="46.7" width="338" height="1" fill="#303030" opacity="0.9"/><rect x="13" y="72.8" width="338" height="1" fill="#303030" opacity="0.9"/><rect x="13" y="89.8" width="338" height="1" fill="#303030" opacity="0.9"/><rect x="13" y="97.9" width="338" height="1" fill="#303030" opacity="0.9"/><rect x="13" y="99.1" width="338" height="1" fill="#303030" opacity="0.9"/><rect x="13" y="113.8" width="338" height="1" fill="#303030" opacity="0.9"/><rect x="13" y="117.7" width="338" height="1" fill="#303030" opacity="0.9"/><rect x="13" y="120.5" width="338" height="1" fill="#303030" opacity="0.9"/><rect x="13" y="140.1" width="338" height="1" fill="#303030" opacity="0.9"/><rect x="13" y="141.1" width="338" height="1" fill="#303030" opacity="0.9"/><rect x="13" y="150.7" width="338" height="1" fill="#303030" opacity="0.9"/><rect x="13" y="159.8" width="338" height="1" fill="#303030" opacity="0.9"/><rect x="13" y="167.6" width="338" height="1" fill="#303030" opacity="0.9"/><rect x="13" y="189.8" width="338" height="1" fill="#303030" opacity="0.9"/><rect x="13" y="210.1" width="338" height="1" fill="#303030" opacity="0.9"/><rect x="44.5" y="6" width="306.5" height="1" fill="#303030" opacity="0.9"/><polyline points="13,10.6 41,10.6 44.5,6.3" fill="none" stroke="#5a1a2a" stroke-width="0.6" opacity="0.7"/><text x="1.2" y="8.9" font-size="11.5" font-weight="bold" fill="#000">a</text><text transform="translate(8.2 213) rotate(-90)" font-size="8.6" fill="#231f20">Chromatin state annotations in 127 epigenomes</text><text x="60.6" y="244.6" font-size="4.3" fill="#3a9c9c">FAM205B</text><text x="87.2" y="244.6" font-size="4.3" fill="#3a9c9c">ATP8B5P</text><text x="114.5" y="244.6" font-size="4.3" fill="#3a9c9c">ST11/VPS?</text><text x="141.2" y="244.6" font-size="4.3" fill="#3a9c9c">RECK</text><text x="159.5" y="244.6" font-size="4.3" fill="#3a9c9c">RNF38</text><text x="182.2" y="244.6" font-size="4.3" fill="#3a9c9c">MELK</text><text x="201.5" y="244.6" font-size="4.3" fill="#3a9c9c">PAX5</text><text x="240.5" y="244.6" font-size="4.3" fill="#3a9c9c">GRHPR</text><text x="259.5" y="244.6" font-size="4.3" fill="#3a9c9c">FAMPD1</text><text x="283" y="244.6" font-size="4.3" fill="#3a9c9c">SHB</text><text x="316" y="244.6" font-size="4.3" fill="#3a9c9c">ALDH1B1</text><rect x="134.5" y="241.6" width="3" height="2.2" fill="#2f8f8c"/><rect x="151.6" y="241.6" width="6.9" height="2.2" fill="#2f8f8c"/><rect x="175.7" y="241.6" width="3.8" height="2.2" fill="#2f8f8c"/><rect x="195" y="241.6" width="5.5" height="2.2" fill="#2f8f8c"/><rect x="255" y="241.6" width="3.3" height="2.2" fill="#2f8f8c"/><rect x="274" y="241.6" width="4.5" height="2.2" fill="#2f8f8c"/><rect x="218.5" y="241.5" width="0.6" height="2.4" fill="#2f8f8c"/><rect x="221.5" y="241.5" width="0.6" height="2.4" fill="#2f8f8c"/><rect x="224.5" y="241.5" width="0.6" height="2.4" fill="#2f8f8c"/><rect x="227.5" y="241.5" width="0.6" height="2.4" fill="#2f8f8c"/><rect x="296" y="241.5" width="0.6" height="2.4" fill="#2f8f8c"/><rect x="299" y="241.5" width="0.6" height="2.4" fill="#2f8f8c"/><rect x="302" y="241.5" width="0.6" height="2.4" fill="#2f8f8c"/><text x="60.6" y="258.6" font-size="4.3" fill="#3a9c9c">FAM205B</text><text x="87.2" y="258.6" font-size="4.3" fill="#3a9c9c">ATP8B5P</text><text x="114.5" y="258.6" font-size="4.3" fill="#3a9c9c">ST11/VPS?</text><text x="141.2" y="258.6" font-size="4.3" fill="#3a9c9c">RECK</text><text x="159.5" y="258.6" font-size="4.3" fill="#3a9c9c">RNF38</text><text x="182.2" y="258.6" font-size="4.3" fill="#3a9c9c">MELK</text><text x="201.5" y="258.6" font-size="4.3" fill="#3a9c9c">PAX5</text><text x="240.5" y="258.6" font-size="4.3" fill="#3a9c9c">GRHPR</text><text x="259.5" y="258.6" font-size="4.3" fill="#3a9c9c">FAMPD1</text><text x="283" y="258.6" font-size="4.3" fill="#3a9c9c">SHB</text><text x="316" y="258.6" font-size="4.3" fill="#3a9c9c">ALDH1B1</text><rect x="134.5" y="255.6" width="3" height="2.2" fill="#2f8f8c"/><rect x="151.6" y="255.6" width="6.9" height="2.2" fill="#2f8f8c"/><rect x="175.7" y="255.6" width="3.8" height="2.2" fill="#2f8f8c"/><rect x="195" y="255.6" width="5.5" height="2.2" fill="#2f8f8c"/><rect x="255" y="255.6" width="3.3" height="2.2" fill="#2f8f8c"/><rect x="274" y="255.6" width="4.5" height="2.2" fill="#2f8f8c"/><rect x="103" y="256.6" width="8" height="0.5" fill="#2f8f8c"/><rect x="104" y="255.7" width="0.6" height="2" fill="#2f8f8c"/><rect x="107" y="255.7" width="0.6" height="2" fill="#2f8f8c"/><rect x="213" y="256.6" width="18" height="0.5" fill="#2f8f8c"/><rect x="214" y="255.7" width="0.6" height="2" fill="#2f8f8c"/><rect x="217" y="255.7" width="0.6" height="2" fill="#2f8f8c"/><rect x="220" y="255.7" width="0.6" height="2" fill="#2f8f8c"/><rect x="223" y="255.7" width="0.6" height="2" fill="#2f8f8c"/><rect x="226" y="255.7" width="0.6" height="2" fill="#2f8f8c"/><rect x="229" y="255.7" width="0.6" height="2" fill="#2f8f8c"/><rect x="277" y="256.6" width="4" height="0.5" fill="#2f8f8c"/><rect x="278" y="255.7" width="0.6" height="2" fill="#2f8f8c"/><rect x="293.5" y="256.6" width="11.5" height="0.5" fill="#2f8f8c"/><rect x="294.5" y="255.7" width="0.6" height="2" fill="#2f8f8c"/><rect x="297.5" y="255.7" width="0.6" height="2" fill="#2f8f8c"/><rect x="300.5" y="255.7" width="0.6" height="2" fill="#2f8f8c"/><rect x="303.5" y="255.7" width="0.6" height="2" fill="#2f8f8c"/><rect x="52.5" y="249" width="2.7" height="5" fill="#a8a8a8"/><rect x="55.1" y="249" width="2.7" height="5" fill="#cacaca"/><rect x="57.7" y="249" width="2.5" height="5" fill="#b0b0b0"/><rect x="60.2" y="249" width="2.6" height="5" fill="#d8d8d8"/><rect x="62.8" y="249" width="2.5" height="5" fill="#a8a8a8"/><rect x="65.3" y="249" width="2.7" height="5" fill="#d0d4cc"/><rect x="67.9" y="249" width="1.7" height="5" fill="#a0b090"/><rect x="69.6" y="249" width="7.8" height="5" fill="#1f7a36"/><rect x="77.3" y="249" width="2.5" height="5" fill="#8cc080"/><rect x="79.8" y="249" width="1.8" height="5" fill="#c8c8e8"/><rect x="81.5" y="249" width="1.8" height="5" fill="#8898cc"/><rect x="83.2" y="249" width="7.8" height="5" fill="#ffffff"/><rect x="90.9" y="249" width="4.2" height="5" fill="#1f7a36"/><rect x="95.1" y="249" width="1.8" height="5" fill="#ffffff"/><rect x="96.8" y="249" width="2.7" height="5" fill="#3a9a40"/><rect x="99.4" y="249" width="1.7" height="5" fill="#c8e080"/><rect x="101.1" y="249" width="2.7" height="5" fill="#c0c0c0"/><rect x="103.7" y="249" width="2.5" height="5" fill="#a0a0a0"/><rect x="106.2" y="249" width="2.6" height="5" fill="#b0b040"/><rect x="108.8" y="249" width="3.8" height="5" fill="#1f7a36"/><rect x="112.5" y="249" width="2.3" height="5" fill="#d0d0c0"/><rect x="114.8" y="249" width="3.5" height="5" fill="#3a9a40"/><rect x="118.2" y="249" width="2.3" height="5" fill="#d8d040"/><rect x="120.5" y="249" width="2.3" height="5" fill="#1f7a36"/><rect x="122.7" y="249" width="2.3" height="5" fill="#a0a080"/><rect x="125" y="249" width="4.5" height="5" fill="#1f7a36"/><rect x="129.5" y="249" width="4.5" height="5" fill="#b0c070"/><rect x="134" y="249" width="4.6" height="5" fill="#b0b0b0"/><rect x="138.6" y="249" width="2.5" height="5" fill="#1f7a36"/><rect x="141" y="249" width="2" height="5" fill="#b8b8b8"/><rect x="143" y="249" width="2.5" height="5" fill="#3a9a40"/><rect x="145.5" y="249" width="3.5" height="5" fill="#a8d090"/><rect x="149" y="249" width="4.5" height="5" fill="#1f7a36"/><rect x="153.4" y="249" width="4.6" height="5" fill="#3a9a40"/><rect x="158" y="249" width="2" height="5" fill="#c8d860"/><rect x="160" y="249" width="6" height="5" fill="#1f7a36"/><rect x="166" y="249" width="2" height="5" fill="#e0e0e0"/><rect x="168" y="249" width="4.7" height="5" fill="#90b088"/><rect x="172.7" y="249" width="9.8" height="5" fill="#1f7a36"/><rect x="182.4" y="249" width="2.1" height="5" fill="#b0b0b0"/><rect x="184.5" y="249" width="5.7" height="5" fill="#f0f0f0"/><rect x="190.2" y="249" width="7.9" height="5" fill="#1f7a36"/><rect x="198" y="249" width="6.5" height="5" fill="#d0d0d0"/><rect x="204.4" y="249" width="2.6" height="5" fill="#a0a0a0"/><rect x="207" y="249" width="3" height="5" fill="#c8c8c8"/><rect x="210" y="249" width="3" height="5" fill="#a4a4a4"/><rect x="213" y="249" width="3" height="5" fill="#c4c4c4"/><rect x="216" y="249" width="3" height="5" fill="#989898"/><rect x="219" y="249" width="3" height="5" fill="#b8b8b8"/><rect x="222" y="249" width="3" height="5" fill="#a0a0a0"/><rect x="225" y="249" width="3" height="5" fill="#c0c0c0"/><rect x="228" y="249" width="1.6" height="5" fill="#e0e0e0"/><rect x="229.5" y="249" width="9.4" height="5" fill="#1f7a36"/><rect x="238.8" y="249" width="2.2" height="5" fill="#b0b0b0"/><rect x="241" y="249" width="3.5" height="5" fill="#7a9a78"/><rect x="244.5" y="249" width="2.1" height="5" fill="#1f7a36"/><rect x="246.6" y="249" width="2.1" height="5" fill="#e0e0e0"/><rect x="248.7" y="249" width="2.3" height="5" fill="#b0b0b0"/><rect x="250.9" y="249" width="1.5" height="5" fill="#3a9a40"/><rect x="252.3" y="249" width="2.1" height="5" fill="#e0e0e0"/><rect x="254.4" y="249" width="3" height="5" fill="#b0b0b0"/><rect x="257.3" y="249" width="2.1" height="5" fill="#ffffff"/><rect x="259.4" y="249" width="6.5" height="5" fill="#1f7a36"/><rect x="265.8" y="249" width="2.9" height="5" fill="#90a888"/><rect x="268.6" y="249" width="7.4" height="5" fill="#b8b8b8"/><rect x="276" y="249" width="3.2" height="5" fill="#b0b0b0"/><rect x="279.2" y="249" width="7.7" height="5" fill="#1f7a36"/><rect x="286.8" y="249" width="5.4" height="5" fill="#3a9a40"/><rect x="292.2" y="249" width="4.4" height="5" fill="#c8d850"/><rect x="296.5" y="249" width="3.4" height="5" fill="#d8e040"/><rect x="299.8" y="249" width="3.2" height="5" fill="#e0e040"/><rect x="303" y="249" width="2.2" height="5" fill="#b0b0b0"/><rect x="305.2" y="249" width="2.9" height="5" fill="#a0a0a0"/><rect x="308" y="249" width="3" height="5" fill="#c4c4c4"/><rect x="311" y="249" width="3" height="5" fill="#a4a4a4"/><rect x="314" y="249" width="3" height="5" fill="#c0c0c0"/><rect x="317" y="249" width="3" height="5" fill="#9c9c9c"/><rect x="320" y="249" width="3" height="5" fill="#c4c4c4"/><rect x="323" y="249" width="3" height="5" fill="#a8a8a8"/><rect x="326" y="249" width="3" height="5" fill="#c0c0c0"/><rect x="329" y="249" width="3.2" height="5" fill="#a4a4a4"/><rect x="332.2" y="249" width="6.5" height="5" fill="#d8d8d8"/><rect x="338.6" y="249" width="4.4" height="5" fill="#f4f4f4"/><rect x="343" y="249" width="3.2" height="5" fill="#dcdcdc"/><rect x="346.2" y="249" width="2.4" height="5" fill="#b0b0b0"/><text x="50.2" y="254.2" font-size="7.3" fill="#231f20" text-anchor="end">Chrom. states</text><text x="50.2" y="259.4" font-size="5.7" fill="#2a9a9a" text-anchor="end">RefSeq genes</text><text x="50.2" y="265.4" font-size="5.6" fill="#3a4a22" text-anchor="end">RNA-seq</text><path stroke="#4a5e2a" stroke-width="1.1" d="M73.5 265v-1.4M74.2 265v-1.4M117.4 265v-4.4M118.1 265v-4.8M120.1 265v-3.4M121.9 265v-4.4M123.1 265v-4.7M121.6 265v-4.7M125.5 265v-1.4M125.9 265v-2.6M160.5 265v-1.7M160.7 265v-1.3M264.2 265v-0.6M262.1 265v-1.2M263.4 265v-0.7M295.5 265v-1M296.4 265v-1.4M298.1 265v-1.4M296.8 265v-0.8M302.2 265v-1.7M301 265v-1M300.4 265v-1.1M301.7 265v-1.8M64.2 265v-0.4M69.6 265v-0.4M80.5 265v-0.7M84.9 265v-0.6M89.3 265v-0.6M96.3 265v-0.7M109.1 265v-0.5M122.1 265v-0.4M126.8 265v-0.6M131 265v-0.3M138.7 265v-0.6M144.1 265v-0.2M155.9 265v-0.4M168.6 265v-0.7M176 265v-0.5M184.6 265v-0.6M194 265v-0.5M203.6 265v-0.8M212.2 265v-0.5M222.6 265v-0.3M229.3 265v-0.8M238 265v-0.5M242.1 265v-0.4M251.4 265v-0.2M260.9 265v-0.6M265.4 265v-0.6M273.6 265v-0.6M280.8 265v-0.6M291.5 265v-0.2M296 265v-0.6M308.7 265v-0.4M316.8 265v-0.6M323.7 265v-0.4M330.5 265v-0.4M339.8 265v-0.4M347.2 265v-0.7M351.5 265v-0.5"/><rect x="53" y="264.6" width="296" height="0.5" fill="#4a5e2a" opacity="0.55"/><text x="50.2" y="271.6" font-size="5.6" fill="#6a8a2e" text-anchor="end">H3K36me3</text><path fill="#6c8c2c" d="M280 271.4L280 271.4L280.6 271.1L281.2 270.9L281.8 270.8L282.4 270.6L283 270.3L283.6 270.3L284.2 270.2L284.8 269.9L285.4 269.9L286 269.9L286.6 269.5L287.2 269.8L287.8 269.3L288.4 269.2L289 269.4L289.6 269.4L290.2 269.6L290.8 269.5L291.4 269.1L292 269.1L292.6 269.2L293.2 269.5L293.8 269.1L294.4 268.9L295 269.1L295.6 269.3L296.2 269.5L296.8 269.6L297.4 269.8L298 269.9L298.6 269.5L299.2 269.9L299.8 270L300.4 270.1L301 270L301.6 270.2L302.2 270.4L302.8 270.6L303.4 270.8L304 271L304.6 271.2L305 271.4ZM115 271.4L115 271.4L115.6 271L116.2 270.6L116.8 270.3L117.4 270L118 269.6L118.6 269.4L119.2 269.5L119.8 269.3L120.4 268.9L121 268.8L121.6 269.1L122.2 269.1L122.8 268.9L123.4 269L124 268.9L124.6 268.9L125.2 269.3L125.8 269.4L126.4 269.8L127 269.6L127.6 269.9L128.2 270.3L128.8 270.6L129.4 271L130 271.4L130 271.4ZM150 271.4L150 271.4L150.6 271.2L151.2 271.1L151.8 271L152.4 270.9L153 270.9L153.6 270.8L154.2 270.6L154.8 270.6L155.4 270.4L156 270.5L156.6 270.5L157.2 270.2L157.8 270.2L158.4 270.2L159 270.2L159.6 270L160.2 270L160.8 270.4L161.4 270.3L162 270.3L162.6 270L163.2 270.1L163.8 270L164.4 270.3L165 270.3L165.6 270L166.2 270.2L166.8 270.4L167.4 270.4L168 270.2L168.6 270.2L169.2 270.5L169.8 270.3L170.4 270.6L171 270.6L171.6 270.6L172.2 270.7L172.8 270.7L173.4 271L174 271L174.6 271.1L175.2 271.2L175.8 271.3L176 271.4ZM236 271.4L236 271.4L236.6 271.2L237.2 271L237.8 270.8L238.4 270.8L239 270.6L239.6 270.5L240.2 270.6L240.8 270.5L241.4 270.2L242 270.4L242.6 270.1L243.2 270.4L243.8 270.3L244.4 270.2L245 270.4L245.6 270.1L246.2 270.3L246.8 270.2L247.4 270.4L248 270.4L248.6 270.7L249.2 270.7L249.8 270.9L250.4 271L251 271.1L251.6 271.3L252 271.4ZM254 271.4L254 271.4L254.6 271.1L255.2 271L255.8 270.8L256.4 270.6L257 270.6L257.6 270.5L258.2 270.4L258.8 270.3L259.4 270.4L260 270.4L260.6 270L261.2 270.1L261.8 269.9L262.4 270.3L263 270L263.6 269.8L264.2 270.3L264.8 269.9L265.4 270.2L266 270.2L266.6 270.2L267.2 270.3L267.8 270.5L268.4 270.4L269 270.7L269.6 270.9L270.2 271L270.8 270.9L271.4 271.2L272 271.4ZM68 271.4L68 271.4L68.6 271.2L69.2 271L69.8 270.9L70.4 270.7L71 270.6L71.6 270.7L72.2 270.4L72.8 270.4L73.4 270.4L74 270.4L74.6 270.6L75.2 270.6L75.8 270.4L76.4 270.7L77 270.5L77.6 270.6L78.2 270.8L78.8 271L79.4 271.2L80 271.4L80 271.4Z"/><path stroke="#6c8c2c" stroke-width="1.1" d="M74.1 271.4v-1M73.4 271.4v-1.3M119.5 271.4v-2.1M118.4 271.4v-2.3M120.6 271.4v-1.9M123.3 271.4v-2.9M123.6 271.4v-3.1M123.5 271.4v-2.3M127.2 271.4v-2.4M124.9 271.4v-1.1M161.1 271.4v-0.9M161 271.4v-0.9M262.8 271.4v-0.5M264.1 271.4v-0.5M262.7 271.4v-0.5M297.5 271.4v-1M297.7 271.4v-0.7M295.4 271.4v-1M297.3 271.4v-0.6M301.5 271.4v-1.4M299.6 271.4v-0.9M300.6 271.4v-0.8M299.8 271.4v-0.8M64.4 271.4v-0.7M72.7 271.4v-0.4M80.6 271.4v-0.2M91 271.4v-0.4M97.9 271.4v-0.2M105.9 271.4v-0.5M113.5 271.4v-0.7M123.5 271.4v-0.3M132.2 271.4v-0.7M140.9 271.4v-0.6M145.5 271.4v-0.5M153.6 271.4v-0.4M161.4 271.4v-0.6M170.3 271.4v-0.5M175.8 271.4v-0.5M188.5 271.4v-0.4M192.8 271.4v-0.2M201.6 271.4v-0.2M206.5 271.4v-0.3M214.5 271.4v-0.8M222.9 271.4v-0.5M230.8 271.4v-0.5M238.9 271.4v-0.6M250.9 271.4v-0.6M258.8 271.4v-0.6M270.9 271.4v-0.3M277.1 271.4v-0.6M287.3 271.4v-0.6M296.6 271.4v-0.7M304.9 271.4v-0.7M317.5 271.4v-0.5M329.3 271.4v-0.6M341.3 271.4v-0.2M353.5 271.4v-0.7"/><rect x="53" y="270.9" width="296" height="0.5" fill="#6c8c2c" opacity="0.55"/><text x="50.2" y="277.9" font-size="5.6" fill="#a4b83c" text-anchor="end">H4K20me1</text><path fill="#a8c23c" d="M72.9 278L73.9 276.8L74.7 275.8L75.6 276.7L76.6 278ZM72.9 278L73.9 276.8L74.8 275.8L75.7 276.7L76.7 278ZM109.6 278L111 277L112.2 276.2L113.5 276.9L114.9 278ZM109.5 278L110.6 276.7L111.6 275.7L112.5 276.6L113.7 278ZM114.5 278L116.6 275.9L118.2 274.2L119.9 275.7L122 278ZM116.2 278L117.8 276.1L119 274.5L120.3 275.9L121.8 278ZM119.7 278L121.5 275.1L122.9 272.6L124.3 274.8L126.1 278ZM117.7 278L119.6 274.7L121.3 272.1L122.9 274.4L124.8 278ZM123.9 278L125.5 276L126.7 274.4L127.9 275.8L129.5 278ZM123.7 278L125 276.1L126.1 274.5L127.2 275.9L128.5 278ZM137.5 278L138.7 276.9L139.6 276.1L140.6 276.8L141.7 278ZM138 278L139.3 276.9L140.4 276.1L141.6 276.8L142.9 278ZM143 278L144.3 277.2L145.4 276.5L146.5 277.1L147.9 278ZM143.2 278L144.4 277.4L145.5 277L146.5 277.4L147.8 278ZM151.4 278L153.3 277.2L154.9 276.5L156.4 277.1L158.3 278ZM152.4 278L154.4 277.3L156 276.8L157.7 277.3L159.7 278ZM158.7 278L160.5 277L162 276.2L163.5 276.9L165.3 278ZM157.6 278L159.6 277L161.2 276.2L162.8 276.9L164.8 278ZM163.4 278L165.4 277.1L167.1 276.4L168.8 277.1L170.8 278ZM162.9 278L165.2 277.3L167.1 276.7L169 277.2L171.3 278ZM171.3 278L173.2 277.3L174.7 276.8L176.1 277.3L178 278ZM172.6 278L174.5 277.1L176 276.5L177.6 277.1L179.5 278ZM185.7 278L187.9 277.6L189.8 277.2L191.6 277.5L193.8 278ZM186 278L187.8 277.5L189.2 277L190.7 277.4L192.4 278ZM192.6 278L194.2 277.3L195.6 276.8L196.9 277.3L198.6 278ZM191 278L193.1 277.3L194.9 276.7L196.6 277.2L198.8 278ZM232.6 278L234.7 277.2L236.4 276.6L238 277.2L240.1 278ZM231 278L233.2 277.2L234.9 276.5L236.7 277.1L238.9 278ZM238 278L240.2 277.3L242 276.7L243.8 277.2L246 278ZM237.4 278L239.4 277.3L241 276.7L242.6 277.2L244.6 278ZM253.8 278L255.6 277L257.2 276.2L258.7 276.9L260.6 278ZM253.3 278L255.1 277.1L256.5 276.3L258 277L259.8 278ZM258.1 278L260.1 276.8L261.7 275.8L263.3 276.7L265.3 278ZM258.6 278L260.5 277.2L262.1 276.5L263.6 277.1L265.5 278ZM264.4 278L266 277.2L267.3 276.5L268.7 277.1L270.3 278ZM264.4 278L266.1 277.1L267.5 276.4L268.9 277.1L270.6 278ZM269.1 278L270.3 277.4L271.3 276.8L272.2 277.3L273.4 278ZM269.3 278L270.5 277.5L271.4 277.2L272.3 277.5L273.4 278ZM279 278L279 278L279.6 278L280.2 278L280.8 277.9L281.4 277.9L282 277.8L282.6 277.8L283.2 277.7L283.8 277.7L284.4 277.6L285 277.5L285.6 277.4L286.2 277.3L286.8 277.3L287.4 277.2L288 277L288.6 277L289.2 277.1L289.8 276.7L290.4 276.6L291 276.4L291.6 276.5L292.2 276.2L292.8 276.3L293.4 276.1L294 276.2L294.6 275.8L295.2 275.9L295.8 275.6L296.4 275.6L297 275L297.6 275.2L298.2 275L298.8 274.8L299.4 274.4L300 274.6L300.6 273.9L301.2 273.8L301.8 274.2L302.4 273.6L303 273.4L303.6 274.2L304.2 273.4L304.5 278Z"/><path stroke="#a8c23c" stroke-width="1.1" d="M64.8 278v-0.3M71.3 278v-0.2M79.5 278v-0.3M86.6 278v-0.6M98.9 278v-0.6M103.3 278v-0.4M114.9 278v-0.2M120.7 278v-0.4M128.2 278v-0.6M138.7 278v-0.4M144.9 278v-0.3M151.3 278v-0.2M161.3 278v-0.3M173.3 278v-0.5M177.8 278v-0.4M187.2 278v-0.2M195.6 278v-0.2M206.5 278v-0.2M216.2 278v-0.7M227.8 278v-0.3M236.6 278v-0.3M243.7 278v-0.6M255.1 278v-0.2M262.5 278v-0.5M268.1 278v-0.6M280.1 278v-0.5M287.4 278v-0.6M296 278v-0.3M302.5 278v-0.3M314 278v-0.5M324.3 278v-0.6M337.1 278v-0.3M344.7 278v-0.6M355.6 278v-0.4"/><rect x="53" y="277.6" width="296" height="0.5" fill="#a8c23c" opacity="0.55"/><text x="50.2" y="284.6" font-size="5.6" fill="#a8bc3c" text-anchor="end">H3K79me2</text><path fill="#b0c83e" d="M71.4 285L72.9 283.7L74.1 282.6L75.3 283.6L76.7 285ZM71.5 285L72.7 283.6L73.7 282.4L74.6 283.4L75.8 285ZM110 285L111 283.7L111.9 282.7L112.7 283.6L113.8 285ZM109.8 285L110.9 284.1L111.9 283.3L112.9 284L114.1 285ZM115.6 285L117.6 283.4L119.2 282L120.8 283.2L122.8 285ZM114.4 285L116.3 283L117.8 281.5L119.3 282.9L121.2 285ZM117.9 285L119.7 282.3L121.2 280L122.7 282L124.5 285ZM119.7 285L121.4 282.1L122.7 279.7L124.1 281.8L125.7 285ZM124 285L125.2 283.4L126.3 282.1L127.3 283.2L128.6 285ZM123 285L124.4 283.3L125.6 281.9L126.7 283.1L128.1 285ZM137.5 285L138.9 284L140 283.2L141.2 283.9L142.6 285ZM137.9 285L139.2 284.1L140.1 283.3L141.1 284L142.3 285ZM144.3 285L145.3 284.2L146.2 283.6L147 284.1L148.1 285ZM144.8 285L145.8 284.3L146.7 283.8L147.6 284.3L148.6 285ZM152.4 285L153.9 284.3L155.2 283.8L156.4 284.3L158 285ZM152.1 285L154.1 284.3L155.8 283.8L157.4 284.3L159.4 285ZM157.2 285L159.3 283.7L160.9 282.7L162.6 283.6L164.6 285ZM156.8 285L158.9 283.8L160.6 282.7L162.3 283.6L164.3 285ZM164 285L166.3 284L168.1 283.2L170 283.9L172.3 285ZM162.1 285L164.4 284.2L166.3 283.5L168.2 284.1L170.5 285ZM169.8 285L172 284.2L173.9 283.5L175.7 284.1L177.9 285ZM170.1 285L172.3 284.4L174.1 283.9L176 284.3L178.2 285ZM187.3 285L189.4 284.4L191.1 283.9L192.8 284.3L194.9 285ZM187.9 285L189.4 284.5L190.6 284.1L191.8 284.5L193.3 285ZM192.2 285L194.5 284.2L196.3 283.5L198.2 284.1L200.4 285ZM193.1 285L194.7 284.4L196 284L197.4 284.4L199 285ZM233.1 285L234.6 284.2L235.9 283.6L237.1 284.2L238.6 285ZM232.4 285L234 284.1L235.3 283.4L236.6 284L238.2 285ZM237.3 285L238.8 284.4L240.1 283.9L241.3 284.3L242.8 285ZM238.7 285L240.3 284.2L241.7 283.5L243 284.1L244.7 285ZM253.3 285L254.9 284L256.3 283.1L257.7 283.9L259.4 285ZM251.8 285L253.9 284L255.6 283.1L257.3 283.9L259.4 285ZM257.7 285L259.7 283.8L261.3 282.8L262.9 283.7L264.9 285ZM256.7 285L258.8 283.9L260.6 282.9L262.3 283.7L264.4 285ZM262.8 285L264.5 284.2L265.9 283.5L267.3 284.1L269.1 285ZM264.2 285L266.3 284.2L267.9 283.5L269.6 284.1L271.6 285ZM269.6 285L270.9 284.5L271.9 284.1L272.9 284.5L274.2 285ZM270.4 285L271.6 284.4L272.6 284L273.6 284.4L274.8 285ZM279 285L279 285L279.6 285L280.2 285L280.8 284.9L281.4 284.8L282 284.8L282.6 284.7L283.2 284.7L283.8 284.5L284.4 284.6L285 284.4L285.6 284.3L286.2 284.3L286.8 284.3L287.4 284L288 284L288.6 283.7L289.2 283.8L289.8 283.6L290.4 283.4L291 282.9L291.6 283.3L292.2 283.2L292.8 282.5L293.4 283L294 282L294.6 282.2L295.2 282.3L295.8 281.5L296.4 281.4L297 281.7L297.6 281L298.2 281.6L298.8 280.8L299.4 280.7L300 280.1L300.6 280.7L301.2 280.3L301.8 279.5L302.4 279.7L303 279.1L303.6 279L304.2 278.7L304.5 285Z"/><path stroke="#b0c83e" stroke-width="1.1" d="M58.4 285v-0.4M66.6 285v-0.5M79.6 285v-0.4M92 285v-0.7M100 285v-0.3M106.1 285v-0.7M111.7 285v-0.5M121.6 285v-0.3M125.8 285v-0.5M130.3 285v-0.5M143.1 285v-0.4M149.9 285v-0.3M156.6 285v-0.4M161.6 285v-0.6M171.1 285v-0.6M176 285v-0.3M188.4 285v-0.2M195.7 285v-0.6M201.7 285v-0.3M211.5 285v-0.3M218.5 285v-0.4M225.2 285v-0.5M235.8 285v-0.6M248.6 285v-0.2M254.9 285v-0.7M266.1 285v-0.6M272.1 285v-0.3M278.6 285v-0.6M289.4 285v-0.4M299.3 285v-0.6M305.9 285v-0.3M317.2 285v-0.6M328.4 285v-0.6M335.7 285v-0.5M343 285v-0.7M348.1 285v-0.5M355.3 285v-0.7"/><rect x="53" y="284.6" width="296" height="0.5" fill="#b0c83e" opacity="0.55"/><text x="50.2" y="289.6" font-size="5.6" fill="#a8bc3c" text-anchor="end">H3K79me1</text><path fill="#b0c83e" d="M71 289.8L72.5 288.5L73.7 287.4L75 288.4L76.5 289.8ZM72 289.8L73.5 288.6L74.7 287.6L75.9 288.5L77.3 289.8ZM109.2 289.8L110.3 288.9L111.2 288.2L112.1 288.9L113.2 289.8ZM110 289.8L111.3 289L112.4 288.4L113.4 288.9L114.7 289.8ZM114.2 289.8L116.3 288.4L118.1 287.2L119.9 288.3L122 289.8ZM115.2 289.8L117.4 288.5L119.2 287.5L120.9 288.4L123.1 289.8ZM120 289.8L121.6 287.7L122.9 286L124.2 287.5L125.8 289.8ZM118.5 289.8L120.4 287.4L122 285.4L123.6 287.1L125.5 289.8ZM123.4 289.8L124.5 288.3L125.5 287.1L126.5 288.2L127.6 289.8ZM124.2 289.8L125.5 288.6L126.6 287.7L127.7 288.5L129 289.8ZM137.9 289.8L138.9 289L139.8 288.3L140.7 288.9L141.8 289.8ZM138.4 289.8L139.6 289.1L140.6 288.6L141.6 289.1L142.8 289.8ZM142.8 289.8L144.3 289.3L145.5 288.8L146.8 289.2L148.3 289.8ZM144.4 289.8L145.7 289.1L146.8 288.6L147.9 289.1L149.2 289.8ZM151.7 289.8L153.7 289.3L155.4 288.8L157 289.2L159 289.8ZM152.7 289.8L154.2 289.1L155.5 288.6L156.8 289.1L158.3 289.8ZM157.4 289.8L159 289.1L160.4 288.5L161.7 289L163.3 289.8ZM156.7 289.8L158.5 289.1L160 288.5L161.4 289L163.2 289.8ZM164.4 289.8L166.4 289.1L168.1 288.5L169.7 289L171.7 289.8ZM163.1 289.8L165 289.2L166.6 288.7L168.2 289.2L170.2 289.8ZM171.9 289.8L173.9 289.4L175.5 289L177.2 289.3L179.2 289.8ZM171.1 289.8L172.8 289.2L174.3 288.7L175.8 289.2L177.5 289.8ZM185.3 289.8L187.4 289.5L189.2 289.2L190.9 289.4L193 289.8ZM186 289.8L188.3 289.5L190.1 289.2L191.9 289.4L194.2 289.8ZM192.8 289.8L194.2 289.3L195.5 288.9L196.7 289.3L198.2 289.8ZM191.5 289.8L193.7 289.2L195.5 288.8L197.3 289.2L199.6 289.8ZM232.7 289.8L234.2 289.1L235.5 288.6L236.8 289.1L238.3 289.8ZM233.2 289.8L235 289.2L236.4 288.7L237.9 289.1L239.7 289.8ZM236.3 289.8L238.6 289.2L240.4 288.7L242.3 289.1L244.6 289.8ZM237.3 289.8L238.8 289.3L240.1 288.8L241.4 289.2L243 289.8ZM253.7 289.8L255.3 289L256.6 288.3L257.9 288.9L259.5 289.8ZM253.1 289.8L254.9 289.2L256.4 288.7L258 289.1L259.8 289.8ZM257.5 289.8L259.5 289L261.2 288.4L262.8 289L264.9 289.8ZM257.3 289.8L259.1 289L260.6 288.3L262 288.9L263.8 289.8ZM263.6 289.8L265.4 289.2L266.8 288.8L268.3 289.2L270.1 289.8ZM262.7 289.8L264.6 289.1L266.1 288.5L267.6 289L269.4 289.8ZM269.9 289.8L271 289.3L271.9 288.9L272.7 289.3L273.8 289.8ZM269.6 289.8L271 289.4L272 289L273.1 289.3L274.5 289.8ZM286 289.8L286 289.8L286.6 289.2L287.2 288.6L287.8 288.2L288.4 287.9L289 288L289.6 287.6L290.2 287.2L290.8 286.3L291.4 286.4L292 286.4L292.6 286L293.2 286.6L293.8 285.8L294.4 285.7L295 286.3L295.6 286.1L296.2 286L296.8 285.3L297.4 286.2L298 286.8L298.6 285.9L299.2 286L299.8 286.9L300.4 286.7L301 286.7L301.6 287.5L302.2 287.6L302.8 288.1L303.4 288.4L304 288.9L304.6 289.3L305 289.8Z"/><path stroke="#b0c83e" stroke-width="1.1" d="M63.8 289.8v-0.4M76.2 289.8v-0.5M80.8 289.8v-0.5M89.5 289.8v-0.7M100 289.8v-0.5M110.1 289.8v-0.6M118.2 289.8v-0.4M126.9 289.8v-0.2M135.5 289.8v-0.4M143.4 289.8v-0.5M153.2 289.8v-0.4M162.4 289.8v-0.3M175.2 289.8v-0.5M185.5 289.8v-0.6M189.7 289.8v-0.3M197.1 289.8v-0.4M204.7 289.8v-0.5M214.4 289.8v-0.6M224.6 289.8v-0.4M236.2 289.8v-0.6M248.9 289.8v-0.2M258.1 289.8v-0.3M269.8 289.8v-0.7M279.9 289.8v-0.4M291.7 289.8v-0.5M302 289.8v-0.3M306.9 289.8v-0.6M318.7 289.8v-0.4M323.4 289.8v-0.3M335.6 289.8v-0.3M346.4 289.8v-0.4M358.9 289.8v-0.4"/><rect x="53" y="289.4" width="296" height="0.5" fill="#b0c83e" opacity="0.55"/><text x="50.2" y="295.1" font-size="5.6" fill="#a8bc3c" text-anchor="end">H3K9me1</text><path fill="#b4ca40" d="M71.3 294.9L72.4 293.7L73.3 292.7L74.1 293.6L75.2 294.9ZM71.3 294.9L72.8 293.7L73.9 292.8L75.1 293.6L76.5 294.9ZM110.1 294.9L111.1 294.1L111.9 293.4L112.7 294L113.7 294.9ZM109.2 294.9L110.7 294.1L111.9 293.5L113.1 294.1L114.5 294.9ZM114.8 294.9L116.6 293.4L118.1 292.1L119.6 293.2L121.5 294.9ZM113.3 294.9L115.5 293.3L117.2 292L119 293.2L121.2 294.9ZM118.2 294.9L120.1 293.1L121.7 291.7L123.3 293L125.2 294.9ZM118.4 294.9L120.4 292.5L122 290.5L123.6 292.2L125.6 294.9ZM123.8 294.9L125 293.5L126 292.3L127 293.4L128.2 294.9ZM122.5 294.9L124 293.8L125.3 292.9L126.5 293.7L128 294.9ZM137.9 294.9L139.3 294.3L140.5 293.8L141.8 294.2L143.2 294.9ZM137.4 294.9L138.8 294.3L140 293.9L141.2 294.3L142.7 294.9ZM143.7 294.9L145 294.3L146.1 293.7L147.3 294.2L148.6 294.9ZM142.8 294.9L144.2 294.3L145.4 293.9L146.5 294.3L147.9 294.9ZM153.5 294.9L155.4 294.4L157 294L158.5 294.4L160.5 294.9ZM152.5 294.9L154.7 294.4L156.5 294.1L158.3 294.4L160.5 294.9ZM158.1 294.9L160.1 294.2L161.7 293.7L163.3 294.2L165.3 294.9ZM157.1 294.9L159.1 294.2L160.7 293.6L162.3 294.1L164.3 294.9ZM165.3 294.9L166.8 294.2L168.1 293.6L169.4 294.1L171 294.9ZM162.9 294.9L165.1 294.1L167 293.5L168.8 294.1L171.1 294.9ZM171.4 294.9L173.6 294.5L175.5 294.1L177.4 294.4L179.7 294.9ZM172.4 294.9L173.9 294.5L175.2 294.1L176.5 294.4L178.1 294.9ZM186.1 294.9L187.7 294.5L189 294.1L190.3 294.4L191.9 294.9ZM187.2 294.9L189.2 294.6L190.7 294.3L192.3 294.5L194.2 294.9ZM193.2 294.9L194.6 294.5L195.9 294.1L197.1 294.4L198.6 294.9ZM194.1 294.9L195.7 294.2L197 293.7L198.3 294.2L199.9 294.9ZM232.5 294.9L234.7 294.1L236.6 293.4L238.4 294L240.6 294.9ZM233.1 294.9L235.2 294.3L236.9 293.8L238.6 294.2L240.7 294.9ZM237.2 294.9L239.3 294.2L241 293.7L242.7 294.2L244.7 294.9ZM238.5 294.9L240.3 294.3L241.8 293.8L243.3 294.2L245.1 294.9ZM253.5 294.9L255.2 294.3L256.5 293.9L257.9 294.3L259.5 294.9ZM253.3 294.9L255.4 294.2L257 293.7L258.7 294.2L260.8 294.9ZM257.6 294.9L259.6 294.2L261.2 293.6L262.8 294.1L264.8 294.9ZM258.8 294.9L260.5 294.1L262 293.5L263.4 294.1L265.2 294.9ZM262.3 294.9L264.5 294.3L266.2 293.8L268 294.3L270.2 294.9ZM263.8 294.9L265.8 294.1L267.5 293.4L269.2 294L271.2 294.9ZM270.7 294.9L271.8 294.5L272.7 294.2L273.6 294.5L274.7 294.9ZM268.8 294.9L270.3 294.5L271.5 294.2L272.8 294.5L274.3 294.9ZM287 294.9L287 294.9L287.6 294.4L288.2 293.8L288.8 293.7L289.4 293.3L290 292.7L290.6 292.3L291.2 292.4L291.8 291.8L292.4 291.7L293 291.8L293.6 292.1L294.2 291.7L294.8 291.5L295.4 292.1L296 292.1L296.6 290.9L297.2 292L297.8 291.2L298.4 292.1L299 291.5L299.6 291.6L300.2 291.8L300.8 292.2L301.4 292.8L302 293.3L302.6 293.3L303.2 293.8L303.8 294L304.4 294.3L305 294.9Z"/><path stroke="#b4ca40" stroke-width="1.1" d="M59 294.9v-0.4M63.6 294.9v-0.2M72.5 294.9v-0.5M81.1 294.9v-0.7M92.8 294.9v-0.7M102 294.9v-0.3M107.2 294.9v-0.6M112.6 294.9v-0.2M122.9 294.9v-0.3M132.5 294.9v-0.3M140.3 294.9v-0.2M147.7 294.9v-0.4M154.1 294.9v-0.3M163.2 294.9v-0.5M169 294.9v-0.2M175.5 294.9v-0.5M181.9 294.9v-0.5M186.6 294.9v-0.6M191.9 294.9v-0.3M202.4 294.9v-0.4M212.2 294.9v-0.3M222.2 294.9v-0.3M230.5 294.9v-0.4M242.7 294.9v-0.6M251.7 294.9v-0.6M261.2 294.9v-0.6M269.8 294.9v-0.5M275.8 294.9v-0.7M285.5 294.9v-0.6M295 294.9v-0.2M299.9 294.9v-0.6M310.2 294.9v-0.7M322.3 294.9v-0.3M335.1 294.9v-0.5M345.7 294.9v-0.5M352 294.9v-0.4"/><rect x="53" y="294.4" width="296" height="0.5" fill="#b4ca40" opacity="0.55"/><text x="50.2" y="302.1" font-size="5.6" fill="#4a7cc4" text-anchor="end">DNase</text><path stroke="#4a7cc4" stroke-width="1.1" d="M68 301.3v-1.6M68.1 301.3v-1.1M72.5 301.3v-2M73.6 301.3v-1.8M74.7 301.3v-3.9M74.9 301.3v-4M77 301.3v-2.2M79 301.3v-1.8M81.7 301.3v-1.9M80 301.3v-1.7M92.3 301.3v-1.5M93 301.3v-1.5M104.7 301.3v-1.3M102.9 301.3v-1.6M106.6 301.3v-1.7M107 301.3v-1.7M109.8 301.3v-1.5M109.9 301.3v-0.8M115.9 301.3v-1.5M115.9 301.3v-1.6M120.5 301.3v-1.7M121.3 301.3v-1.3M124 301.3v-2M124.7 301.3v-1.5M131.6 301.3v-2.2M132 301.3v-1.8M140.2 301.3v-0.9M141.8 301.3v-1M148.7 301.3v-1.6M147.1 301.3v-1.1M152 301.3v-2.3M152.9 301.3v-2.5M158.8 301.3v-1.5M157.7 301.3v-1.8M161 301.3v-1.3M162.5 301.3v-1M176.9 301.3v-0.6M175.7 301.3v-0.8M259.1 301.3v-3.8M259 301.3v-4.7M261.2 301.3v-1.3M260.4 301.3v-1.6M265.3 301.3v-1.1M265.8 301.3v-1.6M295.8 301.3v-3.3M295.6 301.3v-4.9M300 301.3v-2.3M299.8 301.3v-1.5M303.5 301.3v-1.1M302.7 301.3v-1.3M63.7 301.3v-0.6M73 301.3v-0.7M80.7 301.3v-0.5M85.6 301.3v-0.6M95.6 301.3v-0.6M106.8 301.3v-0.8M117.3 301.3v-0.8M127.2 301.3v-0.4M139 301.3v-0.6M148.6 301.3v-0.3M157.7 301.3v-0.4M166.9 301.3v-0.8M174.3 301.3v-0.2M179.4 301.3v-0.5M191 301.3v-0.2M198.7 301.3v-0.4M206.7 301.3v-0.6M215.2 301.3v-0.4M227 301.3v-0.7M239.1 301.3v-0.3M247.9 301.3v-0.3M252.8 301.3v-0.8M262.7 301.3v-0.5M273.6 301.3v-0.7M281.8 301.3v-0.3M293.9 301.3v-0.5M301.7 301.3v-0.3M310.4 301.3v-0.7M322.8 301.3v-0.3M327.8 301.3v-0.8M336.6 301.3v-0.6M346.8 301.3v-0.4M354.4 301.3v-0.7"/><rect x="53" y="300.9" width="296" height="0.5" fill="#4a7cc4" opacity="0.55"/><text x="50.2" y="306.7" font-size="5.6" fill="#4a7cc4" text-anchor="end">DGF</text><path stroke="#5a88cc" stroke-width="1.1" d="M69.6 306.4v-0.6M68.5 306.4v-1.3M74 306.4v-1.2M72.8 306.4v-1.3M75.9 306.4v-1.2M74.4 306.4v-1.3M77.4 306.4v-1.2M77.8 306.4v-1.8M81.9 306.4v-1.1M81.4 306.4v-1.1M91.7 306.4v-0.7M91.8 306.4v-0.5M104.5 306.4v-0.9M103.8 306.4v-0.5M107.4 306.4v-1M106.2 306.4v-0.7M109.1 306.4v-0.8M110.1 306.4v-0.7M115.6 306.4v-1M116.1 306.4v-1.1M120.9 306.4v-1.6M120.4 306.4v-1.4M125.6 306.4v-1.4M125.4 306.4v-0.7M131.2 306.4v-1.1M131.7 306.4v-0.6M141 306.4v-0.6M141.3 306.4v-0.8M147.2 306.4v-0.7M148.1 306.4v-0.9M153.5 306.4v-1.6M152.3 306.4v-1M157 306.4v-1.2M158.6 306.4v-1.2M161.3 306.4v-0.7M162.9 306.4v-0.6M175.8 306.4v-0.3M176.5 306.4v-0.4M259.7 306.4v-1.8M259.1 306.4v-2.2M261.2 306.4v-1.5M260.4 306.4v-1.3M266 306.4v-0.5M266.1 306.4v-0.5M296 306.4v-2.3M295.7 306.4v-1.8M299.8 306.4v-1.1M298.1 306.4v-1.2M303.5 306.4v-1.2M303.1 306.4v-1.2M59.4 306.4v-0.5M69.5 306.4v-0.5M82.5 306.4v-0.7M95.2 306.4v-0.3M99.4 306.4v-0.6M108.6 306.4v-0.4M114.8 306.4v-0.7M126 306.4v-0.2M131.1 306.4v-0.6M138.9 306.4v-0.3M151.5 306.4v-0.4M156.1 306.4v-0.4M163.8 306.4v-0.6M174.7 306.4v-0.2M182.9 306.4v-0.7M191.3 306.4v-0.7M203.4 306.4v-0.7M213.3 306.4v-0.3M226.1 306.4v-0.4M232.9 306.4v-0.5M241.7 306.4v-0.7M250.5 306.4v-0.8M261.6 306.4v-0.6M268.1 306.4v-0.6M276.6 306.4v-0.7M283.1 306.4v-0.7M293.5 306.4v-0.3M305.9 306.4v-0.5M313.9 306.4v-0.4M321.4 306.4v-0.7M333.7 306.4v-0.5M342.5 306.4v-0.5M347.6 306.4v-0.7M355.4 306.4v-0.2"/><rect x="53" y="305.9" width="296" height="0.5" fill="#5a88cc" opacity="0.55"/><text x="50.2" y="311.3" font-size="5.6" fill="#4a7cc4" text-anchor="end">Input</text><path stroke="#4a7cc4" stroke-width="1.1" d="M59.6 311.1v-0M59.2 311.1v-0M63.1 311.1v-0.2M74.6 311.1v-0.4M85.8 311.1v-0.5M96.7 311.1v-0.6M103.7 311.1v-0.6M116.5 311.1v-0.7M128.6 311.1v-0.3M138.4 311.1v-0.7M145.1 311.1v-0.2M155.9 311.1v-0.5M168.6 311.1v-0.4M173.4 311.1v-0.5M185 311.1v-0.6M189.9 311.1v-0.4M195.1 311.1v-0.4M206.1 311.1v-0.5M214.9 311.1v-0.3M223.6 311.1v-0.8M231.2 311.1v-0.4M241.4 311.1v-0.7M245.9 311.1v-0.6M255.3 311.1v-0.6M263.9 311.1v-0.6M275.6 311.1v-0.4M280.9 311.1v-0.3M289.8 311.1v-0.3M298.1 311.1v-0.5M306 311.1v-0.6M314.8 311.1v-0.5M325.8 311.1v-0.4M330 311.1v-0.7M337.3 311.1v-0.4M342.3 311.1v-0.5M353.6 311.1v-0.2"/><rect x="53" y="310.1" width="296" height="1" fill="#4a7cc4" opacity="0.9"/><text x="50.2" y="318.6" font-size="5.6" fill="#d0282a" text-anchor="end">H3K4me3</text><path stroke="#d42a2a" stroke-width="1.1" d="M67.6 318.2v-1.5M68.8 318.2v-1.3M69.2 318.2v-1.8M74.5 318.2v-3.9M75.6 318.2v-2.7M73.2 318.2v-4.6M74.5 318.2v-4M79.5 318.2v-3.2M78.7 318.2v-4M77.1 318.2v-3M80.5 318.2v-1.5M82 318.2v-2.4M93.3 318.2v-1.2M92.4 318.2v-0.8M106.9 318.2v-1.8M107.2 318.2v-1.4M106.8 318.2v-1.9M109.6 318.2v-2.9M109 318.2v-2.9M111 318.2v-1.8M116.3 318.2v-2.1M116.1 318.2v-1.7M117.2 318.2v-1.9M118.6 318.2v-2.8M117.9 318.2v-2.9M119.6 318.2v-3M122.1 318.2v-3.1M122.6 318.2v-5.8M122.3 318.2v-2.9M124.1 318.2v-4.3M127 318.2v-3.5M124.2 318.2v-2.9M128.4 318.2v-1.5M128.2 318.2v-1.6M132.9 318.2v-1.8M132.4 318.2v-1.6M135.4 318.2v-2.8M137.2 318.2v-2.3M138.1 318.2v-1.8M147.3 318.2v-2M147.6 318.2v-1.8M152.9 318.2v-1.2M154.1 318.2v-1.6M159.5 318.2v-2M160.3 318.2v-2.4M158.6 318.2v-3.5M162.8 318.2v-2M161 318.2v-1.6M169.3 318.2v-2.4M170.2 318.2v-2.2M171.3 318.2v-2M176.6 318.2v-1.7M177.2 318.2v-2.4M197.2 318.2v-0.9M196.8 318.2v-1M229.4 318.2v-2.1M229.5 318.2v-2.3M232.1 318.2v-2.8M233 318.2v-2.1M254.5 318.2v-3.5M255.7 318.2v-2.2M256.6 318.2v-2.5M258.9 318.2v-3.9M258.4 318.2v-4.2M260.4 318.2v-2.2M268.3 318.2v-1.5M268 318.2v-1.4M279.5 318.2v-2.2M281.4 318.2v-2.3M280 318.2v-3.3M283.3 318.2v-2.8M284.9 318.2v-2.3M290.8 318.2v-2.9M291.2 318.2v-2.2M295.6 318.2v-2.8M295.7 318.2v-4.7M294 318.2v-2.3M300 318.2v-4.1M298.6 318.2v-1.9M297.9 318.2v-3.4M304.3 318.2v-2.8M302.1 318.2v-4.4M303.4 318.2v-2.5M329.6 318.2v-1.8M328.7 318.2v-1.6M62.8 318.2v-0.7M68.4 318.2v-0.2M75.2 318.2v-0.7M79.5 318.2v-0.3M87 318.2v-0.4M98.8 318.2v-0.2M111.2 318.2v-0.4M123.9 318.2v-0.6M129.4 318.2v-0.3M142.2 318.2v-0.4M149 318.2v-0.7M155.8 318.2v-0.8M161 318.2v-0.3M173.6 318.2v-0.5M184.5 318.2v-0.4M195.6 318.2v-0.5M200.8 318.2v-0.5M210 318.2v-0.8M222.1 318.2v-0.7M232.4 318.2v-0.7M241.5 318.2v-0.6M252.1 318.2v-0.5M259.8 318.2v-0.5M267.1 318.2v-0.4M275.3 318.2v-0.3M280.6 318.2v-0.6M286.1 318.2v-0.4M293 318.2v-0.5M300.7 318.2v-0.3M310.6 318.2v-0.6M314.7 318.2v-0.4M321.2 318.2v-0.6M329.6 318.2v-0.6M337.9 318.2v-0.4M343.8 318.2v-0.2M355.2 318.2v-0.6"/><rect x="53" y="317.8" width="296" height="0.5" fill="#d42a2a" opacity="0.55"/><text x="50.2" y="325" font-size="5.6" fill="#d0282a" text-anchor="end">H3K9ac</text><path stroke="#d42a2a" stroke-width="1.1" d="M68.3 324.6v-1.3M68.9 324.6v-1.3M69.1 324.6v-1M73.5 324.6v-3.9M73.9 324.6v-3M74.2 324.6v-4.1M74.8 324.6v-2.5M79.1 324.6v-2.8M79.2 324.6v-3.9M77.1 324.6v-3.5M80.5 324.6v-0.9M80.4 324.6v-1.1M91.6 324.6v-1.3M93.7 324.6v-0.8M106.9 324.6v-1.9M107.7 324.6v-1.3M106 324.6v-1.5M109.7 324.6v-1.2M108.7 324.6v-1.7M110 324.6v-1.3M117 324.6v-1.9M115.6 324.6v-1.5M116 324.6v-2.1M120.4 324.6v-4.2M119.2 324.6v-2.2M117.5 324.6v-2.3M121 324.6v-4.1M121.7 324.6v-4.1M122.4 324.6v-3.8M124.4 324.6v-3.9M124.3 324.6v-2.3M127 324.6v-3.9M128.7 324.6v-2.1M128.8 324.6v-1.9M133.4 324.6v-1.8M135.3 324.6v-1.8M134 324.6v-1.6M137 324.6v-1.3M138.2 324.6v-1.4M148.3 324.6v-1.3M147.6 324.6v-1.3M153.9 324.6v-1.3M153.3 324.6v-1.5M158.6 324.6v-2.7M159.9 324.6v-1.9M158.8 324.6v-2.6M161.7 324.6v-2.3M163 324.6v-2.1M170.4 324.6v-1.6M170.6 324.6v-1.3M170.3 324.6v-1.7M177.7 324.6v-1.7M176.5 324.6v-1.6M195.7 324.6v-0.7M196.9 324.6v-0.9M228.3 324.6v-2.3M228.3 324.6v-2.2M231.7 324.6v-2M232.9 324.6v-1.4M255.8 324.6v-1.8M256.6 324.6v-1.5M254.6 324.6v-2.9M258 324.6v-2.1M257.9 324.6v-2.9M258.5 324.6v-3.4M268.5 324.6v-1.2M269 324.6v-1.1M280.3 324.6v-1.4M282.1 324.6v-2.3M279.5 324.6v-2.2M284.8 324.6v-2.3M283.2 324.6v-1.5M291.2 324.6v-1.5M290.5 324.6v-2M296.4 324.6v-3.1M293.4 324.6v-2.5M294.3 324.6v-3.5M299.8 324.6v-3.3M298.7 324.6v-1.6M299.4 324.6v-3.4M302.2 324.6v-4.4M302.2 324.6v-3.5M302.2 324.6v-3M328.6 324.6v-0.8M330.1 324.6v-1.3M59.3 324.6v-0.7M68.8 324.6v-0.8M79.5 324.6v-0.6M85.6 324.6v-0.5M90.5 324.6v-0.3M100.2 324.6v-0.8M109.2 324.6v-0.4M119.8 324.6v-0.7M132.6 324.6v-0.8M137.6 324.6v-0.4M143.8 324.6v-0.8M147.9 324.6v-0.3M156.6 324.6v-0.4M168.6 324.6v-0.3M177.3 324.6v-0.7M184.7 324.6v-0.4M196 324.6v-0.7M204.6 324.6v-0.6M213.9 324.6v-0.4M221.2 324.6v-0.3M231.6 324.6v-0.7M242.6 324.6v-0.6M249.5 324.6v-0.8M253.7 324.6v-0.6M259.2 324.6v-0.5M270.6 324.6v-0.7M279.9 324.6v-0.8M288 324.6v-0.5M292.6 324.6v-0.3M300.9 324.6v-0.7M312 324.6v-0.4M324.5 324.6v-0.2M333.2 324.6v-0.4M338.7 324.6v-0.4M349.3 324.6v-0.3"/><rect x="53" y="324.2" width="296" height="0.5" fill="#d42a2a" opacity="0.55"/><text x="50.2" y="330.4" font-size="5.6" fill="#d0282a" text-anchor="end">H3K56ac</text><path stroke="#d42a2a" stroke-width="1.1" d="M68.3 330.1v-1M70.5 330.1v-0.9M68.6 330.1v-1M76.5 330.1v-3.3M72.7 330.1v-2M74.8 330.1v-1.8M76.2 330.1v-2M77 330.1v-3M77.2 330.1v-1.5M76.5 330.1v-1.4M80.5 330.1v-1M80.6 330.1v-1.3M92.6 330.1v-0.8M92.5 330.1v-0.7M107.9 330.1v-1.1M107 330.1v-0.8M107.5 330.1v-0.8M109.3 330.1v-1.4M111.5 330.1v-1.9M111.1 330.1v-1.8M115.7 330.1v-1M116.5 330.1v-1.8M114.6 330.1v-1M118.2 330.1v-2.2M119.1 330.1v-2.8M118.9 330.1v-2.7M122.2 330.1v-3.4M121.8 330.1v-2.3M121.3 330.1v-2.6M127 330.1v-3M124.6 330.1v-1.9M124.8 330.1v-2M128.2 330.1v-1M128.2 330.1v-1.7M135.5 330.1v-1M135.1 330.1v-1.7M134.7 330.1v-1.8M138.8 330.1v-1.5M138.2 330.1v-1.4M149.2 330.1v-0.8M147.6 330.1v-0.9M153.4 330.1v-1M154.3 330.1v-1.2M160.6 330.1v-1.6M157.5 330.1v-1.9M158.4 330.1v-1.6M162.3 330.1v-1.9M161.5 330.1v-1.8M169.4 330.1v-1.3M171.4 330.1v-1.2M169.8 330.1v-0.9M178.1 330.1v-0.8M177 330.1v-1.6M196.6 330.1v-0.4M195 330.1v-0.6M228.2 330.1v-1.2M228.1 330.1v-1.4M232.7 330.1v-1.2M231 330.1v-1M255.7 330.1v-1.6M255.1 330.1v-2.1M256.8 330.1v-1.2M259.5 330.1v-1.8M257.7 330.1v-2.5M260.4 330.1v-1.5M269 330.1v-1.5M269.2 330.1v-0.9M279.6 330.1v-1.2M280.9 330.1v-2.2M282.1 330.1v-1.8M284.3 330.1v-1.6M283.5 330.1v-1.9M291.9 330.1v-1.1M290 330.1v-1.8M293.9 330.1v-2.4M294.5 330.1v-2.1M294.3 330.1v-1.8M299 330.1v-1.2M297.6 330.1v-2.5M297.8 330.1v-2.5M302.3 330.1v-1.8M302.3 330.1v-2.1M302.4 330.1v-2.4M329.1 330.1v-1.3M328.9 330.1v-0.7M61.1 330.1v-0.3M66.9 330.1v-0.7M75.9 330.1v-0.4M81.1 330.1v-0.6M86.8 330.1v-0.2M91.3 330.1v-0.5M97.9 330.1v-0.3M103 330.1v-0.3M110.1 330.1v-0.6M118.3 330.1v-0.7M128.3 330.1v-0.6M135.3 330.1v-0.5M144.5 330.1v-0.3M149.5 330.1v-0.3M154.9 330.1v-0.8M166.3 330.1v-0.6M172.1 330.1v-0.8M181.7 330.1v-0.5M188.7 330.1v-0.2M201.6 330.1v-0.2M209.4 330.1v-0.6M216.5 330.1v-0.8M223.5 330.1v-0.3M229.3 330.1v-0.3M238.9 330.1v-0.4M245.3 330.1v-0.3M250.8 330.1v-0.4M255.9 330.1v-0.3M264.5 330.1v-0.5M275.3 330.1v-0.4M283.1 330.1v-0.4M288.4 330.1v-0.7M298.4 330.1v-0.3M310.2 330.1v-0.4M321.4 330.1v-0.8M333.2 330.1v-0.5M342.5 330.1v-0.5M350.8 330.1v-0.8"/><rect x="53" y="329.7" width="296" height="0.5" fill="#d42a2a" opacity="0.55"/><text x="50.2" y="337" font-size="5.6" fill="#d0282a" text-anchor="end">H2A.Z</text><path stroke="#d42a2a" stroke-width="1.1" d="M67.9 336.2v-1.1M69.1 336.2v-1.2M69.1 336.2v-1.2M73 336.2v-3.2M75.5 336.2v-4.5M76.1 336.2v-2.4M73.5 336.2v-2.7M76.7 336.2v-2M78.3 336.2v-3.6M77.4 336.2v-3.6M82.1 336.2v-1.2M80.3 336.2v-1.7M92.8 336.2v-1M91.7 336.2v-1.6M107.8 336.2v-2M106.9 336.2v-2.4M105.6 336.2v-1.8M110.7 336.2v-1.3M109 336.2v-1.9M110.2 336.2v-2.4M114.8 336.2v-1.7M115.1 336.2v-1.6M116.5 336.2v-1.5M117.5 336.2v-3M118.1 336.2v-3.7M118.4 336.2v-3.4M122.4 336.2v-3.5M122.8 336.2v-3.1M120.5 336.2v-4.3M125.6 336.2v-4.2M124.6 336.2v-3.9M126.9 336.2v-3.4M128.6 336.2v-1.5M128.6 336.2v-1.5M133.8 336.2v-1.7M134.8 336.2v-2M133.3 336.2v-2.5M138.2 336.2v-1.6M137.2 336.2v-1.3M147 336.2v-1.5M147 336.2v-1.2M153 336.2v-1.9M152.8 336.2v-1.1M160.3 336.2v-3.2M159.6 336.2v-3.2M158.3 336.2v-1.8M162.4 336.2v-1.9M161.6 336.2v-2.5M170.6 336.2v-1.5M170.8 336.2v-1.6M168.5 336.2v-1.3M176.4 336.2v-2M176.6 336.2v-1.4M196.4 336.2v-1M196.6 336.2v-1M229.1 336.2v-1.6M227.8 336.2v-2M231.3 336.2v-2M231.9 336.2v-2.7M257.5 336.2v-2.3M257.3 336.2v-1.7M257.2 336.2v-2.2M258.1 336.2v-2.8M259.9 336.2v-3.3M259.5 336.2v-3.8M267.4 336.2v-2.1M268.5 336.2v-1.6M280.5 336.2v-1.8M279.5 336.2v-2M281.5 336.2v-1.8M285.2 336.2v-1.5M283 336.2v-2.2M292.2 336.2v-2.2M290.9 336.2v-1.5M294.3 336.2v-3.1M296.6 336.2v-3.1M294.8 336.2v-3.7M299.9 336.2v-2.4M300.1 336.2v-2.8M298.4 336.2v-2.5M303.4 336.2v-4.9M303.1 336.2v-3.8M303.7 336.2v-3.7M330.2 336.2v-1.5M328.5 336.2v-1.3M63 336.2v-0.6M71.5 336.2v-0.3M84 336.2v-0.2M95 336.2v-0.4M105.1 336.2v-0.7M113.4 336.2v-0.3M120.1 336.2v-0.4M125.2 336.2v-0.6M138 336.2v-0.4M148.8 336.2v-0.6M153.1 336.2v-0.8M160.7 336.2v-0.7M172.6 336.2v-0.6M184.1 336.2v-0.7M192.9 336.2v-0.3M199.3 336.2v-0.2M205.5 336.2v-0.3M217.8 336.2v-0.5M226.5 336.2v-0.6M234.2 336.2v-0.6M246.7 336.2v-0.7M255.4 336.2v-0.7M264.5 336.2v-0.7M269.2 336.2v-0.7M280.7 336.2v-0.7M292.7 336.2v-0.5M300.8 336.2v-0.6M309.8 336.2v-0.7M315.5 336.2v-0.4M323.5 336.2v-0.7M335.5 336.2v-0.3M344.9 336.2v-0.4M350.7 336.2v-0.4"/><rect x="53" y="335.8" width="296" height="0.5" fill="#d42a2a" opacity="0.55"/><text x="50.2" y="342.2" font-size="5.6" fill="#d0282a" text-anchor="end">H2AK9ac</text><path stroke="#d42a2a" stroke-width="1.1" d="M69.1 341.9v-0.8M68.8 341.9v-0.7M70.4 341.9v-1.1M76.3 341.9v-1.8M74.2 341.9v-3.9M75.7 341.9v-3.2M74.4 341.9v-3.2M76.8 341.9v-2.9M78.6 341.9v-2.1M77.6 341.9v-3.1M81.1 341.9v-1.5M81.9 341.9v-0.8M92 341.9v-0.7M91.8 341.9v-1.2M108.4 341.9v-1.9M108.4 341.9v-1.5M105.7 341.9v-1.7M111.5 341.9v-1.7M110.5 341.9v-1.8M111 341.9v-1M116.4 341.9v-2.1M115.1 341.9v-1.8M117.3 341.9v-1.2M118.1 341.9v-3.8M118.7 341.9v-2.9M120.1 341.9v-3.1M122.4 341.9v-4.1M120.9 341.9v-3.9M121.4 341.9v-2.1M124.5 341.9v-2.8M126.6 341.9v-2M125.8 341.9v-1.8M128.3 341.9v-1M128.7 341.9v-1M135.1 341.9v-1.2M132.7 341.9v-2.1M134.9 341.9v-1.5M138.3 341.9v-1.1M138.1 341.9v-1.2M147.9 341.9v-0.7M148.3 341.9v-1.4M154.7 341.9v-1.2M154.1 341.9v-1.7M160.4 341.9v-2M158.3 341.9v-2.4M160.5 341.9v-2.3M161.9 341.9v-1.3M162.6 341.9v-1.9M171.2 341.9v-1M170.2 341.9v-1.2M171.4 341.9v-1.4M176.6 341.9v-1.9M176.9 341.9v-2M196.4 341.9v-0.7M196.1 341.9v-0.6M230 341.9v-1.8M228.1 341.9v-2M233 341.9v-1.2M233.1 341.9v-1.9M255.8 341.9v-2M256.7 341.9v-1.2M257.3 341.9v-2.1M258.7 341.9v-2.8M257.7 341.9v-2.9M260.2 341.9v-2.5M268.7 341.9v-1.6M268.5 341.9v-0.9M280.6 341.9v-1.3M282.5 341.9v-1.8M280.9 341.9v-1.9M283.6 341.9v-1.3M284.8 341.9v-1.2M291.5 341.9v-1.3M289.9 341.9v-1.5M294.5 341.9v-2.8M294.6 341.9v-2.9M295.2 341.9v-3.2M299.1 341.9v-2.5M300.6 341.9v-1.8M299.2 341.9v-2.3M302.4 341.9v-3M304 341.9v-2.6M302.6 341.9v-3.6M329.3 341.9v-1.5M329.5 341.9v-1.2M65 341.9v-0.3M72.1 341.9v-0.5M81.5 341.9v-0.8M87.7 341.9v-0.7M92.8 341.9v-0.6M97 341.9v-0.3M108.5 341.9v-0.3M119.8 341.9v-0.5M130.8 341.9v-0.8M141.8 341.9v-0.7M148.4 341.9v-0.8M156.4 341.9v-0.5M168.9 341.9v-0.4M180.5 341.9v-0.7M189.4 341.9v-0.3M196.4 341.9v-0.6M208.8 341.9v-0.6M220.1 341.9v-0.8M224.2 341.9v-0.4M230.5 341.9v-0.7M240.2 341.9v-0.7M247.5 341.9v-0.4M257.4 341.9v-0.8M261.8 341.9v-0.6M266.1 341.9v-0.3M275.1 341.9v-0.6M282.5 341.9v-0.8M292.1 341.9v-0.4M300.9 341.9v-0.6M312.6 341.9v-0.5M323.1 341.9v-0.7M328 341.9v-0.5M334.3 341.9v-0.5M347.1 341.9v-0.6M357.4 341.9v-0.3"/><rect x="53" y="341.4" width="296" height="0.5" fill="#d42a2a" opacity="0.55"/><text x="50.2" y="347.2" font-size="5.6" fill="#d0282a" text-anchor="end">H2BK5ac</text><path fill="#d42a2a" d="M72.5 346.9L73.5 345.9L74.3 345L75.2 345.8L76.2 346.9ZM72.9 346.9L73.9 345.9L74.7 345.1L75.5 345.8L76.6 346.9ZM106.1 346.9L107.5 345.2L108.6 343.8L109.7 345L111.1 346.9ZM106.1 346.9L107.7 345.5L108.9 344.3L110.2 345.3L111.8 346.9ZM109.7 346.9L111.1 345.5L112.2 344.3L113.4 345.4L114.8 346.9ZM109.7 346.9L110.8 345.6L111.6 344.5L112.5 345.5L113.6 346.9ZM115.8 346.9L116.8 345.4L117.6 344.1L118.5 345.2L119.5 346.9ZM115.8 346.9L116.9 345.2L117.8 343.7L118.6 345L119.7 346.9ZM117.7 346.9L119.4 345.3L120.9 344.1L122.3 345.2L124 346.9ZM117 346.9L118.8 345.2L120.2 343.8L121.6 345.1L123.4 346.9ZM122.5 346.9L123.8 345.3L124.9 344.1L126 345.2L127.3 346.9ZM123 346.9L124.1 345.4L125 344.2L125.9 345.3L126.9 346.9ZM129.4 346.9L130.5 345.8L131.4 344.8L132.3 345.7L133.5 346.9ZM129.7 346.9L130.8 345.4L131.7 344.1L132.6 345.2L133.7 346.9ZM132.5 346.9L133.5 345.9L134.4 345.1L135.3 345.8L136.3 346.9ZM133 346.9L134.4 345.6L135.5 344.5L136.7 345.5L138.1 346.9ZM139.5 346.9L140.7 345.8L141.7 344.9L142.7 345.7L144 346.9ZM138.8 346.9L139.9 345.7L140.8 344.8L141.7 345.6L142.9 346.9ZM142.6 346.9L143.9 346L145 345.2L146.1 345.9L147.5 346.9ZM143.7 346.9L144.7 345.9L145.6 345L146.5 345.8L147.5 346.9ZM153.8 346.9L155.1 346.1L156.1 345.4L157.2 346L158.5 346.9ZM153 346.9L154.3 346.3L155.3 345.8L156.4 346.2L157.6 346.9ZM160.8 346.9L162.2 346.2L163.3 345.7L164.5 346.2L165.9 346.9ZM161.1 346.9L162.2 346.2L163.1 345.5L164 346.1L165.1 346.9ZM181.6 346.9L182.7 346.4L183.5 346L184.4 346.4L185.4 346.9ZM180 346.9L181.4 346.5L182.6 346.2L183.7 346.5L185.1 346.9ZM225.7 346.9L227.1 346.4L228.2 345.9L229.4 346.3L230.8 346.9ZM225.6 346.9L226.8 346.1L227.7 345.5L228.6 346.1L229.8 346.9ZM253.1 346.9L254.3 346.2L255.4 345.6L256.4 346.1L257.6 346.9ZM254 346.9L255 346.1L255.9 345.5L256.7 346.1L257.8 346.9ZM262.9 346.9L264.4 346.5L265.6 346.1L266.9 346.4L268.4 346.9ZM264 346.9L265.1 346.4L266 346L266.9 346.4L267.9 346.9ZM281.2 346.9L282.3 346.3L283.2 345.8L284 346.3L285.1 346.9ZM280.8 346.9L282.1 346.1L283.3 345.5L284.4 346.1L285.8 346.9ZM290 346.9L291.4 345.9L292.6 345.1L293.7 345.8L295.1 346.9ZM290.2 346.9L291.4 345.7L292.5 344.6L293.5 345.5L294.8 346.9ZM293.4 346.9L294.5 345.6L295.4 344.5L296.3 345.5L297.4 346.9ZM292.7 346.9L294 345.2L295.1 343.9L296.2 345.1L297.5 346.9ZM295.2 346.9L296.6 345.2L297.8 343.7L299 345L300.5 346.9ZM294.9 346.9L296.3 344.6L297.4 342.6L298.5 344.3L299.9 346.9ZM299.3 346.9L300.8 344.7L302 342.9L303.3 344.5L304.8 346.9ZM299.1 346.9L300.5 344.4L301.7 342.3L302.9 344.1L304.4 346.9ZM301.9 346.9L302.8 345.1L303.5 343.7L304.2 345L305 346.9Z"/><path stroke="#d42a2a" stroke-width="1.1" d="M65 346.9v-0.4M72.7 346.9v-0.6M77.7 346.9v-0.6M84.2 346.9v-0.6M96.8 346.9v-0.6M103.9 346.9v-0.7M112.6 346.9v-0.3M119.9 346.9v-0.2M129.6 346.9v-0.4M138.6 346.9v-0.6M146.7 346.9v-0.2M156.1 346.9v-0.2M165.5 346.9v-0.5M173.5 346.9v-0.5M178.3 346.9v-0.4M184.1 346.9v-0.3M189.2 346.9v-0.3M200.9 346.9v-0.7M210.4 346.9v-0.6M214.6 346.9v-0.4M225.1 346.9v-0.7M229.6 346.9v-0.7M242.3 346.9v-0.2M249.9 346.9v-0.7M257 346.9v-0.3M266.3 346.9v-0.5M277.2 346.9v-0.3M285.7 346.9v-0.3M298.2 346.9v-0.7M310.8 346.9v-0.3M316.4 346.9v-0.6M324.6 346.9v-0.6M334.4 346.9v-0.2M339.4 346.9v-0.6M345.9 346.9v-0.4M355.5 346.9v-0.2"/><rect x="53" y="346.4" width="296" height="0.5" fill="#d42a2a" opacity="0.55"/><text x="50.2" y="353.9" font-size="5.6" fill="#d8642a" text-anchor="end">H3K4me2</text><path stroke="#e0642c" stroke-width="1.1" d="M67.8 353.6v-1.7M68.6 353.6v-1.2M67.7 353.6v-1.1M75.9 353.6v-2.7M76.2 353.6v-4.7M73.8 353.6v-4.9M75 353.6v-4.1M76.6 353.6v-3.7M77.8 353.6v-2.8M79.6 353.6v-4.3M81.6 353.6v-1.6M82.1 353.6v-1.6M93.5 353.6v-0.8M93.7 353.6v-1M107.4 353.6v-1.6M106 353.6v-1.9M105.5 353.6v-2.2M111.1 353.6v-1.5M108.9 353.6v-2.3M111.3 353.6v-1.4M114.6 353.6v-2.6M114.9 353.6v-2.4M115.7 353.6v-2.4M119 353.6v-3M118.6 353.6v-2.7M119.2 353.6v-4.9M121.7 353.6v-2.6M121.4 353.6v-3.4M123.2 353.6v-2.8M124.6 353.6v-4.4M124.2 353.6v-3.6M124.2 353.6v-2.1M130.1 353.6v-1.9M128.7 353.6v-1.7M134.3 353.6v-1.5M134.4 353.6v-1.3M133.9 353.6v-2.2M137.1 353.6v-1.6M137 353.6v-2.1M147.3 353.6v-0.9M148.3 353.6v-1.5M154.2 353.6v-1.7M154 353.6v-1.8M157.8 353.6v-1.6M160.6 353.6v-2.5M158.6 353.6v-1.8M161.5 353.6v-2.5M160.9 353.6v-1.7M168.6 353.6v-1.3M170.6 353.6v-2.2M171.3 353.6v-1.2M178.7 353.6v-2.2M177 353.6v-2.4M195.8 353.6v-0.7M196.7 353.6v-0.9M228.1 353.6v-2.7M227.8 353.6v-1.5M231.9 353.6v-2.5M231.7 353.6v-2.7M257.4 353.6v-2.9M257.4 353.6v-3.2M256.1 353.6v-2.4M259.8 353.6v-3.7M260 353.6v-2.6M260.1 353.6v-2.4M267.8 353.6v-2.1M268.1 353.6v-1.5M281 353.6v-2.8M282.4 353.6v-2.9M281 353.6v-2.3M285.1 353.6v-2.2M284.3 353.6v-2.2M291.9 353.6v-2.1M291.2 353.6v-1.6M295.8 353.6v-3.7M294.5 353.6v-2.5M295.6 353.6v-2.9M299.8 353.6v-3.4M299.2 353.6v-2.3M298.2 353.6v-2.4M301.5 353.6v-4.7M302.3 353.6v-3.6M301.7 353.6v-4.6M328.4 353.6v-1.9M330.5 353.6v-1M63.1 353.6v-0.3M74.2 353.6v-0.5M86.8 353.6v-0.5M96.7 353.6v-0.4M103.8 353.6v-0.5M110.5 353.6v-0.5M117.4 353.6v-0.5M122.8 353.6v-0.4M129.8 353.6v-0.5M142.7 353.6v-0.8M150.9 353.6v-0.6M162.2 353.6v-0.7M171.7 353.6v-0.3M181.6 353.6v-0.4M186.8 353.6v-0.3M197.4 353.6v-0.3M203.9 353.6v-0.4M210.7 353.6v-0.5M216.8 353.6v-0.3M226.8 353.6v-0.2M238.7 353.6v-0.8M243.7 353.6v-0.6M255.3 353.6v-0.3M268 353.6v-0.4M272.4 353.6v-0.2M279.1 353.6v-0.4M289 353.6v-0.5M300.3 353.6v-0.6M307.4 353.6v-0.2M319.1 353.6v-0.4M331.1 353.6v-0.2M337.2 353.6v-0.7M348.2 353.6v-0.3M358.6 353.6v-0.7"/><rect x="53" y="353.2" width="296" height="0.5" fill="#e0642c" opacity="0.55"/><text x="50.2" y="359.2" font-size="5.6" fill="#d8642a" text-anchor="end">H3K18ac</text><path fill="#e07a30" d="M71.3 358.7L72.8 357.9L74 357.3L75.3 357.9L76.8 358.7ZM71.5 358.7L73 357.8L74.2 357.1L75.4 357.7L77 358.7ZM104.7 358.7L106 357L107.2 355.6L108.3 356.8L109.7 358.7ZM104.3 358.7L106.1 357.3L107.5 356.1L108.9 357.2L110.7 358.7ZM110.6 358.7L111.8 357.3L112.7 356.1L113.7 357.1L114.8 358.7ZM109.4 358.7L110.5 357.5L111.4 356.5L112.3 357.4L113.4 358.7ZM116.1 358.7L117.1 357.2L118 355.9L118.9 357L119.9 358.7ZM115 358.7L116.4 356.9L117.5 355.5L118.7 356.8L120 358.7ZM117.4 358.7L118.9 356.4L120.2 354.6L121.5 356.2L123 358.7ZM117.7 358.7L119.4 356.5L120.8 354.7L122.2 356.3L123.9 358.7ZM122.6 358.7L123.8 357.3L124.9 356.1L126 357.1L127.2 358.7ZM123.6 358.7L124.7 357L125.5 355.7L126.4 356.9L127.4 358.7ZM129.2 358.7L130.3 357.5L131.2 356.5L132.2 357.4L133.3 358.7ZM130.5 358.7L131.6 357.3L132.4 356.2L133.3 357.2L134.4 358.7ZM132.6 358.7L133.8 357.6L134.9 356.7L135.9 357.5L137.2 358.7ZM132.5 358.7L133.7 357.5L134.6 356.6L135.5 357.4L136.7 358.7ZM139.5 358.7L140.8 357.7L141.8 356.8L142.8 357.6L144.1 358.7ZM138.8 358.7L140.3 357.7L141.5 356.9L142.7 357.6L144.2 358.7ZM143 358.7L144.2 357.7L145.1 356.9L146 357.6L147.1 358.7ZM142.1 358.7L143.5 357.7L144.7 356.9L145.9 357.6L147.3 358.7ZM152.7 358.7L154.2 357.8L155.4 357.1L156.7 357.7L158.2 358.7ZM153.3 358.7L154.4 357.9L155.3 357.2L156.2 357.8L157.4 358.7ZM160.3 358.7L161.4 357.9L162.4 357.3L163.3 357.8L164.4 358.7ZM160.5 358.7L161.8 358L162.9 357.4L163.9 357.9L165.3 358.7ZM181.4 358.7L182.6 358.2L183.6 357.7L184.7 358.1L185.9 358.7ZM180.4 358.7L181.5 358.2L182.4 357.8L183.3 358.2L184.3 358.7ZM225.2 358.7L226.6 358.1L227.8 357.7L229 358.1L230.4 358.7ZM225.2 358.7L226.5 358L227.5 357.3L228.6 357.9L229.9 358.7ZM254 358.7L255.2 357.9L256.2 357.2L257.1 357.8L258.3 358.7ZM253.1 358.7L254.4 357.9L255.5 357.2L256.6 357.8L257.9 358.7ZM263.9 358.7L265 358.2L265.9 357.8L266.8 358.2L267.8 358.7ZM263.8 358.7L265 358.1L265.9 357.6L266.9 358.1L268 358.7ZM280.2 358.7L281.3 358L282.2 357.3L283.1 357.9L284.3 358.7ZM281.1 358.7L282.4 357.9L283.4 357.2L284.4 357.8L285.7 358.7ZM289.1 358.7L290.3 357.5L291.3 356.6L292.3 357.4L293.6 358.7ZM290.5 358.7L291.5 357.5L292.4 356.5L293.3 357.4L294.4 358.7ZM292.8 358.7L293.8 357L294.7 355.7L295.5 356.9L296.6 358.7ZM292.6 358.7L293.6 356.9L294.5 355.4L295.3 356.7L296.3 358.7ZM294.1 358.7L296 356.9L297.5 355.4L299 356.7L300.9 358.7ZM295.1 358.7L296.9 356.3L298.4 354.3L299.9 356.1L301.7 358.7ZM298.2 358.7L299.7 356.2L300.9 354.2L302.2 356L303.6 358.7ZM298.7 358.7L300.1 356.9L301.3 355.5L302.4 356.8L303.9 358.7ZM302.1 358.7L303.1 357L303.9 355.5L304.6 356.8L305.6 358.7Z"/><path stroke="#e07a30" stroke-width="1.1" d="M59.5 358.7v-0.5M66.2 358.7v-0.6M73.2 358.7v-0.3M80.7 358.7v-0.5M90.5 358.7v-0.3M99.4 358.7v-0.5M105.4 358.7v-0.4M113.3 358.7v-0.6M118.5 358.7v-0.3M130.6 358.7v-0.5M134.6 358.7v-0.5M147.4 358.7v-0.5M158.5 358.7v-0.6M163.7 358.7v-0.6M168.1 358.7v-0.2M178.3 358.7v-0.4M189.1 358.7v-0.4M198.1 358.7v-0.5M208.6 358.7v-0.6M221.4 358.7v-0.4M234.3 358.7v-0.2M244.8 358.7v-0.5M249.3 358.7v-0.3M259.8 358.7v-0.2M267.5 358.7v-0.5M273.5 358.7v-0.5M277.9 358.7v-0.3M282.6 358.7v-0.5M290.1 358.7v-0.6M300.5 358.7v-0.6M304.6 358.7v-0.4M317.5 358.7v-0.5M327.1 358.7v-0.6M332.6 358.7v-0.7M339.9 358.7v-0.5M352.8 358.7v-0.2"/><rect x="53" y="358.2" width="296" height="0.5" fill="#e07a30" opacity="0.55"/><text x="50.2" y="365.2" font-size="5.6" fill="#d6cf22" text-anchor="end">H3K4me1</text><path fill="#e2de2a" d="M70.9 365L72.2 364.3L73.3 363.7L74.3 364.2L75.6 365ZM70.6 365L72.1 364.5L73.4 364.1L74.6 364.4L76.1 365ZM104.7 365L106.4 364L107.8 363.1L109.2 363.9L110.9 365ZM105.4 365L107.3 364L108.9 363.1L110.4 363.9L112.3 365ZM109.2 365L110.6 363.8L111.7 362.9L112.8 363.7L114.2 365ZM109.5 365L110.5 363.8L111.4 362.9L112.3 363.7L113.3 365ZM114.6 365L116.1 363.8L117.3 362.8L118.6 363.7L120.1 365ZM114.7 365L116.1 363.6L117.2 362.5L118.4 363.5L119.8 365ZM118.7 365L120.2 363.6L121.4 362.5L122.6 363.5L124.1 365ZM118 365L119.4 363.5L120.6 362.3L121.7 363.4L123.1 365ZM122.5 365L123.5 363.9L124.4 363L125.2 363.8L126.2 365ZM123.3 365L124.4 364L125.3 363.2L126.3 363.9L127.4 365ZM129.3 365L130.7 363.9L131.9 363L133.1 363.8L134.5 365ZM129.9 365L131.3 364.1L132.5 363.4L133.7 364L135.1 365ZM132.9 365L134.4 364.2L135.7 363.5L136.9 364.1L138.4 365ZM133.2 365L134.3 364.3L135.2 363.7L136.1 364.2L137.3 365ZM138.7 365L140.2 364.3L141.5 363.7L142.7 364.2L144.2 365ZM139.8 365L140.9 364.1L141.8 363.4L142.6 364L143.7 365ZM142.3 365L143.4 364.2L144.3 363.5L145.2 364.1L146.3 365ZM142.2 365L143.5 364.2L144.7 363.6L145.8 364.2L147.1 365ZM153.5 365L154.8 364.4L155.9 364L156.9 364.4L158.3 365ZM153.9 365L155.1 364.4L156.1 363.9L157.1 364.3L158.3 365ZM160.2 365L161.3 364.6L162.2 364.3L163.1 364.6L164.2 365ZM161.1 365L162.2 364.6L163.1 364.2L164 364.5L165.1 365ZM180.9 365L182.4 364.7L183.6 364.5L184.8 364.7L186.2 365ZM180.4 365L181.9 364.7L183.2 364.4L184.4 364.6L186 365ZM224.9 365L226.3 364.5L227.4 364L228.6 364.4L230 365ZM226.6 365L227.8 364.5L228.7 364.2L229.7 364.5L230.8 365ZM253.3 365L254.6 364.5L255.7 364L256.7 364.4L258 365ZM254.1 365L255.1 364.5L255.9 364.1L256.8 364.5L257.8 365ZM263.7 365L264.8 364.6L265.6 364.3L266.4 364.6L267.4 365ZM262.5 365L264 364.6L265.2 364.3L266.4 364.6L267.9 365ZM280.9 365L282.1 364.4L283 363.9L284 364.3L285.2 365ZM281.9 365L282.9 364.4L283.7 363.9L284.5 364.3L285.6 365ZM290.2 365L291.3 364.3L292.1 363.7L292.9 364.2L294 365ZM290.3 365L291.6 364L292.7 363.2L293.8 363.9L295.1 365ZM293 365L294.5 364L295.6 363.2L296.8 363.9L298.3 365ZM292.7 365L293.9 363.9L294.8 363L295.7 363.8L296.9 365ZM295.1 365L296.6 363.2L297.9 361.6L299.2 363L300.8 365ZM296.6 365L297.9 363.5L298.9 362.3L299.9 363.4L301.1 365ZM299 365L300.8 363.4L302.2 362.1L303.6 363.3L305.4 365ZM299.3 365L300.7 363.5L301.8 362.3L302.9 363.4L304.3 365ZM302.8 365L303.6 364L304.3 363.1L304.9 363.9L305.8 365ZM290 365L290 365L290.6 364.3L291.2 363.7L291.8 362.8L292.4 362.8L293 361.9L293.6 361.9L294.2 361.5L294.8 360.9L295.4 361.6L296 360.2L296.6 360.5L297.2 361L297.8 361.1L298.4 360.7L299 360.3L299.6 360.3L300.2 361.7L300.8 361.6L301.4 361.3L302 362.4L302.6 362.3L303.2 362.9L303.8 363.5L304.4 364.1L305 365ZM116 365L116 365L116.6 364.4L117.2 363.9L117.8 363.5L118.4 363.3L119 362.9L119.6 362.9L120.2 363.1L120.8 362.8L121.4 362.8L122 362.1L122.6 362.8L123.2 363L123.8 362.5L124.4 362.7L125 363.1L125.6 363.5L126.2 363.9L126.8 364L127.4 364.4L128 365L128 365Z"/><path stroke="#e2de2a" stroke-width="1.1" d="M59 365v-0.3M67 365v-0.6M72.2 365v-0.5M76.4 365v-0.4M84.2 365v-0.3M92.3 365v-0.3M96.7 365v-0.5M101.6 365v-0.3M107.3 365v-0.5M114.6 365v-0.2M120.3 365v-0.4M129.9 365v-0.6M141 365v-0.3M153.4 365v-0.4M161.1 365v-0.2M169.6 365v-0.6M179.8 365v-0.7M192.6 365v-0.3M199.9 365v-0.3M205.8 365v-0.2M214.1 365v-0.4M224.3 365v-0.3M228.8 365v-0.3M239.4 365v-0.7M246.8 365v-0.6M257.2 365v-0.5M267.7 365v-0.3M274 365v-0.5M282 365v-0.2M290.7 365v-0.6M298.2 365v-0.4M303.9 365v-0.6M312.5 365v-0.3M320.2 365v-0.4M332.7 365v-0.6M339.4 365v-0.7M352.1 365v-0.4"/><rect x="53" y="364.6" width="296" height="0.5" fill="#e2de2a" opacity="0.55"/><text x="50.2" y="372.3" font-size="5.6" fill="#e69a78" text-anchor="end">H3K27ac</text><path fill="#f0b058" d="M71.2 371.5L72.7 370.7L74 370L75.2 370.6L76.8 371.5ZM72 371.5L73.5 370.4L74.7 369.5L75.8 370.3L77.3 371.5ZM104.7 371.5L106 369.6L107.1 368L108.1 369.4L109.4 371.5ZM105.2 371.5L106.6 369.8L107.8 368.4L108.9 369.6L110.3 371.5ZM110.2 371.5L111.2 370.1L112.1 368.9L112.9 369.9L113.9 371.5ZM109.1 371.5L110.5 370L111.7 368.8L112.8 369.9L114.3 371.5ZM115.7 371.5L117.1 370L118.4 368.7L119.6 369.8L121.1 371.5ZM116.3 371.5L117.5 369.6L118.4 368.1L119.3 369.5L120.5 371.5ZM119 371.5L120.5 368.9L121.7 366.7L123 368.6L124.5 371.5ZM118 371.5L119.9 368.9L121.4 366.7L123 368.6L124.8 371.5ZM123.3 371.5L124.4 369.7L125.3 368.2L126.1 369.5L127.2 371.5ZM123.2 371.5L124.5 369.6L125.5 368.1L126.6 369.4L127.9 371.5ZM129.8 371.5L131.3 369.8L132.6 368.4L133.8 369.7L135.3 371.5ZM130 371.5L131.3 370L132.4 368.8L133.4 369.9L134.7 371.5ZM132.2 371.5L133.4 370.3L134.3 369.4L135.2 370.2L136.3 371.5ZM131.8 371.5L133.3 370.5L134.4 369.7L135.6 370.4L137 371.5ZM137.9 371.5L139.3 370.4L140.4 369.4L141.4 370.2L142.8 371.5ZM138.7 371.5L139.8 370.2L140.7 369.1L141.6 370.1L142.8 371.5ZM142.7 371.5L144.1 370.3L145.3 369.3L146.5 370.2L147.9 371.5ZM142.7 371.5L143.9 370.6L144.8 369.8L145.8 370.5L147 371.5ZM153.7 371.5L155.2 370.8L156.5 370.2L157.7 370.7L159.2 371.5ZM154.5 371.5L155.6 370.5L156.4 369.7L157.3 370.4L158.4 371.5ZM161.3 371.5L162.4 370.9L163.3 370.4L164.2 370.8L165.4 371.5ZM160 371.5L161.4 370.6L162.5 369.9L163.7 370.5L165.1 371.5ZM180.6 371.5L181.9 371L183 370.6L184.1 371L185.5 371.5ZM181.2 371.5L182.4 371L183.4 370.7L184.4 371L185.6 371.5ZM226.9 371.5L227.9 370.9L228.7 370.3L229.5 370.8L230.5 371.5ZM226.3 371.5L227.6 370.6L228.6 369.9L229.6 370.5L230.8 371.5ZM254.5 371.5L255.5 370.8L256.3 370.2L257.1 370.7L258.1 371.5ZM253 371.5L254.2 370.8L255.2 370.2L256.2 370.7L257.4 371.5ZM262.9 371.5L264.2 370.8L265.2 370.3L266.2 370.8L267.5 371.5ZM263.3 371.5L264.5 370.8L265.6 370.3L266.6 370.8L267.9 371.5ZM281 371.5L282.3 370.8L283.4 370.3L284.4 370.8L285.7 371.5ZM281 371.5L282.4 370.6L283.5 369.9L284.7 370.5L286.1 371.5ZM288.7 371.5L290.1 370.4L291.3 369.5L292.4 370.3L293.8 371.5ZM289.9 371.5L291.1 370.4L292 369.4L292.9 370.3L294.1 371.5ZM292.2 371.5L293.6 369.4L294.8 367.8L296 369.3L297.5 371.5ZM293 371.5L294.3 369.8L295.4 368.5L296.5 369.7L297.9 371.5ZM294.7 371.5L296.2 368.6L297.5 366.3L298.8 368.4L300.3 371.5ZM294.4 371.5L296.1 368.6L297.4 366.3L298.8 368.4L300.5 371.5ZM298.5 371.5L299.9 369.3L301.1 367.4L302.2 369.1L303.6 371.5ZM299.1 371.5L300.7 368.6L302 366.3L303.4 368.4L305 371.5ZM302 371.5L302.8 369.8L303.5 368.4L304.2 369.6L305 371.5Z"/><path stroke="#f0b058" stroke-width="1.1" d="M63.6 371.5v-0.2M69.3 371.5v-0.6M81.3 371.5v-0.2M87.6 371.5v-0.2M92.7 371.5v-0.4M102.2 371.5v-0.2M112.5 371.5v-0.7M120.5 371.5v-0.2M130.2 371.5v-0.6M143.1 371.5v-0.3M153.7 371.5v-0.6M162.9 371.5v-0.5M171.2 371.5v-0.3M175.4 371.5v-0.5M179.7 371.5v-0.3M187.6 371.5v-0.7M192 371.5v-0.5M203 371.5v-0.4M212.7 371.5v-0.4M218.8 371.5v-0.3M226.1 371.5v-0.6M239 371.5v-0.4M248.5 371.5v-0.2M258.1 371.5v-0.6M267.4 371.5v-0.4M275.8 371.5v-0.3M283.5 371.5v-0.4M287.9 371.5v-0.5M298.1 371.5v-0.3M308.5 371.5v-0.3M313.8 371.5v-0.6M325.7 371.5v-0.3M331.1 371.5v-0.2M340.1 371.5v-0.6M350.2 371.5v-0.5"/><rect x="53" y="371.1" width="296" height="0.5" fill="#f0b058" opacity="0.55"/><text x="50.2" y="377.3" font-size="5.6" fill="#e69a78" text-anchor="end">H4K5ac</text><path fill="#f2b860" d="M71.4 376.9L72.9 376.2L74 375.6L75.2 376.1L76.6 376.9ZM71.7 376.9L72.7 375.9L73.5 375.1L74.3 375.8L75.3 376.9ZM104.4 376.9L106.1 375.3L107.5 373.9L108.9 375.1L110.6 376.9ZM106.2 376.9L107.6 375.4L108.8 374.1L110 375.2L111.4 376.9ZM109.1 376.9L110.6 375.4L111.8 374.1L112.9 375.2L114.4 376.9ZM109.3 376.9L110.5 375.4L111.5 374.1L112.5 375.2L113.7 376.9ZM115.5 376.9L116.6 375.1L117.6 373.7L118.5 375L119.6 376.9ZM116 376.9L117.1 375.5L118.1 374.3L119 375.3L120.1 376.9ZM117.1 376.9L118.9 374.5L120.3 372.6L121.8 374.3L123.6 376.9ZM118.6 376.9L120.2 374.7L121.5 372.9L122.8 374.5L124.4 376.9ZM122.8 376.9L124.1 375.2L125.1 373.8L126.1 375L127.3 376.9ZM122.2 376.9L123.4 375.5L124.4 374.3L125.3 375.3L126.5 376.9ZM129.9 376.9L131.2 375.3L132.2 374L133.2 375.2L134.5 376.9ZM129.5 376.9L130.8 375.6L131.8 374.6L132.9 375.5L134.2 376.9ZM133.2 376.9L134.4 375.7L135.3 374.8L136.2 375.6L137.4 376.9ZM133.4 376.9L134.6 376L135.5 375.2L136.5 375.9L137.6 376.9ZM137.8 376.9L139.1 375.9L140.2 375L141.3 375.8L142.6 376.9ZM139.1 376.9L140.3 375.8L141.2 375L142.2 375.8L143.4 376.9ZM143.3 376.9L144.3 375.8L145.2 374.9L146 375.7L147 376.9ZM143.1 376.9L144.3 375.9L145.3 375.1L146.3 375.8L147.6 376.9ZM153.7 376.9L155 376.2L156 375.7L157.1 376.2L158.4 376.9ZM152.7 376.9L154.2 376L155.4 375.3L156.7 376L158.2 376.9ZM160.6 376.9L162 376.2L163.2 375.7L164.4 376.2L165.8 376.9ZM161.2 376.9L162.6 376.1L163.7 375.5L164.8 376L166.1 376.9ZM180 376.9L181.5 376.5L182.7 376.1L184 376.4L185.5 376.9ZM180.3 376.9L181.7 376.5L182.8 376.2L183.9 376.5L185.3 376.9ZM225.3 376.9L226.6 376.1L227.7 375.4L228.8 376L230.1 376.9ZM225 376.9L226.4 376.2L227.5 375.5L228.5 376.1L229.9 376.9ZM252.8 376.9L254.2 376.1L255.3 375.4L256.5 376L257.9 376.9ZM252.6 376.9L254.1 375.9L255.3 375.1L256.5 375.8L258 376.9ZM263.1 376.9L264.6 376.2L265.8 375.6L267.1 376.1L268.6 376.9ZM262.8 376.9L264.2 376.4L265.2 376.1L266.3 376.4L267.6 376.9ZM280.6 376.9L281.7 376.1L282.6 375.4L283.5 376L284.7 376.9ZM280.6 376.9L281.8 376.2L282.7 375.7L283.6 376.2L284.7 376.9ZM290.1 376.9L291.1 375.9L291.9 375.1L292.7 375.8L293.7 376.9ZM289.8 376.9L291.3 375.8L292.6 374.8L293.8 375.7L295.3 376.9ZM292.9 376.9L294.1 375.1L295.1 373.5L296.1 374.9L297.3 376.9ZM292.4 376.9L293.5 374.8L294.5 373.1L295.4 374.6L296.5 376.9ZM294 376.9L295.8 374.6L297.3 372.8L298.8 374.4L300.6 376.9ZM295.2 376.9L296.5 374.8L297.6 373.1L298.7 374.6L300 376.9ZM299.4 376.9L301.1 374.2L302.5 372L303.9 374L305.6 376.9ZM298.3 376.9L300.1 375L301.6 373.4L303.1 374.8L305 376.9ZM302.5 376.9L303.4 375.2L304.1 373.8L304.8 375L305.6 376.9Z"/><path stroke="#f2b860" stroke-width="1.1" d="M58.6 376.9v-0.4M64 376.9v-0.5M72.1 376.9v-0.3M82.8 376.9v-0.6M92.9 376.9v-0.4M104.5 376.9v-0.6M110.3 376.9v-0.6M116 376.9v-0.4M127.5 376.9v-0.6M136.2 376.9v-0.3M144.6 376.9v-0.3M156.9 376.9v-0.6M169.6 376.9v-0.4M178.7 376.9v-0.2M182.7 376.9v-0.3M187.6 376.9v-0.5M195.9 376.9v-0.5M202.3 376.9v-0.2M209.7 376.9v-0.3M214.9 376.9v-0.6M222.1 376.9v-0.6M226.7 376.9v-0.5M234.9 376.9v-0.4M240.8 376.9v-0.5M253 376.9v-0.6M261.5 376.9v-0.5M273.4 376.9v-0.6M278.5 376.9v-0.3M288.9 376.9v-0.7M298.3 376.9v-0.3M306.3 376.9v-0.6M315.3 376.9v-0.4M321.1 376.9v-0.3M333 376.9v-0.6M341.7 376.9v-0.4M348.9 376.9v-0.6M353.1 376.9v-0.4"/><rect x="53" y="376.4" width="296" height="0.5" fill="#f2b860" opacity="0.55"/><text x="50.2" y="382.6" font-size="5.6" fill="#e69a78" text-anchor="end">H4K8ac</text><path fill="#f2b860" d="M71.1 381.9L72.6 380.9L73.8 380.1L75.1 380.8L76.6 381.9ZM70.5 381.9L72 380.9L73.3 380.1L74.5 380.8L76 381.9ZM104.7 381.9L106.3 380.6L107.6 379.5L108.9 380.5L110.4 381.9ZM103.9 381.9L105.7 380.5L107.2 379.3L108.6 380.3L110.4 381.9ZM110 381.9L111.3 380.4L112.3 379.2L113.3 380.3L114.5 381.9ZM109.7 381.9L110.9 380.8L111.9 379.9L112.8 380.7L114 381.9ZM115.7 381.9L117.1 380.6L118.3 379.6L119.5 380.5L120.9 381.9ZM116.4 381.9L117.7 380.2L118.7 378.9L119.8 380.1L121.1 381.9ZM117.5 381.9L119.4 379.4L121 377.3L122.6 379.2L124.5 381.9ZM117.5 381.9L119.3 379.9L120.9 378.3L122.4 379.7L124.3 381.9ZM122.6 381.9L123.9 380.6L124.9 379.5L126 380.4L127.3 381.9ZM123.5 381.9L124.6 380.3L125.6 378.9L126.6 380.1L127.7 381.9ZM130.3 381.9L131.4 380.5L132.3 379.3L133.2 380.4L134.4 381.9ZM129.5 381.9L131 380.4L132.2 379.2L133.5 380.3L135 381.9ZM133.1 381.9L134.4 380.9L135.4 380L136.4 380.8L137.7 381.9ZM133.6 381.9L134.8 380.5L135.7 379.4L136.6 380.4L137.8 381.9ZM138.2 381.9L139.7 380.9L140.9 380.1L142.2 380.8L143.7 381.9ZM138.8 381.9L139.8 380.9L140.7 380L141.5 380.8L142.5 381.9ZM143.3 381.9L144.6 380.9L145.7 380L146.7 380.8L148 381.9ZM143.1 381.9L144.5 380.8L145.7 379.8L146.8 380.6L148.2 381.9ZM153.6 381.9L154.8 381.1L155.8 380.5L156.8 381.1L158.1 381.9ZM154.5 381.9L155.6 381.1L156.5 380.5L157.4 381L158.5 381.9ZM161.1 381.9L162.5 381.1L163.7 380.4L164.8 381L166.3 381.9ZM160.8 381.9L162.3 381.2L163.4 380.7L164.6 381.2L166.1 381.9ZM180.5 381.9L181.9 381.4L182.9 380.9L184 381.3L185.3 381.9ZM181.5 381.9L182.7 381.5L183.7 381.1L184.7 381.4L185.9 381.9ZM225.1 381.9L226.3 381.3L227.4 380.8L228.4 381.2L229.6 381.9ZM226.1 381.9L227.5 381.1L228.5 380.4L229.6 381L231 381.9ZM253 381.9L254.5 381.1L255.7 380.4L256.9 381L258.4 381.9ZM254.4 381.9L255.7 381.2L256.8 380.6L257.9 381.1L259.2 381.9ZM263.2 381.9L264.6 381.4L265.6 381L266.7 381.4L268.1 381.9ZM263.9 381.9L265.4 381.2L266.5 380.6L267.7 381.1L269.1 381.9ZM280.5 381.9L281.8 381L282.8 380.3L283.9 380.9L285.2 381.9ZM280.3 381.9L281.4 380.9L282.3 380.1L283.2 380.8L284.3 381.9ZM289.2 381.9L290.6 381L291.8 380.2L293 380.9L294.4 381.9ZM290 381.9L291.2 380.9L292.1 380.1L293.1 380.8L294.2 381.9ZM292.6 381.9L293.8 380.5L294.8 379.4L295.7 380.4L296.9 381.9ZM292.6 381.9L294 380L295.2 378.4L296.4 379.8L297.8 381.9ZM293.8 381.9L295.6 379.3L297.1 377.2L298.5 379.1L300.3 381.9ZM294.3 381.9L295.9 379.7L297.1 377.9L298.4 379.5L300 381.9ZM299.4 381.9L300.7 379.6L301.7 377.8L302.8 379.4L304.1 381.9ZM298.8 381.9L300.6 379.8L302 378.2L303.4 379.7L305.1 381.9ZM301.4 381.9L302.6 380.4L303.5 379.2L304.5 380.3L305.6 381.9Z"/><path stroke="#f2b860" stroke-width="1.1" d="M60.6 381.9v-0.3M70.5 381.9v-0.7M77.6 381.9v-0.2M82.9 381.9v-0.2M88.5 381.9v-0.5M94.4 381.9v-0.3M101.2 381.9v-0.6M109.1 381.9v-0.2M113.7 381.9v-0.6M119 381.9v-0.3M124 381.9v-0.3M134.6 381.9v-0.6M142.6 381.9v-0.3M148.8 381.9v-0.4M157.9 381.9v-0.4M162.8 381.9v-0.5M172.3 381.9v-0.5M185.2 381.9v-0.3M191 381.9v-0.7M201 381.9v-0.4M206.1 381.9v-0.6M216.9 381.9v-0.4M225.5 381.9v-0.4M230.8 381.9v-0.3M239.7 381.9v-0.3M243.8 381.9v-0.5M248.9 381.9v-0.5M261.5 381.9v-0.6M266.8 381.9v-0.4M272.6 381.9v-0.4M282.1 381.9v-0.5M294.2 381.9v-0.3M306.3 381.9v-0.6M316.3 381.9v-0.3M320.5 381.9v-0.3M332.8 381.9v-0.2M337.4 381.9v-0.6M347.2 381.9v-0.5M357.1 381.9v-0.3"/><rect x="53" y="381.4" width="296" height="0.5" fill="#f2b860" opacity="0.55"/><text x="50.2" y="387.7" font-size="5.6" fill="#e69a78" text-anchor="end">H3K4ac</text><path fill="#f2b860" d="M71.4 387.1L72.9 386.2L74.1 385.4L75.3 386.1L76.8 387.1ZM72.6 387.1L73.8 386.1L74.8 385.2L75.8 386L77 387.1ZM105.1 387.1L106.7 385.3L108.1 383.8L109.4 385.1L111 387.1ZM104.1 387.1L106 385.7L107.6 384.6L109.1 385.6L111 387.1ZM109 387.1L110.3 386L111.3 385.1L112.3 385.9L113.6 387.1ZM109.1 387.1L110.4 385.9L111.5 384.9L112.6 385.8L113.9 387.1ZM115.7 387.1L117.2 385.5L118.4 384.2L119.7 385.3L121.2 387.1ZM115.6 387.1L117 385.6L118.1 384.4L119.3 385.5L120.7 387.1ZM117.4 387.1L119 385L120.4 383.3L121.8 384.8L123.5 387.1ZM116.9 387.1L118.7 385.1L120.2 383.5L121.7 384.9L123.5 387.1ZM123 387.1L124.2 385.2L125.1 383.6L126.1 385L127.2 387.1ZM123.4 387.1L124.4 385.5L125.2 384.3L126.1 385.4L127.1 387.1ZM130.4 387.1L131.4 385.7L132.2 384.6L133 385.6L134 387.1ZM128.7 387.1L130.2 385.7L131.4 384.6L132.6 385.6L134.1 387.1ZM132.3 387.1L133.5 386L134.6 385.2L135.6 385.9L136.8 387.1ZM132.6 387.1L133.8 385.8L134.8 384.7L135.8 385.7L137.1 387.1ZM138.9 387.1L140.1 386.1L141.1 385.3L142.1 386L143.4 387.1ZM138.9 387.1L140.2 386.1L141.3 385.2L142.4 386L143.8 387.1ZM142.8 387.1L144.1 386.3L145.2 385.6L146.2 386.2L147.5 387.1ZM143.5 387.1L144.5 386.2L145.3 385.5L146.1 386.1L147.1 387.1ZM153.2 387.1L154.4 386.5L155.4 385.9L156.4 386.4L157.6 387.1ZM154.3 387.1L155.3 386.3L156.2 385.7L157 386.3L158 387.1ZM160.9 387.1L162 386.5L163 386L164 386.4L165.1 387.1ZM160.3 387.1L161.5 386.4L162.6 385.9L163.6 386.4L164.8 387.1ZM180.4 387.1L181.4 386.6L182.2 386.1L183 386.5L184 387.1ZM180.7 387.1L182.1 386.7L183.3 386.3L184.4 386.6L185.8 387.1ZM225.6 387.1L226.9 386.5L227.9 386L229 386.4L230.3 387.1ZM226.4 387.1L227.7 386.3L228.7 385.7L229.8 386.3L231.1 387.1ZM253.9 387.1L255.1 386.2L256.2 385.5L257.2 386.1L258.5 387.1ZM253.2 387.1L254.5 386.5L255.5 385.9L256.6 386.4L257.8 387.1ZM263.2 387.1L264.7 386.5L265.9 386.1L267 386.5L268.5 387.1ZM263.7 387.1L264.9 386.6L265.9 386.1L266.9 386.5L268.1 387.1ZM281 387.1L282.5 386.3L283.8 385.7L285 386.3L286.5 387.1ZM280.6 387.1L281.9 386.4L282.9 385.9L283.9 386.4L285.1 387.1ZM289.4 387.1L290.8 385.7L291.9 384.6L293 385.6L294.4 387.1ZM290.2 387.1L291.2 385.8L292 384.7L292.8 385.6L293.9 387.1ZM292.9 387.1L294.3 385.5L295.5 384.3L296.7 385.4L298.2 387.1ZM292.7 387.1L294.2 385.1L295.4 383.5L296.6 385L298 387.1ZM295.1 387.1L297 384.4L298.5 382.3L300.1 384.2L302 387.1ZM295.4 387.1L297.2 385.2L298.7 383.7L300.2 385.1L302 387.1ZM299.2 387.1L300.9 384.4L302.3 382.2L303.6 384.2L305.3 387.1ZM299.3 387.1L300.9 385L302.2 383.3L303.5 384.8L305 387.1ZM302.4 387.1L303.2 385.6L303.9 384.4L304.6 385.5L305.5 387.1Z"/><path stroke="#f2b860" stroke-width="1.1" d="M58.5 387.1v-0.6M64.7 387.1v-0.4M74 387.1v-0.5M86.4 387.1v-0.6M97.2 387.1v-0.3M107.6 387.1v-0.5M120 387.1v-0.2M131.9 387.1v-0.7M136 387.1v-0.3M142.7 387.1v-0.2M146.8 387.1v-0.5M155.1 387.1v-0.6M163.1 387.1v-0.5M170.3 387.1v-0.6M175 387.1v-0.4M182.8 387.1v-0.4M189.2 387.1v-0.6M200.2 387.1v-0.3M207.9 387.1v-0.4M220.5 387.1v-0.4M225.4 387.1v-0.5M235.5 387.1v-0.4M240.5 387.1v-0.7M253.1 387.1v-0.5M262.1 387.1v-0.2M269.2 387.1v-0.5M281.9 387.1v-0.7M290.1 387.1v-0.3M301.9 387.1v-0.4M308.8 387.1v-0.4M315.7 387.1v-0.3M324.8 387.1v-0.4M333.8 387.1v-0.4M338 387.1v-0.4M344.8 387.1v-0.5M348.8 387.1v-0.5M355.3 387.1v-0.4"/><rect x="53" y="386.7" width="296" height="0.5" fill="#f2b860" opacity="0.55"/><text x="50.2" y="392.8" font-size="5.6" fill="#e69a78" text-anchor="end">H3K14ac</text><path fill="#f2b860" d="M71.3 392.1L72.4 391.1L73.3 390.2L74.2 391L75.3 392.1ZM71.1 392.1L72.4 391.2L73.5 390.5L74.6 391.1L75.9 392.1ZM106.2 392.1L107.7 390.7L109 389.6L110.3 390.6L111.8 392.1ZM104.7 392.1L106.2 390.6L107.4 389.4L108.6 390.5L110 392.1ZM110.3 392.1L111.6 391L112.7 390.2L113.7 391L115 392.1ZM110.2 392.1L111.3 390.6L112.2 389.4L113.2 390.5L114.3 392.1ZM114.6 392.1L116.2 390.6L117.4 389.4L118.7 390.5L120.2 392.1ZM115.8 392.1L117.4 390.3L118.6 388.8L119.8 390.1L121.3 392.1ZM118 392.1L119.9 390.1L121.5 388.5L123 390L124.9 392.1ZM118.7 392.1L120.1 390.2L121.2 388.6L122.4 390L123.8 392.1ZM122.9 392.1L124.1 390.3L125.1 388.8L126.1 390.1L127.3 392.1ZM123.3 392.1L124.5 390.7L125.4 389.6L126.3 390.6L127.5 392.1ZM129 392.1L130.4 390.6L131.5 389.4L132.6 390.5L134 392.1ZM129.3 392.1L130.6 390.6L131.8 389.3L132.9 390.4L134.2 392.1ZM132.6 392.1L134 391.2L135.2 390.5L136.4 391.2L137.8 392.1ZM133.7 392.1L134.8 391.2L135.7 390.5L136.6 391.2L137.8 392.1ZM138.5 392.1L140 390.9L141.2 389.9L142.4 390.8L143.9 392.1ZM138.5 392.1L140 391L141.2 390.1L142.4 390.9L143.9 392.1ZM142.9 392.1L144.1 391L145 390.1L145.9 390.9L147 392.1ZM143.2 392.1L144.4 391.1L145.4 390.2L146.4 391L147.6 392.1ZM153.2 392.1L154.7 391.2L155.9 390.5L157 391.2L158.5 392.1ZM154.2 392.1L155.3 391.4L156.1 390.7L157 391.3L158.1 392.1ZM160.7 392.1L162.2 391.5L163.5 391L164.7 391.4L166.3 392.1ZM161.4 392.1L162.7 391.5L163.8 391.1L164.8 391.5L166.1 392.1ZM180.4 392.1L181.9 391.6L183.1 391.2L184.3 391.5L185.8 392.1ZM180.6 392.1L181.7 391.6L182.6 391.2L183.4 391.6L184.5 392.1ZM226.1 392.1L227.2 391.3L228.1 390.7L229.1 391.3L230.2 392.1ZM225.4 392.1L226.8 391.5L227.9 391L229.1 391.4L230.5 392.1ZM254.2 392.1L255.6 391.5L256.7 391L257.9 391.4L259.3 392.1ZM254 392.1L255.2 391.5L256.3 390.9L257.3 391.4L258.6 392.1ZM264.7 392.1L265.8 391.5L266.7 391L267.5 391.4L268.6 392.1ZM263.3 392.1L264.7 391.7L265.9 391.3L267 391.6L268.4 392.1ZM280.8 392.1L282 391.2L283 390.4L284 391.1L285.2 392.1ZM280.9 392.1L282.4 391.5L283.7 391L284.9 391.4L286.4 392.1ZM289.1 392.1L290.4 390.8L291.5 389.8L292.6 390.7L293.9 392.1ZM290 392.1L291.4 391.1L292.4 390.3L293.5 391L294.8 392.1ZM292.9 392.1L293.9 390.2L294.7 388.6L295.5 390L296.5 392.1ZM292.6 392.1L293.9 390.5L295 389.2L296 390.4L297.3 392.1ZM293.9 392.1L295.9 389.6L297.4 387.5L299 389.3L300.9 392.1ZM295.6 392.1L297.1 390.2L298.3 388.7L299.5 390.1L301 392.1ZM298.4 392.1L299.9 390.1L301.2 388.4L302.4 389.9L303.9 392.1ZM299.1 392.1L300.8 390.1L302.1 388.4L303.5 389.9L305.1 392.1ZM302.5 392.1L303.6 390.5L304.4 389.2L305.3 390.3L306.4 392.1Z"/><path stroke="#f2b860" stroke-width="1.1" d="M62 392.1v-0.7M74.1 392.1v-0.4M81.7 392.1v-0.6M91.9 392.1v-0.4M100.3 392.1v-0.4M111.2 392.1v-0.5M123 392.1v-0.6M132.4 392.1v-0.4M141.3 392.1v-0.4M154 392.1v-0.3M166.8 392.1v-0.7M175.5 392.1v-0.3M180.9 392.1v-0.4M185 392.1v-0.7M194.2 392.1v-0.4M203.9 392.1v-0.5M212.4 392.1v-0.7M222 392.1v-0.4M227.6 392.1v-0.4M237.3 392.1v-0.4M244.3 392.1v-0.4M250.9 392.1v-0.6M258.2 392.1v-0.4M269.7 392.1v-0.3M277.7 392.1v-0.5M289.3 392.1v-0.2M301.4 392.1v-0.3M307.3 392.1v-0.6M314.8 392.1v-0.5M320.5 392.1v-0.4M326.6 392.1v-0.5M336 392.1v-0.4M346.5 392.1v-0.2M358 392.1v-0.4"/><rect x="53" y="391.7" width="296" height="0.5" fill="#f2b860" opacity="0.55"/><text x="50.2" y="398" font-size="5.6" fill="#e69a78" text-anchor="end">H3K23ac</text><path fill="#f2b860" d="M71.3 397.1L72.5 396.2L73.6 395.4L74.7 396.1L76 397.1ZM71.3 397.1L72.4 396.1L73.4 395.3L74.4 396L75.5 397.1ZM105.5 397.1L107.2 395.7L108.5 394.6L109.8 395.6L111.5 397.1ZM106.2 397.1L107.6 395.5L108.7 394.2L109.7 395.4L111.1 397.1ZM110.4 397.1L111.4 396L112.3 395L113.2 395.8L114.3 397.1ZM110.4 397.1L111.5 396L112.5 395L113.4 395.9L114.6 397.1ZM114.9 397.1L116.2 395.3L117.3 393.9L118.3 395.2L119.6 397.1ZM115.5 397.1L116.8 395.6L117.8 394.4L118.9 395.5L120.1 397.1ZM118 397.1L119.5 394.9L120.7 393.2L122 394.7L123.5 397.1ZM117.7 397.1L119.2 395L120.4 393.4L121.6 394.9L123.1 397.1ZM121.9 397.1L123.3 395.8L124.5 394.8L125.7 395.7L127.1 397.1ZM121.7 397.1L123.1 395.3L124.3 393.8L125.4 395.1L126.8 397.1ZM130.3 397.1L131.4 395.6L132.4 394.4L133.3 395.5L134.5 397.1ZM129.2 397.1L130.6 395.8L131.8 394.7L133 395.6L134.4 397.1ZM132.5 397.1L133.5 396L134.4 395.1L135.2 395.9L136.3 397.1ZM132.7 397.1L134.1 396.2L135.4 395.4L136.6 396.1L138.1 397.1ZM139 397.1L140.1 396L140.9 395.1L141.8 395.9L142.9 397.1ZM138.3 397.1L139.8 395.8L141 394.7L142.2 395.7L143.7 397.1ZM142.9 397.1L144 396.2L144.9 395.4L145.8 396.1L146.9 397.1ZM143 397.1L144.5 396L145.6 395.1L146.8 395.9L148.2 397.1ZM153.5 397.1L154.9 396.3L156.1 395.6L157.2 396.2L158.7 397.1ZM154.6 397.1L155.7 396.3L156.7 395.7L157.7 396.3L158.9 397.1ZM161.7 397.1L162.8 396.4L163.8 395.9L164.7 396.4L165.8 397.1ZM161.5 397.1L162.7 396.5L163.6 396L164.5 396.4L165.6 397.1ZM180.2 397.1L181.3 396.6L182.2 396.1L183.1 396.5L184.3 397.1ZM179.7 397.1L181.1 396.6L182.3 396.1L183.4 396.5L184.9 397.1ZM225.4 397.1L226.7 396.4L227.8 395.8L228.8 396.3L230.2 397.1ZM226.1 397.1L227.2 396.5L228.1 396L229 396.5L230.1 397.1ZM252.9 397.1L254.3 396.5L255.4 395.9L256.5 396.4L257.9 397.1ZM254.2 397.1L255.2 396.4L256.1 395.8L257 396.3L258 397.1ZM262.9 397.1L264.5 396.6L265.7 396.2L267 396.5L268.5 397.1ZM264.8 397.1L265.8 396.6L266.7 396.1L267.5 396.5L268.5 397.1ZM280.3 397.1L281.6 396.5L282.7 396L283.8 396.4L285.1 397.1ZM280.7 397.1L281.9 396.2L282.9 395.5L283.9 396.1L285.1 397.1ZM290.5 397.1L291.5 395.9L292.4 394.9L293.3 395.8L294.3 397.1ZM289.3 397.1L290.7 396L291.9 395.2L293 395.9L294.5 397.1ZM291.8 397.1L293.2 395.3L294.3 393.8L295.5 395.1L296.9 397.1ZM293.4 397.1L294.4 395.6L295.3 394.4L296.2 395.5L297.2 397.1ZM294.6 397.1L296.3 394.6L297.7 392.5L299.1 394.3L300.8 397.1ZM295 397.1L296.5 395.1L297.7 393.4L299 394.9L300.5 397.1ZM299.2 397.1L300.7 394.8L301.9 392.9L303.1 394.6L304.6 397.1ZM299.5 397.1L300.8 394.9L301.9 393.1L303 394.7L304.3 397.1ZM302 397.1L303.1 395.5L304 394.2L304.9 395.4L306.1 397.1Z"/><path stroke="#f2b860" stroke-width="1.1" d="M65 397.1v-0.3M72.4 397.1v-0.6M85.4 397.1v-0.3M93.2 397.1v-0.6M101 397.1v-0.4M112.8 397.1v-0.4M125.4 397.1v-0.6M135.8 397.1v-0.3M140.7 397.1v-0.3M146.8 397.1v-0.5M154.2 397.1v-0.6M164.5 397.1v-0.5M176.9 397.1v-0.3M187.9 397.1v-0.5M193.5 397.1v-0.6M202.7 397.1v-0.6M213.1 397.1v-0.5M218.3 397.1v-0.3M224.7 397.1v-0.7M234.3 397.1v-0.6M242.2 397.1v-0.4M249 397.1v-0.5M261.4 397.1v-0.5M265.6 397.1v-0.4M273.2 397.1v-0.7M278.1 397.1v-0.7M290.9 397.1v-0.4M300.5 397.1v-0.2M305 397.1v-0.3M313.8 397.1v-0.7M319.9 397.1v-0.6M328.2 397.1v-0.2M333.5 397.1v-0.5M344.8 397.1v-0.6M355 397.1v-0.6"/><rect x="53" y="396.7" width="296" height="0.5" fill="#f2b860" opacity="0.55"/><text x="50.2" y="403.2" font-size="5.6" fill="#e69a78" text-anchor="end">H2AK5ac</text><path fill="#f2b860" d="M71.2 402.3L72.3 401.3L73.2 400.5L74.2 401.2L75.3 402.3ZM70.9 402.3L72.3 401.3L73.4 400.4L74.5 401.2L75.8 402.3ZM105.9 402.3L107.2 400.7L108.3 399.4L109.3 400.6L110.6 402.3ZM105.5 402.3L107.4 400.9L108.9 399.8L110.5 400.8L112.4 402.3ZM109 402.3L110.5 401.1L111.7 400.1L112.9 401L114.4 402.3ZM109.8 402.3L111.1 400.7L112.1 399.5L113.1 400.6L114.4 402.3ZM116.1 402.3L117.4 401.1L118.4 400.1L119.4 401L120.6 402.3ZM115.3 402.3L116.6 400.7L117.6 399.4L118.6 400.5L119.8 402.3ZM118.9 402.3L120.4 400.5L121.7 399.1L122.9 400.4L124.5 402.3ZM117.9 402.3L119.4 400.3L120.7 398.7L121.9 400.1L123.4 402.3ZM122 402.3L123.3 400.9L124.3 399.8L125.3 400.8L126.5 402.3ZM122.4 402.3L123.4 400.5L124.3 399L125.2 400.3L126.2 402.3ZM129.1 402.3L130.3 401L131.3 399.9L132.3 400.8L133.5 402.3ZM129.7 402.3L131 401.1L132 400.1L133.1 401L134.3 402.3ZM133 402.3L134.2 401.1L135.1 400.2L136.1 401L137.2 402.3ZM132.7 402.3L133.7 401.4L134.5 400.6L135.4 401.3L136.4 402.3ZM138.4 402.3L139.6 401.2L140.7 400.4L141.7 401.1L143 402.3ZM138.2 402.3L139.7 401.3L140.9 400.5L142.1 401.2L143.5 402.3ZM142.1 402.3L143.5 401.3L144.6 400.6L145.8 401.3L147.2 402.3ZM143.2 402.3L144.3 401.4L145.2 400.7L146.1 401.4L147.2 402.3ZM153.3 402.3L154.4 401.7L155.3 401.2L156.2 401.6L157.3 402.3ZM154 402.3L155 401.6L155.8 401.1L156.6 401.6L157.7 402.3ZM160.6 402.3L161.7 401.7L162.6 401.2L163.6 401.6L164.7 402.3ZM159.8 402.3L161.3 401.5L162.5 400.9L163.8 401.5L165.3 402.3ZM181.1 402.3L182.2 401.9L183.1 401.5L184 401.8L185 402.3ZM181.7 402.3L182.8 401.9L183.6 401.5L184.4 401.8L185.5 402.3ZM225 402.3L226.6 401.6L227.8 401L229.1 401.5L230.6 402.3ZM225 402.3L226.2 401.5L227.2 400.9L228.2 401.5L229.4 402.3ZM253.7 402.3L254.9 401.6L255.8 401L256.7 401.5L257.8 402.3ZM254 402.3L255.1 401.4L256.1 400.7L257 401.3L258.2 402.3ZM264.5 402.3L265.8 401.8L266.8 401.5L267.8 401.8L269.1 402.3ZM263.8 402.3L265 401.9L265.9 401.5L266.9 401.8L268.1 402.3ZM281.8 402.3L282.8 401.6L283.7 401L284.5 401.5L285.6 402.3ZM280.4 402.3L281.5 401.6L282.5 401L283.4 401.5L284.6 402.3ZM290.4 402.3L291.4 401L292.2 400L293 400.9L294.1 402.3ZM289.8 402.3L291.3 401.4L292.5 400.6L293.7 401.3L295.2 402.3ZM291.6 402.3L293.1 400.5L294.3 399L295.6 400.3L297.1 402.3ZM291.6 402.3L293.1 400.4L294.3 398.9L295.5 400.2L297 402.3ZM295.5 402.3L296.9 399.9L297.9 398L299 399.7L300.4 402.3ZM294.5 402.3L296.2 400.1L297.5 398.3L298.8 399.9L300.4 402.3ZM299.1 402.3L300.4 399.8L301.5 397.7L302.5 399.5L303.8 402.3ZM298.5 402.3L300.1 399.9L301.4 397.9L302.7 399.7L304.3 402.3ZM301.8 402.3L302.8 400.7L303.6 399.5L304.4 400.6L305.4 402.3Z"/><path stroke="#f2b860" stroke-width="1.1" d="M62 402.3v-0.7M66.8 402.3v-0.2M76.9 402.3v-0.6M82.9 402.3v-0.3M91.6 402.3v-0.7M98.4 402.3v-0.4M110.1 402.3v-0.5M120.1 402.3v-0.2M132 402.3v-0.3M136.7 402.3v-0.5M143.2 402.3v-0.2M147.5 402.3v-0.7M160.3 402.3v-0.4M167.7 402.3v-0.3M180.4 402.3v-0.3M184.9 402.3v-0.5M194.3 402.3v-0.5M200.9 402.3v-0.5M213.6 402.3v-0.5M225.8 402.3v-0.2M234.1 402.3v-0.4M246 402.3v-0.3M255.1 402.3v-0.2M260.8 402.3v-0.5M271.2 402.3v-0.4M279.7 402.3v-0.7M288.8 402.3v-0.5M297.8 402.3v-0.5M307.3 402.3v-0.3M311.5 402.3v-0.5M318.3 402.3v-0.7M331.2 402.3v-0.5M343.5 402.3v-0.4M355.4 402.3v-0.3"/><rect x="53" y="401.9" width="296" height="0.5" fill="#f2b860" opacity="0.55"/><text x="50.2" y="408.4" font-size="5.6" fill="#e69a78" text-anchor="end">H4K91ac</text><path fill="#f2b860" d="M71.6 407.4L72.6 406.4L73.4 405.6L74.2 406.3L75.2 407.4ZM71.1 407.4L72.5 406.6L73.7 406L74.9 406.6L76.3 407.4ZM105 407.4L106.7 406.2L108 405.1L109.4 406L111.1 407.4ZM105.8 407.4L107.4 406.2L108.8 405.2L110.2 406.1L111.8 407.4ZM109.6 407.4L111.1 405.8L112.3 404.5L113.5 405.7L115 407.4ZM110.9 407.4L111.9 406.4L112.8 405.5L113.6 406.3L114.6 407.4ZM115.7 407.4L117.1 405.8L118.2 404.5L119.4 405.7L120.8 407.4ZM116.1 407.4L117.5 406L118.7 404.8L119.8 405.8L121.2 407.4ZM119 407.4L120.4 405.3L121.6 403.7L122.8 405.2L124.3 407.4ZM118.4 407.4L120.2 405.5L121.7 404L123.2 405.4L124.9 407.4ZM123 407.4L124.3 406L125.3 404.9L126.4 405.9L127.7 407.4ZM123.3 407.4L124.6 405.7L125.7 404.2L126.8 405.5L128.2 407.4ZM129.8 407.4L130.9 406.3L131.9 405.5L132.8 406.2L133.9 407.4ZM129.6 407.4L131.1 406.2L132.3 405.2L133.5 406.1L135 407.4ZM132.2 407.4L133.6 406.2L134.7 405.1L135.8 406L137.2 407.4ZM132.3 407.4L133.4 406.1L134.3 405.1L135.2 406L136.3 407.4ZM139.3 407.4L140.5 406.2L141.4 405.2L142.3 406.1L143.5 407.4ZM139.3 407.4L140.5 406.5L141.5 405.7L142.4 406.4L143.6 407.4ZM142.7 407.4L144 406.4L145.1 405.5L146.1 406.3L147.4 407.4ZM142.4 407.4L143.8 406.6L144.9 405.9L146 406.5L147.4 407.4ZM153.9 407.4L155.3 406.5L156.4 405.8L157.5 406.5L158.9 407.4ZM153.5 407.4L154.9 406.8L156 406.2L157.1 406.7L158.4 407.4ZM160 407.4L161.4 406.8L162.5 406.4L163.6 406.8L165 407.4ZM160.6 407.4L161.7 406.7L162.6 406.2L163.5 406.7L164.6 407.4ZM180.5 407.4L181.5 407L182.4 406.7L183.3 407L184.3 407.4ZM180.9 407.4L181.8 406.9L182.7 406.5L183.5 406.8L184.5 407.4ZM225.4 407.4L226.9 406.6L228.1 406L229.3 406.6L230.8 407.4ZM226.2 407.4L227.2 406.7L228 406.1L228.8 406.6L229.8 407.4ZM254 407.4L255 406.7L255.9 406.2L256.7 406.7L257.7 407.4ZM254.1 407.4L255.4 406.6L256.4 406L257.5 406.6L258.8 407.4ZM263 407.4L264.3 406.8L265.4 406.4L266.4 406.8L267.7 407.4ZM264 407.4L265.4 406.9L266.5 406.5L267.6 406.8L269 407.4ZM280.8 407.4L281.9 406.8L282.8 406.2L283.8 406.7L284.9 407.4ZM280.5 407.4L281.6 406.7L282.5 406.1L283.5 406.6L284.6 407.4ZM289.9 407.4L291.2 406.3L292.2 405.4L293.2 406.2L294.4 407.4ZM289.1 407.4L290.4 406.4L291.5 405.7L292.5 406.4L293.8 407.4ZM292.8 407.4L294.3 406.1L295.5 405L296.7 406L298.2 407.4ZM292.5 407.4L293.9 405.5L295.1 403.9L296.2 405.3L297.6 407.4ZM294 407.4L295.7 405.6L297.2 404.2L298.6 405.5L300.3 407.4ZM295.4 407.4L297.4 404.9L298.9 402.8L300.5 404.6L302.4 407.4ZM297.6 407.4L299.3 404.9L300.7 402.9L302.1 404.7L303.8 407.4ZM298.7 407.4L300.4 404.9L301.9 402.9L303.3 404.7L305.1 407.4ZM302.6 407.4L303.6 405.7L304.4 404.2L305.1 405.5L306.1 407.4Z"/><path stroke="#f2b860" stroke-width="1.1" d="M65.2 407.4v-0.2M73.5 407.4v-0.6M78.7 407.4v-0.6M90 407.4v-0.4M100.2 407.4v-0.2M104.9 407.4v-0.5M117.4 407.4v-0.4M127.7 407.4v-0.7M135.2 407.4v-0.3M139.5 407.4v-0.3M144.1 407.4v-0.6M150.5 407.4v-0.5M159.6 407.4v-0.6M164.8 407.4v-0.5M173.6 407.4v-0.3M179.9 407.4v-0.5M189.2 407.4v-0.3M195.3 407.4v-0.4M205.3 407.4v-0.6M216.5 407.4v-0.5M224.9 407.4v-0.2M236.5 407.4v-0.4M247.5 407.4v-0.4M257.3 407.4v-0.6M267 407.4v-0.5M275.7 407.4v-0.3M286.3 407.4v-0.3M290.5 407.4v-0.2M294.8 407.4v-0.3M302.5 407.4v-0.4M311.5 407.4v-0.4M321.5 407.4v-0.3M332.4 407.4v-0.5M342.5 407.4v-0.4M347.7 407.4v-0.4M356 407.4v-0.4"/><rect x="53" y="406.9" width="296" height="0.5" fill="#f2b860" opacity="0.55"/><text x="50.2" y="413.4" font-size="5.6" fill="#e69a78" text-anchor="end">H2BK120ac</text><path fill="#f2b860" d="M70.6 412.4L72.1 411.4L73.3 410.6L74.5 411.3L76 412.4ZM70.8 412.4L72.3 411.5L73.5 410.8L74.8 411.5L76.3 412.4ZM104.1 412.4L105.9 410.6L107.3 409.2L108.8 410.5L110.6 412.4ZM105.6 412.4L107.4 411.2L109 410.2L110.5 411.1L112.4 412.4ZM108.8 412.4L110.2 410.9L111.3 409.8L112.4 410.8L113.8 412.4ZM109.2 412.4L110.6 411.4L111.8 410.5L113 411.3L114.5 412.4ZM115.9 412.4L117.3 411.1L118.4 410L119.5 411L120.9 412.4ZM115.9 412.4L117.4 410.9L118.6 409.6L119.8 410.7L121.2 412.4ZM118.2 412.4L119.8 410.4L121.1 408.8L122.4 410.2L124 412.4ZM117.9 412.4L119.4 410.3L120.7 408.6L121.9 410.1L123.4 412.4ZM122.5 412.4L123.9 410.9L125.1 409.8L126.3 410.8L127.8 412.4ZM123.3 412.4L124.5 410.8L125.6 409.5L126.6 410.7L127.8 412.4ZM129.3 412.4L130.6 411.2L131.7 410.3L132.9 411.1L134.2 412.4ZM129.6 412.4L130.7 411.2L131.6 410.3L132.5 411.1L133.6 412.4ZM132.4 412.4L133.4 411.1L134.3 410L135.2 410.9L136.2 412.4ZM132.6 412.4L134 411.5L135.2 410.7L136.4 411.4L137.8 412.4ZM138.2 412.4L139.6 411.3L140.7 410.3L141.8 411.1L143.2 412.4ZM139.2 412.4L140.6 411.2L141.7 410.2L142.8 411.1L144.1 412.4ZM143.6 412.4L144.8 411.5L145.7 410.8L146.6 411.4L147.7 412.4ZM142.9 412.4L144.1 411.4L145 410.7L146 411.4L147.2 412.4ZM154.8 412.4L155.8 411.7L156.7 411.2L157.5 411.7L158.5 412.4ZM153.8 412.4L155.1 411.6L156.1 410.9L157.2 411.5L158.4 412.4ZM160.6 412.4L161.9 411.8L163.1 411.3L164.2 411.7L165.6 412.4ZM160.8 412.4L162.2 411.7L163.3 411.2L164.3 411.7L165.7 412.4ZM180.1 412.4L181.5 412L182.6 411.7L183.7 412L185 412.4ZM180.1 412.4L181.4 412L182.4 411.7L183.4 412L184.7 412.4ZM226.4 412.4L227.6 411.9L228.6 411.5L229.6 411.8L230.9 412.4ZM225.7 412.4L227 411.7L228.1 411.1L229.2 411.6L230.5 412.4ZM253.9 412.4L254.9 411.6L255.7 411L256.5 411.6L257.5 412.4ZM252.6 412.4L254.1 411.7L255.3 411.1L256.5 411.6L257.9 412.4ZM263.4 412.4L264.6 411.8L265.5 411.3L266.4 411.7L267.5 412.4ZM263.5 412.4L264.9 411.9L266 411.6L267.2 411.9L268.6 412.4ZM279.9 412.4L281.2 411.6L282.3 410.9L283.5 411.5L284.8 412.4ZM280 412.4L281.5 411.5L282.7 410.8L283.9 411.4L285.4 412.4ZM290.3 412.4L291.6 411.2L292.6 410.3L293.6 411.1L294.9 412.4ZM288.6 412.4L290.1 411.2L291.4 410.2L292.6 411.1L294.1 412.4ZM292.6 412.4L294.1 410.7L295.3 409.3L296.4 410.5L297.9 412.4ZM292.9 412.4L294.5 410.6L295.7 409.1L297 410.4L298.5 412.4ZM295.6 412.4L297.4 410L298.9 408L300.4 409.8L302.2 412.4ZM294.7 412.4L296.5 410.7L297.9 409.3L299.4 410.5L301.2 412.4ZM297.7 412.4L299.3 410.5L300.7 409L302.1 410.4L303.7 412.4ZM299.2 412.4L300.7 409.9L301.9 407.8L303.1 409.6L304.6 412.4ZM301.9 412.4L302.9 411.2L303.7 410.2L304.5 411.1L305.5 412.4Z"/><path stroke="#f2b860" stroke-width="1.1" d="M65.8 412.4v-0.5M72 412.4v-0.4M84 412.4v-0.6M96.6 412.4v-0.5M108.8 412.4v-0.6M115.7 412.4v-0.5M127.7 412.4v-0.5M135.1 412.4v-0.5M145.1 412.4v-0.6M151 412.4v-0.3M161.8 412.4v-0.4M170 412.4v-0.4M180.6 412.4v-0.2M192.1 412.4v-0.5M200.7 412.4v-0.5M208.4 412.4v-0.3M214.7 412.4v-0.3M223.8 412.4v-0.3M233.8 412.4v-0.5M239.7 412.4v-0.4M251.4 412.4v-0.3M258.2 412.4v-0.3M266.6 412.4v-0.5M279.5 412.4v-0.2M287.9 412.4v-0.7M294.4 412.4v-0.4M303.5 412.4v-0.4M312.1 412.4v-0.2M321.6 412.4v-0.3M326.3 412.4v-0.6M337.7 412.4v-0.4M349.1 412.4v-0.7"/><rect x="53" y="411.9" width="296" height="0.5" fill="#f2b860" opacity="0.55"/><text x="50.2" y="418.4" font-size="5.6" fill="#e69a78" text-anchor="end">H2BK12ac</text><path fill="#f2b860" d="M72.2 418L73.2 417.3L74.1 416.7L74.9 417.2L75.9 418ZM71.1 418L72.4 417.3L73.5 416.7L74.6 417.2L75.9 418ZM104.5 418L106.4 416.2L107.9 414.7L109.5 416L111.4 418ZM105.6 418L107.3 416.3L108.7 414.9L110.1 416.1L111.8 418ZM109.2 418L110.4 416.6L111.5 415.5L112.5 416.5L113.8 418ZM109.6 418L110.9 416.7L112 415.6L113.1 416.5L114.4 418ZM115.9 418L117.1 416.3L118 415L118.9 416.2L120 418ZM115.1 418L116.5 416.2L117.6 414.8L118.7 416.1L120 418ZM117.5 418L119.1 415.8L120.4 414L121.7 415.6L123.3 418ZM118.5 418L120.3 416.2L121.8 414.8L123.2 416.1L125 418ZM123.1 418L124.6 416.4L125.8 415L126.9 416.2L128.4 418ZM123.5 418L124.6 416.6L125.6 415.4L126.5 416.4L127.7 418ZM130.2 418L131.4 416.8L132.3 415.8L133.3 416.7L134.4 418ZM129.5 418L130.8 416.6L131.9 415.5L132.9 416.5L134.2 418ZM133.2 418L134.5 416.7L135.6 415.6L136.8 416.6L138.1 418ZM133.5 418L134.6 416.8L135.4 415.8L136.3 416.7L137.4 418ZM138.8 418L140.3 416.7L141.6 415.7L142.8 416.6L144.3 418ZM138.4 418L139.6 417L140.6 416.1L141.6 416.9L142.8 418ZM142.7 418L144.1 417L145.3 416.3L146.5 417L148 418ZM141.6 418L143.1 416.8L144.3 415.9L145.5 416.7L147 418ZM153.1 418L154.5 417.4L155.7 416.8L156.9 417.3L158.3 418ZM154 418L155.5 417.3L156.7 416.7L158 417.2L159.5 418ZM161.2 418L162.4 417.3L163.4 416.7L164.4 417.2L165.6 418ZM159.6 418L161 417.2L162.2 416.6L163.4 417.2L164.8 418ZM181.1 418L182.6 417.6L183.8 417.3L185 417.6L186.4 418ZM181.6 418L182.7 417.5L183.7 417.2L184.6 417.5L185.8 418ZM225.6 418L226.7 417.2L227.6 416.6L228.5 417.1L229.6 418ZM225.9 418L227.1 417.3L228.1 416.8L229 417.3L230.2 418ZM252.9 418L254.3 417.4L255.5 416.9L256.6 417.4L258 418ZM254.3 418L255.3 417.2L256.2 416.6L257 417.1L258 418ZM264.7 418L265.8 417.5L266.7 417.1L267.6 417.5L268.7 418ZM263.4 418L264.8 417.5L265.8 417.1L266.9 417.4L268.2 418ZM280.5 418L281.9 417.4L283.1 416.8L284.2 417.3L285.6 418ZM280.9 418L282.1 417.2L283 416.5L284 417.1L285.1 418ZM290.4 418L291.5 417L292.4 416.2L293.2 416.9L294.3 418ZM289.5 418L291 416.9L292.1 416L293.3 416.8L294.8 418ZM292.6 418L294 416.6L295.2 415.5L296.4 416.5L297.8 418ZM292.4 418L293.9 416.7L295.1 415.6L296.4 416.5L297.9 418ZM295 418L296.3 415.7L297.4 413.9L298.4 415.5L299.7 418ZM296.1 418L297.6 416L298.8 414.4L300 415.8L301.4 418ZM299 418L300.9 415.8L302.4 414L304 415.6L305.9 418ZM299.4 418L300.7 415.5L301.8 413.4L302.9 415.2L304.2 418ZM302.5 418L303.6 416.6L304.5 415.4L305.3 416.5L306.4 418Z"/><path stroke="#f2b860" stroke-width="1.1" d="M57.5 418v-0.3M62.3 418v-0.2M73.8 418v-0.7M79.5 418v-0.3M89.8 418v-0.4M102.2 418v-0.3M111 418v-0.5M117.4 418v-0.5M122.2 418v-0.2M129 418v-0.4M133.7 418v-0.7M146.2 418v-0.3M157.4 418v-0.7M164.1 418v-0.6M169.5 418v-0.6M181.3 418v-0.4M189.5 418v-0.4M198.3 418v-0.3M204.1 418v-0.7M214.3 418v-0.7M226.3 418v-0.6M234 418v-0.2M240 418v-0.4M248.7 418v-0.3M253.7 418v-0.4M263 418v-0.6M272.1 418v-0.4M276.8 418v-0.5M286.4 418v-0.6M296.1 418v-0.6M301.6 418v-0.5M309.1 418v-0.3M315.5 418v-0.4M319.6 418v-0.5M330.5 418v-0.6M334.7 418v-0.5M343.9 418v-0.4M350.8 418v-0.3"/><rect x="53" y="417.6" width="296" height="0.5" fill="#f2b860" opacity="0.55"/><text x="50.2" y="423.4" font-size="5.6" fill="#e69a78" text-anchor="end">H2BK15ac</text><path fill="#f2b860" d="M71.5 422.6L72.8 421.9L73.8 421.3L74.9 421.8L76.2 422.6ZM71.3 422.6L72.5 421.7L73.4 421L74.4 421.7L75.5 422.6ZM104.9 422.6L106.8 421.3L108.4 420.2L109.9 421.2L111.9 422.6ZM104.1 422.6L105.8 421.4L107.1 420.4L108.5 421.3L110.2 422.6ZM110.2 422.6L111.6 421.1L112.8 419.8L114 420.9L115.4 422.6ZM109.3 422.6L110.5 421.5L111.4 420.5L112.4 421.4L113.5 422.6ZM115.5 422.6L116.6 421.3L117.6 420.2L118.5 421.2L119.7 422.6ZM115.2 422.6L116.6 421.2L117.8 420L119 421.1L120.4 422.6ZM118.8 422.6L120.4 421L121.7 419.6L123 420.8L124.6 422.6ZM118 422.6L119.9 421L121.5 419.8L123 420.9L124.9 422.6ZM122.9 422.6L124.1 421.1L125.1 419.9L126.1 421L127.3 422.6ZM123.4 422.6L124.6 421.1L125.6 419.8L126.7 420.9L127.9 422.6ZM130.5 422.6L131.7 421.5L132.7 420.6L133.7 421.4L135 422.6ZM130.1 422.6L131.5 421.1L132.7 419.9L133.8 421L135.3 422.6ZM133.1 422.6L134.5 421.7L135.6 420.9L136.7 421.6L138 422.6ZM132.2 422.6L133.8 421.3L135 420.2L136.3 421.1L137.8 422.6ZM138.7 422.6L139.9 421.4L140.8 420.3L141.8 421.2L143 422.6ZM138.2 422.6L139.6 421.4L140.9 420.4L142.1 421.3L143.5 422.6ZM143.6 422.6L144.6 421.8L145.5 421.1L146.3 421.7L147.3 422.6ZM143.3 422.6L144.6 421.6L145.7 420.8L146.8 421.5L148.1 422.6ZM153.8 422.6L155.2 421.7L156.3 420.9L157.5 421.6L158.9 422.6ZM153.7 422.6L155.1 421.9L156.2 421.2L157.3 421.8L158.7 422.6ZM160.6 422.6L162.1 421.9L163.4 421.4L164.6 421.9L166.1 422.6ZM160 422.6L161.5 421.8L162.8 421.2L164 421.8L165.6 422.6ZM181.1 422.6L182.3 422.2L183.4 421.8L184.4 422.1L185.7 422.6ZM180.2 422.6L181.6 422.1L182.8 421.7L184 422.1L185.4 422.6ZM224.9 422.6L226.3 422L227.5 421.5L228.6 421.9L230 422.6ZM225.1 422.6L226.4 421.9L227.5 421.3L228.5 421.8L229.8 422.6ZM252.8 422.6L254.3 421.9L255.5 421.3L256.7 421.8L258.2 422.6ZM252.6 422.6L254.1 421.8L255.4 421.2L256.6 421.8L258.2 422.6ZM263.5 422.6L264.7 422L265.7 421.5L266.7 421.9L267.9 422.6ZM264.1 422.6L265.5 421.9L266.7 421.4L267.8 421.9L269.2 422.6ZM280.4 422.6L281.6 421.7L282.5 420.9L283.5 421.6L284.7 422.6ZM281.1 422.6L282.4 421.8L283.5 421.1L284.6 421.7L285.9 422.6ZM289 422.6L290.6 421.4L291.8 420.4L293.1 421.3L294.6 422.6ZM290.5 422.6L291.7 421.4L292.6 420.3L293.5 421.2L294.6 422.6ZM292.3 422.6L293.6 420.8L294.6 419.3L295.6 420.6L296.9 422.6ZM292.9 422.6L294.4 421L295.6 419.6L296.9 420.8L298.4 422.6ZM294.4 422.6L295.9 420.1L297 418L298.2 419.8L299.6 422.6ZM295.4 422.6L297.1 420.3L298.5 418.5L299.9 420.1L301.5 422.6ZM298.1 422.6L299.9 420.2L301.4 418.2L302.9 419.9L304.7 422.6ZM298.3 422.6L299.9 420.2L301.2 418.3L302.5 420L304.1 422.6ZM302.3 422.6L303.4 421.1L304.2 419.8L305 420.9L306.1 422.6Z"/><path stroke="#f2b860" stroke-width="1.1" d="M58.5 422.6v-0.4M70.2 422.6v-0.3M80.6 422.6v-0.4M89 422.6v-0.3M99.5 422.6v-0.3M106.7 422.6v-0.2M114.7 422.6v-0.2M123.5 422.6v-0.5M128.6 422.6v-0.2M136 422.6v-0.7M144.6 422.6v-0.5M150.4 422.6v-0.6M155.1 422.6v-0.7M164.6 422.6v-0.4M176.4 422.6v-0.3M183.7 422.6v-0.6M195.5 422.6v-0.3M201.2 422.6v-0.5M209.3 422.6v-0.6M222.2 422.6v-0.7M232.1 422.6v-0.7M242.7 422.6v-0.3M255.3 422.6v-0.2M264.3 422.6v-0.3M274.3 422.6v-0.5M283.5 422.6v-0.6M291 422.6v-0.4M303.1 422.6v-0.4M308.9 422.6v-0.5M316.9 422.6v-0.5M325.9 422.6v-0.4M333.6 422.6v-0.7M343.2 422.6v-0.6M348.2 422.6v-0.5M353.4 422.6v-0.3"/><rect x="53" y="422.2" width="296" height="0.5" fill="#f2b860" opacity="0.55"/><text x="50.2" y="428.3" font-size="5.6" fill="#e69a78" text-anchor="end">H2BK20ac</text><path fill="#f2b860" d="M72.3 427.6L73.3 426.6L74.1 425.8L74.9 426.5L75.9 427.6ZM72.2 427.6L73.5 426.6L74.6 425.8L75.7 426.5L77.1 427.6ZM105.4 427.6L107.2 426.1L108.7 424.9L110.2 426L111.9 427.6ZM105.2 427.6L106.9 426.3L108.4 425.2L109.8 426.1L111.5 427.6ZM109.5 427.6L111 426L112.2 424.8L113.3 425.9L114.8 427.6ZM109.5 427.6L111 426.2L112.3 425L113.5 426L115 427.6ZM115 427.6L116.4 426.2L117.5 425.1L118.6 426.1L119.9 427.6ZM115.8 427.6L117.1 425.7L118.3 424.1L119.4 425.5L120.8 427.6ZM118.7 427.6L120 425.2L121.1 423.2L122.2 425L123.5 427.6ZM117.3 427.6L119.1 425.1L120.5 423.1L121.9 424.9L123.6 427.6ZM123.4 427.6L124.4 426L125.2 424.7L126.1 425.8L127.1 427.6ZM122.8 427.6L123.9 426.2L124.8 425.1L125.7 426.1L126.9 427.6ZM129.3 427.6L130.8 426.5L132 425.5L133.1 426.4L134.6 427.6ZM129.1 427.6L130.4 426.5L131.4 425.7L132.5 426.4L133.7 427.6ZM132.1 427.6L133.5 426.6L134.6 425.8L135.8 426.5L137.2 427.6ZM132.5 427.6L134 426.3L135.2 425.2L136.5 426.2L138 427.6ZM138.5 427.6L139.7 426.4L140.6 425.5L141.6 426.3L142.8 427.6ZM138.4 427.6L139.6 426.6L140.6 425.7L141.6 426.5L142.7 427.6ZM142.2 427.6L143.7 426.5L145 425.6L146.2 426.4L147.7 427.6ZM143.6 427.6L144.7 426.8L145.6 426.1L146.5 426.7L147.7 427.6ZM154.3 427.6L155.6 426.6L156.7 425.9L157.7 426.6L159 427.6ZM153.7 427.6L154.7 427L155.6 426.4L156.4 426.9L157.4 427.6ZM161.3 427.6L162.6 426.8L163.7 426.2L164.8 426.8L166.1 427.6ZM160.9 427.6L162.2 427L163.2 426.4L164.2 426.9L165.5 427.6ZM180.1 427.6L181.5 427.1L182.5 426.7L183.6 427.1L185 427.6ZM181.3 427.6L182.3 427.2L183.1 426.9L184 427.2L185 427.6ZM224.5 427.6L226 426.8L227.2 426.2L228.4 426.8L229.9 427.6ZM226 427.6L227.3 426.8L228.2 426.2L229.2 426.8L230.4 427.6ZM253.3 427.6L254.8 426.9L256 426.3L257.2 426.8L258.6 427.6ZM252.6 427.6L254 426.7L255.2 426L256.5 426.6L257.9 427.6ZM263.3 427.6L264.5 427L265.5 426.5L266.5 426.9L267.8 427.6ZM264.2 427.6L265.5 427.1L266.6 426.7L267.6 427.1L268.9 427.6ZM280.9 427.6L282.1 426.9L283 426.2L284 426.8L285.2 427.6ZM280.2 427.6L281.5 426.8L282.6 426.1L283.7 426.7L285.1 427.6ZM289.5 427.6L291 426.7L292.2 425.9L293.4 426.6L294.9 427.6ZM289.5 427.6L291 426.5L292.3 425.6L293.5 426.4L295 427.6ZM293.5 427.6L294.7 426.2L295.7 425L296.7 426.1L298 427.6ZM292 427.6L293.4 425.7L294.4 424.1L295.5 425.5L296.8 427.6ZM294 427.6L295.9 425.2L297.4 423.3L298.9 425L300.7 427.6ZM295.7 427.6L297.1 425.4L298.2 423.7L299.3 425.2L300.6 427.6ZM297.3 427.6L299.1 425.5L300.6 423.7L302 425.3L303.9 427.6ZM298.9 427.6L300.2 425.7L301.3 424.2L302.3 425.5L303.6 427.6ZM303.2 427.6L303.9 425.7L304.6 424.1L305.2 425.5L306 427.6Z"/><path stroke="#f2b860" stroke-width="1.1" d="M63.7 427.6v-0.2M75.5 427.6v-0.4M83.7 427.6v-0.6M93.3 427.6v-0.5M101.7 427.6v-0.6M112.7 427.6v-0.5M117.2 427.6v-0.4M129.7 427.6v-0.4M134.1 427.6v-0.5M144.9 427.6v-0.4M154 427.6v-0.2M166.2 427.6v-0.4M170.2 427.6v-0.2M182.6 427.6v-0.3M195.1 427.6v-0.5M205.5 427.6v-0.2M216.5 427.6v-0.5M226.2 427.6v-0.4M232.4 427.6v-0.6M240.6 427.6v-0.6M251 427.6v-0.4M255.4 427.6v-0.3M261.6 427.6v-0.3M273.4 427.6v-0.4M281.8 427.6v-0.2M289.8 427.6v-0.4M300.1 427.6v-0.6M309.9 427.6v-0.6M322.6 427.6v-0.4M327.9 427.6v-0.3M334.3 427.6v-0.6M339.9 427.6v-0.5M351.8 427.6v-0.5"/><rect x="53" y="427.2" width="296" height="0.5" fill="#f2b860" opacity="0.55"/><text x="50.2" y="435" font-size="5.6" fill="#5a5a5a" text-anchor="end">H3K27me3</text><path stroke="#6a6a6a" stroke-width="1.1" d="M214.3 434v-1M215.6 434v-1.3M215.3 434v-1.3M215.2 434v-1.3M220.4 434v-3.5M219.4 434v-2.4M220.1 434v-2.5M218.8 434v-2.5M221.6 434v-1.4M222 434v-2.1M222.7 434v-1.8M158.8 434v-0.5M158.3 434v-0.5M158.2 434v-0.6M160.8 434v-0.5M250.7 434v-0.4M250.3 434v-0.4M252.4 434v-0.6M250.8 434v-0.4M247.2 434v-0.5M252.3 434v-0.5M272.5 434v-1.3M272.7 434v-1.6M269.6 434v-2M269.3 434v-2.1M305.7 434v-0.5M305.1 434v-0.6M304.9 434v-0.6M306.1 434v-0.5M63.4 434v-0.7M69.9 434v-0.4M78.6 434v-0.7M89 434v-0.2M99.6 434v-0.3M104.6 434v-0.4M111 434v-0.4M115 434v-0.7M126.3 434v-0.3M133.1 434v-0.5M139.5 434v-0.8M148.8 434v-0.3M153.9 434v-0.5M163 434v-0.7M171 434v-0.6M183.8 434v-0.3M189.7 434v-0.6M194.9 434v-0.6M199.7 434v-0.4M210.7 434v-0.6M223.6 434v-0.5M229.8 434v-0.3M236.1 434v-0.5M246.8 434v-0.4M251.3 434v-0.2M261 434v-0.8M272.4 434v-0.8M279.2 434v-0.5M285.2 434v-0.7M291.1 434v-0.3M303.4 434v-0.8M310.7 434v-0.7M320.4 434v-0.3M327.4 434v-0.5M335.6 434v-0.6M342.2 434v-0.4M346.3 434v-0.4M350.4 434v-0.8"/><rect x="53" y="433.6" width="296" height="0.5" fill="#6a6a6a" opacity="0.55"/><text x="50.2" y="441.6" font-size="5.6" fill="#a02a20" text-anchor="end">H3K9me3</text><path fill="#a8321e" d="M53 441.4L53 440.3L53.6 439.8L54.2 440L54.8 440.1L55.4 440.1L56 439.7L56.6 439.5L57.2 440.2L57.8 440.1L58.4 439.6L59 440.3L59.6 439.9L60.2 440.2L60.8 440L61.4 440.6L62 439.7L62.6 440.5L63.2 440.4L63.8 440.1L64.4 440.3L65 439.5L65.6 439.8L66.2 440.2L66.8 439.8L67.4 440.2L68 439.9L68.6 439.8L69.2 439.7L69.8 440.6L70.4 439.7L71 440.6L71.6 439.7L72.2 440.4L72.8 439.9L73.4 440.1L74 440.2L74.6 439.6L75.2 440.1L75.8 439.9L76.4 440.7L77 440.6L77.6 440.3L78.2 440.3L78.8 440L79.4 440.5L80 440.1L80.6 440.4L81.2 440.6L81.8 440.4L82.4 440.6L83 439.8L83.6 439.7L84.2 440.2L84.8 440.2L85.4 439.6L86 440L86.6 440.4L87.2 440.2L87.8 440.5L88.4 439.9L89 440.2L89.6 440.4L90.2 439.9L90.8 439.9L91.4 439.5L92 440.5L92.6 440.6L93.2 440L93.8 440L94.4 439.8L95 439.7L95.6 440L96.2 439.8L96.8 440.1L97.4 439.9L98 439.7L98.6 440.6L99.2 440.2L99.8 440.4L100.4 440.6L101 440.2L101.6 440.3L102.2 439.7L102.8 440.6L103.4 440.3L104 440.2L104.6 439.6L105.2 440.3L105.8 440.2L106.4 439.8L107 440.1L107.6 440L108.2 440L108.8 440L109.4 440.5L110 440.2L110.6 439.7L111.2 440.4L111.8 440.4L112.4 440.6L113 440.4L113.6 440.5L114.2 440L114.8 440.6L115.4 440.4L116 440.4L116.6 440.5L117.2 440.5L117.8 439.8L118.4 440.1L119 440.3L119.6 440.6L120.2 440.3L120.8 440L121.4 440.2L122 440L122.6 440.3L123.2 439.9L123.8 440.5L124.4 440.2L125 440.3L125.6 440.4L126.2 440.1L126.8 440.2L127.4 440.2L128 440.5L128.6 440.7L129.2 440.3L129.8 440.2L130.4 440L131 440.5L131.6 440.6L132.2 439.9L132.8 440.3L133.4 440.1L134 440.3L134.6 440.5L135.2 440.3L135.8 440L136.4 440.7L137 440.1L137.6 439.9L138.2 440.5L138.8 440.1L139.4 439.9L140 439.7L140.6 439.7L141.2 440.6L141.8 440.6L142.4 440.4L143 440.3L143.6 440.1L144.2 439.6L144.8 440.2L145.4 440.1L146 440.1L146.6 439.8L147.2 440.3L147.8 440.4L148.4 439.9L149 440.3L149.6 440.4L150.2 439.7L150.8 440.3L151.4 439.8L152 439.8L152.6 439.9L153.2 440.1L153.8 440L154.4 440.5L155 440.4L155.6 440.1L156.2 440.5L156.8 439.9L157.4 440.5L158 439.7L158.6 440.3L159.2 439.9L159.8 440L160.4 440.7L161 440.2L161.6 440.4L162.2 440.3L162.8 440.5L163.4 439.7L164 440L164.6 439.9L165.2 440L165.8 440.6L166.4 440.6L167 440.2L167.6 440.7L168.2 440.5L168.8 440.4L169.4 439.7L170 440.2L170.6 439.9L171.2 440.2L171.8 440.2L172.4 439.7L173 440.3L173.6 439.9L174.2 440.5L174.8 440L175.4 440.5L176 439.9L176.6 440.4L177.2 440.3L177.8 440.1L178.4 439.7L179 440.2L179.6 439.7L180.2 439.8L180.8 440.3L181.4 439.9L182 440L182.6 440L183.2 440L183.8 440.5L184.4 440.4L185 439.9L185.6 440.4L186.2 440.7L186.8 440.3L187.4 440.4L188 440.5L188.6 439.7L189.2 440.2L189.8 440.1L190.4 439.6L191 440.5L191.6 439.9L192.2 440.5L192.8 440.5L193.4 440.7L194 439.8L194.6 440.1L195.2 440.4L195.8 440.2L196.4 440.5L197 440.3L197.6 440.2L198.2 440.3L198.8 439.9L199.4 440.5L200 440.3L200.6 440.5L201.2 440.3L201.8 440.6L202.4 440.5L203 439.9L203.6 439.8L204.2 439.6L204.8 440.3L205.4 440.5L206 440.2L206.6 440.5L207.2 439.9L207.8 440.2L208.4 440.4L209 439.8L209.6 440.4L210.2 439.9L210.8 440.5L211.4 439.9L212 440.4L212.6 440.1L213.2 440.2L213.8 440.3L214.4 439.8L215 440L215.6 440.6L216.2 439.7L216.8 440.2L217.4 440.5L218 440L218.6 440.4L219.2 440.2L219.8 439.6L220.4 440.4L221 440.2L221.6 439.9L222.2 440.4L222.8 440.6L223.4 440.2L224 440.6L224.6 440.1L225.2 440.5L225.8 440.1L226.4 440.2L227 439.8L227.6 440.3L228.2 440.3L228.8 440.2L229.4 440.1L230 440.2L230.6 440.3L231.2 440.4L231.8 440.3L232.4 440.5L233 440.5L233.6 440.2L234.2 440.2L234.8 440.4L235.4 440.6L236 440.6L236.6 439.9L237.2 440.1L237.8 440L238.4 439.5L239 440.6L239.6 440.4L240.2 440L240.8 439.9L241.4 440.3L242 440.6L242.6 440.2L243.2 440L243.8 440L244.4 440.1L245 440L245.6 440.1L246.2 440.5L246.8 440L247.4 440.6L248 440.2L248.6 440.1L249.2 440.3L249.8 440.6L250.4 440.4L251 440.2L251.6 440.1L252.2 440.4L252.8 439.8L253.4 439.8L254 440.4L254.6 440.4L255.2 440.5L255.8 440L256.4 440.5L257 440.3L257.6 440.4L258.2 440.4L258.8 440.6L259.4 440.3L260 439.5L260.6 440.4L261.2 440.5L261.8 440.3L262.4 439.6L263 440.3L263.6 439.6L264.2 440.4L264.8 440.5L265.4 439.7L266 440.5L266.6 440.1L267.2 439.8L267.8 439.9L268.4 439.8L269 440.1L269.6 439.6L270.2 439.4L270.8 439.7L271.4 440L272 440.3L272.6 439.7L273.2 440.3L273.8 440.2L274.4 440.2L275 439.9L275.6 439.8L276.2 440.3L276.8 439.9L277.4 440.1L278 440.2L278.6 439.5L279.2 440.4L279.8 440.1L280.4 440.1L281 440.2L281.6 439.9L282.2 440L282.8 440L283.4 440.3L284 439.8L284.6 440.5L285.2 440.3L285.8 440.5L286.4 440.5L287 440L287.6 440.2L288.2 440.3L288.8 439.5L289.4 440.5L290 440.6L290.6 440.6L291.2 440.3L291.8 440.5L292.4 440.3L293 440.1L293.6 440.3L294.2 439.6L294.8 440.3L295.4 440.4L296 440.5L296.6 440L297.2 439.6L297.8 440.2L298.4 440.5L299 440.5L299.6 440.3L300.2 440.5L300.8 440.5L301.4 439.4L302 440.1L302.6 440.6L303.2 439.9L303.8 440.2L304.4 439.8L305 440.3L305.6 440L306.2 440L306.8 439.8L307.4 440.5L308 440.1L308.6 439.5L309.2 440L309.8 440L310.4 439.6L311 440.6L311.6 440.2L312.2 439.7L312.8 440.1L313.4 440.4L314 440L314.6 440L315.2 440L315.8 440.4L316.4 440.2L317 440.1L317.6 440.6L318.2 439.4L318.8 439.8L319.4 440.4L320 439.9L320.6 440.6L321.2 440.3L321.8 439.9L322.4 440.2L323 440.4L323.6 439.5L324.2 440.6L324.8 440.5L325.4 440.2L326 440.5L326.6 440.1L327.2 440.6L327.8 439.7L328.4 440.1L329 439.8L329.6 440.1L330.2 440.4L330.8 440.2L331.4 440L332 440.2L332.6 439.9L333.2 440.6L333.8 439.5L334.4 439.7L335 440L335.6 440.5L336.2 439.4L336.8 440L337.4 440.2L338 440L338.6 440.5L339.2 440.3L339.8 439.7L340.4 440.4L341 440.4L341.6 439.6L342.2 440.7L342.8 439.8L343.4 440L344 440.2L344.6 439.5L345.2 439.9L345.8 439.8L346.4 440.5L347 440.3L347.6 440.2L348.2 440.4L348.8 440.5L349 441.4Z"/><path stroke="#a8321e" stroke-width="1.1" d="M80.8 441.4v-2.5M79.3 441.4v-3M80.7 441.4v-2.6M83.7 441.4v-3.3M84.3 441.4v-4M84.7 441.4v-3.7M89.4 441.4v-0.8M91.6 441.4v-1.4M89.4 441.4v-1.4M101.3 441.4v-2.2M100 441.4v-1.4M102.2 441.4v-2.5M103.6 441.4v-2.6M103.3 441.4v-2.6M104.8 441.4v-2.6M114.1 441.4v-2.1M114.9 441.4v-2.2M115.4 441.4v-1.3M126.1 441.4v-0.8M126.9 441.4v-1M126.1 441.4v-1.3M127 441.4v-0.9M136.1 441.4v-1.3M137.4 441.4v-1.7M138.7 441.4v-1.3M136.3 441.4v-2.2M159.1 441.4v-2.7M161.4 441.4v-2.6M158.9 441.4v-1.3M161.9 441.4v-1.6M169.1 441.4v-1.9M171.2 441.4v-1.6M169.9 441.4v-1.9M170 441.4v-1.5M192 441.4v-1.5M190.6 441.4v-1.2M191.2 441.4v-1.2M191 441.4v-1.2M209.4 441.4v-0.8M211.2 441.4v-1.2M208.3 441.4v-1M212.9 441.4v-1M208.2 441.4v-1.6M207.1 441.4v-1.6M236.1 441.4v-1M234.3 441.4v-0.8M233.1 441.4v-1.3M237 441.4v-1.6M260 441.4v-1.8M262.9 441.4v-1.2M261 441.4v-2.2M261.6 441.4v-1.6M275.3 441.4v-1.6M275.4 441.4v-1.2M274.8 441.4v-1.6M273.8 441.4v-1.1M274.4 441.4v-1M277.7 441.4v-1.8M291.5 441.4v-0.9M292.3 441.4v-1M291.6 441.4v-1.6M292.8 441.4v-0.8M307.4 441.4v-1.2M311.2 441.4v-1.2M308.3 441.4v-1.6M308.9 441.4v-1.4M310.6 441.4v-1.1M309.2 441.4v-1.1M332.4 441.4v-1.2M331.1 441.4v-1.2M332.2 441.4v-1.1M329.4 441.4v-1.5M61.6 441.4v-0.7M73.6 441.4v-0.5M84.8 441.4v-0.7M91.9 441.4v-0.7M99.7 441.4v-0.7M111.6 441.4v-0.7M123.2 441.4v-0.6M131.7 441.4v-0.6M136.2 441.4v-0.7M146.8 441.4v-0.4M154.2 441.4v-0.5M163.4 441.4v-0.6M175.4 441.4v-0.8M186.7 441.4v-0.7M196 441.4v-0.3M202.9 441.4v-0.4M207.4 441.4v-0.8M215.3 441.4v-0.3M220.9 441.4v-0.7M227.3 441.4v-0.2M238.7 441.4v-0.6M250.2 441.4v-0.4M254.6 441.4v-0.3M261.3 441.4v-0.6M267.1 441.4v-0.4M277.1 441.4v-0.3M283.9 441.4v-0.2M288.2 441.4v-0.5M292.9 441.4v-0.8M305.8 441.4v-0.4M316.2 441.4v-0.6M325.7 441.4v-0.5M331.2 441.4v-0.3M337.9 441.4v-0.3M346.6 441.4v-0.2M353.3 441.4v-0.4"/><rect x="53" y="440.9" width="296" height="0.5" fill="#a8321e" opacity="0.55"/><text x="50.2" y="448.3" font-size="5.6" fill="#7b3fa8" text-anchor="end">WGBS</text><text x="50.2" y="453.5" font-size="5.6" fill="#c040a0" text-anchor="end">Hi-C</text><path fill="#6c3aa6" d="M53 448.4L53 443.8L53.8 443.7L54.6 443.6L55.4 443.5L56.2 443.7L57 443.5L57.8 444.5L58.6 444L59.4 443.5L60.2 443.8L61 443.5L61.8 444.4L62.6 444L63.4 444.2L64.2 443.9L65 443.9L65.8 444.5L66.6 444.3L67.4 444.2L68.2 443.5L69 443.7L69.8 444.3L70.6 443.6L71.4 444.3L72.2 446.7L73 445.6L73.8 446.6L74.6 445.6L75.4 445.5L76.2 445.9L77 445.5L77.8 445.5L78.6 443.5L79.4 444.2L80.2 444.1L81 444.3L81.8 444.3L82.6 444.4L83.4 444.2L84.2 443.8L85 444.5L85.8 443.8L86.6 444.1L87.4 444.2L88.2 443.6L89 444L89.8 444.2L90.6 444L91.4 443.7L92.2 444.4L93 443.4L93.8 444.5L94.6 443.7L95.4 443.6L96.2 444.5L97 443.6L97.8 444.1L98.6 443.9L99.4 446.8L100.2 445.5L101 445.8L101.8 443.5L102.6 443.5L103.4 444.1L104.2 444.1L105 443.9L105.8 443.6L106.6 444.4L107.4 443.7L108.2 443.6L109 443.6L109.8 444.5L110.6 446.8L111.4 446L112.2 446.4L113 443.5L113.8 443.9L114.6 444.2L115.4 444.2L116.2 444.3L117 444.4L117.8 444.3L118.6 443.7L119.4 443.4L120.2 444.3L121 444.4L121.8 443.4L122.6 446.3L123.4 446L124.2 446.2L125 446.8L125.8 446.9L126.6 445.6L127.4 445.8L128.2 443.5L129 443.8L129.8 443.6L130.6 444.4L131.4 444L132.2 444.3L133 443.6L133.8 444.2L134.6 444L135.4 443.4L136.2 443.6L137 443.4L137.8 444L138.6 444L139.4 443.7L140.2 444L141 444.2L141.8 444.1L142.6 444.3L143.4 444.1L144.2 443.4L145 443.4L145.8 443.8L146.6 444L147.4 444.1L148.2 444.4L149 444.2L149.8 443.6L150.6 443.5L151.4 444.1L152.2 443.6L153 445.9L153.8 445.8L154.6 445.8L155.4 446.2L156.2 445.9L157 445.5L157.8 443.8L158.6 443.9L159.4 444.5L160.2 443.9L161 444.2L161.8 443.8L162.6 445.7L163.4 445.7L164.2 445.9L165 445.7L165.8 445.6L166.6 445.9L167.4 443.4L168.2 443.4L169 443.9L169.8 443.9L170.6 444.3L171.4 443.6L172.2 443.5L173 445.9L173.8 445.8L174.6 445.7L175.4 445.9L176.2 446L177 445.9L177.8 446.9L178.6 444.3L179.4 444L180.2 443.8L181 444.3L181.8 443.7L182.6 443.8L183.4 444.5L184.2 444L185 444.3L185.8 444.4L186.6 444.4L187.4 444.2L188.2 444.3L189 444.3L189.8 444.5L190.6 444L191.4 444.1L192.2 446L193 445.5L193.8 446.3L194.6 446.3L195.4 445.7L196.2 446.8L197 443.8L197.8 444.4L198.6 443.9L199.4 444.1L200.2 443.9L201 443.4L201.8 443.6L202.6 444L203.4 443.6L204.2 443.8L205 444.1L205.8 444.3L206.6 443.8L207.4 443.9L208.2 443.4L209 443.4L209.8 443.8L210.6 444.1L211.4 443.5L212.2 444.5L213 444.4L213.8 443.9L214.6 443.8L215.4 444.3L216.2 443.8L217 443.5L217.8 444.1L218.6 444L219.4 444.3L220.2 444.2L221 443.4L221.8 444.1L222.6 443.4L223.4 443.5L224.2 443.8L225 444.2L225.8 443.4L226.6 444L227.4 444L228.2 444.1L229 443.4L229.8 444L230.6 444.2L231.4 444L232.2 446L233 446.5L233.8 445.7L234.6 446.1L235.4 445.5L236.2 446.5L237 446.7L237.8 446.5L238.6 443.8L239.4 444L240.2 443.8L241 443.8L241.8 443.7L242.6 444.4L243.4 443.7L244.2 444.2L245 443.9L245.8 444.1L246.6 444.2L247.4 443.9L248.2 444L249 444.1L249.8 443.7L250.6 443.9L251.4 444.5L252.2 444.2L253 444L253.8 443.5L254.6 443.5L255.4 443.9L256.2 445.7L257 446L257.8 446L258.6 444L259.4 443.5L260.2 444.1L261 444.1L261.8 443.6L262.6 446.5L263.4 446.8L264.2 445.9L265 446.5L265.8 445.5L266.6 446.2L267.4 446.2L268.2 444.1L269 444.3L269.8 443.9L270.6 443.6L271.4 444.4L272.2 444.2L273 443.6L273.8 443.6L274.6 443.8L275.4 444.5L276.2 443.7L277 443.4L277.8 443.4L278.6 443.7L279.4 444.4L280.2 443.6L281 444.3L281.8 443.8L282.6 445.8L283.4 446.5L284.2 446.7L285 446.3L285.8 446L286.6 446.7L287.4 446.8L288.2 444.4L289 443.9L289.8 443.7L290.6 443.5L291.4 444.4L292.2 444L293 446L293.8 445.5L294.6 446.8L295.4 446.7L296.2 446.1L297 446.1L297.8 446.5L298.6 446.5L299.4 446.1L300.2 446.5L301 444.1L301.8 443.7L302.6 444.3L303.4 443.7L304.2 443.8L305 444.4L305.8 443.8L306.6 444.4L307.4 444.4L308.2 443.8L309 444.2L309.8 443.5L310.6 444L311.4 444.1L312.2 443.6L313 444.5L313.8 443.7L314.6 444.4L315.4 444.3L316.2 443.5L317 443.8L317.8 444.3L318.6 444.4L319.4 443.4L320.2 443.8L321 443.6L321.8 444.3L322.6 443.8L323.4 444.1L324.2 444.2L325 444.1L325.8 443.8L326.6 444.1L327.4 444.1L328.2 444.3L329 443.6L329.8 445.7L330.6 445.6L331.4 446L332.2 443.9L333 443.7L333.8 444.1L334.6 444.4L335.4 444.5L336.2 444.3L337 444.5L337.8 443.5L338.6 444L339.4 443.7L340.2 444.5L341 444L341.8 443.5L342.6 443.8L343.4 444L344.2 444L345 444.4L345.8 444.3L346.6 444.3L347.4 444.1L348.2 444.1L349 448.4Z"/><rect x="53" y="445.2" width="296" height="0.5" fill="#b8a0d8" opacity="0.6"/><rect x="53" y="449.6" width="296" height="2.2" fill="#b8389c"/><path fill="#d880c8" opacity="0.75" d="M53 451.4Q82.5 464.4 112 451.4ZM112 451.4Q126 457.4 140 451.4ZM140 451.4Q152.5 457.4 165 451.4ZM165 451.4Q185 458.4 205 451.4ZM205 451.4Q218.5 456.4 232 451.4ZM232 451.4Q249 461.4 266 451.4ZM266 451.4Q283 459.4 300 451.4ZM300 451.4Q315 458.4 330 451.4ZM330 451.4Q339.5 456.4 349 451.4Z"/><path stroke="#b8409c" stroke-width="0.4" fill="none" opacity="0.8" d="M79 451.4Q93.2 457.7 107.5 451.4M60.5 451.4Q82.2 460.9 103.8 451.4M57.8 451.4Q80.6 461.5 103.5 451.4M59.9 451.4Q78.9 459.7 97.8 451.4M53.9 451.4Q69.3 458.2 84.7 451.4M63.9 451.4Q74.1 455.9 84.3 451.4M121.6 451.4Q126.1 453.3 130.6 451.4M118.6 451.4Q122.7 453.1 126.8 451.4M113.7 451.4Q122.1 455 130.6 451.4M116.1 451.4Q123.3 454.5 130.6 451.4M122.2 451.4Q130 454.7 137.7 451.4M114.8 451.4Q127.2 456.7 139.7 451.4M142.9 451.4Q153.5 456.5 164 451.4M145 451.4Q148.9 453.3 152.8 451.4M144.6 451.4Q152.8 455.4 161.1 451.4M145.9 451.4Q153.7 455.1 161.5 451.4M149.2 451.4Q152.6 453 156 451.4M142 451.4Q152 456.2 162 451.4M178.4 451.4Q182.3 452.8 186.2 451.4M177.9 451.4Q187.2 454.6 196.4 451.4M184.5 451.4Q194.7 455 204.9 451.4M166.2 451.4Q177.8 455.5 189.4 451.4M173.2 451.4Q188.7 456.8 204.1 451.4M176 451.4Q180.6 453 185.2 451.4M212 451.4Q219.6 454.2 227.3 451.4M206.3 451.4Q218.7 456 231 451.4M217.1 451.4Q221.3 452.9 225.4 451.4M217.6 451.4Q224.5 453.9 231.3 451.4M208.3 451.4Q219.8 455.7 231.3 451.4M210.4 451.4Q220.8 455.3 231.2 451.4M236.3 451.4Q247.7 458.1 259.1 451.4M237.2 451.4Q251.2 459.6 265.1 451.4M232.6 451.4Q241.1 456.4 249.5 451.4M235 451.4Q246.2 458 257.4 451.4M238.8 451.4Q247.9 456.7 257 451.4M233.4 451.4Q247 459.4 260.7 451.4M267.8 451.4Q279.3 456.8 290.8 451.4M281.7 451.4Q285.7 453.3 289.8 451.4M280.6 451.4Q288.5 455.1 296.4 451.4M266.3 451.4Q278.6 457.2 290.8 451.4M274.3 451.4Q282.3 455.2 290.3 451.4M272.4 451.4Q280.9 455.4 289.4 451.4M310.9 451.4Q313.6 452.7 316.3 451.4M304.6 451.4Q313.9 455.8 323.3 451.4M312.4 451.4Q319.5 454.7 326.6 451.4M301.7 451.4Q313.5 456.9 325.3 451.4M301.3 451.4Q309.9 455.4 318.4 451.4M312.3 451.4Q318.8 454.4 325.3 451.4M331.2 451.4Q339.7 455.9 348.2 451.4M332.3 451.4Q340.3 455.6 348.2 451.4M334.1 451.4Q338.8 453.9 343.5 451.4M332.3 451.4Q340.4 455.6 348.4 451.4M336.7 451.4Q342.6 454.5 348.5 451.4M331.9 451.4Q339.1 455.2 346.3 451.4"/><path stroke="#d890d0" stroke-width="0.45" fill="none" opacity="0.7" d="M60 451.4Q110 469.4 160 451.4M100 451.4Q150 467.4 200 451.4M180 451.4Q220 465.4 260 451.4M240 451.4Q285 473.4 330 451.4M260 451.4Q304.5 469.4 349 451.4M290 451.4Q319.5 463.4 349 451.4M140 451.4Q190 467.4 240 451.4M200 451.4Q250 465.4 300 451.4"/><text x="1.2" y="271.4" font-size="11.5" font-weight="bold" fill="#000">b</text><text transform="translate(8.4 388.5) rotate(-90)" font-size="7.8" fill="#231f20">IMR90 fetal lung fibroblasts</text><text x="1.6" y="471.8" font-size="11.5" font-weight="bold" fill="#000">c</text><text transform="translate(8.3 656) rotate(-90)" font-size="8.2" fill="#231f20">Individual mark data sets across epigenomes</text><text x="47.2" y="475" font-size="7.1" fill="#231f20" text-anchor="end">H3K4me1</text><text x="47.2" y="519.6" font-size="7.1" fill="#231f20" text-anchor="end">H3K4me3</text><text x="47.2" y="562.3" font-size="7.1" fill="#231f20" text-anchor="end">DNase</text><text x="47.2" y="605.3" font-size="7.1" fill="#231f20" text-anchor="end">RNA-seq</text><text x="47.2" y="650.6" font-size="7.1" fill="#231f20" text-anchor="end">WGBS</text><rect x="50" y="466.3" width="67.4" height="40.1" fill="#eef08c"/><rect x="50" y="466.3" width="67.4" height="1" fill="#f4f4b0" opacity="0.6"/><rect x="50" y="469.6" width="67.4" height="1.6" fill="#e8ea6a" opacity="0.5"/><rect x="50" y="473" width="67.4" height="1.2" fill="#f6f6c4" opacity="0.6"/><rect x="50" y="474.7" width="67.4" height="0.9" fill="#f4f4b0" opacity="0.4"/><rect x="50" y="478" width="67.4" height="1.3" fill="#e8ea6a" opacity="0.3"/><rect x="50" y="483" width="67.4" height="1.5" fill="#e8ea6a" opacity="0.4"/><rect x="50" y="488" width="67.4" height="1.1" fill="#f6f6c4" opacity="0.7"/><rect x="50" y="489.7" width="67.4" height="1.5" fill="#f4f4b0" opacity="0.3"/><rect x="50" y="491.4" width="67.4" height="0.9" fill="#f4f4b0" opacity="0.6"/><rect x="50" y="496.4" width="67.4" height="1.2" fill="#f6f6c4" opacity="0.6"/><rect x="50" y="498" width="67.4" height="1.6" fill="#f4f4b0" opacity="0.6"/><rect x="52" y="470" width="48" height="14" fill="#e8e860" opacity="0.35"/><rect x="70.5" y="466.3" width="0.6" height="40.1" fill="#d8d868" opacity="0.6"/><rect x="92.5" y="466.3" width="0.6" height="40.1" fill="#d8d868" opacity="0.6"/><rect x="95.5" y="466.3" width="0.6" height="40.1" fill="#d8d868" opacity="0.6"/><rect x="100" y="466.3" width="0.6" height="40.1" fill="#d8d868" opacity="0.6"/><rect x="104.5" y="466.3" width="0.6" height="40.1" fill="#d8d868" opacity="0.6"/><rect x="111" y="466.3" width="0.6" height="40.1" fill="#d8d868" opacity="0.6"/><rect x="50" y="466.3" width="1.6" height="1.1" fill="#e3262b"/><rect x="50" y="467.3" width="1.6" height="2.4" fill="#9c4a7c"/><rect x="50" y="469.7" width="1.6" height="2.1" fill="#6c5c9c"/><rect x="50" y="471.7" width="1.6" height="3.8" fill="#4b7cc3"/><rect x="50" y="475.4" width="1.6" height="5.4" fill="#54ad4c"/><rect x="50" y="480.8" width="1.6" height="3.4" fill="#6f9c72"/><rect x="50" y="484.2" width="1.6" height="1.7" fill="#b4466c"/><rect x="50" y="485.8" width="1.6" height="3.1" fill="#f6a12c"/><rect x="50" y="488.9" width="1.6" height="1.4" fill="#f2e05c"/><rect x="50" y="490.2" width="1.6" height="3.4" fill="#d59a36"/><rect x="50" y="493.6" width="1.6" height="1.7" fill="#c8605e"/><rect x="50" y="495.3" width="1.6" height="1.4" fill="#dc6078"/><rect x="50" y="496.6" width="1.6" height="1.4" fill="#e254b4"/><rect x="50" y="498" width="1.6" height="4.1" fill="#cc8ec0"/><rect x="50" y="502" width="1.6" height="2.7" fill="#a2a2a2"/><rect x="50" y="504.7" width="1.6" height="1.7" fill="#231f20"/><rect x="50" y="509.4" width="67.4" height="41.1" fill="#f4b4b0"/><rect x="50" y="509.4" width="67.4" height="1.4" fill="#ee9c98" opacity="0.5"/><rect x="50" y="511.1" width="67.4" height="1.1" fill="#ee9c98" opacity="0.8"/><rect x="50" y="516.2" width="67.4" height="1" fill="#f0a8a4" opacity="0.4"/><rect x="50" y="518" width="67.4" height="1.7" fill="#f8d0cc" opacity="0.3"/><rect x="50" y="521.4" width="67.4" height="0.9" fill="#f0a8a4" opacity="0.5"/><rect x="50" y="530" width="67.4" height="1.4" fill="#f0a8a4" opacity="0.6"/><rect x="50" y="531.7" width="67.4" height="1" fill="#e88884" opacity="0.8"/><rect x="50" y="538.5" width="67.4" height="1.3" fill="#f0a8a4" opacity="0.7"/><rect x="50" y="541.9" width="67.4" height="1.1" fill="#e88884" opacity="0.4"/><rect x="50" y="543.6" width="67.4" height="1" fill="#f8d0cc" opacity="0.7"/><rect x="50" y="545.4" width="67.4" height="1.2" fill="#ee9c98" opacity="0.8"/><rect x="50" y="547.1" width="67.4" height="1.4" fill="#e88884" opacity="0.4"/><rect x="95.5" y="509.4" width="0.8" height="41.1" fill="#c84848" opacity="0.8"/><rect x="100" y="509.4" width="0.8" height="41.1" fill="#c84848" opacity="0.8"/><rect x="104.3" y="509.4" width="0.8" height="41.1" fill="#c84848" opacity="0.8"/><rect x="58" y="509.4" width="0.6" height="41.1" fill="#e08080" opacity="0.6"/><rect x="70.8" y="509.4" width="0.6" height="41.1" fill="#e08080" opacity="0.6"/><rect x="80" y="509.4" width="0.6" height="41.1" fill="#e08080" opacity="0.6"/><rect x="92.4" y="509.4" width="0.6" height="41.1" fill="#e08080" opacity="0.6"/><rect x="110" y="509.4" width="0.6" height="41.1" fill="#e08080" opacity="0.6"/><rect x="50" y="518.6" width="67.4" height="0.8" fill="#d06060" opacity="0.7"/><rect x="50" y="509.4" width="1.6" height="1.1" fill="#e3262b"/><rect x="50" y="510.4" width="1.6" height="2.5" fill="#9c4a7c"/><rect x="50" y="512.9" width="1.6" height="2.1" fill="#6c5c9c"/><rect x="50" y="514.9" width="1.6" height="3.8" fill="#4b7cc3"/><rect x="50" y="518.7" width="1.6" height="5.6" fill="#54ad4c"/><rect x="50" y="524.3" width="1.6" height="3.5" fill="#6f9c72"/><rect x="50" y="527.7" width="1.6" height="1.8" fill="#b4466c"/><rect x="50" y="529.4" width="1.6" height="3.2" fill="#f6a12c"/><rect x="50" y="532.5" width="1.6" height="1.4" fill="#f2e05c"/><rect x="50" y="533.9" width="1.6" height="3.5" fill="#d59a36"/><rect x="50" y="537.4" width="1.6" height="1.8" fill="#c8605e"/><rect x="50" y="539.1" width="1.6" height="1.4" fill="#dc6078"/><rect x="50" y="540.5" width="1.6" height="1.4" fill="#e254b4"/><rect x="50" y="541.9" width="1.6" height="4.2" fill="#cc8ec0"/><rect x="50" y="546" width="1.6" height="2.8" fill="#a2a2a2"/><rect x="50" y="548.8" width="1.6" height="1.8" fill="#231f20"/><rect x="50" y="553.9" width="67.4" height="40.5" fill="#e8eef8"/><rect x="50" y="553.9" width="67.4" height="11.6" fill="#a8c0e4"/><rect x="50" y="585.6" width="67.4" height="8.8" fill="#c4d4ee"/><rect x="50" y="589.1" width="67.4" height="0.7" fill="#d4e0f4" opacity="0.4"/><rect x="57.9" y="553.9" width="0.5" height="40.5" fill="#7896cc" opacity="0.7"/><rect x="70.8" y="553.9" width="0.5" height="40.5" fill="#7896cc" opacity="0.7"/><rect x="84.9" y="553.9" width="0.5" height="40.5" fill="#7896cc" opacity="0.7"/><rect x="95.7" y="553.9" width="0.5" height="40.5" fill="#7896cc" opacity="0.7"/><rect x="98.9" y="553.9" width="0.5" height="40.5" fill="#7896cc" opacity="0.7"/><rect x="104.3" y="553.9" width="0.5" height="40.5" fill="#7896cc" opacity="0.7"/><rect x="110.8" y="553.9" width="0.5" height="40.5" fill="#7896cc" opacity="0.7"/><rect x="66" y="553.9" width="0.5" height="40.5" fill="#b8cce8" opacity="0.5"/><rect x="79" y="553.9" width="0.5" height="40.5" fill="#b8cce8" opacity="0.5"/><rect x="89" y="553.9" width="0.5" height="40.5" fill="#b8cce8" opacity="0.5"/><rect x="114" y="553.9" width="0.5" height="40.5" fill="#b8cce8" opacity="0.5"/><rect x="50" y="553.9" width="1.6" height="1.1" fill="#e3262b"/><rect x="50" y="554.9" width="1.6" height="2.4" fill="#9c4a7c"/><rect x="50" y="557.3" width="1.6" height="2.1" fill="#6c5c9c"/><rect x="50" y="559.3" width="1.6" height="3.8" fill="#4b7cc3"/><rect x="50" y="563.1" width="1.6" height="5.5" fill="#54ad4c"/><rect x="50" y="568.5" width="1.6" height="3.5" fill="#6f9c72"/><rect x="50" y="571.9" width="1.6" height="1.8" fill="#b4466c"/><rect x="50" y="573.6" width="1.6" height="3.1" fill="#f6a12c"/><rect x="50" y="576.7" width="1.6" height="1.4" fill="#f2e05c"/><rect x="50" y="578.1" width="1.6" height="3.5" fill="#d59a36"/><rect x="50" y="581.5" width="1.6" height="1.8" fill="#c8605e"/><rect x="50" y="583.2" width="1.6" height="1.4" fill="#dc6078"/><rect x="50" y="584.5" width="1.6" height="1.4" fill="#e254b4"/><rect x="50" y="585.9" width="1.6" height="4.1" fill="#cc8ec0"/><rect x="50" y="590" width="1.6" height="2.8" fill="#a2a2a2"/><rect x="50" y="592.7" width="1.6" height="1.8" fill="#231f20"/><rect x="50" y="597.3" width="67.4" height="40" fill="#fafaf4"/><rect x="63" y="598" width="36" height="3.5" fill="#e4e4dc"/><path stroke="#6a7650" stroke-width="1.05" fill="none" d="M52 597.8h3M57 597.8h0.2M114 597.8h3M61.2 598.8h1.2M116 598.8h1M52 599.8h1M107 599.8h1M52 600.8h2M59.2 600.8h1M104 600.8h2M58.2 601.8h2M60.2 601.8h1M107 601.8h3M54 603.8h1M105 604.8h3M106 605.8h1M110 605.8h2M55 606.8h1M60.2 606.8h1M106 606.8h2M108 606.8h1M109 608.8h2M107 609.8h1M111 609.8h3M52 610.8h2M113 610.8h2M106 611.8h3M109 611.8h2M62.2 612.8h0.2M114 612.8h2M58.2 613.8h3M115 613.8h2M116 614.8h1M54 615.8h1M110 615.8h3M108 616.8h1M61.2 617.8h1.2M114 617.8h1M115 617.8h1M52 618.8h2M54 618.8h2M110 618.8h3M60.2 619.8h2.2M111 619.8h3M117 619.8h0.4M58.2 620.8h1M59.2 620.8h1M60.2 620.8h2M61.2 622.8h1.2M104 622.8h2M104 623.8h1M109 623.8h1M60.2 624.8h2M104 625.8h3M107 625.8h3M113 626.8h1M114 626.8h2M107 627.8h2M112 627.8h1M104 628.8h3M104 629.8h2M106 629.8h2M111 629.8h2M52 630.8h3M55 630.8h2M113 630.8h2M54 631.8h3M58.2 631.8h2M61.2 631.8h1.2M114 631.8h1M115 631.8h2M55 632.8h2M59.2 632.8h2M56 633.8h1.2M59.2 634.8h1M108 634.8h2M110 634.8h2M115 634.8h2.4M58.2 635.8h3M112 635.8h3"/><path stroke="#8a9470" stroke-width="1.05" fill="none" d="M55 597.8h2M58.2 597.8h1M108 597.8h2M53 598.8h1M60.2 598.8h1M115 598.8h1M117 598.8h0.4M54 599.8h1M55 599.8h2.2M60.2 600.8h2.2M54 601.8h2M112 601.8h1M113 601.8h2M116 601.8h1.4M55 602.8h2M104 602.8h3M109 602.8h3M117 602.8h0.4M55 603.8h2.2M58.2 603.8h2M60.2 603.8h2.2M112 603.8h2M58.2 604.8h2M52 606.8h3M56 606.8h1.2M104 606.8h2M53 607.8h3M58.2 607.8h2M60.2 607.8h2.2M61.2 608.8h1.2M107 608.8h1M110 610.8h3M117 610.8h0.4M104 611.8h2M111 611.8h2M116 612.8h1.4M52 613.8h2M54 613.8h1M106 613.8h1M108 613.8h2M52 614.8h1M57 614.8h0.2M107 614.8h3M110 614.8h3M52 615.8h2M104 615.8h3M114 615.8h2M116 615.8h1.4M56 616.8h1.2M115 616.8h2.4M52 617.8h1M53 617.8h1M57 617.8h0.2M60.2 617.8h1M105 617.8h1M52 619.8h2M54 619.8h2M56 619.8h1M57 619.8h0.2M106 619.8h2M54 620.8h1M104 620.8h2M112 620.8h2M55 621.8h2.2M61.2 621.8h1.2M116 621.8h1.4M53 622.8h2M55 622.8h2M60.2 622.8h1M113 622.8h2M58.2 623.8h2M52 624.8h2M115 625.8h2M117 625.8h0.4M109 626.8h1M110 626.8h2M104 627.8h2M106 627.8h1M115 627.8h2M117 627.8h0.4M59.2 629.8h2M58.2 630.8h1M109 630.8h2M111 630.8h2M52 631.8h2M57 632.8h0.2M104 632.8h3M107 632.8h2M116 632.8h1.4M52 633.8h2M60.2 633.8h2.2M111 633.8h2M117 633.8h0.4M52 634.8h1M53 634.8h2M58.2 634.8h1M112 634.8h1M52 635.8h2M61.2 635.8h1M107 635.8h3M117 635.8h0.4M52 636.8h2M58.2 636.8h3M107 636.8h2"/><path stroke="#4e5e34" stroke-width="1.05" fill="none" d="M59.2 597.8h1M110 597.8h1M56 598.8h1.2M58.2 598.8h2M105 598.8h2M53 599.8h1M58.2 599.8h2M60.2 599.8h2.2M106 599.8h1M108 599.8h3M113 599.8h2M115 599.8h2M54 600.8h3M57 600.8h0.2M58.2 600.8h1M108 600.8h3M114 600.8h2M117 600.8h0.4M52 601.8h2M56 601.8h1.2M104 601.8h1M106 601.8h1M57 602.8h0.2M112 602.8h3M115 602.8h2M104 603.8h2M54 604.8h2M56 604.8h1.2M104 604.8h1M114 604.8h2M55 605.8h2.2M104 605.8h2M107 605.8h3M58.2 606.8h2M109 606.8h1M112 606.8h3M52 607.8h1M107 607.8h2M109 607.8h2M115 607.8h2.4M114 608.8h1M115 608.8h2M116 609.8h1M58.2 610.8h1M115 610.8h2M113 611.8h1M114 611.8h2M108 612.8h2M112 612.8h2M55 613.8h2M61.2 613.8h1.2M104 613.8h2M58.2 614.8h1M59.2 614.8h3M62.2 614.8h0.2M52 616.8h1M58.2 616.8h3M104 616.8h2M106 616.8h1M113 616.8h2M54 617.8h1M55 617.8h2M104 617.8h1M108 617.8h2M110 617.8h1M117 617.8h0.4M58.2 618.8h1M59.2 618.8h2M113 618.8h2M116 618.8h1.4M114 619.8h1M114 620.8h2M116 620.8h1.4M52 621.8h3M58.2 621.8h3M107 621.8h3M57 622.8h0.2M110 622.8h2M117 622.8h0.4M55 623.8h2.2M60.2 623.8h2.2M106 623.8h3M110 623.8h2M113 623.8h3M56 624.8h1M62.2 624.8h0.2M113 624.8h2M117 624.8h0.4M60.2 625.8h2.2M112 625.8h3M107 626.8h2M111 627.8h1M113 627.8h2M114 628.8h2M59.2 630.8h3M62.2 630.8h0.2M57 631.8h0.2M104 631.8h2M52 632.8h3M54 633.8h2M61.2 634.8h1.2M107 634.8h1M54 635.8h2M56 635.8h1.2M110 635.8h2M57 636.8h0.2M61.2 636.8h1.2M104 636.8h3M109 636.8h2"/><path stroke="#3a4a26" stroke-width="1.05" fill="none" d="M99.1 597.8h2.5M99.1 598.8h2M101.1 598.8h0.5M99.1 601.8h2.5M99.1 603.8h2M99.1 604.8h1M100.1 604.8h1.5M99.1 605.8h2M101.1 605.8h0.5M99.1 606.8h1M100.1 606.8h1.5M99.1 608.8h2.5M99.1 609.8h2M99.1 610.8h2M99.1 611.8h2M101.1 611.8h0.5M99.1 612.8h1M100.1 612.8h1M101.1 613.8h0.5M100.1 615.8h1.5M99.1 617.8h1M100.1 617.8h1.5M101.1 618.8h0.5M99.1 619.8h2M101.1 619.8h0.5M101.1 623.8h0.5M99.1 624.8h1M100.1 624.8h1.5M99.1 625.8h2.5M99.1 627.8h2M101.1 627.8h0.5M99.1 629.8h1M100.1 629.8h1.5M101.1 633.8h0.5M101.1 635.8h0.5M99.1 636.8h2"/><path stroke="#7a8660" stroke-width="1.05" fill="none" d="M101.6 597.8h1M101.6 598.8h1M101.6 599.8h2M103.6 599.8h0.4M101.6 600.8h2M103.6 600.8h0.4M103.6 601.8h0.4M101.6 603.8h2M103.6 603.8h0.4M101.6 605.8h1M102.6 605.8h1.4M101.6 606.8h2M102.6 609.8h1.4M103.6 610.8h0.4M101.6 611.8h1M102.6 611.8h1M101.6 612.8h1M102.6 612.8h1.4M103.6 613.8h0.4M102.6 614.8h1M103.6 614.8h0.4M102.6 617.8h1.4M103.6 618.8h0.4M103.6 619.8h0.4M102.6 622.8h1.4M101.6 624.8h2.4M103.6 627.8h0.4M103.6 633.8h0.4M101.6 636.8h2"/><path stroke="#b4baa0" stroke-width="1.05" fill="none" d="M105 597.8h2M111 597.8h3M104 598.8h1M111 598.8h2M111 599.8h2M117 599.8h0.4M106 600.8h2M111 600.8h1M112 600.8h2M116 600.8h1M107 602.8h2M106 603.8h3M116 603.8h1.4M110 604.8h2M112 605.8h2M117 605.8h0.4M104 607.8h3M111 607.8h2M104 608.8h3M111 608.8h3M108 609.8h3M106 610.8h3M109 610.8h1M104 612.8h2M110 613.8h3M113 613.8h2M113 614.8h1M114 614.8h2M106 617.8h2M104 619.8h2M108 619.8h1M115 619.8h2M106 620.8h2M110 620.8h2M104 621.8h3M110 621.8h2M112 621.8h2M115 622.8h1M116 622.8h1M105 623.8h1M112 623.8h1M105 624.8h3M115 624.8h2M112 626.8h1M117 626.8h0.4M116 628.8h1.4M108 629.8h3M116 629.8h1.4M106 630.8h3M110 631.8h3M104 633.8h3M113 633.8h1"/><path stroke="#4a5a30" stroke-width="1.05" fill="none" d="M99.1 599.8h2.5M99.1 600.8h2.5M101.1 602.8h0.5M101.1 603.8h0.5M99.1 607.8h2M101.1 607.8h0.5M101.1 609.8h0.5M101.1 612.8h0.5M99.1 613.8h2M101.1 614.8h0.5M99.1 615.8h1M99.1 616.8h2.5M99.1 618.8h2M99.1 620.8h1M100.1 620.8h1.5M99.1 621.8h2.5M99.1 622.8h2M101.1 622.8h0.5M99.1 623.8h2M99.1 626.8h1M100.1 626.8h1.5M99.1 628.8h2.5M99.1 630.8h2M101.1 630.8h0.5M100.1 631.8h1M101.1 631.8h0.5M99.1 632.8h2.5M99.1 633.8h2M99.1 634.8h2M99.1 635.8h2M101.1 636.8h0.5"/><path stroke="#9aa284" stroke-width="1.05" fill="none" d="M101.6 601.8h2M101.6 602.8h2M103.6 602.8h0.4M101.6 604.8h2M103.6 604.8h0.4M103.6 606.8h0.4M101.6 607.8h1M102.6 607.8h1.4M101.6 608.8h2M101.6 610.8h2M103.6 611.8h0.4M101.6 613.8h2M101.6 614.8h1M101.6 615.8h2.4M103.6 616.8h0.4M101.6 619.8h2M101.6 621.8h2M103.6 621.8h0.4M101.6 622.8h1M101.6 623.8h1M102.6 623.8h1.4M103.6 626.8h0.4M103.6 629.8h0.4M101.6 630.8h2.4M101.6 632.8h1M102.6 632.8h1.4M101.6 634.8h2.4M101.6 635.8h2M103.6 636.8h0.4"/><line x1="77" y1="609.3" x2="96.5" y2="609.3" stroke="#4e5e34" stroke-width="0.7" stroke-dasharray="1 0.6" opacity="0.8"/><line x1="77" y1="612.8" x2="96.5" y2="612.8" stroke="#4e5e34" stroke-width="0.7" stroke-dasharray="1 0.6" opacity="0.8"/><line x1="77" y1="620.6" x2="96.5" y2="620.6" stroke="#4e5e34" stroke-width="0.7" stroke-dasharray="1 0.6" opacity="0.8"/><line x1="77" y1="629.8" x2="96.5" y2="629.8" stroke="#4e5e34" stroke-width="0.7" stroke-dasharray="1 0.6" opacity="0.8"/><line x1="77" y1="636.5" x2="96.5" y2="636.5" stroke="#4e5e34" stroke-width="0.7" stroke-dasharray="1 0.6" opacity="0.8"/><rect x="50" y="597.3" width="1.6" height="1.1" fill="#e3262b"/><rect x="50" y="598.3" width="1.6" height="2.4" fill="#9c4a7c"/><rect x="50" y="600.7" width="1.6" height="2.1" fill="#6c5c9c"/><rect x="50" y="602.7" width="1.6" height="3.7" fill="#4b7cc3"/><rect x="50" y="606.4" width="1.6" height="5.4" fill="#54ad4c"/><rect x="50" y="611.8" width="1.6" height="3.4" fill="#6f9c72"/><rect x="50" y="615.1" width="1.6" height="1.7" fill="#b4466c"/><rect x="50" y="616.8" width="1.6" height="3.1" fill="#f6a12c"/><rect x="50" y="619.8" width="1.6" height="1.4" fill="#f2e05c"/><rect x="50" y="621.2" width="1.6" height="3.4" fill="#d59a36"/><rect x="50" y="624.5" width="1.6" height="1.7" fill="#c8605e"/><rect x="50" y="626.2" width="1.6" height="1.4" fill="#dc6078"/><rect x="50" y="627.6" width="1.6" height="1.4" fill="#e254b4"/><rect x="50" y="628.9" width="1.6" height="4.1" fill="#cc8ec0"/><rect x="50" y="632.9" width="1.6" height="2.7" fill="#a2a2a2"/><rect x="50" y="635.6" width="1.6" height="1.7" fill="#231f20"/><rect x="50" y="641.6" width="67.4" height="39.8" fill="#8452c0"/><rect x="50" y="641.6" width="67.4" height="1" fill="#9a72cc" opacity="0.3"/><rect x="50" y="644.7" width="67.4" height="1.4" fill="#a07ad0" opacity="0.4"/><rect x="50" y="646.2" width="67.4" height="0.7" fill="#b090dc" opacity="0.3"/><rect x="50" y="647.7" width="67.4" height="1.5" fill="#a07ad0" opacity="0.6"/><rect x="50" y="650.8" width="67.4" height="0.7" fill="#b090dc" opacity="0.4"/><rect x="50" y="653.8" width="67.4" height="0.7" fill="#b090dc" opacity="0.4"/><rect x="50" y="655.4" width="67.4" height="0.7" fill="#9a72cc" opacity="0.6"/><rect x="50" y="656.9" width="67.4" height="1.1" fill="#a07ad0" opacity="0.3"/><rect x="50" y="658.4" width="67.4" height="1.1" fill="#9a72cc" opacity="0.6"/><rect x="50" y="661.5" width="67.4" height="0.9" fill="#b090dc" opacity="0.4"/><rect x="50" y="663" width="67.4" height="0.7" fill="#9a72cc" opacity="0.5"/><rect x="50" y="664.6" width="67.4" height="1.3" fill="#7444b4" opacity="0.4"/><rect x="50" y="667.6" width="67.4" height="0.8" fill="#b090dc" opacity="0.5"/><rect x="50" y="670.7" width="67.4" height="1.3" fill="#a07ad0" opacity="0.6"/><rect x="50" y="673.7" width="67.4" height="1.2" fill="#7444b4" opacity="0.6"/><rect x="50" y="675.3" width="67.4" height="1.5" fill="#a07ad0" opacity="0.5"/><rect x="50" y="678.3" width="67.4" height="1.2" fill="#7444b4" opacity="0.8"/><rect x="94.3" y="641.6" width="0.9" height="39.8" fill="#f0e8f8" opacity="0.9"/><rect x="96.2" y="641.6" width="0.9" height="39.8" fill="#f0e8f8" opacity="0.9"/><rect x="60" y="641.6" width="0.5" height="39.8" fill="#a888d4" opacity="0.6"/><rect x="72" y="641.6" width="0.5" height="39.8" fill="#a888d4" opacity="0.6"/><rect x="85" y="641.6" width="0.5" height="39.8" fill="#a888d4" opacity="0.6"/><rect x="105" y="641.6" width="0.5" height="39.8" fill="#a888d4" opacity="0.6"/><rect x="110" y="641.6" width="0.5" height="39.8" fill="#a888d4" opacity="0.6"/><rect x="50" y="641.6" width="1.6" height="1.1" fill="#e3262b"/><rect x="50" y="642.6" width="1.6" height="2.4" fill="#9c4a7c"/><rect x="50" y="644.9" width="1.6" height="2.1" fill="#6c5c9c"/><rect x="50" y="647" width="1.6" height="3.7" fill="#4b7cc3"/><rect x="50" y="650.6" width="1.6" height="5.4" fill="#54ad4c"/><rect x="50" y="656" width="1.6" height="3.4" fill="#6f9c72"/><rect x="50" y="659.3" width="1.6" height="1.7" fill="#b4466c"/><rect x="50" y="661" width="1.6" height="3.1" fill="#f6a12c"/><rect x="50" y="664" width="1.6" height="1.4" fill="#f2e05c"/><rect x="50" y="665.3" width="1.6" height="3.4" fill="#d59a36"/><rect x="50" y="668.7" width="1.6" height="1.7" fill="#c8605e"/><rect x="50" y="670.4" width="1.6" height="1.4" fill="#dc6078"/><rect x="50" y="671.7" width="1.6" height="1.4" fill="#e254b4"/><rect x="50" y="673" width="1.6" height="4.1" fill="#cc8ec0"/><rect x="50" y="677.1" width="1.6" height="2.7" fill="#a2a2a2"/><rect x="50" y="679.7" width="1.6" height="1.7" fill="#231f20"/><text x="134.6" y="470.6" font-size="11.5" font-weight="bold" fill="#000">d</text><polygon points="142.5,516 239.5,548 345,496 247,466" fill="#fcf8f0"/><path stroke="#a0c880" stroke-width="0.75" fill="none" d="M143.5 515.5L159.4 520.8M175.1 525.9L190.3 530.9M145.5 514.6L166.2 521.4M183.4 527L205 534.1M230.7 542.6L236.9 544.6M237.6 544.9L242.5 546.5M147.5 513.6L152.5 515.2M192.4 528.3L198.5 530.3M199.2 530.6L204.1 532.2M214.5 535.6L228.2 540.1M229 540.4L244.6 545.5M151.5 511.7L157 513.5M207.4 530L227 536.4M236.7 539.6L248.6 543.5"/><path stroke="#e4eca8" stroke-width="0.75" fill="none" d="M191.1 531.2L214.7 539M226.6 542.9L237.2 546.4M238 546.7L240.5 547.5M204.9 532.5L213.7 535.4M149.5 512.6L163.8 517.3M177.6 521.8L195.4 527.7M237.9 541.6L246.6 544.5M157.8 513.7L171.7 518.3"/><path stroke="#c0d470" stroke-width="0.75" fill="none" d="M215.5 539.2L225.8 542.6M167 521.6L182.6 526.8M153.3 515.5L168.9 520.6M169.7 520.9L191.6 528.1M164.6 517.6L176.8 521.6M183.1 522L206.7 529.7"/><path stroke="#c0c4a8" stroke-width="0.75" fill="none" d="M153.6 510.7L176 518.1M176.8 518.3L197.8 525.2M155.6 509.8L164.8 512.8M220.8 529.4L232.2 533.1"/><path stroke="#a0a890" stroke-width="0.75" fill="none" d="M222.2 533.2L241.6 539.5M242.4 539.8L250.7 542.5M165.6 513L186.9 520M187.7 520.3L196.4 523.1M197.2 523.4L203.3 525.4M220.9 531.1L238.9 537M157.6 508.8L178.2 515.5M179 515.8L199 522.3M199.8 522.6L220 529.2"/><path stroke="#88a8e0" stroke-width="0.75" fill="none" d="M159.6 507.8L179.1 514.2M201.2 521.4L218 526.9M238.4 533.5L252.9 538.3M253.7 538.5L256.7 539.5M195.1 517.8L204.5 520.8M213.8 523.9L223.6 527M239.6 532.3L250 535.6M163.6 505.9L187.5 513.7M209.9 520.9L221.2 524.6M221.9 524.9L243.4 531.8M260.3 535.7L262.8 536.5M180.4 508.1L189.5 511.1M190.3 511.3L198.8 514.1M199.6 514.3L220.7 521.2M240.8 526L248.9 528.7"/><path stroke="#a8c0e8" stroke-width="0.75" fill="none" d="M179.9 514.4L200.4 521.1M218.8 527.1L237.7 533.3M250.7 535.9L258.8 538.5M188.3 513.9L209.1 520.7M244.1 532.1L259 536.9M165.6 504.9L180.2 509.7M180.9 509.9L202.5 516.9M240.9 529.4L259.5 535.4M167.6 504L179.7 507.9M242.7 528.3L257.3 533M193.1 510.6L206.6 515M230.5 522.7L240 525.8"/><path stroke="#c8d8f0" stroke-width="0.75" fill="none" d="M161.6 506.9L171.5 510.1M172.2 510.3L179.6 512.7M180.4 513L194.3 517.5M205.3 521.1L213 523.6M224.4 527.3L238.8 532M259.8 537.2L260.8 537.5M223.1 523.6L240.1 529.1M221.5 521.4L228.2 523.6M229 523.9L241.9 528.1M169.6 503L184.8 507.9M216.5 518.2L229.8 522.5"/><path stroke="#f6c0c0" stroke-width="0.75" fill="none" d="M171.6 502.1L192.2 508.7M233.4 517.1L241.8 519.8M215 504.7L230.5 509.7M189.7 493.4L211.2 500.3M236.1 508.2L248.7 512.2M268.8 518.6L287.2 524.5"/><path stroke="#f8d8c8" stroke-width="0.75" fill="none" d="M199.3 511L209.1 514.2M243.2 525.2L258.7 530.2M223.3 517.1L245.7 524.3M196.3 505.2L212.7 510.4M271.6 527.7L277 529.5M256.5 521.3L275.8 527.4M201.4 498.7L222.2 505.4M222.9 505.6L241.7 511.6M255.8 516.1L268.1 520M284.3 525.2L285.1 525.5M249.5 512.5L268 518.4"/><path stroke="#e87070" stroke-width="0.75" fill="none" d="M209.9 514.4L232.9 521.9M173.6 501.1L185.3 504.9M195.3 508.1L200.8 509.9M265 530.6L270.9 532.5M175.7 500.1L190.9 505M196.9 503.7L214.9 509.5M254.7 522.3L263 525M263.7 525.2L270.8 527.5M181.7 497.2L199.6 503M200.3 503.2L217.8 508.8M276.6 527.7L279.1 528.5M270.7 524.2L279.6 527M238.4 512.2L250.6 516.1M187.7 494.4L200.6 498.5"/><path stroke="#f0a0a0" stroke-width="0.75" fill="none" d="M233.7 522.1L242.4 524.9M186.1 505.1L194.5 507.8M209.5 511L228.4 517.1M229.2 517.4L248 523.4M177.7 499.2L195.5 504.9M242.6 520.1L260.2 525.7M179.7 498.2L196.1 503.5M215.7 509.8L220.8 511.4M250.6 517.7L269.9 523.9M206.7 502.1L214.2 504.4M251.4 516.4L257.5 518.3M258.3 518.6L276 524.2M268.8 520.3L275.9 522.6"/><path stroke="#ec8080" stroke-width="0.75" fill="none" d="M259.5 530.4L268.9 533.5M201.6 510.1L222.5 516.9M246.5 524.6L264.3 530.3M202.3 508.7L208.7 510.8M248.8 523.7L262.7 528.2M263.5 528.4L273 531.5M221.6 511.7L229.5 514.2M230.3 514.5L254 522.1M206.8 503.7L225.2 509.6M226 509.8L249.8 517.5M231.3 509.9L237.6 511.9M276.8 524.5L283.1 526.5M242.5 511.9L255 515.9M276.7 522.8L283.5 525"/><path stroke="#ece870" stroke-width="0.75" fill="none" d="M191.7 492.4L204 496.4M263.1 515.2L274 518.6M275.2 517.4L291.2 522.5M278.6 516.8L293.3 521.5M197.8 489.6L219 496.3M199.8 488.6L205.1 490.3M205.8 490.5L226.2 497M242 502L249.2 504.2M265 509.3L276.3 512.8"/><path stroke="#f0ec9c" stroke-width="0.75" fill="none" d="M228.5 504.1L250.4 511.1M251.1 511.4L262.3 514.9M274.7 518.9L289.2 523.5M259.7 512.5L274.4 517.2M222.9 499.1L235.5 503.1M236.2 503.4L249 507.4M249.8 507.7L272 514.7M272.8 515L277.8 516.6M250.2 506.2L255.4 507.8M268.9 508.9L282.8 513.3"/><path stroke="#f4d890" stroke-width="0.75" fill="none" d="M193.7 491.5L210.2 496.7M211 497L234.3 504.4M235.1 504.6L250 509.4M250.8 509.6L258.9 512.2M219.7 496.5L237.5 502.2M275.5 514.2L285.7 517.4M286.5 517.7L293.9 520.1M294.7 520.3L295.3 520.5M227 497.2L241.2 501.7M250 504.5L264.2 509M277.1 513.1L290.8 517.4M291.6 517.7L297.3 519.5M201.8 487.6L219.8 493.3M259.9 506L268.1 508.6"/><path stroke="#f8e4c0" stroke-width="0.75" fill="none" d="M203.8 486.7L224 493.1M224.8 493.3L248.5 500.8M243.5 497.6L264.7 504.3M299 515.1L303.4 516.5M220.1 488.6L232 492.4M222.9 487.9L240.1 493.3M230.6 488.7L243.5 492.8M215.9 480.9L222.1 482.9M264.3 489.6L284.2 495.8M261 487L282.1 493.6M241.3 479.3L255.3 483.6M292.6 493.6L300.8 496.2M324.9 503.6L327.8 504.5M250.5 475.8L261.9 479.3M285.2 486.5L292.9 488.9"/><path stroke="#f8d8a8" stroke-width="0.75" fill="none" d="M249.3 501L256.7 503.4M224.6 491.6L242.7 497.3M209.8 483.8L222.1 487.7M240.8 493.5L260.1 499.6M257.3 497.1L264.9 499.5M291.6 506.3L298 508.3M269.6 496.1L293.4 503.6M266.4 493.5L289.1 500.6M221.9 478L244.9 485.2M265.4 491.6L289.1 499M298.9 500.4L314.3 505.2M282.9 493.8L303.3 500.2M278.2 489.1L291.9 493.4M246.7 477.8L254 480M322.9 501.4L329.8 503.5M253.7 478.3L272.1 484.1M291.7 490.1L303.2 493.7M304 493.9L321.8 499.4M262.7 479.5L274.3 483.1M305.9 492.9L324.1 498.5"/><path stroke="#f0c8d8" stroke-width="0.75" fill="none" d="M257.5 503.6L280 510.7M280.8 511L299.4 516.9M300.1 513.8L305.4 515.5M290 507.4L302.9 511.4M228.6 486.5L238.9 489.7M242.2 486L256.6 490.5M257.4 490.7L265.6 493.3M289.9 500.8L295 502.4M285 496.1L290.4 497.8M241.8 481L260.2 486.8M301.8 498.1L316.3 502.6M229.9 474.2L245 478.9M276.3 487L287.8 490.5M288.6 490.8L309.7 497.3M239.7 474L252.9 478.1M272.9 484.3L290.9 489.9M322.6 499.7L331.8 502.5M235.9 471.3L249.7 475.5M275.1 483.4L284.4 486.3M244.9 472.5L255.6 475.8M256.4 476L276.7 482.3M277.5 482.5L283.4 484.3"/><path stroke="#f4b8a8" stroke-width="0.75" fill="none" d="M300.2 517.1L301.4 517.5M232.8 492.6L257 500.2M260.9 499.8L284.4 507.2M285.2 507.5L307.5 514.5M265.7 499.7L278.5 503.8M271.3 499.9L290.8 506M298.8 508.5L311.5 512.5M234.6 485.2L242.6 487.7M243.4 487.9L257.1 492.2M289.9 499.2L300.7 502.6M301.5 502.8L308.2 504.9M308.9 505.2L319.6 508.5M244.2 483.4L263.5 489.4M291.2 498L298.1 500.2M225.9 476.1L241 480.8M227.9 475.1L240.6 479.1M269.4 488L292 495M292.8 495.3L301 497.8M317.1 502.8L325.7 505.5M245.8 479.1L261.9 484.1M301.6 496.4L324.1 503.4M233.9 472.2L238.9 473.8M293.7 489.1L305.1 492.6M284.2 484.6L300.4 489.6"/><path stroke="#f4c890" stroke-width="0.75" fill="none" d="M211.9 487.7L223.8 491.4M265.5 504.5L275.8 507.8M207.8 484.8L219.3 488.4M211.8 482.8L229.8 488.5M279.3 504L289.2 507.1M303.7 511.7L309.5 513.5M222.9 483.1L241.8 489M251.5 492.1L267.3 497M282.7 501.8L300 507.3M300.8 507.5L313.6 511.5M224.4 482L233.8 484.9M257.9 492.5L268.8 495.9M294.2 503.8L315.6 510.5M304.4 505.4L317.6 509.5M223.9 477.1L243.4 483.1M256.1 483.9L268.6 487.8M231.9 473.2L245.9 477.5M324.9 498.7L333.7 501.5M325.8 497.4L335.9 500.5"/><path stroke="#b898d8" stroke-width="0.75" fill="none" d="M240 469.4L250.1 472.5M250.8 472.7L274.1 479.9M274.9 480.1L287 483.8M337.3 499.3L337.9 499.5M302.8 487.1L318.4 491.9M319.2 492.1L339 498.2M288.4 481.1L309.3 487.5M310.1 487.7L315.3 489.3M273 474.7L293.2 480.9M302.1 483.7L320.3 489.2M321.1 489.5L342.1 495.9M342.9 496.2L344 496.5"/><path stroke="#c8a8e0" stroke-width="0.75" fill="none" d="M287.8 484.1L306.9 490M318.9 493.7L336.5 499.1M242 468.4L258.9 473.6M259.7 473.9L279.5 479.9M280.2 480.2L302 486.8M339.8 498.5L339.9 498.5M266.5 474.4L287.6 480.8M316.1 489.6L321.5 491.2M322.3 491.5L342 497.5M255.1 469.3L272.2 474.5"/><polyline points="247,466 345,496" stroke="#7a40b0" stroke-width="2.2" fill="none"/><polyline points="249,463.8 345,493.5" stroke="#c890d8" stroke-width="2" fill="none" opacity="0.6"/><polygon points="239.5,548 345,496 345,598 239.5,675" fill="#fbfaf6"/><polygon points="239.5,548 253,541.3 253,665.1 239.5,675" fill="#f0f0e8"/><polygon points="253,541.3 268,534 268,654.2 253,665.1" fill="#dfe8f6"/><polygon points="268,534 277,529.5 277,647.6 268,654.2" fill="#f8dcdc"/><polygon points="277,529.5 302,517.2 302,629.4 277,647.6" fill="#eaec70"/><polygon points="302,517.2 345,496 345,598 302,629.4" fill="#f6eef8"/><line x1="239.5" y1="549" x2="253" y2="542.3" stroke="#606a4a" stroke-width="0.75"/><line x1="239.5" y1="551" x2="253" y2="544.2" stroke="#8a9278" stroke-width="0.75"/><line x1="239.5" y1="553" x2="253" y2="546.2" stroke="#8a9278" stroke-width="0.75"/><line x1="239.5" y1="554.9" x2="253" y2="548.1" stroke="#606a4a" stroke-width="0.75"/><line x1="239.5" y1="556.9" x2="253" y2="550.1" stroke="#b0b4a0" stroke-width="0.75"/><line x1="239.5" y1="558.9" x2="253" y2="552" stroke="#5a8a50" stroke-width="0.75"/><line x1="239.5" y1="560.9" x2="253" y2="553.9" stroke="#b0b4a0" stroke-width="0.75"/><line x1="239.5" y1="562.9" x2="253" y2="555.9" stroke="#b0b4a0" stroke-width="0.75"/><line x1="239.5" y1="566.9" x2="253" y2="559.7" stroke="#606a4a" stroke-width="0.75"/><line x1="239.5" y1="568.8" x2="253" y2="561.7" stroke="#606a4a" stroke-width="0.75"/><line x1="239.5" y1="570.8" x2="253" y2="563.6" stroke="#b0b4a0" stroke-width="0.75"/><line x1="239.5" y1="572.8" x2="253" y2="565.5" stroke="#b0b4a0" stroke-width="0.75"/><line x1="239.5" y1="574.8" x2="253" y2="567.5" stroke="#5a8a50" stroke-width="0.75"/><line x1="239.5" y1="576.8" x2="253" y2="569.4" stroke="#5a8a50" stroke-width="0.75"/><line x1="239.5" y1="580.7" x2="253" y2="573.3" stroke="#b0b4a0" stroke-width="0.75"/><line x1="239.5" y1="582.7" x2="253" y2="575.2" stroke="#606a4a" stroke-width="0.75"/><line x1="239.5" y1="584.7" x2="253" y2="577.1" stroke="#5a8a50" stroke-width="0.75"/><line x1="239.5" y1="586.7" x2="253" y2="579.1" stroke="#b0b4a0" stroke-width="0.75"/><line x1="239.5" y1="588.7" x2="253" y2="581" stroke="#5a8a50" stroke-width="0.75"/><line x1="239.5" y1="590.7" x2="253" y2="582.9" stroke="#8a9278" stroke-width="0.75"/><line x1="239.5" y1="592.6" x2="253" y2="584.9" stroke="#5a8a50" stroke-width="0.75"/><line x1="239.5" y1="596.6" x2="253" y2="588.7" stroke="#b0b4a0" stroke-width="0.75"/><line x1="239.5" y1="598.6" x2="253" y2="590.7" stroke="#606a4a" stroke-width="0.75"/><line x1="239.5" y1="600.6" x2="253" y2="592.6" stroke="#606a4a" stroke-width="0.75"/><line x1="239.5" y1="602.6" x2="253" y2="594.5" stroke="#606a4a" stroke-width="0.75"/><line x1="239.5" y1="604.6" x2="253" y2="596.5" stroke="#b0b4a0" stroke-width="0.75"/><line x1="239.5" y1="608.5" x2="253" y2="600.3" stroke="#8a9278" stroke-width="0.75"/><line x1="239.5" y1="610.5" x2="253" y2="602.3" stroke="#b0b4a0" stroke-width="0.75"/><line x1="239.5" y1="612.5" x2="253" y2="604.2" stroke="#8a9278" stroke-width="0.75"/><line x1="239.5" y1="614.5" x2="253" y2="606.1" stroke="#606a4a" stroke-width="0.75"/><line x1="239.5" y1="618.4" x2="253" y2="610" stroke="#5a8a50" stroke-width="0.75"/><line x1="239.5" y1="620.4" x2="253" y2="612" stroke="#8a9278" stroke-width="0.75"/><line x1="239.5" y1="624.4" x2="253" y2="615.8" stroke="#606a4a" stroke-width="0.75"/><line x1="239.5" y1="626.4" x2="253" y2="617.8" stroke="#b0b4a0" stroke-width="0.75"/><line x1="239.5" y1="630.4" x2="253" y2="621.6" stroke="#606a4a" stroke-width="0.75"/><line x1="239.5" y1="632.3" x2="253" y2="623.6" stroke="#b0b4a0" stroke-width="0.75"/><line x1="239.5" y1="634.3" x2="253" y2="625.5" stroke="#8a9278" stroke-width="0.75"/><line x1="239.5" y1="640.3" x2="253" y2="631.3" stroke="#5a8a50" stroke-width="0.75"/><line x1="239.5" y1="644.2" x2="253" y2="635.2" stroke="#606a4a" stroke-width="0.75"/><line x1="239.5" y1="648.2" x2="253" y2="639" stroke="#b0b4a0" stroke-width="0.75"/><line x1="239.5" y1="650.2" x2="253" y2="641" stroke="#5a8a50" stroke-width="0.75"/><line x1="239.5" y1="652.2" x2="253" y2="642.9" stroke="#5a8a50" stroke-width="0.75"/><line x1="239.5" y1="654.2" x2="253" y2="644.8" stroke="#5a8a50" stroke-width="0.75"/><line x1="239.5" y1="656.1" x2="253" y2="646.8" stroke="#5a8a50" stroke-width="0.75"/><line x1="239.5" y1="658.1" x2="253" y2="648.7" stroke="#b0b4a0" stroke-width="0.75"/><line x1="239.5" y1="660.1" x2="253" y2="650.6" stroke="#8a9278" stroke-width="0.75"/><line x1="239.5" y1="662.1" x2="253" y2="652.6" stroke="#606a4a" stroke-width="0.75"/><line x1="239.5" y1="666.1" x2="253" y2="656.4" stroke="#b0b4a0" stroke-width="0.75"/><line x1="239.5" y1="670" x2="253" y2="660.3" stroke="#8a9278" stroke-width="0.75"/><line x1="239.5" y1="672" x2="253" y2="662.2" stroke="#b0b4a0" stroke-width="0.75"/><line x1="239.5" y1="674" x2="253" y2="664.2" stroke="#8a9278" stroke-width="0.75"/><line x1="253" y1="542.3" x2="268" y2="534.9" stroke="#5a80cc" stroke-width="0.75"/><line x1="253" y1="544.2" x2="268" y2="536.8" stroke="#88a8e0" stroke-width="0.75"/><line x1="253" y1="546.2" x2="268" y2="538.6" stroke="#88a8e0" stroke-width="0.75"/><line x1="253" y1="548.1" x2="268" y2="540.5" stroke="#5a80cc" stroke-width="0.75"/><line x1="253" y1="552" x2="268" y2="544.3" stroke="#5a80cc" stroke-width="0.75"/><line x1="253" y1="553.9" x2="268" y2="546.2" stroke="#88a8e0" stroke-width="0.75"/><line x1="253" y1="557.8" x2="268" y2="549.9" stroke="#5a80cc" stroke-width="0.75"/><line x1="253" y1="559.7" x2="268" y2="551.8" stroke="#88a8e0" stroke-width="0.75"/><line x1="253" y1="563.6" x2="268" y2="555.6" stroke="#88a8e0" stroke-width="0.75"/><line x1="253" y1="565.5" x2="268" y2="557.4" stroke="#b0c8ec" stroke-width="0.75"/><line x1="253" y1="567.5" x2="268" y2="559.3" stroke="#b0c8ec" stroke-width="0.75"/><line x1="253" y1="569.4" x2="268" y2="561.2" stroke="#5a80cc" stroke-width="0.75"/><line x1="253" y1="571.3" x2="268" y2="563.1" stroke="#b0c8ec" stroke-width="0.75"/><line x1="253" y1="573.3" x2="268" y2="565" stroke="#5a80cc" stroke-width="0.75"/><line x1="253" y1="575.2" x2="268" y2="566.8" stroke="#5a80cc" stroke-width="0.75"/><line x1="253" y1="577.1" x2="268" y2="568.7" stroke="#5a80cc" stroke-width="0.75"/><line x1="253" y1="579.1" x2="268" y2="570.6" stroke="#5a80cc" stroke-width="0.75"/><line x1="253" y1="581" x2="268" y2="572.5" stroke="#5a80cc" stroke-width="0.75"/><line x1="253" y1="582.9" x2="268" y2="574.3" stroke="#5a80cc" stroke-width="0.75"/><line x1="253" y1="584.9" x2="268" y2="576.2" stroke="#b0c8ec" stroke-width="0.75"/><line x1="253" y1="586.8" x2="268" y2="578.1" stroke="#88a8e0" stroke-width="0.75"/><line x1="253" y1="588.7" x2="268" y2="580" stroke="#88a8e0" stroke-width="0.75"/><line x1="253" y1="592.6" x2="268" y2="583.7" stroke="#b0c8ec" stroke-width="0.75"/><line x1="253" y1="594.5" x2="268" y2="585.6" stroke="#5a80cc" stroke-width="0.75"/><line x1="253" y1="596.5" x2="268" y2="587.5" stroke="#b0c8ec" stroke-width="0.75"/><line x1="253" y1="602.3" x2="268" y2="593.1" stroke="#88a8e0" stroke-width="0.75"/><line x1="253" y1="604.2" x2="268" y2="595" stroke="#5a80cc" stroke-width="0.75"/><line x1="253" y1="606.1" x2="268" y2="596.9" stroke="#5a80cc" stroke-width="0.75"/><line x1="253" y1="608.1" x2="268" y2="598.8" stroke="#5a80cc" stroke-width="0.75"/><line x1="253" y1="610" x2="268" y2="600.7" stroke="#5a80cc" stroke-width="0.75"/><line x1="253" y1="613.9" x2="268" y2="604.4" stroke="#88a8e0" stroke-width="0.75"/><line x1="253" y1="619.7" x2="268" y2="610" stroke="#88a8e0" stroke-width="0.75"/><line x1="253" y1="623.6" x2="268" y2="613.8" stroke="#88a8e0" stroke-width="0.75"/><line x1="253" y1="625.5" x2="268" y2="615.7" stroke="#5a80cc" stroke-width="0.75"/><line x1="253" y1="627.4" x2="268" y2="617.6" stroke="#5a80cc" stroke-width="0.75"/><line x1="253" y1="629.4" x2="268" y2="619.4" stroke="#88a8e0" stroke-width="0.75"/><line x1="253" y1="631.3" x2="268" y2="621.3" stroke="#88a8e0" stroke-width="0.75"/><line x1="253" y1="633.2" x2="268" y2="623.2" stroke="#88a8e0" stroke-width="0.75"/><line x1="253" y1="635.2" x2="268" y2="625.1" stroke="#88a8e0" stroke-width="0.75"/><line x1="253" y1="637.1" x2="268" y2="627" stroke="#88a8e0" stroke-width="0.75"/><line x1="253" y1="639" x2="268" y2="628.8" stroke="#5a80cc" stroke-width="0.75"/><line x1="253" y1="642.9" x2="268" y2="632.6" stroke="#5a80cc" stroke-width="0.75"/><line x1="253" y1="644.8" x2="268" y2="634.5" stroke="#5a80cc" stroke-width="0.75"/><line x1="253" y1="646.8" x2="268" y2="636.3" stroke="#b0c8ec" stroke-width="0.75"/><line x1="253" y1="648.7" x2="268" y2="638.2" stroke="#88a8e0" stroke-width="0.75"/><line x1="253" y1="650.6" x2="268" y2="640.1" stroke="#5a80cc" stroke-width="0.75"/><line x1="253" y1="652.6" x2="268" y2="642" stroke="#88a8e0" stroke-width="0.75"/><line x1="253" y1="654.5" x2="268" y2="643.9" stroke="#88a8e0" stroke-width="0.75"/><line x1="253" y1="656.4" x2="268" y2="645.7" stroke="#b0c8ec" stroke-width="0.75"/><line x1="253" y1="658.4" x2="268" y2="647.6" stroke="#5a80cc" stroke-width="0.75"/><line x1="253" y1="660.3" x2="268" y2="649.5" stroke="#b0c8ec" stroke-width="0.75"/><line x1="253" y1="662.2" x2="268" y2="651.4" stroke="#5a80cc" stroke-width="0.75"/><line x1="253" y1="664.2" x2="268" y2="653.3" stroke="#5a80cc" stroke-width="0.75"/><line x1="268" y1="534.9" x2="277" y2="530.4" stroke="#ec8888" stroke-width="0.75"/><line x1="268" y1="536.8" x2="277" y2="532.3" stroke="#f0b0b0" stroke-width="0.75"/><line x1="268" y1="540.5" x2="277" y2="536" stroke="#ec8888" stroke-width="0.75"/><line x1="268" y1="544.3" x2="277" y2="539.7" stroke="#e04848" stroke-width="0.75"/><line x1="268" y1="546.2" x2="277" y2="541.5" stroke="#f0b0b0" stroke-width="0.75"/><line x1="268" y1="548" x2="277" y2="543.4" stroke="#f0b0b0" stroke-width="0.75"/><line x1="268" y1="549.9" x2="277" y2="545.2" stroke="#f0b0b0" stroke-width="0.75"/><line x1="268" y1="551.8" x2="277" y2="547" stroke="#ec8888" stroke-width="0.75"/><line x1="268" y1="553.7" x2="277" y2="548.9" stroke="#f0b0b0" stroke-width="0.75"/><line x1="268" y1="555.6" x2="277" y2="550.7" stroke="#f0b0b0" stroke-width="0.75"/><line x1="268" y1="557.4" x2="277" y2="552.6" stroke="#ec8888" stroke-width="0.75"/><line x1="268" y1="559.3" x2="277" y2="554.4" stroke="#ec8888" stroke-width="0.75"/><line x1="268" y1="561.2" x2="277" y2="556.3" stroke="#e04848" stroke-width="0.75"/><line x1="268" y1="563.1" x2="277" y2="558.1" stroke="#ec8888" stroke-width="0.75"/><line x1="268" y1="565" x2="277" y2="560" stroke="#e04848" stroke-width="0.75"/><line x1="268" y1="566.8" x2="277" y2="561.8" stroke="#f0b0b0" stroke-width="0.75"/><line x1="268" y1="568.7" x2="277" y2="563.7" stroke="#f0b0b0" stroke-width="0.75"/><line x1="268" y1="570.6" x2="277" y2="565.5" stroke="#f0b0b0" stroke-width="0.75"/><line x1="268" y1="572.5" x2="277" y2="567.3" stroke="#f0b0b0" stroke-width="0.75"/><line x1="268" y1="574.3" x2="277" y2="569.2" stroke="#e04848" stroke-width="0.75"/><line x1="268" y1="578.1" x2="277" y2="572.9" stroke="#ec8888" stroke-width="0.75"/><line x1="268" y1="580" x2="277" y2="574.7" stroke="#e04848" stroke-width="0.75"/><line x1="268" y1="581.9" x2="277" y2="576.6" stroke="#f0b0b0" stroke-width="0.75"/><line x1="268" y1="583.7" x2="277" y2="578.4" stroke="#e04848" stroke-width="0.75"/><line x1="268" y1="585.6" x2="277" y2="580.3" stroke="#f0b0b0" stroke-width="0.75"/><line x1="268" y1="587.5" x2="277" y2="582.1" stroke="#f0b0b0" stroke-width="0.75"/><line x1="268" y1="589.4" x2="277" y2="584" stroke="#f0b0b0" stroke-width="0.75"/><line x1="268" y1="591.3" x2="277" y2="585.8" stroke="#f0b0b0" stroke-width="0.75"/><line x1="268" y1="593.1" x2="277" y2="587.7" stroke="#ec8888" stroke-width="0.75"/><line x1="268" y1="596.9" x2="277" y2="591.3" stroke="#f0b0b0" stroke-width="0.75"/><line x1="268" y1="600.7" x2="277" y2="595" stroke="#e04848" stroke-width="0.75"/><line x1="268" y1="602.5" x2="277" y2="596.9" stroke="#e04848" stroke-width="0.75"/><line x1="268" y1="604.4" x2="277" y2="598.7" stroke="#e04848" stroke-width="0.75"/><line x1="268" y1="606.3" x2="277" y2="600.6" stroke="#ec8888" stroke-width="0.75"/><line x1="268" y1="610" x2="277" y2="604.3" stroke="#f0b0b0" stroke-width="0.75"/><line x1="268" y1="611.9" x2="277" y2="606.1" stroke="#f0b0b0" stroke-width="0.75"/><line x1="268" y1="613.8" x2="277" y2="608" stroke="#f0b0b0" stroke-width="0.75"/><line x1="268" y1="615.7" x2="277" y2="609.8" stroke="#ec8888" stroke-width="0.75"/><line x1="268" y1="617.6" x2="277" y2="611.6" stroke="#e04848" stroke-width="0.75"/><line x1="268" y1="619.4" x2="277" y2="613.5" stroke="#ec8888" stroke-width="0.75"/><line x1="268" y1="621.3" x2="277" y2="615.3" stroke="#e04848" stroke-width="0.75"/><line x1="268" y1="623.2" x2="277" y2="617.2" stroke="#e04848" stroke-width="0.75"/><line x1="268" y1="625.1" x2="277" y2="619" stroke="#f0b0b0" stroke-width="0.75"/><line x1="268" y1="627" x2="277" y2="620.9" stroke="#ec8888" stroke-width="0.75"/><line x1="268" y1="628.8" x2="277" y2="622.7" stroke="#ec8888" stroke-width="0.75"/><line x1="268" y1="632.6" x2="277" y2="626.4" stroke="#ec8888" stroke-width="0.75"/><line x1="268" y1="634.5" x2="277" y2="628.3" stroke="#f0b0b0" stroke-width="0.75"/><line x1="268" y1="636.3" x2="277" y2="630.1" stroke="#ec8888" stroke-width="0.75"/><line x1="268" y1="638.2" x2="277" y2="631.9" stroke="#e04848" stroke-width="0.75"/><line x1="268" y1="640.1" x2="277" y2="633.8" stroke="#ec8888" stroke-width="0.75"/><line x1="268" y1="642" x2="277" y2="635.6" stroke="#f0b0b0" stroke-width="0.75"/><line x1="268" y1="643.9" x2="277" y2="637.5" stroke="#ec8888" stroke-width="0.75"/><line x1="268" y1="645.7" x2="277" y2="639.3" stroke="#f0b0b0" stroke-width="0.75"/><line x1="268" y1="647.6" x2="277" y2="641.2" stroke="#f0b0b0" stroke-width="0.75"/><line x1="268" y1="649.5" x2="277" y2="643" stroke="#e04848" stroke-width="0.75"/><line x1="268" y1="651.4" x2="277" y2="644.9" stroke="#f0b0b0" stroke-width="0.75"/><line x1="268" y1="653.3" x2="277" y2="646.7" stroke="#e04848" stroke-width="0.75"/><line x1="277" y1="530.4" x2="302" y2="518.1" stroke="#dcdc48" stroke-width="0.75"/><line x1="277" y1="532.3" x2="302" y2="519.8" stroke="#e4e860" stroke-width="0.75"/><line x1="277" y1="534.1" x2="302" y2="521.6" stroke="#dcdc48" stroke-width="0.75"/><line x1="277" y1="536" x2="302" y2="523.3" stroke="#dcdc48" stroke-width="0.75"/><line x1="277" y1="537.8" x2="302" y2="525.1" stroke="#f4f4a8" stroke-width="0.75"/><line x1="277" y1="541.5" x2="302" y2="528.6" stroke="#e4e860" stroke-width="0.75"/><line x1="277" y1="543.4" x2="302" y2="530.3" stroke="#dcdc48" stroke-width="0.75"/><line x1="277" y1="545.2" x2="302" y2="532.1" stroke="#dcdc48" stroke-width="0.75"/><line x1="277" y1="547" x2="302" y2="533.8" stroke="#f4f4a8" stroke-width="0.75"/><line x1="277" y1="548.9" x2="302" y2="535.6" stroke="#dcdc48" stroke-width="0.75"/><line x1="277" y1="552.6" x2="302" y2="539.1" stroke="#e4e860" stroke-width="0.75"/><line x1="277" y1="556.3" x2="302" y2="542.6" stroke="#f4f4a8" stroke-width="0.75"/><line x1="277" y1="558.1" x2="302" y2="544.4" stroke="#dcdc48" stroke-width="0.75"/><line x1="277" y1="560" x2="302" y2="546.1" stroke="#dcdc48" stroke-width="0.75"/><line x1="277" y1="563.7" x2="302" y2="549.6" stroke="#e4e860" stroke-width="0.75"/><line x1="277" y1="565.5" x2="302" y2="551.4" stroke="#dcdc48" stroke-width="0.75"/><line x1="277" y1="567.3" x2="302" y2="553.1" stroke="#e4e860" stroke-width="0.75"/><line x1="277" y1="569.2" x2="302" y2="554.9" stroke="#e4e860" stroke-width="0.75"/><line x1="277" y1="572.9" x2="302" y2="558.4" stroke="#e4e860" stroke-width="0.75"/><line x1="277" y1="576.6" x2="302" y2="561.9" stroke="#dcdc48" stroke-width="0.75"/><line x1="277" y1="578.4" x2="302" y2="563.6" stroke="#e4e860" stroke-width="0.75"/><line x1="277" y1="580.3" x2="302" y2="565.4" stroke="#f4f4a8" stroke-width="0.75"/><line x1="277" y1="582.1" x2="302" y2="567.2" stroke="#f4f4a8" stroke-width="0.75"/><line x1="277" y1="584" x2="302" y2="568.9" stroke="#dcdc48" stroke-width="0.75"/><line x1="277" y1="585.8" x2="302" y2="570.7" stroke="#e4e860" stroke-width="0.75"/><line x1="277" y1="587.7" x2="302" y2="572.4" stroke="#dcdc48" stroke-width="0.75"/><line x1="277" y1="589.5" x2="302" y2="574.2" stroke="#e4e860" stroke-width="0.75"/><line x1="277" y1="591.3" x2="302" y2="575.9" stroke="#e4e860" stroke-width="0.75"/><line x1="277" y1="596.9" x2="302" y2="581.2" stroke="#dcdc48" stroke-width="0.75"/><line x1="277" y1="600.6" x2="302" y2="584.7" stroke="#f4f4a8" stroke-width="0.75"/><line x1="277" y1="602.4" x2="302" y2="586.4" stroke="#e4e860" stroke-width="0.75"/><line x1="277" y1="604.3" x2="302" y2="588.2" stroke="#f4f4a8" stroke-width="0.75"/><line x1="277" y1="606.1" x2="302" y2="589.9" stroke="#dcdc48" stroke-width="0.75"/><line x1="277" y1="608" x2="302" y2="591.7" stroke="#e4e860" stroke-width="0.75"/><line x1="277" y1="609.8" x2="302" y2="593.4" stroke="#f4f4a8" stroke-width="0.75"/><line x1="277" y1="611.6" x2="302" y2="595.2" stroke="#e4e860" stroke-width="0.75"/><line x1="277" y1="613.5" x2="302" y2="597" stroke="#f4f4a8" stroke-width="0.75"/><line x1="277" y1="615.3" x2="302" y2="598.7" stroke="#f4f4a8" stroke-width="0.75"/><line x1="277" y1="617.2" x2="302" y2="600.5" stroke="#dcdc48" stroke-width="0.75"/><line x1="277" y1="619" x2="302" y2="602.2" stroke="#e4e860" stroke-width="0.75"/><line x1="277" y1="620.9" x2="302" y2="604" stroke="#f4f4a8" stroke-width="0.75"/><line x1="277" y1="622.7" x2="302" y2="605.7" stroke="#dcdc48" stroke-width="0.75"/><line x1="277" y1="624.6" x2="302" y2="607.5" stroke="#dcdc48" stroke-width="0.75"/><line x1="277" y1="626.4" x2="302" y2="609.2" stroke="#f4f4a8" stroke-width="0.75"/><line x1="277" y1="628.3" x2="302" y2="611" stroke="#e4e860" stroke-width="0.75"/><line x1="277" y1="630.1" x2="302" y2="612.7" stroke="#f4f4a8" stroke-width="0.75"/><line x1="277" y1="631.9" x2="302" y2="614.5" stroke="#dcdc48" stroke-width="0.75"/><line x1="277" y1="633.8" x2="302" y2="616.2" stroke="#e4e860" stroke-width="0.75"/><line x1="277" y1="635.6" x2="302" y2="618" stroke="#f4f4a8" stroke-width="0.75"/><line x1="277" y1="637.5" x2="302" y2="619.7" stroke="#dcdc48" stroke-width="0.75"/><line x1="277" y1="639.3" x2="302" y2="621.5" stroke="#dcdc48" stroke-width="0.75"/><line x1="277" y1="641.2" x2="302" y2="623.2" stroke="#dcdc48" stroke-width="0.75"/><line x1="277" y1="643" x2="302" y2="625" stroke="#dcdc48" stroke-width="0.75"/><line x1="277" y1="644.9" x2="302" y2="626.8" stroke="#e4e860" stroke-width="0.75"/><line x1="277" y1="646.7" x2="302" y2="628.5" stroke="#f4f4a8" stroke-width="0.75"/><line x1="302" y1="601.9" x2="345" y2="596.6" stroke="#f0c0a0" stroke-width="0.5"/><line x1="302" y1="604.8" x2="345" y2="596.7" stroke="#f0c0a0" stroke-width="0.5"/><line x1="302" y1="607.7" x2="345" y2="596.9" stroke="#f0c0a0" stroke-width="0.5"/><line x1="302" y1="610.6" x2="345" y2="597" stroke="#f0c0a0" stroke-width="0.5"/><line x1="302" y1="613.5" x2="345" y2="597.2" stroke="#e8c8e8" stroke-width="0.5"/><line x1="302" y1="616.4" x2="345" y2="597.3" stroke="#f0c0a0" stroke-width="0.5"/><line x1="302" y1="619.3" x2="345" y2="597.5" stroke="#f0c0a0" stroke-width="0.5"/><line x1="302" y1="622.2" x2="345" y2="597.6" stroke="#f0c0a0" stroke-width="0.5"/><line x1="302" y1="625.1" x2="345" y2="597.8" stroke="#f0c0a0" stroke-width="0.5"/><line x1="302" y1="627.9" x2="345" y2="597.9" stroke="#e8c8e8" stroke-width="0.5"/><polygon points="302.3,517 344.6,496.2 344.6,598 302.3,600" fill="#6c3aa8"/><path stroke="#a88ad6" stroke-width="1.0" fill="none" d="M302.3 518.9L307.5 516.4M310 515.2L316.3 512.1M318.9 510.9L325.5 507.7M328 506.5L334.7 503.2M337.2 502L342 499.7M344.5 498.5L344.6 498.5M304.8 520.8L311.2 517.8M313.8 516.6L320.1 513.7M322.6 512.5L329.2 509.4M331.8 508.2L336.2 506.2M338.7 505L343.1 502.9M302.3 525L307.6 522.7M310.1 521.5L316.5 518.7M319 517.5L325 514.8M327.5 513.7L332.8 511.3M335.3 510.2L341.3 507.5M343.8 506.3L344.6 506M304.8 527L311.2 524.3M313.7 523.2L318.7 521M321.2 519.9L327.4 517.2M329.9 516.1L334.5 514.1M337.1 513L342.8 510.6M302.3 531.2L307.3 529.1M309.9 528L314.9 525.9M317.5 524.8L322.4 522.8M324.9 521.7L329.2 519.9M331.8 518.9L336.2 517M338.8 516L344.6 513.5M304.8 533.2L310.8 530.9M313.3 529.8L319.2 527.5M321.7 526.5L327.1 524.3M329.6 523.3L335.3 521M337.9 520L344.1 517.5M302.3 537.3L309 534.7M311.6 533.8L316.8 531.8M319.3 530.8L325.5 528.4M328 527.5L334.3 525M336.8 524.1L343.2 521.6M304.8 539.5L310.8 537.3M313.3 536.4L318.1 534.6M320.7 533.7L326.9 531.3M329.5 530.4L335.1 528.3M337.7 527.4L343.8 525.2M302.3 543.5L308.4 541.3M311 540.4L315.7 538.8M318.3 537.9L322.7 536.3M325.2 535.4L331.4 533.3M334 532.4L339.9 530.3M342.4 529.4L344.6 528.6M304.8 545.7L309.2 544.2M311.7 543.4L317 541.6M319.6 540.8L325.5 538.8M328 537.9L332.5 536.4M335.1 535.6L341.1 533.6M343.6 532.7L344.6 532.4M302.3 549.6L308.2 547.7M310.7 546.9L315.6 545.4M318.2 544.6L323 543M325.5 542.2L330.1 540.8M332.7 540L338.6 538.1M341.2 537.2L344.6 536.2M304.8 551.9L309.2 550.6M311.8 549.8L316.3 548.5M318.8 547.7L325.2 545.8M327.7 545L332.6 543.5M335.2 542.8L341.7 540.8M344.3 540L344.6 539.9M302.3 555.8L308.6 554M311.1 553.2L315.7 551.9M318.2 551.2L322.7 549.9M325.3 549.2L331.6 547.4M334.1 546.7L339.4 545.2M342 544.5L344.6 543.7M304.8 558.1L309.3 556.9M311.9 556.3L316.8 554.9M319.4 554.3L324.2 552.9M326.8 552.3L331.1 551.1M333.6 550.4L339.7 548.8M342.2 548.1L344.6 547.5M302.3 561.9L307.3 560.7M309.8 560L315.8 558.5M318.3 557.9L324.5 556.3M327 555.7L333.2 554.1M335.8 553.5L340.6 552.3M343.2 551.6L344.6 551.2M304.8 564.4L310.6 563M313.2 562.4L319.5 560.9M322 560.3L328.1 558.9M330.6 558.3L336.7 556.9M339.3 556.3L344.6 555M302.3 568L308.4 566.7M310.9 566.2L317.4 564.7M320 564.2L325.8 562.9M328.3 562.4L332.9 561.4M335.4 560.8L341.8 559.4M344.3 558.9L344.6 558.8M304.8 570.6L309.1 569.7M311.6 569.2L316.6 568.2M319.2 567.7L324.3 566.7M326.9 566.1L333.6 564.8M336.1 564.3L342.2 563M302.3 574.2L307.6 573.2M310.2 572.7L315.9 571.7M318.4 571.2L323.7 570.2M326.2 569.7L332.7 568.5M335.3 568.1L341.1 567M343.6 566.5L344.6 566.3M304.8 576.8L311.4 575.7M314 575.3L320.3 574.2M322.8 573.8L328.1 572.9M330.6 572.5L337.3 571.3M339.8 570.9L344.2 570.2M302.3 580.3L308.8 579.4M311.3 579L316.7 578.1M319.2 577.8L324.7 576.9M327.2 576.5L333.7 575.5M336.2 575.2L341.5 574.3M344.1 574L344.6 573.9M304.8 583.1L309.7 582.4M312.2 582.1L318.2 581.2M320.7 580.9L326.8 580.1M329.3 579.7L335.2 578.9M337.8 578.6L342.4 577.9M302.3 586.5L308.7 585.7M311.3 585.4L316.8 584.7M319.3 584.4L323.8 583.9M326.4 583.6L331.1 583M333.7 582.7L338.2 582.2M340.7 581.9L344.6 581.4M304.8 589.3L310.4 588.7M312.9 588.5L319.1 587.8M321.6 587.6L327.6 586.9M330.1 586.7L336.8 586M339.4 585.7L344.6 585.2M302.3 592.6L308.1 592.1M310.6 591.9L317.1 591.3M319.6 591.1L326.1 590.6M328.7 590.3L334.2 589.9M336.7 589.6L343.1 589.1M304.8 595.5L310.5 595.1M313 594.9L319.2 594.5M321.7 594.3L328 593.9M330.5 593.7L337.1 593.3M339.6 593.1L344.6 592.7M302.3 598.8L306.7 598.5M309.3 598.4L313.7 598.2M316.2 598L322.2 597.7M324.8 597.6L330.5 597.2M333.1 597.1L339.4 596.8M342 596.6L344.6 596.5"/><line x1="312.4" y1="512.1" x2="312.4" y2="599.5" stroke="#f4eefa" stroke-width="0.9"/><polygon points="142.5,516 239.5,548 239.5,675 142.5,636" fill="#fafafa"/><g fill="none" transform="matrix(1 0.3299 0 1 142.5 516)"><path stroke="#e0e0e0" stroke-width="1.7" d="M2 0.8h1m2 0h2m3 0h3m2 0h1m1 0h1m11 0h1m1 0h1m2 0h1m4 0h1m2 0h2m29 0h1m11 0h1m4 0h1m2 0h1M4 2.4h4m2 0h2m5 0h1m11 0h1m3 0h2m8 0h1m8 0h1m2 0h1m6 0h1m4 0h1m9 0h1m3 0h1m4 0h1M3 4h1m1 0h2m2 0h1m2 0h1m2 0h1m1 0h1m4 0h1m6 0h3m1 0h1m5 0h1m3 0h1m8 0h1m14 0h1m13 0h1m8 0h1m2 0h1M5 5.6h2m3 0h2m8 0h2m7 0h1m1 0h1m7 0h1m3 0h1m8 0h1m14 0h1m9 0h1m3 0h1m3 0h1m7 0h1M1 7.2h1m3 0h2m3 0h2m13 0h1m3 0h3m7 0h1m12 0h2m1 0h1m5 0h1m5 0h1m5 0h1m3 0h1m3 0h1m5 0h1M5 8.8h2m3 0h1m6 0h1m11 0h1m1 0h1m1 0h2m4 0h1m8 0h1m2 0h2m6 0h1m2 0h1m4 0h1m9 0h1m3 0h1M6 10.4h1m3 0h1m14 0h1m5 0h1m7 0h1m3 0h1m8 0h1m14 0h1m6 0h1m6 0h1m11 0h1m1 0h1M1 12h1m4 0h1m3 0h2m13 0h1m5 0h1m1 0h2m7 0h1m9 0h1m2 0h2m10 0h2m3 0h1m1 0h1m6 0h1m1 0h1M6 13.6h1m3 0h3m2 0h1m13 0h1m1 0h1m1 0h2m8 0h1m23 0h1m6 0h1m4 0h1m13 0h1m1 0h1M0 15.2h1m4 0h2m3 0h3m4 0h1m3 0h1m7 0h1m1 0h1m2 0h1m4 0h1m2 0h1m2 0h1m5 0h2m2 0h1m11 0h1m6 0h1m6 0h1m8 0h2M5 16.8h2m3 0h2m3 0h1m15 0h1m2 0h1m4 0h1m2 0h2m11 0h1m11 0h1m4 0h1m3 0h2m3 0h1m3 0h1m7 0h1M0 18.4h1m5 0h1m10 0h1m11 0h1m1 0h1m2 0h1m13 0h1m3 0h1m2 0h1m1 0h1m4 0h1m9 0h1m1 0h1m16 0h1M4 20h3m10 0h1m2 0h2m11 0h2m1 0h2m4 0h2m3 0h1m15 0h1m10 0h1m18 0h1M6 21.6h1m3 0h1m4 0h1m5 0h1m7 0h2m2 0h2m4 0h1m5 0h1m6 0h1m14 0h1m4 0h1m1 0h1M5 23.2h2m3 0h1m4 0h1m13 0h3m1 0h1m3 0h1m1 0h1m2 0h2m4 0h1m6 0h1m3 0h1m7 0h1m3 0h1m2 0h1m15 0h1m2 0h1M6 24.8h1m3 0h2m3 0h1m1 0h1m3 0h1m7 0h1m9 0h1m3 0h1m6 0h1m4 0h1m3 0h1m12 0h1m4 0h1M5 26.4h1m1 0h1m2 0h1m4 0h1m1 0h1m3 0h1m5 0h1m3 0h1m1 0h2m2 0h1m1 0h1m3 0h1m6 0h1m1 0h1m2 0h1m6 0h1m4 0h1m6 0h1m2 0h1m3 0h1m11 0h1M6 28h1m2 0h1m5 0h1m13 0h1m1 0h1m1 0h2m7 0h1m9 0h1m2 0h1m11 0h1m6 0h1m2 0h1m3 0h1m11 0h1M1 29.6h1m4 0h1m10 0h1m11 0h1m1 0h1m1 0h2m4 0h1m2 0h2m4 0h1m18 0h1m5 0h1m19 0h1M4 31.2h3m8 0h1m1 0h1m13 0h1m7 0h1m2 0h2m23 0h1m6 0h1m4 0h1m1 0h1m5 0h1M6 32.8h2m7 0h1m1 0h1m4 0h1m4 0h1m1 0h1m6 0h2m1 0h1m2 0h2m8 0h1m2 0h2m10 0h1m4 0h2m3 0h1m3 0h1m4 0h1m5 0h2M1 34.4h1m3 0h2m2 0h4m2 0h1m1 0h1m11 0h1m3 0h2m7 0h2m11 0h1m12 0h1m5 0h1m6 0h1m8 0h2m1 0h1M6 36h1m3 0h2m3 0h1m1 0h1m6 0h2m4 0h2m1 0h1m5 0h1m3 0h1m7 0h2m2 0h1m11 0h1m4 0h1m1 0h1m2 0h1m15 0h1M2 37.6h1m7 0h1m4 0h1m1 0h1m11 0h1m1 0h1m1 0h2m4 0h1m2 0h2m8 0h1m2 0h1m11 0h1m13 0h1m5 0h1m2 0h1M5 39.2h2m8 0h1m3 0h1m9 0h1m3 0h2m4 0h1m2 0h2m4 0h1m3 0h1m2 0h1m11 0h1m1 0h1m11 0h1m11 0h1M7 40.8h1m2 0h1m4 0h1m9 0h1m4 0h1m2 0h2m7 0h2m21 0h1m1 0h1m4 0h3m6 0h1m3 0h1m7 0h1M5 42.4h2m3 0h2m3 0h1m1 0h1m11 0h1m1 0h1m1 0h2m8 0h1m8 0h1m2 0h1m18 0h1m10 0h1m7 0h1M5 44h2m3 0h1m10 0h1m7 0h3m1 0h1m5 0h1m2 0h1m5 0h1m18 0h1m19 0h1m5 0h1M6 45.6h1m2 0h2m6 0h1m3 0h1m9 0h1m7 0h1m3 0h1m11 0h1m5 0h1m12 0h1m15 0h1M6 47.2h1m3 0h2m5 0h1m11 0h1m1 0h1m1 0h1m8 0h2m6 0h1m1 0h1m2 0h1m11 0h1m4 0h1m1 0h1m18 0h1M5 48.8h2m10 0h1m1 0h2m8 0h3m1 0h2m7 0h2m11 0h1m11 0h1m1 0h1m11 0h1m9 0h1m1 0h1M6 50.4h1m2 0h3m8 0h1m10 0h1m1 0h2m4 0h1m3 0h1m12 0h2m1 0h1m7 0h1m6 0h1m4 0h1m1 0h2M4 52h1m5 0h1m4 0h1m2 0h1m10 0h1m3 0h2m4 0h1m3 0h1m8 0h1m2 0h1m7 0h1m1 0h1m1 0h1m3 0h1m17 0h3M3 53.6h1m2 0h1m3 0h3m4 0h1m11 0h1m12 0h1m9 0h1m14 0h1m4 0h1m1 0h1m6 0h1m11 0h1M10 55.2h1m4 0h1m13 0h1m1 0h1m1 0h2m4 0h1m2 0h1m6 0h1m2 0h1m2 0h1m11 0h1m6 0h1m2 0h1m3 0h1m5 0h1m3 0h1m1 0h1M5 56.8h2m8 0h1m13 0h1m1 0h1m2 0h1m4 0h1m2 0h1m9 0h1m2 0h2m17 0h1m6 0h1m7 0h1m3 0h1M6 58.4h1m4 0h1m3 0h1m2 0h1m14 0h2m4 0h1m2 0h2m3 0h1m11 0h1m2 0h2m7 0h1m2 0h1m6 0h1m1 0h1m9 0h1M3 60h1m5 0h1m1 0h2m4 0h1m1 0h2m8 0h1m1 0h1m2 0h1m1 0h1m5 0h1m9 0h1m21 0h1m6 0h1M1 61.6h1m3 0h1m4 0h1m4 0h1m1 0h1m11 0h1m1 0h1m1 0h2m7 0h1m2 0h1m3 0h1m2 0h1m2 0h1m11 0h1m6 0h1m2 0h1M6 63.2h1m3 0h1m6 0h2m10 0h1m1 0h1m1 0h2m8 0h1m8 0h1m20 0h2m6 0h1m3 0h1m4 0h2M3 64.8h3m11 0h2m1 0h1m10 0h1m1 0h2m7 0h2m5 0h1m2 0h2m1 0h1m11 0h1m6 0h1m4 0h1m1 0h2m10 0h1M5 66.4h2m10 0h1m9 0h1m3 0h1m1 0h2m4 0h1m8 0h1m3 0h1m2 0h1m16 0h1m1 0h1m6 0h1m8 0h1m2 0h1m2 0h1M5 68h2m3 0h2m3 0h1m1 0h1m13 0h1m1 0h2m6 0h1m13 0h1m11 0h1m6 0h1m2 0h1M5 69.6h2m3 0h1m4 0h1m17 0h2m4 0h1m2 0h2m11 0h1m15 0h4m2 0h1m3 0h1m4 0h1M5 71.2h2m3 0h3m4 0h1m11 0h1m3 0h2m4 0h1m2 0h2m3 0h1m7 0h1m1 0h1m9 0h1m13 0h1m8 0h2m1 0h1M5 72.8h2m3 0h1m19 0h2m1 0h2m4 0h1m3 0h1m11 0h1m9 0h1m1 0h1m9 0h1m3 0h1m4 0h1m6 0h1M10 74.4h1m4 0h1m1 0h1m11 0h3m7 0h1m2 0h1m9 0h1m14 0h1m4 0h1m3 0h1M2 76h1m1 0h3m3 0h2m3 0h1m1 0h1m7 0h1m3 0h1m3 0h2m7 0h2m8 0h1m2 0h1m11 0h2m3 0h1m1 0h1m15 0h1m1 0h2M1 77.6h3m1 0h2m3 0h1m2 0h1m1 0h1m1 0h1m11 0h1m1 0h1m1 0h2m7 0h2m5 0h1m2 0h2m1 0h2m17 0h1m2 0h1m15 0h1m2 0h1M5 79.2h2m3 0h2m5 0h1m13 0h1m2 0h1m8 0h1m11 0h1m21 0h1m15 0h1M7 80.8h1m2 0h3m2 0h1m1 0h1m13 0h1m1 0h2m4 0h1m2 0h2m8 0h1m2 0h2m10 0h1m6 0h1m2 0h1m17 0h1M5 82.4h2m3 0h1m4 0h1m6 0h1m8 0h1m1 0h2m7 0h1m31 0h1m6 0h1m7 0h1m3 0h1m1 0h1M3 84h1m1 0h2m3 0h3m7 0h2m7 0h1m9 0h1m2 0h2m8 0h1m6 0h1m21 0h1m1 0h1m5 0h1M4 85.6h4m2 0h2m3 0h1m1 0h2m11 0h2m7 0h1m2 0h1m9 0h1m2 0h1m9 0h1m1 0h1m1 0h1m4 0h1m6 0h1m11 0h1M5 87.2h2m8 0h1m1 0h1m2 0h1m8 0h1m3 0h2m4 0h1m3 0h1m8 0h1m4 0h1m5 0h1m17 0h1m11 0h1M0 88.8h7m8 0h1m15 0h1m1 0h2m4 0h1m2 0h1m8 0h2m2 0h1m12 0h1m5 0h1m10 0h1m3 0h2m4 0h1M5 90.4h1m11 0h1m2 0h2m8 0h2m1 0h2m4 0h1m2 0h2m7 0h2m2 0h1m1 0h1m13 0h1m2 0h1m6 0h1m11 0h1M5 92h2m8 0h1m1 0h1m11 0h1m1 0h1m7 0h1m2 0h2m7 0h2m2 0h1m1 0h1m1 0h1m7 0h1m6 0h1m18 0h1M2 93.6h4m1 0h1m7 0h1m1 0h1m3 0h1m7 0h1m1 0h1m1 0h2m4 0h1m1 0h2m9 0h1m3 0h1m11 0h1m5 0h1m2 0h1m3 0h1m11 0h1M0 95.2h1m4 0h2m15 0h1m6 0h1m1 0h1m2 0h1m4 0h1m2 0h2m1 0h1m2 0h1m18 0h1m1 0h1m1 0h1m2 0h1m6 0h2m4 0h1M2 96.8h1m3 0h1m3 0h1m6 0h1m11 0h3m1 0h2m1 0h2m1 0h1m2 0h1m5 0h1m3 0h1m3 0h1m6 0h1m1 0h1m1 0h1m3 0h1m9 0h1m4 0h1m3 0h1m2 0h1M10 98.4h1m7 0h1m10 0h1m1 0h1m1 0h2m4 0h1m1 0h2m8 0h1m3 0h1m11 0h1m6 0h1m2 0h1m3 0h1m5 0h1m1 0h1m3 0h1M6 100h1m3 0h3m2 0h1m1 0h1m11 0h1m7 0h1m1 0h1m2 0h2m4 0h2m19 0h1m4 0h1m6 0h1M10 101.6h3m2 0h1m3 0h3m7 0h1m1 0h1m1 0h2m17 0h2m18 0h1m1 0h1m2 0h1m3 0h1m3 0h1m7 0h1M5 103.2h2m3 0h3m5 0h1m12 0h1m1 0h2m2 0h1m1 0h1m2 0h2m30 0h1m10 0h1m4 0h1m2 0h1m2 0h1M1 104.8h1m3 0h3m3 0h1m12 0h1m2 0h1m1 0h1m1 0h1m2 0h1m8 0h1m6 0h1m1 0h1m3 0h1m14 0h1m2 0h1m2 0h1m1 0h1m1 0h1M2 106.4h1m3 0h1m3 0h1m13 0h1m4 0h1m1 0h1m1 0h1m8 0h2m5 0h1m5 0h1m18 0h1m2 0h1m3 0h1m11 0h1m2 0h1M0 108h1m4 0h2m3 0h2m3 0h1m8 0h1m6 0h1m1 0h2m4 0h1m3 0h1m9 0h1m1 0h1m9 0h1m1 0h1m1 0h1m4 0h1m2 0h1m3 0h1m4 0h1m3 0h1m2 0h1M5 109.6h2m3 0h2m1 0h1m5 0h3m7 0h1m3 0h2m4 0h1m2 0h1m4 0h1m14 0h1m18 0h1m1 0h1m9 0h1M5 111.2h2m3 0h2m1 0h1m1 0h1m2 0h1m10 0h2m2 0h2m7 0h2m7 0h2m24 0h1m1 0h1m9 0h1m1 0h2m2 0h1M0 112.8h3m2 0h2m3 0h1m2 0h1m1 0h1m3 0h1m9 0h1m1 0h1m1 0h2m4 0h1m3 0h1m9 0h1m1 0h1m1 0h1m5 0h1m3 0h1m6 0h1m18 0h1M4 114.4h3m3 0h1m4 0h1m1 0h1m11 0h1m3 0h1m8 0h2m7 0h2m14 0h1m4 0h1m1 0h1m2 0h1m14 0h2M5 116h1m1 0h1m2 0h1m4 0h1m1 0h1m15 0h1m2 0h2m1 0h1m2 0h2m1 0h1m1 0h1m4 0h1m2 0h1m17 0h1m3 0h1m3 0h1m11 0h1M5 117.6h1m4 0h2m5 0h1m9 0h1m3 0h1m1 0h2m4 0h1m2 0h2m3 0h1m5 0h1m1 0h1m17 0h2m2 0h1m4 0h1m10 0h1M2 119.2h1m2 0h2m2 0h1m1 0h1m9 0h1m3 0h1m5 0h1m1 0h2m7 0h2m4 0h1m16 0h1m8 0h1m21 0h1"/><path stroke="#c4c4c4" stroke-width="1.7" d="M3 0.8h1m15 0h3m3 0h1m29 0h2m4 0h3m1 0h1M0 2.4h2m11 0h1m7 0h1m14 0h2m10 0h1m16 0h1m10 0h1m16 0h1M0 4h1m3 0h1m16 0h1m20 0h1m5 0h1m4 0h1m2 0h1m6 0h1m1 0h1m6 0h2m2 0h1M0 5.6h1m47 0h1m7 0h1m6 0h1m1 0h1m20 0h1M0 7.2h1m2 0h1m9 0h1m10 0h1m22 0h1m8 0h2m5 0h1m1 0h1m13 0h1M11 8.8h1m1 0h1m5 0h1m1 0h1m23 0h1m3 0h1m15 0h1m10 0h1m8 0h2m3 0h1m5 0h1M0 10.4h2m1 0h1m7 0h1m8 0h2m26 0h1m4 0h1m2 0h1m6 0h1m5 0h1m6 0h1m6 0h1M0 12h1m2 0h3m7 0h1m7 0h1m7 0h1m11 0h1m1 0h1m4 0h2m9 0h1m3 0h1m1 0h1m10 0h2m7 0h1m10 0h1M19 13.6h4m25 0h2m6 0h1m6 0h1m8 0h1m3 0h2m14 0h1M41 15.2h1m20 0h2m1 0h1m10 0h2m18 0h1M0 16.8h1m1 0h2m9 0h1m6 0h2m26 0h1m3 0h1m3 0h1m6 0h1m1 0h1m17 0h1m6 0h3M3 18.4h1m1 0h1m9 0h1m5 0h1m34 0h1m6 0h1m3 0h1M0 20h1m23 0h1m2 0h1m20 0h1m3 0h1m2 0h2m8 0h1m10 0h2m17 0h1M0 21.6h1m2 0h1m1 0h1m3 0h1m1 0h3m34 0h2m3 0h1m1 0h2m5 0h2M11 23.2h1m9 0h1m2 0h2m30 0h1m8 0h1m10 0h2M0 24.8h1m1 0h1m2 0h1m7 0h1m31 0h1m2 0h2m7 0h1m5 0h1m1 0h1m5 0h1m4 0h1m10 0h1m8 0h1M0 26.4h2m2 0h1m8 0h1m16 0h1m17 0h1m7 0h1m6 0h1m1 0h1m24 0h1m5 0h1M0 28h1m2 0h3m4 0h3m7 0h1m3 0h2m4 0h1m16 0h3m6 0h1m5 0h2m12 0h1m9 0h1M0 29.6h1m2 0h1m6 0h3m2 0h1m4 0h2m14 0h1m26 0h1m8 0h1m3 0h1M0 31.2h2m8 0h2m1 0h1m7 0h1m2 0h2m22 0h2m1 0h2m3 0h1m2 0h1m3 0h1m1 0h1m10 0h1m12 0h1M0 32.8h1m2 0h1m5 0h1m3 0h1m17 0h1m15 0h1m5 0h1m9 0h1m12 0h1m6 0h1M0 34.4h1m2 0h1m9 0h1m17 0h1m16 0h1m14 0h1m12 0h2m5 0h1m11 0h1M0 36h1m4 0h1m7 0h1m6 0h2m5 0h1m1 0h1m18 0h1m7 0h2m7 0h1m10 0h1m18 0h1M0 37.6h2m1 0h1m7 0h1m1 0h1m35 0h1m1 0h1m4 0h1m6 0h1m10 0h1m1 0h1M0 39.2h4m6 0h3m8 0h1m34 0h1m6 0h1m9 0h1m2 0h1M0 40.8h1m10 0h1m1 0h1m7 0h1m7 0h1m18 0h1m7 0h1m6 0h1M0 42.4h1m12 0h1m5 0h1m2 0h1m25 0h1m7 0h1m6 0h1m17 0h1m4 0h1m2 0h1M0 44h1m1 0h1m4 0h1m7 0h1m35 0h2m2 0h1m3 0h1m5 0h1m10 0h2M3 45.6h3m5 0h1m1 0h1m34 0h1m7 0h1m6 0h1m3 0h2m17 0h1M0 47.2h1m2 0h3m7 0h1m7 0h1m8 0h1m5 0h1m11 0h2m6 0h1m5 0h1m2 0h1m2 0h1m7 0h2m14 0h1m3 0h1M0 48.8h1m2 0h2m5 0h3m8 0h1m26 0h1m3 0h1m3 0h1m6 0h1m10 0h1M0 50.4h2m11 0h1m7 0h1m8 0h1m32 0h1m1 0h1m10 0h1m19 0h1M0 52h2m11 0h1m34 0h1m7 0h1m15 0h2m2 0h2M0 53.6h2m5 0h1m5 0h1m7 0h2m25 0h2m6 0h1m5 0h2m1 0h1m25 0h1m3 0h1M0 55.2h1m2 0h4m4 0h3m6 0h2m19 0h1m6 0h1m7 0h1m6 0h1m1 0h1m2 0h1m21 0h1m4 0h1M0 56.8h1m1 0h3m6 0h1m1 0h1m3 0h1m3 0h1m26 0h1m14 0h1m1 0h1m10 0h2m9 0h1M0 58.4h2m11 0h1m7 0h1m23 0h1m2 0h2m6 0h1m19 0h1m19 0h1M0 60h2m11 0h1m13 0h1m15 0h1m1 0h1m2 0h2m5 0h1m1 0h1m4 0h2m1 0h1m6 0h1m3 0h2M0 61.6h1m2 0h2m6 0h1m1 0h1m16 0h1m17 0h1m7 0h1m8 0h1m5 0h1m14 0h1M0 63.2h1m10 0h1m1 0h1m1 0h1m5 0h1m26 0h2m1 0h1m4 0h1m6 0h1m1 0h1m6 0h1m3 0h1M0 64.8h1m6 0h1m2 0h4m8 0h1m25 0h1m7 0h1m6 0h1m7 0h1m4 0h1m9 0h1M0 66.4h2m8 0h2m7 0h1m36 0h1m8 0h1m1 0h1m3 0h1M0 68h4m9 0h1m22 0h2m1 0h1m16 0h1m6 0h1m1 0h1m10 0h1m14 0h1M0 69.6h1m2 0h1m7 0h3m15 0h1m1 0h1m4 0h1m11 0h2m6 0h1m6 0h1m1 0h1m10 0h1m12 0h1M0 71.2h1m2 0h1m9 0h1m1 0h1m3 0h2m3 0h2m4 0h1m22 0h1m9 0h1m1 0h1m2 0h1m7 0h2m5 0h1m12 0h1M0 72.8h5m6 0h1m1 0h1m7 0h1m2 0h2m1 0h1m20 0h1m7 0h1m5 0h2m12 0h1m10 0h1M0 74.4h6m5 0h1m7 0h2m1 0h1m20 0h1m4 0h1m2 0h1m1 0h1m2 0h1m6 0h1m1 0h1m7 0h1m7 0h1M0 76h1m2 0h1m9 0h1m7 0h1m34 0h1m6 0h1m1 0h1m10 0h2M0 77.6h1m10 0h2m6 0h1m28 0h1m14 0h1m1 0h1m10 0h1m6 0h1M0 79.2h1m2 0h2m8 0h1m28 0h1m5 0h1m3 0h1m3 0h2m7 0h1m10 0h1m18 0h2M0 80.8h1m1 0h2m5 0h1m3 0h1m5 0h3m29 0h1m9 0h1m3 0h1m7 0h1m12 0h1m3 0h3m3 0h1M0 82.4h1m2 0h1m7 0h2m6 0h1m9 0h1m13 0h1m8 0h1m2 0h1m1 0h1m5 0h1m4 0h1m7 0h2m12 0h2M0 84h1m3 0h1m31 0h1m11 0h2m3 0h1m2 0h1m16 0h1m19 0h1M0 85.6h2m1 0h1m17 0h1m19 0h1m3 0h1m2 0h1m27 0h2m5 0h1M0 87.2h2m1 0h2m6 0h2m18 0h1m16 0h2m6 0h1m19 0h2m9 0h1M13 88.8h1m34 0h2m6 0h1m6 0h1m1 0h1m6 0h1m3 0h2m14 0h1M0 90.4h1m2 0h1m2 0h1m15 0h1m6 0h1m18 0h1m7 0h1m8 0h1m10 0h1M0 92h4m3 0h1m3 0h2m7 0h2m8 0h1m3 0h1m21 0h1m8 0h1m10 0h2m9 0h1m3 0h1M6 93.6h1m3 0h2m1 0h1m11 0h1m22 0h1m14 0h1m1 0h1m5 0h1m15 0h1m1 0h1M2 95.2h2m5 0h3m1 0h1m35 0h1m5 0h2m6 0h1m12 0h2m12 0h1M0 96.8h1m2 0h1m7 0h2m6 0h1m1 0h1m3 0h1m23 0h1m5 0h1m12 0h1m7 0h2M11 98.4h1m1 0h1m3 0h1m4 0h1m24 0h3m6 0h1m2 0h1m5 0h1m10 0h1M3 100h1m17 0h2m4 0h1m35 0h1m1 0h1m5 0h1m4 0h2m14 0h1M6 101.6h2m5 0h1m10 0h1m11 0h1m19 0h1m5 0h2m1 0h1m2 0h1M0 103.2h1m2 0h2m8 0h1m7 0h1m26 0h2m1 0h2m3 0h2m1 0h1m16 0h2m14 0h1M10 104.8h1m2 0h1m1 0h1m3 0h1m28 0h1m2 0h1m5 0h1m7 0h1m10 0h1m8 0h1M0 106.4h1m12 0h1m7 0h1m12 0h1m21 0h1m6 0h1m1 0h1m1 0h1m8 0h1m10 0h1M21 108h1m7 0h1m12 0h1m5 0h1m7 0h1m11 0h1m3 0h1m12 0h1m9 0h1M0 109.6h1m1 0h2m11 0h1m32 0h2m6 0h1m6 0h1m1 0h1m6 0h3m14 0h1M21 111.2h1m17 0h1m8 0h1m7 0h1m5 0h2m4 0h1m5 0h1m11 0h1M3 112.8h1m7 0h1m9 0h1m26 0h2m6 0h1m8 0h1m2 0h1m7 0h2M13 114.4h1m20 0h1m13 0h2m5 0h1m7 0h1m1 0h1m10 0h1M3 116h1m9 0h1m6 0h2m7 0h1m19 0h1m1 0h1m11 0h1m12 0h1m13 0h1m1 0h1M0 117.6h2m4 0h1m8 0h1m5 0h1m26 0h1m7 0h1m5 0h2m7 0h2m12 0h2m3 0h2M0 119.2h1m2 0h2m14 0h2m18 0h1m16 0h1m6 0h1m12 0h1m18 0h1"/><path stroke="#1c7a32" stroke-width="1.7" d="M8 0.8h1m5 0h1m1 0h1m11 0h1m3 0h1m2 0h2m1 0h1m1 0h2m2 0h3m6 0h2m5 0h1m3 0h1m2 0h1m2 0h2m6 0h3m3 0h1m2 0h2m5 0h2M8 2.4h1m5 0h3m6 0h1m1 0h2m1 0h1m6 0h1m2 0h4m2 0h3m2 0h1m4 0h1m5 0h1m3 0h1m5 0h2m6 0h1m1 0h1m4 0h1m1 0h3m4 0h2M8 4h1m4 0h2m1 0h1m6 0h4m1 0h1m6 0h2m1 0h1m1 0h2m2 0h1m1 0h1m2 0h1m4 0h1m5 0h1m3 0h1m5 0h1m9 0h1m3 0h2m1 0h2m5 0h2M8 5.6h2m4 0h1m1 0h2m5 0h6m4 0h6m1 0h2m2 0h2m3 0h1m4 0h1m5 0h1m3 0h1m5 0h2m6 0h1m1 0h1m3 0h1m2 0h2m5 0h2M8 7.2h1m5 0h1m1 0h1m9 0h1m1 0h1m6 0h4m1 0h2m1 0h2m9 0h1m3 0h1m5 0h1m5 0h2m4 0h1m1 0h1m1 0h1m3 0h2m2 0h1m5 0h2M23 8.8h4m1 0h1m6 0h2m1 0h1m1 0h1m3 0h1m9 0h2m4 0h1m3 0h1m5 0h2m2 0h1m3 0h1m1 0h1m3 0h1m2 0h2m5 0h2M8 10.4h1m5 0h1m1 0h1m6 0h2m1 0h1m1 0h1m6 0h4m1 0h2m2 0h1m4 0h1m4 0h1m2 0h1m2 0h1m3 0h1m5 0h1m7 0h1m1 0h1m3 0h2m1 0h2m5 0h1M8 12h1m5 0h3m6 0h2m1 0h1m1 0h1m6 0h3m2 0h1m3 0h1m9 0h1m3 0h1m1 0h1m3 0h1m5 0h2m3 0h1m4 0h1m3 0h1m3 0h1m5 0h2M8 13.6h1m5 0h1m1 0h1m6 0h6m6 0h4m1 0h2m2 0h1m9 0h1m3 0h1m1 0h1m3 0h1m5 0h2m6 0h1m1 0h1m3 0h1m3 0h1m5 0h1M8 15.2h1m5 0h1m1 0h1m6 0h4m1 0h1m6 0h2m1 0h1m1 0h1m3 0h1m1 0h1m2 0h1m4 0h1m5 0h1m3 0h1m1 0h1m3 0h2m6 0h1m1 0h1m3 0h2m1 0h2m5 0h2M8 16.8h1m5 0h1m1 0h1m6 0h4m1 0h1m6 0h4m1 0h2m2 0h3m2 0h1m4 0h1m3 0h1m1 0h1m3 0h1m1 0h1m3 0h2m2 0h1m3 0h1m1 0h1m3 0h1m2 0h2m5 0h2M8 18.4h1m5 0h1m1 0h1m6 0h4m1 0h1m3 0h2m1 0h6m1 0h1m1 0h1m4 0h1m4 0h1m5 0h1m3 0h1m5 0h2m3 0h1m2 0h3m3 0h2m1 0h2m5 0h2M8 20h1m5 0h1m1 0h1m6 0h1m1 0h2m1 0h1m6 0h1m2 0h1m1 0h2m2 0h1m4 0h1m4 0h1m2 0h2m1 0h1m3 0h1m5 0h2m6 0h1m1 0h1m3 0h2m1 0h2m5 0h1M8 21.6h1m5 0h1m1 0h1m5 0h2m1 0h2m1 0h1m3 0h1m2 0h1m2 0h1m1 0h2m2 0h1m1 0h1m7 0h1m5 0h1m3 0h1m5 0h1m4 0h1m2 0h1m1 0h1m2 0h3m2 0h2m4 0h2M0 23.2h1m6 0h2m5 0h1m1 0h1m6 0h1m2 0h1m1 0h1m3 0h1m2 0h2m1 0h1m1 0h2m2 0h2m3 0h1m4 0h1m5 0h1m3 0h1m5 0h1m4 0h1m4 0h1m4 0h1m1 0h2m5 0h1M8 24.8h1m5 0h1m1 0h1m6 0h1m2 0h1m1 0h1m3 0h1m2 0h2m1 0h1m1 0h2m2 0h1m1 0h1m7 0h1m3 0h1m1 0h1m3 0h1m1 0h1m3 0h1m4 0h1m2 0h1m1 0h1m2 0h2m1 0h1m1 0h1m4 0h2M8 26.4h1m5 0h1m1 0h1m6 0h4m1 0h1m6 0h2m1 0h1m1 0h2m2 0h3m2 0h1m4 0h1m2 0h1m2 0h1m3 0h1m1 0h1m3 0h2m6 0h1m1 0h1m3 0h1m3 0h1m5 0h2M8 28h1m5 0h1m1 0h1m6 0h1m2 0h1m1 0h1m6 0h2m1 0h1m1 0h2m2 0h2m8 0h1m5 0h2m2 0h1m1 0h1m3 0h2m6 0h1m5 0h2m1 0h3m4 0h2M8 29.6h1m5 0h1m1 0h1m6 0h2m1 0h1m1 0h1m6 0h1m2 0h1m1 0h2m2 0h2m3 0h1m4 0h1m3 0h1m1 0h1m3 0h1m5 0h1m7 0h1m2 0h1m2 0h2m1 0h2m5 0h2M8 31.2h1m5 0h1m1 0h1m6 0h1m2 0h1m1 0h1m3 0h1m2 0h2m1 0h1m1 0h1m3 0h2m8 0h2m4 0h1m1 0h1m1 0h1m5 0h2m6 0h1m1 0h1m3 0h2m2 0h1m5 0h1M8 32.8h1m5 0h1m1 0h1m7 0h3m1 0h1m6 0h1m2 0h1m1 0h2m2 0h2m8 0h1m5 0h1m1 0h1m2 0h2m3 0h1m7 0h1m1 0h1m3 0h2m2 0h1m5 0h2M8 34.4h1m5 0h1m1 0h1m6 0h1m1 0h2m1 0h1m6 0h1m2 0h1m1 0h1m3 0h2m3 0h1m4 0h1m5 0h1m3 0h1m5 0h1m7 0h1m1 0h1m3 0h1m2 0h1m6 0h1M8 36h1m5 0h1m1 0h1m6 0h1m2 0h1m1 0h1m5 0h1m1 0h1m1 0h1m1 0h1m3 0h2m8 0h1m5 0h1m2 0h1m2 0h1m3 0h2m6 0h1m1 0h1m3 0h2m1 0h2m5 0h1M8 37.6h1m5 0h1m1 0h1m6 0h4m1 0h1m1 0h1m1 0h1m2 0h2m1 0h1m1 0h1m3 0h2m8 0h1m3 0h1m1 0h1m3 0h1m1 0h1m3 0h1m4 0h1m2 0h1m1 0h1m3 0h2m2 0h1m5 0h1M8 39.2h1m4 0h2m1 0h2m5 0h1m1 0h2m1 0h1m6 0h1m2 0h1m1 0h2m2 0h2m3 0h1m4 0h1m6 0h1m2 0h1m5 0h1m6 0h2m1 0h1m3 0h1m3 0h1m5 0h2M8 40.8h1m7 0h1m6 0h2m1 0h1m1 0h1m3 0h1m2 0h2m1 0h1m1 0h1m6 0h1m1 0h1m3 0h2m5 0h1m3 0h1m1 0h1m3 0h1m4 0h1m2 0h1m4 0h2m3 0h1m5 0h1M8 42.4h1m5 0h1m1 0h1m6 0h4m1 0h1m6 0h2m1 0h1m1 0h1m3 0h2m3 0h1m4 0h1m5 0h1m3 0h1m1 0h2m2 0h2m3 0h1m2 0h1m1 0h1m6 0h2m5 0h1M8 44h1m5 0h1m1 0h1m6 0h4m1 0h1m5 0h3m1 0h1m1 0h1m2 0h3m8 0h1m5 0h1m2 0h2m1 0h1m3 0h2m6 0h1m1 0h1m3 0h2m2 0h1m6 0h1M8 45.6h1m14 0h4m1 0h1m3 0h1m2 0h2m1 0h1m1 0h1m3 0h4m1 0h1m4 0h1m5 0h1m3 0h3m3 0h3m2 0h1m2 0h1m1 0h1m3 0h1m3 0h1m5 0h2M14 47.2h1m1 0h1m6 0h4m1 0h1m6 0h1m2 0h1m1 0h2m2 0h2m8 0h1m3 0h1m1 0h1m3 0h1m5 0h2m6 0h1m1 0h1m3 0h2m2 0h1m5 0h1M8 48.8h1m5 0h1m1 0h1m6 0h4m1 0h1m3 0h1m2 0h2m1 0h1m1 0h2m2 0h3m2 0h1m4 0h1m5 0h1m3 0h1m1 0h1m3 0h2m4 0h3m1 0h1m3 0h1m2 0h2m5 0h2M8 50.4h1m5 0h1m1 0h1m6 0h4m1 0h2m2 0h1m2 0h2m3 0h2m2 0h2m3 0h1m4 0h1m3 0h1m1 0h1m3 0h1m5 0h2m3 0h1m2 0h1m1 0h1m3 0h2m1 0h2m5 0h1M8 52h1m5 0h1m1 0h1m6 0h1m1 0h2m1 0h1m2 0h1m3 0h2m1 0h1m1 0h2m2 0h3m7 0h1m2 0h1m2 0h1m3 0h1m9 0h2m2 0h1m1 0h2m2 0h2m2 0h1m5 0h2M8 53.6h1m5 0h1m1 0h1m6 0h3m5 0h2m2 0h4m1 0h1m3 0h2m8 0h2m2 0h3m9 0h2m4 0h1m1 0h3m3 0h1m2 0h1m6 0h1M8 55.2h2m4 0h1m1 0h1m6 0h3m2 0h1m6 0h2m1 0h1m1 0h1m3 0h2m8 0h1m3 0h1m1 0h1m3 0h1m5 0h2m8 0h1m3 0h2m2 0h1m5 0h1M8 56.8h1m5 0h1m1 0h1m6 0h4m1 0h1m6 0h1m2 0h1m4 0h4m7 0h1m4 0h2m3 0h1m5 0h1m7 0h1m1 0h1m4 0h1m2 0h1m5 0h2M5 58.4h1m2 0h1m5 0h1m8 0h4m1 0h1m6 0h2m1 0h1m1 0h2m2 0h1m10 0h1m2 0h1m1 0h1m3 0h4m1 0h2m7 0h1m1 0h1m3 0h2m2 0h1m5 0h1M8 60h1m5 0h3m6 0h2m1 0h1m1 0h1m6 0h1m2 0h1m1 0h2m2 0h1m1 0h1m7 0h1m5 0h1m3 0h1m5 0h2m3 0h1m2 0h1m5 0h1m2 0h2m5 0h1M8 61.6h1m5 0h1m8 0h4m1 0h1m6 0h4m5 0h1m1 0h1m7 0h1m3 0h1m1 0h1m2 0h2m1 0h1m3 0h1m4 0h1m2 0h2m4 0h2m1 0h2m5 0h2M8 63.2h1m5 0h1m1 0h1m6 0h1m1 0h2m1 0h1m6 0h1m2 0h1m1 0h1m3 0h3m7 0h1m5 0h1m3 0h1m2 0h1m2 0h1m4 0h1m1 0h2m1 0h1m3 0h1m2 0h2m5 0h1M8 64.8h1m5 0h1m1 0h1m6 0h3m2 0h1m3 0h1m2 0h2m1 0h1m1 0h2m2 0h2m8 0h1m5 0h1m3 0h3m3 0h1m4 0h1m2 0h1m1 0h1m3 0h1m2 0h2m5 0h2M14 66.4h1m1 0h1m5 0h3m1 0h1m1 0h1m3 0h1m3 0h3m1 0h1m3 0h1m1 0h1m2 0h1m4 0h1m5 0h1m3 0h1m5 0h1m5 0h3m1 0h1m3 0h2m2 0h1m5 0h2M8 68h1m5 0h1m1 0h1m6 0h6m6 0h1m4 0h1m3 0h1m1 0h1m2 0h1m4 0h1m5 0h1m3 0h1m5 0h1m7 0h1m1 0h1m3 0h2m2 0h1m5 0h2M8 69.6h2m6 0h1m6 0h1m2 0h1m1 0h1m3 0h1m2 0h1m2 0h1m1 0h1m3 0h2m8 0h1m5 0h1m3 0h1m5 0h1m4 0h1m2 0h1m1 0h1m3 0h2m1 0h2m2 0h1m2 0h2M8 71.2h1m5 0h1m1 0h1m6 0h1m2 0h1m1 0h1m6 0h1m2 0h1m1 0h2m2 0h1m4 0h1m4 0h1m5 0h1m5 0h1m3 0h1m4 0h1m2 0h1m1 0h1m3 0h2m1 0h2m5 0h2M8 72.8h1m14 0h1m2 0h1m1 0h1m6 0h2m1 0h1m1 0h2m2 0h4m1 0h1m4 0h1m5 0h1m3 0h1m5 0h2m6 0h1m1 0h1m3 0h1m3 0h1m5 0h1M7 74.4h2m5 0h1m1 0h1m6 0h1m1 0h3m5 0h3m2 0h1m1 0h1m4 0h1m3 0h1m4 0h1m2 0h2m1 0h1m3 0h1m1 0h1m3 0h1m4 0h1m1 0h2m1 0h1m3 0h2m1 0h2m5 0h1M8 76h1m5 0h1m8 0h1m2 0h1m1 0h1m6 0h2m1 0h2m1 0h1m2 0h3m2 0h1m4 0h1m5 0h1m3 0h1m5 0h2m3 0h1m2 0h4m2 0h1m2 0h2m5 0h2M8 77.6h1m5 0h1m8 0h4m1 0h1m6 0h2m1 0h3m3 0h2m8 0h1m3 0h1m1 0h1m3 0h1m5 0h2m3 0h1m2 0h1m1 0h1m3 0h2m2 0h1m5 0h2M8 79.2h1m5 0h1m1 0h1m6 0h1m2 0h4m6 0h1m1 0h1m1 0h1m3 0h2m3 0h1m4 0h1m5 0h1m9 0h2m3 0h1m2 0h1m1 0h1m3 0h2m1 0h2m5 0h1M4 80.8h3m1 0h1m5 0h1m1 0h1m6 0h4m1 0h1m3 0h1m2 0h4m1 0h2m2 0h3m1 0h2m4 0h1m5 0h1m3 0h1m1 0h1m3 0h1m4 0h1m2 0h1m1 0h1m3 0h2m1 0h2m5 0h1M8 82.4h1m7 0h2m5 0h4m8 0h4m1 0h2m2 0h2m3 0h1m4 0h1m3 0h1m1 0h1m3 0h1m6 0h1m3 0h1m2 0h1m1 0h1m3 0h2m2 0h1m5 0h1M8 84h1m5 0h1m1 0h2m5 0h1m2 0h1m1 0h1m3 0h1m2 0h1m2 0h1m1 0h2m2 0h1m9 0h1m5 0h1m3 0h1m5 0h1m7 0h1m1 0h1m3 0h1m3 0h1m5 0h2M8 85.6h1m5 0h1m1 0h1m6 0h4m1 0h1m6 0h1m2 0h1m1 0h1m3 0h1m1 0h1m2 0h1m4 0h1m5 0h1m3 0h1m5 0h2m3 0h1m2 0h3m3 0h1m2 0h2m5 0h1M8 87.2h1m4 0h2m1 0h1m6 0h2m1 0h1m1 0h1m6 0h2m1 0h1m1 0h1m3 0h3m7 0h1m3 0h1m1 0h2m2 0h2m4 0h1m7 0h1m1 0h1m3 0h2m2 0h1m5 0h2M8 88.8h1m5 0h1m1 0h1m7 0h3m1 0h1m6 0h2m1 0h1m1 0h2m2 0h4m6 0h1m5 0h1m5 0h1m11 0h1m1 0h1m3 0h1m3 0h1m5 0h1M7 90.4h2m5 0h3m6 0h4m1 0h1m6 0h2m1 0h1m1 0h2m2 0h2m3 0h1m8 0h1m1 0h1m3 0h1m2 0h1m2 0h1m4 0h1m2 0h3m3 0h2m1 0h2m5 0h2M8 92h1m5 0h1m1 0h1m6 0h1m2 0h1m8 0h1m2 0h1m1 0h2m2 0h4m6 0h1m3 0h1m2 0h1m2 0h1m5 0h2m6 0h1m1 0h1m7 0h1m5 0h2M8 93.6h1m5 0h1m1 0h1m6 0h1m2 0h1m1 0h1m6 0h4m1 0h1m3 0h2m8 0h1m5 0h1m3 0h1m1 0h1m8 0h1m2 0h1m1 0h1m3 0h2m2 0h1m5 0h2M1 95.2h1m6 0h1m5 0h1m8 0h4m1 0h1m6 0h2m1 0h1m1 0h1m3 0h1m1 0h1m7 0h1m5 0h1m5 0h1m3 0h1m4 0h1m2 0h1m1 0h1m3 0h1m9 0h2M5 96.8h1m2 0h1m5 0h1m1 0h1m6 0h2m1 0h1m1 0h1m6 0h1m2 0h1m1 0h1m2 0h2m9 0h1m5 0h1m3 0h1m5 0h1m7 0h1m1 0h1m2 0h3m1 0h2m5 0h2M8 98.4h1m5 0h1m1 0h1m6 0h4m1 0h1m6 0h3m2 0h1m3 0h3m5 0h1m1 0h1m5 0h1m3 0h1m10 0h1m2 0h3m3 0h2m2 0h1m5 0h2M8 100h1m5 0h1m8 0h4m1 0h1m7 0h1m1 0h1m1 0h2m2 0h2m8 0h1m1 0h1m3 0h1m6 0h1m2 0h1m4 0h1m2 0h1m1 0h1m3 0h2m2 0h1m4 0h3M8 101.6h1m5 0h1m1 0h1m8 0h2m1 0h1m3 0h1m2 0h1m1 0h2m1 0h2m1 0h1m1 0h1m8 0h1m5 0h1m3 0h1m5 0h1m4 0h1m2 0h1m1 0h1m3 0h1m2 0h2m5 0h2M8 103.2h1m5 0h1m1 0h1m5 0h5m1 0h1m6 0h1m2 0h1m1 0h2m2 0h2m8 0h1m5 0h1m3 0h1m1 0h2m1 0h2m1 0h1m5 0h1m1 0h2m2 0h1m3 0h1m5 0h2M8 104.8h1m5 0h1m1 0h1m6 0h1m2 0h1m1 0h1m3 0h1m2 0h4m1 0h2m2 0h2m3 0h1m4 0h1m5 0h1m3 0h1m5 0h1m1 0h1m5 0h1m1 0h1m3 0h1m3 0h1m1 0h1m3 0h2M8 106.4h1m5 0h1m1 0h1m2 0h2m2 0h1m1 0h2m1 0h1m6 0h4m1 0h1m12 0h2m5 0h1m3 0h1m5 0h1m7 0h1m1 0h1m3 0h1m3 0h1m5 0h2M8 108h1m7 0h1m9 0h1m1 0h1m3 0h1m3 0h1m1 0h1m1 0h2m2 0h1m9 0h1m3 0h1m1 0h1m3 0h1m5 0h1m7 0h1m1 0h1m3 0h1m2 0h2m5 0h1M1 109.6h1m6 0h1m3 0h1m1 0h1m1 0h1m6 0h4m1 0h1m2 0h1m3 0h4m1 0h2m2 0h2m8 0h1m3 0h1m1 0h1m3 0h1m1 0h3m2 0h1m6 0h1m1 0h1m3 0h2m2 0h1m5 0h2M8 111.2h1m5 0h1m1 0h1m6 0h1m1 0h2m1 0h1m2 0h2m2 0h1m2 0h1m1 0h2m2 0h4m1 0h1m4 0h1m5 0h1m3 0h1m1 0h1m3 0h1m4 0h1m2 0h1m1 0h1m3 0h2m2 0h1m5 0h1M8 112.8h2m4 0h1m1 0h1m6 0h4m1 0h1m6 0h1m2 0h1m1 0h2m3 0h2m7 0h1m5 0h1m3 0h1m1 0h1m3 0h2m6 0h1m1 0h1m3 0h2m1 0h3M8 114.4h2m4 0h1m1 0h1m6 0h3m2 0h1m3 0h1m2 0h4m1 0h2m2 0h2m11 0h1m2 0h1m3 0h1m13 0h1m1 0h1m3 0h1m2 0h2m1 0h1m3 0h2M8 116h1m5 0h1m8 0h6m1 0h1m4 0h1m2 0h1m1 0h1m3 0h1m1 0h1m7 0h1m5 0h1m3 0h1m5 0h2m6 0h1m1 0h1m7 0h1m5 0h1M8 117.6h1m5 0h1m1 0h1m6 0h4m1 0h1m3 0h1m2 0h4m1 0h2m2 0h1m9 0h1m5 0h1m4 0h1m4 0h1m4 0h1m2 0h1m1 0h1m3 0h1m2 0h2m5 0h2M8 119.2h1m5 0h1m1 0h1m6 0h1m2 0h1m1 0h1m3 0h1m2 0h1m2 0h1m1 0h1m3 0h3m2 0h1m4 0h1m5 0h1m3 0h1m5 0h1m7 0h1m1 0h1m4 0h1m1 0h2m5 0h1"/><path stroke="#45a04c" stroke-width="1.7" d="M9 0.8h1m13 0h1m13 0h1m9 0h1m11 0h1m23 0h1M47 2.4h1m31 0h1m3 0h2M47 4h1m11 0h1m1 0h1m15 0h1m1 0h1M47 5.6h1m11 0h1m1 0h1m7 0h1m4 0h1m1 0h1m2 0h1m3 0h1M15 7.2h1m43 0h1m23 0h1M16 8.8h1m24 0h1m5 0h1m13 0h1m1 0h1m19 0h1m9 0h1M15 10.4h1m31 0h1m11 0h1m1 0h1m3 0h1m13 0h1M47 12h1M53 13.6h1m5 0h1m15 0h1m7 0h1M9 15.2h1m5 0h1m11 0h1m19 0h1m11 0h1m23 0h1M7 16.8h1m39 0h1m11 0h1m19 0h1M27 18.4h1m19 0h1m11 0h1m1 0h1m3 0h1m17 0h1M61 20h1m5 0h1m11 0h1m1 0h1m1 0h1M17 21.6h1m29 0h1m13 0h1M13 23.2h1m33 0h1m13 0h1m16 0h2m3 0h1M22 24.8h1m24 0h1m13 0h1m17 0h1m1 0h1m3 0h1M22 26.4h1m24 0h1m31 0h1m3 0h1M22 28h1m20 0h1m15 0h1m19 0h1M25 29.6h1m21 0h1m7 0h1m3 0h1m1 0h1m17 0h2M33 31.2h2m6 0h1m19 0h1m21 0h1m11 0h1M59 32.8h1m1 0h1m17 0h1M47 34.4h1m11 0h1m1 0h1m17 0h1m5 0h1m2 0h1M47 36h1m31 0h1M9 37.6h1m49 0h1m1 0h1M24 39.2h1m22 0h1m11 0h1m19 0h1M45 40.8h1m13 0h1m1 0h1m17 0h2m6 0h1m7 0h1M47 42.4h1m11 0h1m1 0h1m17 0h1m3 0h2M17 44h1m43 0h1m17 0h1m3 0h1M59 45.6h1m19 0h1m3 0h1m9 0h1M47 47.2h1m13 0h1m13 0h1m3 0h1m3 0h1M13 48.8h1m1 0h1m31 0h1m11 0h1m1 0h1m17 0h1m3 0h1m1 0h1M38 50.4h1m8 0h1m13 0h1m21 0h1m5 0h1M61 52h1m17 0h1M26 53.6h1m20 0h1m13 0h1m2 0h1m18 0h1m1 0h1M32 55.2h1m20 0h1m7 0h1M22 56.8h1m24 0h1m13 0h1m5 0h1m11 0h1m3 0h1M7 58.4h1m8 0h1m44 0h1m15 0h1m17 0h1M59 60h1m1 0h1m5 0h1m11 0h1m3 0h1M41 61.6h1m17 0h1m1 0h1m27 0h1M47 63.2h1m13 0h1m17 0h1m3 0h1M26 64.8h1m20 0h1m11 0h1m1 0h1M8 66.4h1m16 0h1m3 0h1m15 0h1m1 0h1m11 0h1m1 0h1m17 0h1M47 68h1m11 0h1m1 0h1m21 0h1m3 0h1m1 0h1m3 0h1M47 69.6h1m11 0h1m1 0h1m4 0h1m12 0h1m3 0h1M59 71.2h1m1 0h1m2 0h1m14 0h1M16 72.8h1m42 0h1m19 0h1m3 0h1M28 74.4h1m18 0h1m11 0h1m1 0h1m17 0h1m3 0h1m11 0h1M40 76h1m6 0h1m11 0h1m1 0h1M47 77.6h1m11 0h1m1 0h1m4 0h1m12 0h1m1 0h1M24 79.2h2m6 0h1m2 0h1m11 0h1m11 0h1m1 0h1m4 0h2m11 0h1m3 0h1M29 80.8h1m17 0h1m5 0h1m5 0h1m19 0h1M28 82.4h1m18 0h1m11 0h1m1 0h1m17 0h1m3 0h1M27 84h1m3 0h1m29 0h1m3 0h1m1 0h1m1 0h1m1 0h1m4 0h2m1 0h1M33 85.6h2m24 0h1m35 0h1M25 87.2h1m21 0h1m11 0h1m7 0h1m11 0h1m3 0h1M23 88.8h1m19 0h1m15 0h1m15 0h1m3 0h1m3 0h1M47 90.4h1m11 0h1m1 0h1m4 0h1M13 92h1m22 0h2M27 93.6h1m51 0h1m3 0h1M17 95.2h1m14 0h1m14 0h1m11 0h1m1 0h1m3 0h1m13 0h1m3 0h1M47 96.8h1m11 0h1m1 0h1M7 98.4h1m49 0h1m12 0h1m12 0h1M9 100h1m51 0h1m2 0h1m14 0h1M23 101.6h1m20 0h1m2 0h1m11 0h1m1 0h1m17 0h1m3 0h1M47 103.2h1m13 0h1m9 0h1m7 0h1m3 0h1M47 104.8h1m35 0h1M44 106.4h1m2 0h1m13 0h1m21 0h1M7 108h1m15 0h1m11 0h1m11 0h1m11 0h1m23 0h1M27 109.6h1m31 0h1m1 0h1M83 111.2h1m9 0h1M59 112.8h1m1 0h1m19 0h1m1 0h1M26 114.4h1m20 0h1m11 0h1m1 0h1m8 0h2m7 0h1m1 0h1M22 116h1m8 0h1m21 0h1m5 0h1m1 0h1m5 0h1m1 0h1m13 0h1M59 117.6h1m1 0h1m7 0h1M41 119.2h1m17 0h1m1 0h1m13 0h1m7 0h2m8 0h1"/><path stroke="#dcdc50" stroke-width="1.7" d="M18 0.8h1m31 0h1M18 2.4h1M18 4h1M82 7.2h1M18 8.8h1M18 10.4h1m63 0h1M18 12h1M18 13.6h1M18 15.2h1M18 16.8h1M18 18.4h1M18 20h1M18 21.6h1m31 0h1m31 0h1M18 24.8h1M18 26.4h1M18 28h1M18 29.6h1M18 31.2h1M18 32.8h1M18 34.4h1M18 36h1M18 37.6h1m31 0h1M18 39.2h1M18 40.8h1M18 42.4h1M18 44h1m31 0h1M18 45.6h1M18 50.4h1M18 53.6h1m63 0h1M18 55.2h1m31 0h1M18 56.8h1m31 0h1M18 60h1m63 0h1M18 61.6h1M18 66.4h1m63 0h1M18 71.2h1M18 74.4h1M18 76h1m31 0h1M18 77.6h1m63 0h1M18 79.2h1m63 0h1M18 80.8h1M18 82.4h1M18 87.2h1M18 88.8h1M18 93.6h1M50 96.8h1M50 98.4h1M18 101.6h1M18 104.8h1M18 106.4h1m31 0h1M18 108h1m63 0h1M18 109.6h1m31 0h1m31 0h1M18 112.8h1m31 0h1M18 114.4h1M18 117.6h1"/><path stroke="#a4a4a4" stroke-width="1.7" d="M48 0.8h2m1 0h1m34 0h1M3 2.4h1m47 0h1m4 0h1m33 0h3M10 4h2m74 0h1M19 5.6h1m31 0h1m38 0h1M42 7.2h1m8 0h1m34 0h1m3 0h1M1 8.8h1M90 10.4h1M19 12h2m30 0h1m34 0h1m3 0h3M0 13.6h2m84 0h1m3 0h1M56 15.2h1M4 16.8h1m46 0h1m34 0h1M51 18.4h1m34 0h1M10 20h3m38 0h1m34 0h1m3 0h1M51 21.6h1m34 0h1m3 0h1M51 23.2h1m34 0h1M90 24.8h2M2 26.4h2m2 0h1m4 0h1m30 0h1m8 0h1m34 0h1M51 28h1m39 0h1M51 29.6h2m33 0h1M90 31.2h1M51 32.8h1m38 0h1M51 34.4h2m33 0h1M86 36h1m3 0h3M48 37.6h1m37 0h1M51 39.2h1m34 0h1m3 0h1M19 40.8h2m30 0h1m38 0h2M1 42.4h1m18 0h2m29 0h1M0 45.6h1m50 0h2M51 47.2h1m34 0h1m3 0h1M51 48.8h1m10 0h1m23 0h1M86 50.4h1M86 52h1M86 53.6h1m3 0h1M51 55.2h1m21 0h1m12 0h1M51 56.8h1m38 0h2M51 58.4h1m34 0h1m3 0h1M51 60h1m34 0h1m3 0h1M6 61.6h1m44 0h1m38 0h1M3 63.2h3m80 0h1M51 64.8h1m38 0h1M3 66.4h1m47 0h1m34 0h1M42 68h1m8 0h2m33 0h1m3 0h1M4 69.6h1m16 0h1m29 0h2m37 0h1M51 71.2h1m34 0h1M51 72.8h2m37 0h1M21 74.4h1m64 0h1m3 0h1m1 0h1M51 76h1M68 77.6h1m17 0h1m3 0h2M51 79.2h1m34 0h1M51 82.4h1m4 0h1m29 0h1M86 84h1M51 85.6h1m34 0h1m3 0h1M10 87.2h1m40 0h1m21 0h1m12 0h1M21 88.8h1m64 0h1M10 90.4h3m73 0h1m3 0h1M86 92h1m3 0h1M90 93.6h3M51 95.2h1M86 98.4h1m3 0h1M51 100h2m37 0h1M51 101.6h1m34 0h1m3 0h3M86 103.2h1M86 104.8h1M5 106.4h1m66 0h2m12 0h1m3 0h3M1 108h1M51 109.6h1M90 111.2h1M30 112.8h1m11 0h1m8 0h2m33 0h1m3 0h3M86 114.4h1M1 116h1m9 0h1m74 0h1M49 117.6h1m1 0h1M1 119.2h1m49 0h2m19 0h1m13 0h1m3 0h1"/><path stroke="#9cc888" stroke-width="1.7" d="M18 5.6h1M18 7.2h1M50 16.8h1M50 18.4h1M82 28h1M50 31.2h1M18 48.8h1M82 52h1M50 69.6h1M50 71.2h1M18 72.8h1M82 76h1M50 82.4h1M18 96.8h1M82 103.2h1M82 111.2h1"/></g><rect x="141.9" y="516.5" width="1.8" height="3.1" fill="#e3262b"/><rect x="141.9" y="519.6" width="1.8" height="7.2" fill="#9c4a7c"/><rect x="141.9" y="526.7" width="1.8" height="6.2" fill="#6c5c9c"/><rect x="141.9" y="532.8" width="1.8" height="11.2" fill="#4b7cc3"/><rect x="141.9" y="544" width="1.8" height="16.3" fill="#54ad4c"/><rect x="141.9" y="560.2" width="1.8" height="10.2" fill="#6f9c72"/><rect x="141.9" y="570.4" width="1.8" height="5.1" fill="#b4466c"/><rect x="141.9" y="575.5" width="1.8" height="9.2" fill="#f6a12c"/><rect x="141.9" y="584.6" width="1.8" height="4.1" fill="#f2e05c"/><rect x="141.9" y="588.7" width="1.8" height="10.2" fill="#d59a36"/><rect x="141.9" y="598.9" width="1.8" height="5.1" fill="#c8605e"/><rect x="141.9" y="603.9" width="1.8" height="4.1" fill="#dc6078"/><rect x="141.9" y="608" width="1.8" height="4.1" fill="#e254b4"/><rect x="141.9" y="612.1" width="1.8" height="12.3" fill="#cc8ec0"/><rect x="141.9" y="624.3" width="1.8" height="8.2" fill="#a2a2a2"/><rect x="141.9" y="632.4" width="1.8" height="5.1" fill="#231f20"/><text transform="translate(141.3 511.8) rotate(-22)" font-size="6.7" fill="#231f20">33 data sets in IMR90 lung fibroblasts</text><text transform="translate(140.7 614.3) rotate(-90)" font-size="6.5" font-style="italic" fill="#231f20">127 reference epigenomes</text><text transform="translate(135.9 643.8) rotate(21.7)" font-size="6.1" font-style="italic" fill="#231f20">Genome-wide measurements for all marks</text><text transform="translate(247 678.5) rotate(-81)" font-size="6.4" font-style="italic" fill="#231f20">Chromatin states</text><text transform="translate(262 674.6) rotate(-81)" font-size="6.4" font-style="italic" fill="#231f20">RNA-seq</text><text transform="translate(276 660.6) rotate(-81)" font-size="6.4" font-style="italic" fill="#231f20">DNase</text><text transform="translate(284.2 659.3) rotate(-81)" font-size="6.4" font-style="italic" fill="#231f20">H3K4me3</text><text transform="translate(309.4 638.8) rotate(-81)" font-size="6.4" font-style="italic" fill="#231f20">H3K4me1</text><text transform="translate(350 610.8) rotate(-84)" font-size="6.4" font-style="italic" fill="#231f20">WGBS</text></svg></body></html>
